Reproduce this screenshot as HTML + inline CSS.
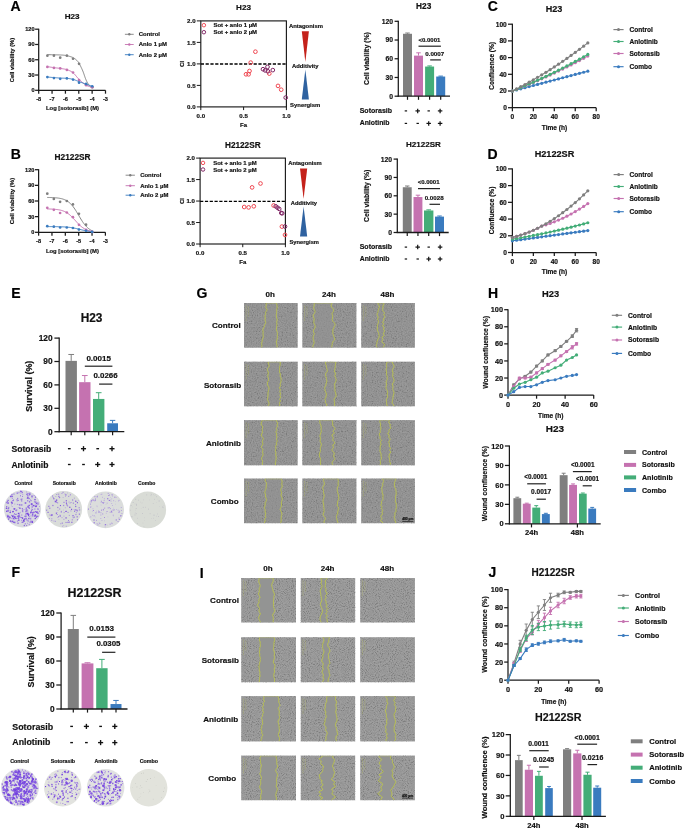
<!DOCTYPE html>
<html><head><meta charset="utf-8"><style>
html,body{margin:0;padding:0;background:#fff;}
svg{display:block;font-family:"Liberation Sans",sans-serif;filter:blur(0.35px);}
</style></head><body>
<svg width="685" height="829" viewBox="0 0 685 829">
<defs>
<filter id="nzG" x="0" y="0" width="100%" height="100%" filterUnits="objectBoundingBox">
 <feTurbulence type="fractalNoise" baseFrequency="0.8" numOctaves="2" seed="3" result="t"/>
 <feColorMatrix in="t" type="matrix" values="2 0 0 0 -0.5  2 0 0 0 -0.5  2 0 0 0 -0.5  0 0 0 0 1"/>
</filter>
<filter id="nzI" x="0" y="0" width="100%" height="100%" filterUnits="objectBoundingBox">
 <feTurbulence type="fractalNoise" baseFrequency="0.93" numOctaves="2" seed="9" result="t"/>
 <feColorMatrix in="t" type="matrix" values="2.4 0 0 0 -0.7  2.4 0 0 0 -0.7  2.4 0 0 0 -0.7  0 0 0 0 1"/>
</filter>
</defs>
<text x="10.60" y="11.40" font-size="14.00" font-weight="bold" text-anchor="start" fill="#000" stroke="#000" stroke-width="0.18">A</text>
<text x="10.80" y="159.00" font-size="14.00" font-weight="bold" text-anchor="start" fill="#000" stroke="#000" stroke-width="0.18">B</text>
<text x="487.80" y="11.40" font-size="14.00" font-weight="bold" text-anchor="start" fill="#000" stroke="#000" stroke-width="0.18">C</text>
<text x="487.60" y="158.90" font-size="14.00" font-weight="bold" text-anchor="start" fill="#000" stroke="#000" stroke-width="0.18">D</text>
<text x="11.20" y="297.90" font-size="14.00" font-weight="bold" text-anchor="start" fill="#000" stroke="#000" stroke-width="0.18">E</text>
<text x="11.60" y="577.00" font-size="14.00" font-weight="bold" text-anchor="start" fill="#000" stroke="#000" stroke-width="0.18">F</text>
<text x="196.60" y="297.60" font-size="14.00" font-weight="bold" text-anchor="start" fill="#000" stroke="#000" stroke-width="0.18">G</text>
<text x="488.00" y="298.30" font-size="14.00" font-weight="bold" text-anchor="start" fill="#000" stroke="#000" stroke-width="0.18">H</text>
<text x="199.80" y="577.50" font-size="14.00" font-weight="bold" text-anchor="start" fill="#000" stroke="#000" stroke-width="0.18">I</text>
<text x="488.60" y="577.30" font-size="14.00" font-weight="bold" text-anchor="start" fill="#000" stroke="#000" stroke-width="0.18">J</text>
<text x="72.10" y="19.00" font-size="8.12" font-weight="bold" text-anchor="middle" fill="#111" stroke="#111" stroke-width="0.18">H23</text>
<line x1="38.70" y1="28.70" x2="38.70" y2="90.80" stroke="#1a1a1a" stroke-width="1.25" stroke-linecap="butt"/>
<line x1="35.10" y1="90.30" x2="38.70" y2="90.30" stroke="#1a1a1a" stroke-width="1.25" stroke-linecap="butt"/>
<text x="34.50" y="92.32" font-size="5.60" font-weight="bold" text-anchor="end" fill="#111" stroke="#111" stroke-width="0.18">0</text>
<line x1="35.10" y1="75.02" x2="38.70" y2="75.02" stroke="#1a1a1a" stroke-width="1.25" stroke-linecap="butt"/>
<text x="34.50" y="77.04" font-size="5.60" font-weight="bold" text-anchor="end" fill="#111" stroke="#111" stroke-width="0.18">30</text>
<line x1="35.10" y1="59.75" x2="38.70" y2="59.75" stroke="#1a1a1a" stroke-width="1.25" stroke-linecap="butt"/>
<text x="34.50" y="61.77" font-size="5.60" font-weight="bold" text-anchor="end" fill="#111" stroke="#111" stroke-width="0.18">60</text>
<line x1="35.10" y1="44.48" x2="38.70" y2="44.48" stroke="#1a1a1a" stroke-width="1.25" stroke-linecap="butt"/>
<text x="34.50" y="46.49" font-size="5.60" font-weight="bold" text-anchor="end" fill="#111" stroke="#111" stroke-width="0.18">90</text>
<line x1="35.10" y1="29.20" x2="38.70" y2="29.20" stroke="#1a1a1a" stroke-width="1.25" stroke-linecap="butt"/>
<text x="34.50" y="31.22" font-size="5.60" font-weight="bold" text-anchor="end" fill="#111" stroke="#111" stroke-width="0.18">120</text>
<line x1="38.20" y1="90.30" x2="105.50" y2="90.30" stroke="#1a1a1a" stroke-width="1.25" stroke-linecap="butt"/>
<line x1="38.70" y1="90.30" x2="38.70" y2="93.70" stroke="#1a1a1a" stroke-width="1.25" stroke-linecap="butt"/>
<text x="38.70" y="100.90" font-size="5.60" font-weight="bold" text-anchor="middle" fill="#111" stroke="#111" stroke-width="0.18">-8</text>
<line x1="52.06" y1="90.30" x2="52.06" y2="93.70" stroke="#1a1a1a" stroke-width="1.25" stroke-linecap="butt"/>
<text x="52.06" y="100.90" font-size="5.60" font-weight="bold" text-anchor="middle" fill="#111" stroke="#111" stroke-width="0.18">-7</text>
<line x1="65.42" y1="90.30" x2="65.42" y2="93.70" stroke="#1a1a1a" stroke-width="1.25" stroke-linecap="butt"/>
<text x="65.42" y="100.90" font-size="5.60" font-weight="bold" text-anchor="middle" fill="#111" stroke="#111" stroke-width="0.18">-6</text>
<line x1="78.78" y1="90.30" x2="78.78" y2="93.70" stroke="#1a1a1a" stroke-width="1.25" stroke-linecap="butt"/>
<text x="78.78" y="100.90" font-size="5.60" font-weight="bold" text-anchor="middle" fill="#111" stroke="#111" stroke-width="0.18">-5</text>
<line x1="92.14" y1="90.30" x2="92.14" y2="93.70" stroke="#1a1a1a" stroke-width="1.25" stroke-linecap="butt"/>
<text x="92.14" y="100.90" font-size="5.60" font-weight="bold" text-anchor="middle" fill="#111" stroke="#111" stroke-width="0.18">-4</text>
<line x1="105.50" y1="90.30" x2="105.50" y2="93.70" stroke="#1a1a1a" stroke-width="1.25" stroke-linecap="butt"/>
<text x="105.50" y="100.90" font-size="5.60" font-weight="bold" text-anchor="middle" fill="#111" stroke="#111" stroke-width="0.18">-3</text>
<text x="72.50" y="110.20" font-size="5.85" font-weight="bold" text-anchor="middle" fill="#111" stroke="#111" stroke-width="0.18">Log [sotorasib] (M)</text>
<text x="14.30" y="60.00" font-size="5.90" font-weight="bold" text-anchor="middle" fill="#111" stroke="#111" stroke-width="0.18" transform="rotate(-90 14.30 60.00)" textLength="44.40" lengthAdjust="spacingAndGlyphs">Cell viability (%)</text>
<path d="M47.38,54.66 L48.08,54.67 L49.00,54.69 L50.10,54.71 L51.33,54.73 L52.64,54.75 L53.99,54.78 L55.32,54.81 L56.59,54.84 L57.74,54.88 L58.74,54.91 L59.60,54.95 L60.38,54.98 L61.09,55.01 L61.75,55.04 L62.37,55.07 L62.97,55.11 L63.56,55.17 L64.16,55.23 L64.77,55.32 L65.42,55.42 L66.10,55.55 L66.80,55.68 L67.51,55.84 L68.22,56.01 L68.93,56.19 L69.62,56.38 L70.29,56.57 L70.94,56.78 L71.54,56.99 L72.10,57.20 L72.61,57.42 L73.09,57.65 L73.53,57.88 L73.95,58.12 L74.34,58.37 L74.71,58.62 L75.07,58.89 L75.42,59.16 L75.76,59.45 L76.11,59.75 L76.44,60.05 L76.75,60.33 L77.04,60.62 L77.32,60.91 L77.59,61.21 L77.87,61.55 L78.14,61.91 L78.43,62.32 L78.73,62.79 L79.05,63.31 L79.39,63.91 L79.75,64.56 L80.12,65.26 L80.51,66.00 L80.89,66.78 L81.28,67.59 L81.67,68.42 L82.05,69.26 L82.43,70.11 L82.79,70.95 L83.14,71.82 L83.48,72.74 L83.82,73.70 L84.15,74.68 L84.48,75.66 L84.81,76.63 L85.14,77.58 L85.47,78.49 L85.80,79.34 L86.13,80.12 L86.47,80.84 L86.81,81.52 L87.15,82.17 L87.50,82.78 L87.84,83.36 L88.18,83.90 L88.52,84.41 L88.84,84.88 L89.16,85.32 L89.47,85.72 L89.77,86.07 L90.09,86.39 L90.40,86.65 L90.71,86.89 L91.01,87.09 L91.30,87.26 L91.56,87.41 L91.79,87.53 L91.98,87.65 L92.14,87.75" stroke="#7f7f7f" stroke-width="0.95" fill="none"/>
<circle cx="47.38" cy="55.68" r="1.35" fill="#7f7f7f"/>
<circle cx="53.93" cy="55.68" r="1.35" fill="#7f7f7f"/>
<circle cx="60.21" cy="57.71" r="1.35" fill="#7f7f7f"/>
<circle cx="66.89" cy="55.68" r="1.35" fill="#7f7f7f"/>
<circle cx="73.04" cy="58.73" r="1.35" fill="#7f7f7f"/>
<circle cx="79.05" cy="63.82" r="1.35" fill="#7f7f7f"/>
<circle cx="86.13" cy="84.70" r="1.35" fill="#7f7f7f"/>
<circle cx="92.27" cy="87.25" r="1.35" fill="#7f7f7f"/>
<path d="M47.38,66.62 L47.77,66.69 L48.28,66.77 L48.88,66.86 L49.54,66.97 L50.26,67.09 L51.02,67.20 L51.78,67.32 L52.53,67.44 L53.26,67.55 L53.93,67.64 L54.57,67.73 L55.20,67.80 L55.82,67.87 L56.44,67.94 L57.06,68.01 L57.68,68.08 L58.30,68.15 L58.93,68.22 L59.57,68.31 L60.21,68.41 L60.86,68.50 L61.53,68.60 L62.20,68.69 L62.88,68.79 L63.56,68.90 L64.24,69.02 L64.91,69.15 L65.58,69.30 L66.24,69.48 L66.89,69.68 L67.53,69.90 L68.16,70.12 L68.78,70.35 L69.39,70.60 L70.00,70.87 L70.61,71.17 L71.22,71.50 L71.82,71.87 L72.43,72.28 L73.04,72.73 L73.64,73.25 L74.23,73.84 L74.81,74.48 L75.40,75.16 L75.98,75.87 L76.57,76.59 L77.17,77.31 L77.78,78.02 L78.40,78.71 L79.05,79.35 L79.72,79.99 L80.41,80.63 L81.13,81.29 L81.85,81.93 L82.59,82.57 L83.32,83.18 L84.05,83.76 L84.76,84.29 L85.46,84.78 L86.13,85.21 L86.80,85.58 L87.49,85.89 L88.20,86.16 L88.90,86.40 L89.58,86.59 L90.22,86.76 L90.81,86.90 L91.34,87.03 L91.79,87.14 L92.14,87.25" stroke="#c572b0" stroke-width="0.95" fill="none"/>
<circle cx="47.38" cy="66.88" r="1.35" fill="#c572b0"/>
<circle cx="53.93" cy="67.90" r="1.35" fill="#c572b0"/>
<circle cx="60.21" cy="68.41" r="1.35" fill="#c572b0"/>
<circle cx="66.89" cy="69.93" r="1.35" fill="#c572b0"/>
<circle cx="73.04" cy="72.48" r="1.35" fill="#c572b0"/>
<circle cx="79.05" cy="80.12" r="1.35" fill="#c572b0"/>
<circle cx="86.13" cy="85.21" r="1.35" fill="#c572b0"/>
<circle cx="92.27" cy="87.25" r="1.35" fill="#c572b0"/>
<path d="M47.38,77.06 L47.77,77.09 L48.28,77.13 L48.88,77.18 L49.54,77.23 L50.26,77.28 L51.02,77.34 L51.78,77.40 L52.53,77.46 L53.26,77.52 L53.93,77.57 L54.57,77.62 L55.20,77.68 L55.82,77.73 L56.44,77.79 L57.06,77.84 L57.68,77.89 L58.30,77.95 L58.93,77.99 L59.57,78.04 L60.21,78.08 L60.86,78.11 L61.53,78.13 L62.20,78.15 L62.88,78.16 L63.56,78.18 L64.24,78.19 L64.91,78.21 L65.58,78.24 L66.24,78.28 L66.89,78.33 L67.53,78.40 L68.16,78.47 L68.78,78.54 L69.39,78.63 L70.00,78.72 L70.61,78.82 L71.22,78.93 L71.82,79.06 L72.43,79.20 L73.04,79.35 L73.64,79.53 L74.23,79.73 L74.81,79.94 L75.40,80.17 L75.98,80.40 L76.57,80.65 L77.17,80.90 L77.78,81.15 L78.40,81.40 L79.05,81.64 L79.72,81.89 L80.41,82.15 L81.13,82.41 L81.85,82.67 L82.59,82.93 L83.32,83.20 L84.05,83.46 L84.76,83.71 L85.46,83.95 L86.13,84.19 L86.80,84.42 L87.49,84.66 L88.20,84.90 L88.90,85.14 L89.58,85.37 L90.22,85.58 L90.81,85.78 L91.34,85.96 L91.79,86.11 L92.14,86.23" stroke="#3a7bbf" stroke-width="0.95" fill="none"/>
<circle cx="47.38" cy="77.06" r="1.35" fill="#3a7bbf"/>
<circle cx="53.93" cy="78.08" r="1.35" fill="#3a7bbf"/>
<circle cx="60.21" cy="78.79" r="1.35" fill="#3a7bbf"/>
<circle cx="66.89" cy="78.39" r="1.35" fill="#3a7bbf"/>
<circle cx="73.04" cy="79.61" r="1.35" fill="#3a7bbf"/>
<circle cx="79.05" cy="82.66" r="1.35" fill="#3a7bbf"/>
<circle cx="86.13" cy="83.94" r="1.35" fill="#3a7bbf"/>
<circle cx="92.27" cy="86.23" r="1.35" fill="#3a7bbf"/>
<line x1="124.90" y1="34.30" x2="133.70" y2="34.30" stroke="#7f7f7f" stroke-width="0.9" stroke-linecap="butt"/>
<circle cx="129.30" cy="34.30" r="1.20" fill="#7f7f7f"/>
<text x="138.80" y="36.20" font-size="5.95" font-weight="bold" text-anchor="start" fill="#111" stroke="#111" stroke-width="0.18">Control</text>
<line x1="124.90" y1="44.50" x2="133.70" y2="44.50" stroke="#c572b0" stroke-width="0.9" stroke-linecap="butt"/>
<circle cx="129.30" cy="44.50" r="1.20" fill="#c572b0"/>
<text x="138.80" y="46.40" font-size="5.95" font-weight="bold" text-anchor="start" fill="#111" stroke="#111" stroke-width="0.18">Anlo 1 µM</text>
<line x1="124.90" y1="54.70" x2="133.70" y2="54.70" stroke="#3a7bbf" stroke-width="0.9" stroke-linecap="butt"/>
<circle cx="129.30" cy="54.70" r="1.20" fill="#3a7bbf"/>
<text x="138.80" y="56.60" font-size="5.95" font-weight="bold" text-anchor="start" fill="#111" stroke="#111" stroke-width="0.18">Anlo 2 µM</text>
<text x="72.60" y="159.60" font-size="8.30" font-weight="bold" text-anchor="middle" fill="#111" stroke="#111" stroke-width="0.18">H2122SR</text>
<line x1="38.60" y1="169.20" x2="38.60" y2="232.80" stroke="#1a1a1a" stroke-width="1.25" stroke-linecap="butt"/>
<line x1="35.00" y1="232.30" x2="38.60" y2="232.30" stroke="#1a1a1a" stroke-width="1.25" stroke-linecap="butt"/>
<text x="34.40" y="234.32" font-size="5.60" font-weight="bold" text-anchor="end" fill="#111" stroke="#111" stroke-width="0.18">0</text>
<line x1="35.00" y1="216.65" x2="38.60" y2="216.65" stroke="#1a1a1a" stroke-width="1.25" stroke-linecap="butt"/>
<text x="34.40" y="218.67" font-size="5.60" font-weight="bold" text-anchor="end" fill="#111" stroke="#111" stroke-width="0.18">30</text>
<line x1="35.00" y1="201.00" x2="38.60" y2="201.00" stroke="#1a1a1a" stroke-width="1.25" stroke-linecap="butt"/>
<text x="34.40" y="203.02" font-size="5.60" font-weight="bold" text-anchor="end" fill="#111" stroke="#111" stroke-width="0.18">60</text>
<line x1="35.00" y1="185.35" x2="38.60" y2="185.35" stroke="#1a1a1a" stroke-width="1.25" stroke-linecap="butt"/>
<text x="34.40" y="187.37" font-size="5.60" font-weight="bold" text-anchor="end" fill="#111" stroke="#111" stroke-width="0.18">90</text>
<line x1="35.00" y1="169.70" x2="38.60" y2="169.70" stroke="#1a1a1a" stroke-width="1.25" stroke-linecap="butt"/>
<text x="34.40" y="171.72" font-size="5.60" font-weight="bold" text-anchor="end" fill="#111" stroke="#111" stroke-width="0.18">120</text>
<line x1="38.10" y1="232.30" x2="105.40" y2="232.30" stroke="#1a1a1a" stroke-width="1.25" stroke-linecap="butt"/>
<line x1="38.60" y1="232.30" x2="38.60" y2="235.70" stroke="#1a1a1a" stroke-width="1.25" stroke-linecap="butt"/>
<text x="38.60" y="242.90" font-size="5.60" font-weight="bold" text-anchor="middle" fill="#111" stroke="#111" stroke-width="0.18">-8</text>
<line x1="51.96" y1="232.30" x2="51.96" y2="235.70" stroke="#1a1a1a" stroke-width="1.25" stroke-linecap="butt"/>
<text x="51.96" y="242.90" font-size="5.60" font-weight="bold" text-anchor="middle" fill="#111" stroke="#111" stroke-width="0.18">-7</text>
<line x1="65.32" y1="232.30" x2="65.32" y2="235.70" stroke="#1a1a1a" stroke-width="1.25" stroke-linecap="butt"/>
<text x="65.32" y="242.90" font-size="5.60" font-weight="bold" text-anchor="middle" fill="#111" stroke="#111" stroke-width="0.18">-6</text>
<line x1="78.68" y1="232.30" x2="78.68" y2="235.70" stroke="#1a1a1a" stroke-width="1.25" stroke-linecap="butt"/>
<text x="78.68" y="242.90" font-size="5.60" font-weight="bold" text-anchor="middle" fill="#111" stroke="#111" stroke-width="0.18">-5</text>
<line x1="92.04" y1="232.30" x2="92.04" y2="235.70" stroke="#1a1a1a" stroke-width="1.25" stroke-linecap="butt"/>
<text x="92.04" y="242.90" font-size="5.60" font-weight="bold" text-anchor="middle" fill="#111" stroke="#111" stroke-width="0.18">-4</text>
<line x1="105.40" y1="232.30" x2="105.40" y2="235.70" stroke="#1a1a1a" stroke-width="1.25" stroke-linecap="butt"/>
<text x="105.40" y="242.90" font-size="5.60" font-weight="bold" text-anchor="middle" fill="#111" stroke="#111" stroke-width="0.18">-3</text>
<text x="72.40" y="252.60" font-size="5.85" font-weight="bold" text-anchor="middle" fill="#111" stroke="#111" stroke-width="0.18">Log [sotorasib] (M)</text>
<text x="13.80" y="201.00" font-size="6.10" font-weight="bold" text-anchor="middle" fill="#111" stroke="#111" stroke-width="0.18" transform="rotate(-90 13.80 201.00)" textLength="46.30" lengthAdjust="spacingAndGlyphs">Cell viability (%)</text>
<path d="M47.28,197.44 L48.03,197.46 L48.78,197.47 L49.52,197.49 L50.27,197.51 L51.01,197.54 L51.76,197.57 L52.51,197.60 L53.25,197.64 L54.00,197.68 L54.74,197.73 L55.49,197.79 L56.24,197.85 L56.98,197.93 L57.73,198.01 L58.47,198.11 L59.22,198.23 L59.96,198.36 L60.71,198.50 L61.46,198.67 L62.20,198.86 L62.95,199.08 L63.69,199.33 L64.44,199.62 L65.19,199.94 L65.93,200.30 L66.68,200.70 L67.42,201.16 L68.17,201.67 L68.92,202.23 L69.66,202.86 L70.41,203.56 L71.15,204.32 L71.90,205.15 L72.65,206.04 L73.39,207.01 L74.14,208.04 L74.88,209.13 L75.63,210.28 L76.38,211.48 L77.12,212.71 L77.87,213.96 L78.61,215.23 L79.36,216.50 L80.11,217.76 L80.85,219.00 L81.60,220.20 L82.34,221.36 L83.09,222.46 L83.83,223.50 L84.58,224.48 L85.33,225.39 L86.07,226.23 L86.82,227.00 L87.56,227.71 L88.31,228.35 L89.06,228.93 L89.80,229.45 L90.55,229.91 L91.29,230.33 L92.04,230.69" stroke="#7f7f7f" stroke-width="0.95" fill="none"/>
<circle cx="47.28" cy="193.70" r="1.35" fill="#7f7f7f"/>
<circle cx="53.83" cy="198.91" r="1.35" fill="#7f7f7f"/>
<circle cx="60.11" cy="201.78" r="1.35" fill="#7f7f7f"/>
<circle cx="66.79" cy="201.00" r="1.35" fill="#7f7f7f"/>
<circle cx="72.94" cy="204.39" r="1.35" fill="#7f7f7f"/>
<circle cx="78.95" cy="213.78" r="1.35" fill="#7f7f7f"/>
<circle cx="86.03" cy="224.68" r="1.35" fill="#7f7f7f"/>
<circle cx="92.17" cy="231.88" r="1.35" fill="#7f7f7f"/>
<path d="M47.28,208.94 L48.03,208.96 L48.78,208.98 L49.52,209.00 L50.27,209.03 L51.01,209.06 L51.76,209.09 L52.51,209.13 L53.25,209.18 L54.00,209.23 L54.74,209.29 L55.49,209.36 L56.24,209.44 L56.98,209.53 L57.73,209.63 L58.47,209.75 L59.22,209.88 L59.96,210.03 L60.71,210.20 L61.46,210.40 L62.20,210.62 L62.95,210.87 L63.69,211.15 L64.44,211.46 L65.19,211.81 L65.93,212.20 L66.68,212.63 L67.42,213.10 L68.17,213.62 L68.92,214.18 L69.66,214.79 L70.41,215.44 L71.15,216.13 L71.90,216.87 L72.65,217.63 L73.39,218.42 L74.14,219.23 L74.88,220.05 L75.63,220.88 L76.38,221.71 L77.12,222.53 L77.87,223.32 L78.61,224.09 L79.36,224.83 L80.11,225.53 L80.85,226.19 L81.60,226.81 L82.34,227.38 L83.09,227.91 L83.83,228.39 L84.58,228.83 L85.33,229.23 L86.07,229.59 L86.82,229.91 L87.56,230.19 L88.31,230.45 L89.06,230.68 L89.80,230.88 L90.55,231.06 L91.29,231.21 L92.04,231.35" stroke="#c572b0" stroke-width="0.95" fill="none"/>
<circle cx="47.28" cy="207.78" r="1.35" fill="#c572b0"/>
<circle cx="53.83" cy="209.87" r="1.35" fill="#c572b0"/>
<circle cx="60.11" cy="213.00" r="1.35" fill="#c572b0"/>
<circle cx="66.79" cy="212.48" r="1.35" fill="#c572b0"/>
<circle cx="72.94" cy="217.17" r="1.35" fill="#c572b0"/>
<circle cx="78.95" cy="224.79" r="1.35" fill="#c572b0"/>
<circle cx="86.03" cy="229.90" r="1.35" fill="#c572b0"/>
<circle cx="92.17" cy="231.88" r="1.35" fill="#c572b0"/>
<path d="M47.28,226.58 L48.03,226.58 L48.78,226.59 L49.52,226.59 L50.27,226.60 L51.01,226.60 L51.76,226.61 L52.51,226.61 L53.25,226.62 L54.00,226.63 L54.74,226.63 L55.49,226.64 L56.24,226.66 L56.98,226.67 L57.73,226.68 L58.47,226.70 L59.22,226.72 L59.96,226.74 L60.71,226.76 L61.46,226.79 L62.20,226.82 L62.95,226.85 L63.69,226.89 L64.44,226.93 L65.19,226.98 L65.93,227.03 L66.68,227.09 L67.42,227.15 L68.17,227.22 L68.92,227.30 L69.66,227.39 L70.41,227.48 L71.15,227.59 L71.90,227.70 L72.65,227.82 L73.39,227.95 L74.14,228.09 L74.88,228.24 L75.63,228.40 L76.38,228.56 L77.12,228.73 L77.87,228.91 L78.61,229.09 L79.36,229.27 L80.11,229.45 L80.85,229.64 L81.60,229.82 L82.34,230.00 L83.09,230.17 L83.83,230.34 L84.58,230.50 L85.33,230.66 L86.07,230.81 L86.82,230.94 L87.56,231.07 L88.31,231.19 L89.06,231.30 L89.80,231.40 L90.55,231.50 L91.29,231.58 L92.04,231.66" stroke="#3a7bbf" stroke-width="0.95" fill="none"/>
<circle cx="47.28" cy="226.20" r="1.35" fill="#3a7bbf"/>
<circle cx="53.83" cy="226.72" r="1.35" fill="#3a7bbf"/>
<circle cx="60.11" cy="227.50" r="1.35" fill="#3a7bbf"/>
<circle cx="66.79" cy="227.50" r="1.35" fill="#3a7bbf"/>
<circle cx="72.94" cy="228.02" r="1.35" fill="#3a7bbf"/>
<circle cx="78.95" cy="229.59" r="1.35" fill="#3a7bbf"/>
<circle cx="86.03" cy="230.74" r="1.35" fill="#3a7bbf"/>
<circle cx="92.17" cy="231.88" r="1.35" fill="#3a7bbf"/>
<line x1="125.60" y1="175.20" x2="134.90" y2="175.20" stroke="#7f7f7f" stroke-width="0.9" stroke-linecap="butt"/>
<circle cx="130.25" cy="175.20" r="1.20" fill="#7f7f7f"/>
<text x="140.20" y="177.10" font-size="5.95" font-weight="bold" text-anchor="start" fill="#111" stroke="#111" stroke-width="0.18">Control</text>
<line x1="125.60" y1="185.70" x2="134.90" y2="185.70" stroke="#c572b0" stroke-width="0.9" stroke-linecap="butt"/>
<circle cx="130.25" cy="185.70" r="1.20" fill="#c572b0"/>
<text x="140.20" y="187.60" font-size="5.95" font-weight="bold" text-anchor="start" fill="#111" stroke="#111" stroke-width="0.18">Anlo 1 µM</text>
<line x1="125.60" y1="195.20" x2="134.90" y2="195.20" stroke="#3a7bbf" stroke-width="0.9" stroke-linecap="butt"/>
<circle cx="130.25" cy="195.20" r="1.20" fill="#3a7bbf"/>
<text x="140.20" y="197.10" font-size="5.95" font-weight="bold" text-anchor="start" fill="#111" stroke="#111" stroke-width="0.18">Anlo 2 µM</text>
<text x="243.50" y="9.90" font-size="8.12" font-weight="bold" text-anchor="middle" fill="#111" stroke="#111" stroke-width="0.18">H23</text>
<rect x="200.80" y="20.90" width="85.60" height="86.00" fill="none" stroke="#1a1a1a" stroke-width="1.15"/>
<line x1="196.80" y1="106.90" x2="200.80" y2="106.90" stroke="#1a1a1a" stroke-width="1.0" stroke-linecap="butt"/>
<text x="195.60" y="109.10" font-size="6.10" font-weight="bold" text-anchor="end" fill="#111" stroke="#111" stroke-width="0.18">0.0</text>
<line x1="196.80" y1="85.40" x2="200.80" y2="85.40" stroke="#1a1a1a" stroke-width="1.0" stroke-linecap="butt"/>
<text x="195.60" y="87.60" font-size="6.10" font-weight="bold" text-anchor="end" fill="#111" stroke="#111" stroke-width="0.18">0.5</text>
<line x1="196.80" y1="63.90" x2="200.80" y2="63.90" stroke="#1a1a1a" stroke-width="1.0" stroke-linecap="butt"/>
<text x="195.60" y="66.10" font-size="6.10" font-weight="bold" text-anchor="end" fill="#111" stroke="#111" stroke-width="0.18">1.0</text>
<line x1="196.80" y1="42.40" x2="200.80" y2="42.40" stroke="#1a1a1a" stroke-width="1.0" stroke-linecap="butt"/>
<text x="195.60" y="44.60" font-size="6.10" font-weight="bold" text-anchor="end" fill="#111" stroke="#111" stroke-width="0.18">1.5</text>
<line x1="196.80" y1="20.90" x2="200.80" y2="20.90" stroke="#1a1a1a" stroke-width="1.0" stroke-linecap="butt"/>
<text x="195.60" y="23.10" font-size="6.10" font-weight="bold" text-anchor="end" fill="#111" stroke="#111" stroke-width="0.18">2.0</text>
<line x1="200.80" y1="106.90" x2="200.80" y2="110.10" stroke="#1a1a1a" stroke-width="1.0" stroke-linecap="butt"/>
<text x="200.80" y="117.70" font-size="6.10" font-weight="bold" text-anchor="middle" fill="#111" stroke="#111" stroke-width="0.18">0.0</text>
<line x1="243.60" y1="106.90" x2="243.60" y2="110.10" stroke="#1a1a1a" stroke-width="1.0" stroke-linecap="butt"/>
<text x="243.60" y="117.70" font-size="6.10" font-weight="bold" text-anchor="middle" fill="#111" stroke="#111" stroke-width="0.18">0.5</text>
<line x1="286.40" y1="106.90" x2="286.40" y2="110.10" stroke="#1a1a1a" stroke-width="1.0" stroke-linecap="butt"/>
<text x="286.40" y="117.70" font-size="6.10" font-weight="bold" text-anchor="middle" fill="#111" stroke="#111" stroke-width="0.18">1.0</text>
<text x="184.30" y="63.90" font-size="6.00" font-weight="bold" text-anchor="middle" fill="#111" stroke="#111" stroke-width="0.18" transform="rotate(-90 184.30 63.90)">CI</text>
<text x="243.60" y="127.30" font-size="6.00" font-weight="bold" text-anchor="middle" fill="#111" stroke="#111" stroke-width="0.18">Fa</text>
<line x1="200.80" y1="64.00" x2="286.40" y2="64.00" stroke="#000" stroke-width="1.4" stroke-linecap="butt" stroke-dasharray="3.2,1.6"/>
<circle cx="246.00" cy="74.30" r="1.85" fill="none" stroke="#ee4650" stroke-width="1.0"/>
<circle cx="248.60" cy="74.30" r="1.85" fill="none" stroke="#ee4650" stroke-width="1.0"/>
<circle cx="249.50" cy="71.00" r="1.85" fill="none" stroke="#ee4650" stroke-width="1.0"/>
<circle cx="250.70" cy="62.60" r="1.85" fill="none" stroke="#ee4650" stroke-width="1.0"/>
<circle cx="255.40" cy="51.70" r="1.85" fill="none" stroke="#ee4650" stroke-width="1.0"/>
<circle cx="269.30" cy="73.60" r="1.85" fill="none" stroke="#ee4650" stroke-width="1.0"/>
<circle cx="278.00" cy="85.90" r="1.85" fill="none" stroke="#ee4650" stroke-width="1.0"/>
<circle cx="281.20" cy="89.70" r="1.85" fill="none" stroke="#ee4650" stroke-width="1.0"/>
<circle cx="263.00" cy="69.20" r="1.85" fill="none" stroke="#7e2262" stroke-width="1.0"/>
<circle cx="265.20" cy="70.40" r="1.85" fill="none" stroke="#7e2262" stroke-width="1.0"/>
<circle cx="267.50" cy="66.90" r="1.85" fill="none" stroke="#7e2262" stroke-width="1.0"/>
<circle cx="267.90" cy="71.30" r="1.85" fill="none" stroke="#7e2262" stroke-width="1.0"/>
<circle cx="272.80" cy="70.10" r="1.85" fill="none" stroke="#7e2262" stroke-width="1.0"/>
<circle cx="285.70" cy="97.60" r="1.85" fill="none" stroke="#7e2262" stroke-width="1.0"/>
<circle cx="203.90" cy="25.20" r="1.75" fill="none" stroke="#ee4650" stroke-width="0.95"/>
<circle cx="203.90" cy="32.20" r="1.75" fill="none" stroke="#7e2262" stroke-width="0.95"/>
<text x="213.50" y="27.30" font-size="5.94" font-weight="bold" text-anchor="start" fill="#111" stroke="#111" stroke-width="0.18">Sot + anlo 1 µM</text>
<text x="213.50" y="34.30" font-size="5.94" font-weight="bold" text-anchor="start" fill="#111" stroke="#111" stroke-width="0.18">Sot + anlo 2 µM</text>
<text x="288.90" y="28.00" font-size="5.90" font-weight="bold" text-anchor="start" fill="#111" stroke="#111" stroke-width="0.18">Antagonism</text>
<path d="M301.8,31.3 L308.9,31.3 L305.35,61.9 Z" stroke="none" stroke-width="1.0" fill="#c4221b"/>
<text x="292.00" y="67.60" font-size="5.84" font-weight="bold" text-anchor="start" fill="#111" stroke="#111" stroke-width="0.18">Additivity</text>
<path d="M305.35,69.5 L308.9,99.6 L301.8,99.6 Z" stroke="none" stroke-width="1.0" fill="#2f62a0"/>
<text x="290.10" y="106.80" font-size="5.91" font-weight="bold" text-anchor="start" fill="#111" stroke="#111" stroke-width="0.18">Synergism</text>
<text x="242.80" y="147.50" font-size="8.23" font-weight="bold" text-anchor="middle" fill="#111" stroke="#111" stroke-width="0.18">H2122SR</text>
<rect x="200.10" y="158.10" width="85.30" height="85.90" fill="none" stroke="#1a1a1a" stroke-width="1.15"/>
<line x1="196.10" y1="244.00" x2="200.10" y2="244.00" stroke="#1a1a1a" stroke-width="1.0" stroke-linecap="butt"/>
<text x="194.90" y="246.20" font-size="6.10" font-weight="bold" text-anchor="end" fill="#111" stroke="#111" stroke-width="0.18">0.0</text>
<line x1="196.10" y1="222.53" x2="200.10" y2="222.53" stroke="#1a1a1a" stroke-width="1.0" stroke-linecap="butt"/>
<text x="194.90" y="224.72" font-size="6.10" font-weight="bold" text-anchor="end" fill="#111" stroke="#111" stroke-width="0.18">0.5</text>
<line x1="196.10" y1="201.05" x2="200.10" y2="201.05" stroke="#1a1a1a" stroke-width="1.0" stroke-linecap="butt"/>
<text x="194.90" y="203.25" font-size="6.10" font-weight="bold" text-anchor="end" fill="#111" stroke="#111" stroke-width="0.18">1.0</text>
<line x1="196.10" y1="179.57" x2="200.10" y2="179.57" stroke="#1a1a1a" stroke-width="1.0" stroke-linecap="butt"/>
<text x="194.90" y="181.77" font-size="6.10" font-weight="bold" text-anchor="end" fill="#111" stroke="#111" stroke-width="0.18">1.5</text>
<line x1="196.10" y1="158.10" x2="200.10" y2="158.10" stroke="#1a1a1a" stroke-width="1.0" stroke-linecap="butt"/>
<text x="194.90" y="160.30" font-size="6.10" font-weight="bold" text-anchor="end" fill="#111" stroke="#111" stroke-width="0.18">2.0</text>
<line x1="200.10" y1="244.00" x2="200.10" y2="247.20" stroke="#1a1a1a" stroke-width="1.0" stroke-linecap="butt"/>
<text x="200.10" y="254.80" font-size="6.10" font-weight="bold" text-anchor="middle" fill="#111" stroke="#111" stroke-width="0.18">0.0</text>
<line x1="242.75" y1="244.00" x2="242.75" y2="247.20" stroke="#1a1a1a" stroke-width="1.0" stroke-linecap="butt"/>
<text x="242.75" y="254.80" font-size="6.10" font-weight="bold" text-anchor="middle" fill="#111" stroke="#111" stroke-width="0.18">0.5</text>
<line x1="285.40" y1="244.00" x2="285.40" y2="247.20" stroke="#1a1a1a" stroke-width="1.0" stroke-linecap="butt"/>
<text x="285.40" y="254.80" font-size="6.10" font-weight="bold" text-anchor="middle" fill="#111" stroke="#111" stroke-width="0.18">1.0</text>
<text x="184.00" y="201.05" font-size="6.00" font-weight="bold" text-anchor="middle" fill="#111" stroke="#111" stroke-width="0.18" transform="rotate(-90 184.00 201.05)">CI</text>
<text x="242.75" y="263.60" font-size="6.00" font-weight="bold" text-anchor="middle" fill="#111" stroke="#111" stroke-width="0.18">Fa</text>
<line x1="200.10" y1="201.40" x2="285.40" y2="201.40" stroke="#000" stroke-width="1.4" stroke-linecap="butt" stroke-dasharray="3.2,1.6"/>
<circle cx="244.20" cy="207.00" r="1.85" fill="none" stroke="#ee4650" stroke-width="1.0"/>
<circle cx="248.60" cy="207.40" r="1.85" fill="none" stroke="#ee4650" stroke-width="1.0"/>
<circle cx="253.80" cy="206.30" r="1.85" fill="none" stroke="#ee4650" stroke-width="1.0"/>
<circle cx="252.10" cy="187.40" r="1.85" fill="none" stroke="#ee4650" stroke-width="1.0"/>
<circle cx="260.50" cy="183.50" r="1.85" fill="none" stroke="#ee4650" stroke-width="1.0"/>
<circle cx="273.60" cy="205.50" r="1.85" fill="none" stroke="#ee4650" stroke-width="1.0"/>
<circle cx="281.90" cy="226.60" r="1.85" fill="none" stroke="#ee4650" stroke-width="1.0"/>
<circle cx="285.00" cy="234.90" r="1.85" fill="none" stroke="#ee4650" stroke-width="1.0"/>
<circle cx="275.70" cy="206.30" r="1.85" fill="none" stroke="#7e2262" stroke-width="1.0"/>
<circle cx="277.50" cy="207.70" r="1.85" fill="none" stroke="#7e2262" stroke-width="1.0"/>
<circle cx="279.20" cy="208.90" r="1.85" fill="none" stroke="#7e2262" stroke-width="1.0"/>
<circle cx="281.30" cy="213.00" r="1.85" fill="none" stroke="#7e2262" stroke-width="1.0"/>
<circle cx="282.20" cy="213.30" r="1.85" fill="none" stroke="#7e2262" stroke-width="1.0"/>
<circle cx="285.00" cy="226.50" r="1.85" fill="none" stroke="#7e2262" stroke-width="1.0"/>
<circle cx="203.00" cy="162.90" r="1.75" fill="none" stroke="#ee4650" stroke-width="0.95"/>
<circle cx="203.00" cy="169.50" r="1.75" fill="none" stroke="#7e2262" stroke-width="0.95"/>
<text x="213.20" y="165.00" font-size="5.94" font-weight="bold" text-anchor="start" fill="#111" stroke="#111" stroke-width="0.18">Sot + anlo 1 µM</text>
<text x="213.20" y="171.60" font-size="5.94" font-weight="bold" text-anchor="start" fill="#111" stroke="#111" stroke-width="0.18">Sot + anlo 2 µM</text>
<text x="288.20" y="165.30" font-size="5.82" font-weight="bold" text-anchor="start" fill="#111" stroke="#111" stroke-width="0.18">Antagonism</text>
<path d="M300.0,168.4 L307.2,168.4 L303.6,198.8 Z" stroke="none" stroke-width="1.0" fill="#c4221b"/>
<text x="290.80" y="204.70" font-size="5.75" font-weight="bold" text-anchor="start" fill="#111" stroke="#111" stroke-width="0.18">Additivity</text>
<path d="M303.6,206.4 L307.2,236.4 L300.0,236.4 Z" stroke="none" stroke-width="1.0" fill="#2f62a0"/>
<text x="289.50" y="243.50" font-size="5.77" font-weight="bold" text-anchor="start" fill="#111" stroke="#111" stroke-width="0.18">Synergism</text>
<text x="423.70" y="8.90" font-size="8.29" font-weight="bold" text-anchor="middle" fill="#111" stroke="#111" stroke-width="0.18">H23</text>
<line x1="407.50" y1="33.78" x2="407.50" y2="33.03" stroke="#7f7f7f" stroke-width="1.0" stroke-linecap="butt"/>
<line x1="405.25" y1="33.03" x2="409.75" y2="33.03" stroke="#7f7f7f" stroke-width="1.0" stroke-linecap="butt"/>
<rect x="403.00" y="33.78" width="9.00" height="62.42" fill="#7f7f7f"/>
<line x1="418.50" y1="55.63" x2="418.50" y2="52.82" stroke="#c572b0" stroke-width="1.0" stroke-linecap="butt"/>
<line x1="416.25" y1="52.82" x2="420.75" y2="52.82" stroke="#c572b0" stroke-width="1.0" stroke-linecap="butt"/>
<rect x="414.00" y="55.63" width="9.00" height="40.57" fill="#c572b0"/>
<line x1="429.60" y1="66.55" x2="429.60" y2="65.93" stroke="#44ad78" stroke-width="1.0" stroke-linecap="butt"/>
<line x1="427.35" y1="65.93" x2="431.85" y2="65.93" stroke="#44ad78" stroke-width="1.0" stroke-linecap="butt"/>
<rect x="425.10" y="66.55" width="9.00" height="29.65" fill="#44ad78"/>
<line x1="440.70" y1="76.54" x2="440.70" y2="76.10" stroke="#3a7bbf" stroke-width="1.0" stroke-linecap="butt"/>
<line x1="438.45" y1="76.10" x2="442.95" y2="76.10" stroke="#3a7bbf" stroke-width="1.0" stroke-linecap="butt"/>
<rect x="436.20" y="76.54" width="9.00" height="19.66" fill="#3a7bbf"/>
<line x1="398.30" y1="20.80" x2="398.30" y2="96.70" stroke="#1a1a1a" stroke-width="1.25" stroke-linecap="butt"/>
<line x1="394.60" y1="96.20" x2="398.30" y2="96.20" stroke="#1a1a1a" stroke-width="1.25" stroke-linecap="butt"/>
<text x="393.10" y="98.65" font-size="6.80" font-weight="bold" text-anchor="end" fill="#111" stroke="#111" stroke-width="0.18">0</text>
<line x1="394.60" y1="77.47" x2="398.30" y2="77.47" stroke="#1a1a1a" stroke-width="1.25" stroke-linecap="butt"/>
<text x="393.10" y="79.92" font-size="6.80" font-weight="bold" text-anchor="end" fill="#111" stroke="#111" stroke-width="0.18">30</text>
<line x1="394.60" y1="58.75" x2="398.30" y2="58.75" stroke="#1a1a1a" stroke-width="1.25" stroke-linecap="butt"/>
<text x="393.10" y="61.20" font-size="6.80" font-weight="bold" text-anchor="end" fill="#111" stroke="#111" stroke-width="0.18">60</text>
<line x1="394.60" y1="40.02" x2="398.30" y2="40.02" stroke="#1a1a1a" stroke-width="1.25" stroke-linecap="butt"/>
<text x="393.10" y="42.47" font-size="6.80" font-weight="bold" text-anchor="end" fill="#111" stroke="#111" stroke-width="0.18">90</text>
<line x1="394.60" y1="21.30" x2="398.30" y2="21.30" stroke="#1a1a1a" stroke-width="1.25" stroke-linecap="butt"/>
<text x="393.10" y="23.75" font-size="6.80" font-weight="bold" text-anchor="end" fill="#111" stroke="#111" stroke-width="0.18">120</text>
<line x1="397.70" y1="96.20" x2="450.00" y2="96.20" stroke="#1a1a1a" stroke-width="1.3" stroke-linecap="butt"/>
<line x1="407.50" y1="96.20" x2="407.50" y2="99.80" stroke="#1a1a1a" stroke-width="1.2" stroke-linecap="butt"/>
<line x1="418.50" y1="96.20" x2="418.50" y2="99.80" stroke="#1a1a1a" stroke-width="1.2" stroke-linecap="butt"/>
<line x1="429.60" y1="96.20" x2="429.60" y2="99.80" stroke="#1a1a1a" stroke-width="1.2" stroke-linecap="butt"/>
<line x1="440.70" y1="96.20" x2="440.70" y2="99.80" stroke="#1a1a1a" stroke-width="1.2" stroke-linecap="butt"/>
<text x="369.30" y="58.60" font-size="7.00" font-weight="bold" text-anchor="middle" fill="#111" stroke="#111" stroke-width="0.18" transform="rotate(-90 369.30 58.60)" textLength="53.00" lengthAdjust="spacingAndGlyphs">Cell viability (%)</text>
<text x="418.50" y="41.50" font-size="6.01" font-weight="bold" text-anchor="start" fill="#111" stroke="#111" stroke-width="0.18">&lt;0.0001</text>
<line x1="418.50" y1="46.20" x2="440.90" y2="46.20" stroke="#222" stroke-width="1.2" stroke-linecap="butt"/>
<text x="425.20" y="55.60" font-size="6.24" font-weight="bold" text-anchor="start" fill="#111" stroke="#111" stroke-width="0.18">0.0007</text>
<line x1="430.20" y1="59.90" x2="440.90" y2="59.90" stroke="#222" stroke-width="1.2" stroke-linecap="butt"/>
<text x="359.70" y="112.90" font-size="7.03" font-weight="bold" text-anchor="start" fill="#111" stroke="#111" stroke-width="0.18">Sotorasib</text>
<text x="359.70" y="125.00" font-size="6.88" font-weight="bold" text-anchor="start" fill="#111" stroke="#111" stroke-width="0.18">Anlotinib</text>
<line x1="404.70" y1="110.90" x2="407.10" y2="110.90" stroke="#111" stroke-width="1.2" stroke-linecap="butt"/>
<line x1="404.70" y1="123.40" x2="407.10" y2="123.40" stroke="#111" stroke-width="1.2" stroke-linecap="butt"/>
<line x1="415.45" y1="110.90" x2="419.95" y2="110.90" stroke="#111" stroke-width="1.2" stroke-linecap="butt"/>
<line x1="417.70" y1="108.65" x2="417.70" y2="113.15" stroke="#111" stroke-width="1.2" stroke-linecap="butt"/>
<line x1="416.50" y1="123.40" x2="418.90" y2="123.40" stroke="#111" stroke-width="1.2" stroke-linecap="butt"/>
<line x1="427.50" y1="110.90" x2="429.90" y2="110.90" stroke="#111" stroke-width="1.2" stroke-linecap="butt"/>
<line x1="426.45" y1="123.40" x2="430.95" y2="123.40" stroke="#111" stroke-width="1.2" stroke-linecap="butt"/>
<line x1="428.70" y1="121.15" x2="428.70" y2="125.65" stroke="#111" stroke-width="1.2" stroke-linecap="butt"/>
<line x1="437.85" y1="110.90" x2="442.35" y2="110.90" stroke="#111" stroke-width="1.2" stroke-linecap="butt"/>
<line x1="440.10" y1="108.65" x2="440.10" y2="113.15" stroke="#111" stroke-width="1.2" stroke-linecap="butt"/>
<line x1="437.85" y1="123.40" x2="442.35" y2="123.40" stroke="#111" stroke-width="1.2" stroke-linecap="butt"/>
<line x1="440.10" y1="121.15" x2="440.10" y2="125.65" stroke="#111" stroke-width="1.2" stroke-linecap="butt"/>
<text x="423.40" y="147.10" font-size="8.07" font-weight="bold" text-anchor="middle" fill="#111" stroke="#111" stroke-width="0.18">H2122SR</text>
<line x1="407.25" y1="187.24" x2="407.25" y2="186.01" stroke="#7f7f7f" stroke-width="1.0" stroke-linecap="butt"/>
<line x1="405.02" y1="186.01" x2="409.48" y2="186.01" stroke="#7f7f7f" stroke-width="1.0" stroke-linecap="butt"/>
<rect x="402.80" y="187.24" width="8.90" height="45.26" fill="#7f7f7f"/>
<line x1="417.95" y1="197.02" x2="417.95" y2="195.19" stroke="#c572b0" stroke-width="1.0" stroke-linecap="butt"/>
<line x1="415.73" y1="195.19" x2="420.17" y2="195.19" stroke="#c572b0" stroke-width="1.0" stroke-linecap="butt"/>
<rect x="413.50" y="197.02" width="8.90" height="35.48" fill="#c572b0"/>
<line x1="428.70" y1="210.48" x2="428.70" y2="209.87" stroke="#44ad78" stroke-width="1.0" stroke-linecap="butt"/>
<line x1="426.35" y1="209.87" x2="431.05" y2="209.87" stroke="#44ad78" stroke-width="1.0" stroke-linecap="butt"/>
<rect x="424.00" y="210.48" width="9.40" height="22.02" fill="#44ad78"/>
<line x1="439.50" y1="216.60" x2="439.50" y2="215.99" stroke="#3a7bbf" stroke-width="1.0" stroke-linecap="butt"/>
<line x1="437.25" y1="215.99" x2="441.75" y2="215.99" stroke="#3a7bbf" stroke-width="1.0" stroke-linecap="butt"/>
<rect x="435.00" y="216.60" width="9.00" height="15.90" fill="#3a7bbf"/>
<line x1="397.30" y1="158.60" x2="397.30" y2="233.00" stroke="#1a1a1a" stroke-width="1.25" stroke-linecap="butt"/>
<line x1="393.60" y1="232.50" x2="397.30" y2="232.50" stroke="#1a1a1a" stroke-width="1.25" stroke-linecap="butt"/>
<text x="392.10" y="234.95" font-size="6.80" font-weight="bold" text-anchor="end" fill="#111" stroke="#111" stroke-width="0.18">0</text>
<line x1="393.60" y1="214.15" x2="397.30" y2="214.15" stroke="#1a1a1a" stroke-width="1.25" stroke-linecap="butt"/>
<text x="392.10" y="216.60" font-size="6.80" font-weight="bold" text-anchor="end" fill="#111" stroke="#111" stroke-width="0.18">30</text>
<line x1="393.60" y1="195.80" x2="397.30" y2="195.80" stroke="#1a1a1a" stroke-width="1.25" stroke-linecap="butt"/>
<text x="392.10" y="198.25" font-size="6.80" font-weight="bold" text-anchor="end" fill="#111" stroke="#111" stroke-width="0.18">60</text>
<line x1="393.60" y1="177.45" x2="397.30" y2="177.45" stroke="#1a1a1a" stroke-width="1.25" stroke-linecap="butt"/>
<text x="392.10" y="179.90" font-size="6.80" font-weight="bold" text-anchor="end" fill="#111" stroke="#111" stroke-width="0.18">90</text>
<line x1="393.60" y1="159.10" x2="397.30" y2="159.10" stroke="#1a1a1a" stroke-width="1.25" stroke-linecap="butt"/>
<text x="392.10" y="161.55" font-size="6.80" font-weight="bold" text-anchor="end" fill="#111" stroke="#111" stroke-width="0.18">120</text>
<line x1="396.70" y1="232.50" x2="448.70" y2="232.50" stroke="#1a1a1a" stroke-width="1.3" stroke-linecap="butt"/>
<line x1="407.25" y1="232.50" x2="407.25" y2="236.10" stroke="#1a1a1a" stroke-width="1.2" stroke-linecap="butt"/>
<line x1="417.95" y1="232.50" x2="417.95" y2="236.10" stroke="#1a1a1a" stroke-width="1.2" stroke-linecap="butt"/>
<line x1="428.70" y1="232.50" x2="428.70" y2="236.10" stroke="#1a1a1a" stroke-width="1.2" stroke-linecap="butt"/>
<line x1="439.50" y1="232.50" x2="439.50" y2="236.10" stroke="#1a1a1a" stroke-width="1.2" stroke-linecap="butt"/>
<text x="369.50" y="195.80" font-size="7.00" font-weight="bold" text-anchor="middle" fill="#111" stroke="#111" stroke-width="0.18" transform="rotate(-90 369.50 195.80)" textLength="52.20" lengthAdjust="spacingAndGlyphs">Cell viability (%)</text>
<text x="417.70" y="183.60" font-size="6.01" font-weight="bold" text-anchor="start" fill="#111" stroke="#111" stroke-width="0.18">&lt;0.0001</text>
<line x1="418.00" y1="188.60" x2="440.00" y2="188.60" stroke="#222" stroke-width="1.2" stroke-linecap="butt"/>
<text x="424.70" y="199.90" font-size="6.18" font-weight="bold" text-anchor="start" fill="#111" stroke="#111" stroke-width="0.18">0.0028</text>
<line x1="429.50" y1="204.30" x2="440.00" y2="204.30" stroke="#222" stroke-width="1.2" stroke-linecap="butt"/>
<text x="359.70" y="249.10" font-size="7.03" font-weight="bold" text-anchor="start" fill="#111" stroke="#111" stroke-width="0.18">Sotorasib</text>
<text x="359.70" y="260.90" font-size="6.88" font-weight="bold" text-anchor="start" fill="#111" stroke="#111" stroke-width="0.18">Anlotinib</text>
<line x1="404.70" y1="247.10" x2="407.10" y2="247.10" stroke="#111" stroke-width="1.2" stroke-linecap="butt"/>
<line x1="404.70" y1="259.00" x2="407.10" y2="259.00" stroke="#111" stroke-width="1.2" stroke-linecap="butt"/>
<line x1="415.45" y1="247.10" x2="419.95" y2="247.10" stroke="#111" stroke-width="1.2" stroke-linecap="butt"/>
<line x1="417.70" y1="244.85" x2="417.70" y2="249.35" stroke="#111" stroke-width="1.2" stroke-linecap="butt"/>
<line x1="416.50" y1="259.00" x2="418.90" y2="259.00" stroke="#111" stroke-width="1.2" stroke-linecap="butt"/>
<line x1="427.50" y1="247.10" x2="429.90" y2="247.10" stroke="#111" stroke-width="1.2" stroke-linecap="butt"/>
<line x1="426.45" y1="259.00" x2="430.95" y2="259.00" stroke="#111" stroke-width="1.2" stroke-linecap="butt"/>
<line x1="428.70" y1="256.75" x2="428.70" y2="261.25" stroke="#111" stroke-width="1.2" stroke-linecap="butt"/>
<line x1="437.85" y1="247.10" x2="442.35" y2="247.10" stroke="#111" stroke-width="1.2" stroke-linecap="butt"/>
<line x1="440.10" y1="244.85" x2="440.10" y2="249.35" stroke="#111" stroke-width="1.2" stroke-linecap="butt"/>
<line x1="437.85" y1="259.00" x2="442.35" y2="259.00" stroke="#111" stroke-width="1.2" stroke-linecap="butt"/>
<line x1="440.10" y1="256.75" x2="440.10" y2="261.25" stroke="#111" stroke-width="1.2" stroke-linecap="butt"/>
<text x="91.60" y="322.00" font-size="11.88" font-weight="bold" text-anchor="middle" fill="#111" stroke="#111" stroke-width="0.18">H23</text>
<line x1="71.20" y1="360.88" x2="71.20" y2="354.48" stroke="#7f7f7f" stroke-width="1.0" stroke-linecap="butt"/>
<line x1="68.35" y1="354.48" x2="74.05" y2="354.48" stroke="#7f7f7f" stroke-width="1.0" stroke-linecap="butt"/>
<rect x="65.50" y="360.88" width="11.40" height="70.82" fill="#7f7f7f"/>
<line x1="84.80" y1="382.17" x2="84.80" y2="375.54" stroke="#c572b0" stroke-width="1.0" stroke-linecap="butt"/>
<line x1="81.95" y1="375.54" x2="87.65" y2="375.54" stroke="#c572b0" stroke-width="1.0" stroke-linecap="butt"/>
<rect x="79.10" y="382.17" width="11.40" height="49.53" fill="#c572b0"/>
<line x1="98.70" y1="398.94" x2="98.70" y2="392.70" stroke="#44ad78" stroke-width="1.0" stroke-linecap="butt"/>
<line x1="95.85" y1="392.70" x2="101.55" y2="392.70" stroke="#44ad78" stroke-width="1.0" stroke-linecap="butt"/>
<rect x="93.00" y="398.94" width="11.40" height="32.76" fill="#44ad78"/>
<line x1="112.60" y1="423.28" x2="112.60" y2="420.39" stroke="#3a7bbf" stroke-width="1.0" stroke-linecap="butt"/>
<line x1="109.90" y1="420.39" x2="115.30" y2="420.39" stroke="#3a7bbf" stroke-width="1.0" stroke-linecap="butt"/>
<rect x="107.20" y="423.28" width="10.80" height="8.42" fill="#3a7bbf"/>
<line x1="59.20" y1="337.60" x2="59.20" y2="432.20" stroke="#1a1a1a" stroke-width="1.25" stroke-linecap="butt"/>
<line x1="54.40" y1="431.70" x2="59.20" y2="431.70" stroke="#1a1a1a" stroke-width="1.25" stroke-linecap="butt"/>
<text x="52.60" y="434.69" font-size="8.30" font-weight="bold" text-anchor="end" fill="#111" stroke="#111" stroke-width="0.18">0</text>
<line x1="54.40" y1="408.30" x2="59.20" y2="408.30" stroke="#1a1a1a" stroke-width="1.25" stroke-linecap="butt"/>
<text x="52.60" y="411.29" font-size="8.30" font-weight="bold" text-anchor="end" fill="#111" stroke="#111" stroke-width="0.18">30</text>
<line x1="54.40" y1="384.90" x2="59.20" y2="384.90" stroke="#1a1a1a" stroke-width="1.25" stroke-linecap="butt"/>
<text x="52.60" y="387.89" font-size="8.30" font-weight="bold" text-anchor="end" fill="#111" stroke="#111" stroke-width="0.18">60</text>
<line x1="54.40" y1="361.50" x2="59.20" y2="361.50" stroke="#1a1a1a" stroke-width="1.25" stroke-linecap="butt"/>
<text x="52.60" y="364.49" font-size="8.30" font-weight="bold" text-anchor="end" fill="#111" stroke="#111" stroke-width="0.18">90</text>
<line x1="54.40" y1="338.10" x2="59.20" y2="338.10" stroke="#1a1a1a" stroke-width="1.25" stroke-linecap="butt"/>
<text x="52.60" y="341.09" font-size="8.30" font-weight="bold" text-anchor="end" fill="#111" stroke="#111" stroke-width="0.18">120</text>
<line x1="58.60" y1="431.70" x2="124.30" y2="431.70" stroke="#1a1a1a" stroke-width="1.3" stroke-linecap="butt"/>
<line x1="71.20" y1="431.70" x2="71.20" y2="435.30" stroke="#1a1a1a" stroke-width="1.2" stroke-linecap="butt"/>
<line x1="84.80" y1="431.70" x2="84.80" y2="435.30" stroke="#1a1a1a" stroke-width="1.2" stroke-linecap="butt"/>
<line x1="98.70" y1="431.70" x2="98.70" y2="435.30" stroke="#1a1a1a" stroke-width="1.2" stroke-linecap="butt"/>
<line x1="112.60" y1="431.70" x2="112.60" y2="435.30" stroke="#1a1a1a" stroke-width="1.2" stroke-linecap="butt"/>
<text x="32.30" y="386.20" font-size="8.30" font-weight="bold" text-anchor="middle" fill="#111" stroke="#111" stroke-width="0.18" transform="rotate(-90 32.30 386.20)" textLength="51.00" lengthAdjust="spacingAndGlyphs">Survival (%)</text>
<text x="86.40" y="360.50" font-size="8.04" font-weight="bold" text-anchor="start" fill="#111" stroke="#111" stroke-width="0.18">0.0015</text>
<line x1="84.80" y1="366.20" x2="112.40" y2="366.20" stroke="#222" stroke-width="1.2" stroke-linecap="butt"/>
<text x="93.40" y="378.40" font-size="7.94" font-weight="bold" text-anchor="start" fill="#111" stroke="#111" stroke-width="0.18">0.0266</text>
<line x1="99.10" y1="384.10" x2="112.40" y2="384.10" stroke="#222" stroke-width="1.2" stroke-linecap="butt"/>
<text x="11.40" y="452.10" font-size="8.63" font-weight="bold" text-anchor="start" fill="#111" stroke="#111" stroke-width="0.18">Sotorasib</text>
<text x="11.40" y="467.70" font-size="8.54" font-weight="bold" text-anchor="start" fill="#111" stroke="#111" stroke-width="0.18">Anlotinib</text>
<line x1="67.94" y1="448.70" x2="70.66" y2="448.70" stroke="#111" stroke-width="1.36" stroke-linecap="butt"/>
<line x1="67.94" y1="464.50" x2="70.66" y2="464.50" stroke="#111" stroke-width="1.36" stroke-linecap="butt"/>
<line x1="80.95" y1="448.70" x2="86.05" y2="448.70" stroke="#111" stroke-width="1.36" stroke-linecap="butt"/>
<line x1="83.50" y1="446.15" x2="83.50" y2="451.25" stroke="#111" stroke-width="1.36" stroke-linecap="butt"/>
<line x1="82.14" y1="464.50" x2="84.86" y2="464.50" stroke="#111" stroke-width="1.36" stroke-linecap="butt"/>
<line x1="96.34" y1="448.70" x2="99.06" y2="448.70" stroke="#111" stroke-width="1.36" stroke-linecap="butt"/>
<line x1="95.15" y1="464.50" x2="100.25" y2="464.50" stroke="#111" stroke-width="1.36" stroke-linecap="butt"/>
<line x1="97.70" y1="461.95" x2="97.70" y2="467.05" stroke="#111" stroke-width="1.36" stroke-linecap="butt"/>
<line x1="109.45" y1="448.70" x2="114.55" y2="448.70" stroke="#111" stroke-width="1.36" stroke-linecap="butt"/>
<line x1="112.00" y1="446.15" x2="112.00" y2="451.25" stroke="#111" stroke-width="1.36" stroke-linecap="butt"/>
<line x1="109.45" y1="464.50" x2="114.55" y2="464.50" stroke="#111" stroke-width="1.36" stroke-linecap="butt"/>
<line x1="112.00" y1="461.95" x2="112.00" y2="467.05" stroke="#111" stroke-width="1.36" stroke-linecap="butt"/>
<text x="94.50" y="597.10" font-size="12.45" font-weight="bold" text-anchor="middle" fill="#111" stroke="#111" stroke-width="0.18">H2122SR</text>
<line x1="73.30" y1="629.00" x2="73.30" y2="615.40" stroke="#7f7f7f" stroke-width="1.0" stroke-linecap="butt"/>
<line x1="70.55" y1="615.40" x2="76.05" y2="615.40" stroke="#7f7f7f" stroke-width="1.0" stroke-linecap="butt"/>
<rect x="67.80" y="629.00" width="11.00" height="80.00" fill="#7f7f7f"/>
<line x1="87.50" y1="663.40" x2="87.50" y2="662.76" stroke="#c572b0" stroke-width="1.0" stroke-linecap="butt"/>
<line x1="84.55" y1="662.76" x2="90.45" y2="662.76" stroke="#c572b0" stroke-width="1.0" stroke-linecap="butt"/>
<rect x="81.60" y="663.40" width="11.80" height="45.60" fill="#c572b0"/>
<line x1="101.90" y1="668.20" x2="101.90" y2="659.40" stroke="#44ad78" stroke-width="1.0" stroke-linecap="butt"/>
<line x1="99.05" y1="659.40" x2="104.75" y2="659.40" stroke="#44ad78" stroke-width="1.0" stroke-linecap="butt"/>
<rect x="96.20" y="668.20" width="11.40" height="40.80" fill="#44ad78"/>
<line x1="116.00" y1="704.04" x2="116.00" y2="700.44" stroke="#3a7bbf" stroke-width="1.0" stroke-linecap="butt"/>
<line x1="113.25" y1="700.44" x2="118.75" y2="700.44" stroke="#3a7bbf" stroke-width="1.0" stroke-linecap="butt"/>
<rect x="110.50" y="704.04" width="11.00" height="4.96" fill="#3a7bbf"/>
<line x1="61.10" y1="612.50" x2="61.10" y2="709.50" stroke="#1a1a1a" stroke-width="1.25" stroke-linecap="butt"/>
<line x1="56.30" y1="709.00" x2="61.10" y2="709.00" stroke="#1a1a1a" stroke-width="1.25" stroke-linecap="butt"/>
<text x="54.50" y="711.99" font-size="8.30" font-weight="bold" text-anchor="end" fill="#111" stroke="#111" stroke-width="0.18">0</text>
<line x1="56.30" y1="685.00" x2="61.10" y2="685.00" stroke="#1a1a1a" stroke-width="1.25" stroke-linecap="butt"/>
<text x="54.50" y="687.99" font-size="8.30" font-weight="bold" text-anchor="end" fill="#111" stroke="#111" stroke-width="0.18">30</text>
<line x1="56.30" y1="661.00" x2="61.10" y2="661.00" stroke="#1a1a1a" stroke-width="1.25" stroke-linecap="butt"/>
<text x="54.50" y="663.99" font-size="8.30" font-weight="bold" text-anchor="end" fill="#111" stroke="#111" stroke-width="0.18">60</text>
<line x1="56.30" y1="637.00" x2="61.10" y2="637.00" stroke="#1a1a1a" stroke-width="1.25" stroke-linecap="butt"/>
<text x="54.50" y="639.99" font-size="8.30" font-weight="bold" text-anchor="end" fill="#111" stroke="#111" stroke-width="0.18">90</text>
<line x1="56.30" y1="613.00" x2="61.10" y2="613.00" stroke="#1a1a1a" stroke-width="1.25" stroke-linecap="butt"/>
<text x="54.50" y="615.99" font-size="8.30" font-weight="bold" text-anchor="end" fill="#111" stroke="#111" stroke-width="0.18">120</text>
<line x1="60.50" y1="709.00" x2="127.50" y2="709.00" stroke="#1a1a1a" stroke-width="1.3" stroke-linecap="butt"/>
<line x1="73.30" y1="709.00" x2="73.30" y2="712.60" stroke="#1a1a1a" stroke-width="1.2" stroke-linecap="butt"/>
<line x1="87.50" y1="709.00" x2="87.50" y2="712.60" stroke="#1a1a1a" stroke-width="1.2" stroke-linecap="butt"/>
<line x1="101.90" y1="709.00" x2="101.90" y2="712.60" stroke="#1a1a1a" stroke-width="1.2" stroke-linecap="butt"/>
<line x1="116.00" y1="709.00" x2="116.00" y2="712.60" stroke="#1a1a1a" stroke-width="1.2" stroke-linecap="butt"/>
<text x="34.30" y="661.80" font-size="8.30" font-weight="bold" text-anchor="middle" fill="#111" stroke="#111" stroke-width="0.18" transform="rotate(-90 34.30 661.80)" textLength="51.30" lengthAdjust="spacingAndGlyphs">Survival (%)</text>
<text x="89.20" y="631.00" font-size="8.08" font-weight="bold" text-anchor="start" fill="#111" stroke="#111" stroke-width="0.18">0.0153</text>
<line x1="87.30" y1="637.10" x2="115.40" y2="637.10" stroke="#222" stroke-width="1.2" stroke-linecap="butt"/>
<text x="96.40" y="646.20" font-size="7.88" font-weight="bold" text-anchor="start" fill="#111" stroke="#111" stroke-width="0.18">0.0305</text>
<line x1="102.10" y1="652.30" x2="115.40" y2="652.30" stroke="#222" stroke-width="1.2" stroke-linecap="butt"/>
<text x="12.30" y="729.80" font-size="8.85" font-weight="bold" text-anchor="start" fill="#111" stroke="#111" stroke-width="0.18">Sotorasib</text>
<text x="12.30" y="745.00" font-size="8.77" font-weight="bold" text-anchor="start" fill="#111" stroke="#111" stroke-width="0.18">Anlotinib</text>
<line x1="70.24" y1="726.40" x2="72.96" y2="726.40" stroke="#111" stroke-width="1.36" stroke-linecap="butt"/>
<line x1="70.24" y1="742.60" x2="72.96" y2="742.60" stroke="#111" stroke-width="1.36" stroke-linecap="butt"/>
<line x1="83.85" y1="726.40" x2="88.95" y2="726.40" stroke="#111" stroke-width="1.36" stroke-linecap="butt"/>
<line x1="86.40" y1="723.85" x2="86.40" y2="728.95" stroke="#111" stroke-width="1.36" stroke-linecap="butt"/>
<line x1="85.04" y1="742.60" x2="87.76" y2="742.60" stroke="#111" stroke-width="1.36" stroke-linecap="butt"/>
<line x1="99.24" y1="726.40" x2="101.96" y2="726.40" stroke="#111" stroke-width="1.36" stroke-linecap="butt"/>
<line x1="98.05" y1="742.60" x2="103.15" y2="742.60" stroke="#111" stroke-width="1.36" stroke-linecap="butt"/>
<line x1="100.60" y1="740.05" x2="100.60" y2="745.15" stroke="#111" stroke-width="1.36" stroke-linecap="butt"/>
<line x1="112.25" y1="726.40" x2="117.35" y2="726.40" stroke="#111" stroke-width="1.36" stroke-linecap="butt"/>
<line x1="114.80" y1="723.85" x2="114.80" y2="728.95" stroke="#111" stroke-width="1.36" stroke-linecap="butt"/>
<line x1="112.25" y1="742.60" x2="117.35" y2="742.60" stroke="#111" stroke-width="1.36" stroke-linecap="butt"/>
<line x1="114.80" y1="740.05" x2="114.80" y2="745.15" stroke="#111" stroke-width="1.36" stroke-linecap="butt"/>
<text x="555.00" y="432.20" font-size="9.98" font-weight="bold" text-anchor="middle" fill="#111" stroke="#111" stroke-width="0.18">H23</text>
<line x1="517.30" y1="498.19" x2="517.30" y2="497.22" stroke="#7f7f7f" stroke-width="1.0" stroke-linecap="butt"/>
<line x1="515.35" y1="497.22" x2="519.25" y2="497.22" stroke="#7f7f7f" stroke-width="1.0" stroke-linecap="butt"/>
<rect x="513.40" y="498.19" width="7.80" height="25.61" fill="#7f7f7f"/>
<line x1="526.75" y1="503.70" x2="526.75" y2="503.18" stroke="#c572b0" stroke-width="1.0" stroke-linecap="butt"/>
<line x1="524.77" y1="503.18" x2="528.73" y2="503.18" stroke="#c572b0" stroke-width="1.0" stroke-linecap="butt"/>
<rect x="522.80" y="503.70" width="7.90" height="20.10" fill="#c572b0"/>
<line x1="536.25" y1="507.59" x2="536.25" y2="505.65" stroke="#44ad78" stroke-width="1.0" stroke-linecap="butt"/>
<line x1="534.27" y1="505.65" x2="538.23" y2="505.65" stroke="#44ad78" stroke-width="1.0" stroke-linecap="butt"/>
<rect x="532.30" y="507.59" width="7.90" height="16.21" fill="#44ad78"/>
<line x1="545.85" y1="514.07" x2="545.85" y2="513.30" stroke="#3a7bbf" stroke-width="1.0" stroke-linecap="butt"/>
<line x1="543.87" y1="513.30" x2="547.82" y2="513.30" stroke="#3a7bbf" stroke-width="1.0" stroke-linecap="butt"/>
<rect x="541.90" y="514.07" width="7.90" height="9.72" fill="#3a7bbf"/>
<line x1="563.65" y1="475.17" x2="563.65" y2="473.23" stroke="#7f7f7f" stroke-width="1.0" stroke-linecap="butt"/>
<line x1="561.68" y1="473.23" x2="565.63" y2="473.23" stroke="#7f7f7f" stroke-width="1.0" stroke-linecap="butt"/>
<rect x="559.70" y="475.17" width="7.90" height="48.62" fill="#7f7f7f"/>
<line x1="573.05" y1="484.90" x2="573.05" y2="483.93" stroke="#c572b0" stroke-width="1.0" stroke-linecap="butt"/>
<line x1="571.07" y1="483.93" x2="575.02" y2="483.93" stroke="#c572b0" stroke-width="1.0" stroke-linecap="butt"/>
<rect x="569.10" y="484.90" width="7.90" height="38.90" fill="#c572b0"/>
<line x1="582.85" y1="493.65" x2="582.85" y2="493.00" stroke="#44ad78" stroke-width="1.0" stroke-linecap="butt"/>
<line x1="580.92" y1="493.00" x2="584.78" y2="493.00" stroke="#44ad78" stroke-width="1.0" stroke-linecap="butt"/>
<rect x="579.00" y="493.65" width="7.70" height="30.15" fill="#44ad78"/>
<line x1="592.20" y1="508.56" x2="592.20" y2="507.40" stroke="#3a7bbf" stroke-width="1.0" stroke-linecap="butt"/>
<line x1="590.25" y1="507.40" x2="594.15" y2="507.40" stroke="#3a7bbf" stroke-width="1.0" stroke-linecap="butt"/>
<rect x="588.30" y="508.56" width="7.80" height="15.24" fill="#3a7bbf"/>
<line x1="509.40" y1="445.50" x2="509.40" y2="524.30" stroke="#1a1a1a" stroke-width="1.25" stroke-linecap="butt"/>
<line x1="504.90" y1="523.80" x2="509.40" y2="523.80" stroke="#1a1a1a" stroke-width="1.25" stroke-linecap="butt"/>
<text x="503.60" y="526.46" font-size="7.40" font-weight="bold" text-anchor="end" fill="#111" stroke="#111" stroke-width="0.18">0</text>
<line x1="504.90" y1="504.35" x2="509.40" y2="504.35" stroke="#1a1a1a" stroke-width="1.25" stroke-linecap="butt"/>
<text x="503.60" y="507.01" font-size="7.40" font-weight="bold" text-anchor="end" fill="#111" stroke="#111" stroke-width="0.18">30</text>
<line x1="504.90" y1="484.90" x2="509.40" y2="484.90" stroke="#1a1a1a" stroke-width="1.25" stroke-linecap="butt"/>
<text x="503.60" y="487.56" font-size="7.40" font-weight="bold" text-anchor="end" fill="#111" stroke="#111" stroke-width="0.18">60</text>
<line x1="504.90" y1="465.45" x2="509.40" y2="465.45" stroke="#1a1a1a" stroke-width="1.25" stroke-linecap="butt"/>
<text x="503.60" y="468.11" font-size="7.40" font-weight="bold" text-anchor="end" fill="#111" stroke="#111" stroke-width="0.18">90</text>
<line x1="504.90" y1="446.00" x2="509.40" y2="446.00" stroke="#1a1a1a" stroke-width="1.25" stroke-linecap="butt"/>
<text x="503.60" y="448.66" font-size="7.40" font-weight="bold" text-anchor="end" fill="#111" stroke="#111" stroke-width="0.18">120</text>
<line x1="508.80" y1="523.80" x2="600.70" y2="523.80" stroke="#1a1a1a" stroke-width="1.3" stroke-linecap="butt"/>
<line x1="531.50" y1="523.80" x2="531.50" y2="527.40" stroke="#1a1a1a" stroke-width="1.2" stroke-linecap="butt"/>
<text x="531.50" y="535.00" font-size="7.60" font-weight="bold" text-anchor="middle" fill="#111" stroke="#111" stroke-width="0.18">24h</text>
<line x1="577.40" y1="523.80" x2="577.40" y2="527.40" stroke="#1a1a1a" stroke-width="1.2" stroke-linecap="butt"/>
<text x="577.40" y="535.00" font-size="7.60" font-weight="bold" text-anchor="middle" fill="#111" stroke="#111" stroke-width="0.18">48h</text>
<text x="486.60" y="483.60" font-size="6.80" font-weight="bold" text-anchor="middle" fill="#111" stroke="#111" stroke-width="0.18" transform="rotate(-90 486.60 483.60)" textLength="75.40" lengthAdjust="spacingAndGlyphs">Wound confluence (%)</text>
<text x="524.20" y="478.90" font-size="6.34" font-weight="bold" text-anchor="start" fill="#111" stroke="#111" stroke-width="0.18">&lt;0.0001</text>
<line x1="527.20" y1="483.80" x2="545.90" y2="483.80" stroke="#222" stroke-width="1.2" stroke-linecap="butt"/>
<text x="531.10" y="493.70" font-size="6.57" font-weight="bold" text-anchor="start" fill="#111" stroke="#111" stroke-width="0.18">0.0017</text>
<line x1="536.60" y1="499.20" x2="545.90" y2="499.20" stroke="#222" stroke-width="1.2" stroke-linecap="butt"/>
<text x="570.90" y="466.50" font-size="6.51" font-weight="bold" text-anchor="start" fill="#111" stroke="#111" stroke-width="0.18">&lt;0.0001</text>
<line x1="572.90" y1="471.60" x2="591.80" y2="471.60" stroke="#222" stroke-width="1.2" stroke-linecap="butt"/>
<text x="576.00" y="480.90" font-size="6.34" font-weight="bold" text-anchor="start" fill="#111" stroke="#111" stroke-width="0.18">&lt;0.0001</text>
<line x1="582.70" y1="485.80" x2="591.80" y2="485.80" stroke="#222" stroke-width="1.2" stroke-linecap="butt"/>
<text x="558.20" y="720.70" font-size="10.70" font-weight="bold" text-anchor="middle" fill="#111" stroke="#111" stroke-width="0.18">H2122SR</text>
<line x1="518.85" y1="760.13" x2="518.85" y2="755.37" stroke="#7f7f7f" stroke-width="1.0" stroke-linecap="butt"/>
<line x1="516.92" y1="755.37" x2="520.78" y2="755.37" stroke="#7f7f7f" stroke-width="1.0" stroke-linecap="butt"/>
<rect x="515.00" y="760.13" width="7.70" height="56.17" fill="#7f7f7f"/>
<line x1="528.90" y1="769.73" x2="528.90" y2="765.24" stroke="#c572b0" stroke-width="1.0" stroke-linecap="butt"/>
<line x1="526.85" y1="765.24" x2="530.95" y2="765.24" stroke="#c572b0" stroke-width="1.0" stroke-linecap="butt"/>
<rect x="524.80" y="769.73" width="8.20" height="46.57" fill="#c572b0"/>
<line x1="538.90" y1="775.79" x2="538.90" y2="771.37" stroke="#44ad78" stroke-width="1.0" stroke-linecap="butt"/>
<line x1="536.95" y1="771.37" x2="540.85" y2="771.37" stroke="#44ad78" stroke-width="1.0" stroke-linecap="butt"/>
<rect x="535.00" y="775.79" width="7.80" height="40.51" fill="#44ad78"/>
<line x1="549.00" y1="788.11" x2="549.00" y2="786.48" stroke="#3a7bbf" stroke-width="1.0" stroke-linecap="butt"/>
<line x1="547.10" y1="786.48" x2="550.90" y2="786.48" stroke="#3a7bbf" stroke-width="1.0" stroke-linecap="butt"/>
<rect x="545.20" y="788.11" width="7.60" height="28.19" fill="#3a7bbf"/>
<line x1="567.10" y1="749.31" x2="567.10" y2="748.63" stroke="#7f7f7f" stroke-width="1.0" stroke-linecap="butt"/>
<line x1="565.05" y1="748.63" x2="569.15" y2="748.63" stroke="#7f7f7f" stroke-width="1.0" stroke-linecap="butt"/>
<rect x="563.00" y="749.31" width="8.20" height="66.99" fill="#7f7f7f"/>
<line x1="577.30" y1="753.39" x2="577.30" y2="750.26" stroke="#c572b0" stroke-width="1.0" stroke-linecap="butt"/>
<line x1="575.25" y1="750.26" x2="579.35" y2="750.26" stroke="#c572b0" stroke-width="1.0" stroke-linecap="butt"/>
<rect x="573.20" y="753.39" width="8.20" height="62.91" fill="#c572b0"/>
<line x1="587.50" y1="774.77" x2="587.50" y2="772.18" stroke="#44ad78" stroke-width="1.0" stroke-linecap="butt"/>
<line x1="585.45" y1="772.18" x2="589.55" y2="772.18" stroke="#44ad78" stroke-width="1.0" stroke-linecap="butt"/>
<rect x="583.40" y="774.77" width="8.20" height="41.53" fill="#44ad78"/>
<line x1="597.20" y1="787.70" x2="597.20" y2="786.00" stroke="#3a7bbf" stroke-width="1.0" stroke-linecap="butt"/>
<line x1="595.20" y1="786.00" x2="599.20" y2="786.00" stroke="#3a7bbf" stroke-width="1.0" stroke-linecap="butt"/>
<rect x="593.20" y="787.70" width="8.00" height="28.59" fill="#3a7bbf"/>
<line x1="510.30" y1="734.10" x2="510.30" y2="816.80" stroke="#1a1a1a" stroke-width="1.25" stroke-linecap="butt"/>
<line x1="505.70" y1="816.30" x2="510.30" y2="816.30" stroke="#1a1a1a" stroke-width="1.25" stroke-linecap="butt"/>
<text x="504.40" y="819.04" font-size="7.60" font-weight="bold" text-anchor="end" fill="#111" stroke="#111" stroke-width="0.18">0</text>
<line x1="505.70" y1="795.88" x2="510.30" y2="795.88" stroke="#1a1a1a" stroke-width="1.25" stroke-linecap="butt"/>
<text x="504.40" y="798.61" font-size="7.60" font-weight="bold" text-anchor="end" fill="#111" stroke="#111" stroke-width="0.18">30</text>
<line x1="505.70" y1="775.45" x2="510.30" y2="775.45" stroke="#1a1a1a" stroke-width="1.25" stroke-linecap="butt"/>
<text x="504.40" y="778.19" font-size="7.60" font-weight="bold" text-anchor="end" fill="#111" stroke="#111" stroke-width="0.18">60</text>
<line x1="505.70" y1="755.02" x2="510.30" y2="755.02" stroke="#1a1a1a" stroke-width="1.25" stroke-linecap="butt"/>
<text x="504.40" y="757.76" font-size="7.60" font-weight="bold" text-anchor="end" fill="#111" stroke="#111" stroke-width="0.18">90</text>
<line x1="505.70" y1="734.60" x2="510.30" y2="734.60" stroke="#1a1a1a" stroke-width="1.25" stroke-linecap="butt"/>
<text x="504.40" y="737.34" font-size="7.60" font-weight="bold" text-anchor="end" fill="#111" stroke="#111" stroke-width="0.18">120</text>
<line x1="509.70" y1="816.30" x2="605.90" y2="816.30" stroke="#1a1a1a" stroke-width="1.3" stroke-linecap="butt"/>
<line x1="533.80" y1="816.30" x2="533.80" y2="819.90" stroke="#1a1a1a" stroke-width="1.2" stroke-linecap="butt"/>
<text x="533.80" y="827.50" font-size="7.60" font-weight="bold" text-anchor="middle" fill="#111" stroke="#111" stroke-width="0.18">24h</text>
<line x1="582.00" y1="816.30" x2="582.00" y2="819.90" stroke="#1a1a1a" stroke-width="1.2" stroke-linecap="butt"/>
<text x="582.00" y="827.50" font-size="7.60" font-weight="bold" text-anchor="middle" fill="#111" stroke="#111" stroke-width="0.18">48h</text>
<text x="487.40" y="777.40" font-size="7.00" font-weight="bold" text-anchor="middle" fill="#111" stroke="#111" stroke-width="0.18" transform="rotate(-90 487.40 777.40)" textLength="82.00" lengthAdjust="spacingAndGlyphs">Wound confluence (%)</text>
<text x="528.20" y="746.20" font-size="6.83" font-weight="bold" text-anchor="start" fill="#111" stroke="#111" stroke-width="0.18">0.0011</text>
<line x1="529.30" y1="750.70" x2="548.70" y2="750.70" stroke="#222" stroke-width="1.2" stroke-linecap="butt"/>
<text x="533.00" y="761.90" font-size="6.93" font-weight="bold" text-anchor="start" fill="#111" stroke="#111" stroke-width="0.18">0.0245</text>
<line x1="539.10" y1="767.00" x2="548.70" y2="767.00" stroke="#222" stroke-width="1.2" stroke-linecap="butt"/>
<text x="574.60" y="739.50" font-size="6.92" font-weight="bold" text-anchor="start" fill="#111" stroke="#111" stroke-width="0.18">&lt;0.0001</text>
<line x1="577.30" y1="744.20" x2="597.10" y2="744.20" stroke="#222" stroke-width="1.2" stroke-linecap="butt"/>
<text x="582.00" y="759.50" font-size="6.96" font-weight="bold" text-anchor="start" fill="#111" stroke="#111" stroke-width="0.18">0.0216</text>
<line x1="587.50" y1="764.60" x2="597.10" y2="764.60" stroke="#222" stroke-width="1.2" stroke-linecap="butt"/>
<rect x="624.00" y="450.00" width="12.10" height="4.00" fill="#7f7f7f"/>
<text x="642.00" y="454.56" font-size="7.10" font-weight="bold" text-anchor="start" fill="#111" stroke="#111" stroke-width="0.18">Control</text>
<rect x="624.00" y="462.90" width="12.10" height="4.00" fill="#c572b0"/>
<text x="642.00" y="467.46" font-size="7.10" font-weight="bold" text-anchor="start" fill="#111" stroke="#111" stroke-width="0.18">Sotorasib</text>
<rect x="624.00" y="475.40" width="12.10" height="4.00" fill="#44ad78"/>
<text x="642.00" y="479.96" font-size="7.10" font-weight="bold" text-anchor="start" fill="#111" stroke="#111" stroke-width="0.18">Anlotinib</text>
<rect x="624.00" y="488.00" width="12.10" height="4.00" fill="#3a7bbf"/>
<text x="642.00" y="492.56" font-size="7.10" font-weight="bold" text-anchor="start" fill="#111" stroke="#111" stroke-width="0.18">Combo</text>
<rect x="630.80" y="739.30" width="11.80" height="4.00" fill="#7f7f7f"/>
<text x="649.20" y="744.04" font-size="7.60" font-weight="bold" text-anchor="start" fill="#111" stroke="#111" stroke-width="0.18">Control</text>
<rect x="630.80" y="752.60" width="11.80" height="4.00" fill="#c572b0"/>
<text x="649.20" y="757.34" font-size="7.60" font-weight="bold" text-anchor="start" fill="#111" stroke="#111" stroke-width="0.18">Sotorasib</text>
<rect x="630.80" y="765.70" width="11.80" height="4.00" fill="#44ad78"/>
<text x="649.20" y="770.44" font-size="7.60" font-weight="bold" text-anchor="start" fill="#111" stroke="#111" stroke-width="0.18">Anlotinib</text>
<rect x="630.80" y="779.00" width="11.80" height="4.00" fill="#3a7bbf"/>
<text x="649.20" y="783.74" font-size="7.60" font-weight="bold" text-anchor="start" fill="#111" stroke="#111" stroke-width="0.18">Combo</text>
<text x="554.00" y="11.90" font-size="9.05" font-weight="bold" text-anchor="middle" fill="#111" stroke="#111" stroke-width="0.18">H23</text>
<line x1="512.40" y1="23.70" x2="512.40" y2="108.20" stroke="#1a1a1a" stroke-width="1.25" stroke-linecap="butt"/>
<line x1="508.00" y1="107.70" x2="512.40" y2="107.70" stroke="#1a1a1a" stroke-width="1.25" stroke-linecap="butt"/>
<text x="506.80" y="110.08" font-size="6.60" font-weight="bold" text-anchor="end" fill="#111" stroke="#111" stroke-width="0.18">0</text>
<line x1="508.00" y1="91.00" x2="512.40" y2="91.00" stroke="#1a1a1a" stroke-width="1.25" stroke-linecap="butt"/>
<text x="506.80" y="93.38" font-size="6.60" font-weight="bold" text-anchor="end" fill="#111" stroke="#111" stroke-width="0.18">20</text>
<line x1="508.00" y1="74.30" x2="512.40" y2="74.30" stroke="#1a1a1a" stroke-width="1.25" stroke-linecap="butt"/>
<text x="506.80" y="76.68" font-size="6.60" font-weight="bold" text-anchor="end" fill="#111" stroke="#111" stroke-width="0.18">40</text>
<line x1="508.00" y1="57.60" x2="512.40" y2="57.60" stroke="#1a1a1a" stroke-width="1.25" stroke-linecap="butt"/>
<text x="506.80" y="59.98" font-size="6.60" font-weight="bold" text-anchor="end" fill="#111" stroke="#111" stroke-width="0.18">60</text>
<line x1="508.00" y1="40.90" x2="512.40" y2="40.90" stroke="#1a1a1a" stroke-width="1.25" stroke-linecap="butt"/>
<text x="506.80" y="43.28" font-size="6.60" font-weight="bold" text-anchor="end" fill="#111" stroke="#111" stroke-width="0.18">80</text>
<line x1="508.00" y1="24.20" x2="512.40" y2="24.20" stroke="#1a1a1a" stroke-width="1.25" stroke-linecap="butt"/>
<text x="506.80" y="26.58" font-size="6.60" font-weight="bold" text-anchor="end" fill="#111" stroke="#111" stroke-width="0.18">100</text>
<line x1="511.90" y1="107.70" x2="596.20" y2="107.70" stroke="#1a1a1a" stroke-width="1.25" stroke-linecap="butt"/>
<line x1="512.40" y1="107.70" x2="512.40" y2="111.30" stroke="#1a1a1a" stroke-width="1.25" stroke-linecap="butt"/>
<text x="512.40" y="119.10" font-size="6.60" font-weight="bold" text-anchor="middle" fill="#111" stroke="#111" stroke-width="0.18">0</text>
<line x1="533.35" y1="107.70" x2="533.35" y2="111.30" stroke="#1a1a1a" stroke-width="1.25" stroke-linecap="butt"/>
<text x="533.35" y="119.10" font-size="6.60" font-weight="bold" text-anchor="middle" fill="#111" stroke="#111" stroke-width="0.18">20</text>
<line x1="554.30" y1="107.70" x2="554.30" y2="111.30" stroke="#1a1a1a" stroke-width="1.25" stroke-linecap="butt"/>
<text x="554.30" y="119.10" font-size="6.60" font-weight="bold" text-anchor="middle" fill="#111" stroke="#111" stroke-width="0.18">40</text>
<line x1="575.25" y1="107.70" x2="575.25" y2="111.30" stroke="#1a1a1a" stroke-width="1.25" stroke-linecap="butt"/>
<text x="575.25" y="119.10" font-size="6.60" font-weight="bold" text-anchor="middle" fill="#111" stroke="#111" stroke-width="0.18">60</text>
<line x1="596.20" y1="107.70" x2="596.20" y2="111.30" stroke="#1a1a1a" stroke-width="1.25" stroke-linecap="butt"/>
<text x="596.20" y="119.10" font-size="6.60" font-weight="bold" text-anchor="middle" fill="#111" stroke="#111" stroke-width="0.18">80</text>
<text x="494.30" y="65.80" font-size="6.80" font-weight="bold" text-anchor="middle" fill="#111" stroke="#111" stroke-width="0.18" transform="rotate(-90 494.30 65.80)" textLength="47.70" lengthAdjust="spacingAndGlyphs">Confluence (%)</text>
<text x="554.50" y="129.90" font-size="6.56" font-weight="bold" text-anchor="middle" fill="#111" stroke="#111" stroke-width="0.18">Time (h)</text>
<path d="M512.40,91.00 L516.59,89.90 L520.78,88.80 L524.97,87.69 L529.16,86.59 L533.35,85.49 L537.54,84.39 L541.73,83.28 L545.92,82.18 L550.11,81.08 L554.30,79.98 L558.49,78.88 L562.68,77.77 L566.87,76.67 L571.06,75.57 L575.25,74.47 L579.44,73.36 L583.63,72.26 L587.82,71.16" stroke="#3a7bbf" stroke-width="1.1" fill="none"/>
<circle cx="512.40" cy="91.00" r="1.60" fill="#3a7bbf"/>
<circle cx="516.59" cy="89.90" r="1.60" fill="#3a7bbf"/>
<circle cx="520.78" cy="88.80" r="1.60" fill="#3a7bbf"/>
<circle cx="524.97" cy="87.69" r="1.60" fill="#3a7bbf"/>
<circle cx="529.16" cy="86.59" r="1.60" fill="#3a7bbf"/>
<circle cx="533.35" cy="85.49" r="1.60" fill="#3a7bbf"/>
<circle cx="537.54" cy="84.39" r="1.60" fill="#3a7bbf"/>
<circle cx="541.73" cy="83.28" r="1.60" fill="#3a7bbf"/>
<circle cx="545.92" cy="82.18" r="1.60" fill="#3a7bbf"/>
<circle cx="550.11" cy="81.08" r="1.60" fill="#3a7bbf"/>
<circle cx="554.30" cy="79.98" r="1.60" fill="#3a7bbf"/>
<circle cx="558.49" cy="78.88" r="1.60" fill="#3a7bbf"/>
<circle cx="562.68" cy="77.77" r="1.60" fill="#3a7bbf"/>
<circle cx="566.87" cy="76.67" r="1.60" fill="#3a7bbf"/>
<circle cx="571.06" cy="75.57" r="1.60" fill="#3a7bbf"/>
<circle cx="575.25" cy="74.47" r="1.60" fill="#3a7bbf"/>
<circle cx="579.44" cy="73.36" r="1.60" fill="#3a7bbf"/>
<circle cx="583.63" cy="72.26" r="1.60" fill="#3a7bbf"/>
<circle cx="587.82" cy="71.16" r="1.60" fill="#3a7bbf"/>
<path d="M512.40,91.00 L516.59,89.38 L520.78,87.72 L524.97,86.02 L529.16,84.29 L533.35,82.52 L537.54,80.71 L541.73,78.86 L545.92,76.98 L550.11,75.06 L554.30,73.10 L558.49,71.10 L562.68,69.07 L566.87,67.00 L571.06,64.89 L575.25,62.74 L579.44,60.56 L583.63,58.34 L587.82,56.08" stroke="#c572b0" stroke-width="1.1" fill="none"/>
<circle cx="512.40" cy="91.00" r="1.60" fill="#c572b0"/>
<circle cx="516.59" cy="89.38" r="1.60" fill="#c572b0"/>
<circle cx="520.78" cy="87.72" r="1.60" fill="#c572b0"/>
<circle cx="524.97" cy="86.02" r="1.60" fill="#c572b0"/>
<circle cx="529.16" cy="84.29" r="1.60" fill="#c572b0"/>
<circle cx="533.35" cy="82.52" r="1.60" fill="#c572b0"/>
<circle cx="537.54" cy="80.71" r="1.60" fill="#c572b0"/>
<circle cx="541.73" cy="78.86" r="1.60" fill="#c572b0"/>
<circle cx="545.92" cy="76.98" r="1.60" fill="#c572b0"/>
<circle cx="550.11" cy="75.06" r="1.60" fill="#c572b0"/>
<circle cx="554.30" cy="73.10" r="1.60" fill="#c572b0"/>
<circle cx="558.49" cy="71.10" r="1.60" fill="#c572b0"/>
<circle cx="562.68" cy="69.07" r="1.60" fill="#c572b0"/>
<circle cx="566.87" cy="67.00" r="1.60" fill="#c572b0"/>
<circle cx="571.06" cy="64.89" r="1.60" fill="#c572b0"/>
<circle cx="575.25" cy="62.74" r="1.60" fill="#c572b0"/>
<circle cx="579.44" cy="60.56" r="1.60" fill="#c572b0"/>
<circle cx="583.63" cy="58.34" r="1.60" fill="#c572b0"/>
<circle cx="587.82" cy="56.08" r="1.60" fill="#c572b0"/>
<path d="M512.40,91.00 L516.59,89.31 L520.78,87.58 L524.97,85.81 L529.16,84.00 L533.35,82.15 L537.54,80.26 L541.73,78.33 L545.92,76.36 L550.11,74.35 L554.30,72.30 L558.49,70.21 L562.68,68.07 L566.87,65.90 L571.06,63.69 L575.25,61.44 L579.44,59.15 L583.63,56.82 L587.82,54.45" stroke="#44ad78" stroke-width="1.1" fill="none"/>
<circle cx="512.40" cy="91.00" r="1.60" fill="#44ad78"/>
<circle cx="516.59" cy="89.31" r="1.60" fill="#44ad78"/>
<circle cx="520.78" cy="87.58" r="1.60" fill="#44ad78"/>
<circle cx="524.97" cy="85.81" r="1.60" fill="#44ad78"/>
<circle cx="529.16" cy="84.00" r="1.60" fill="#44ad78"/>
<circle cx="533.35" cy="82.15" r="1.60" fill="#44ad78"/>
<circle cx="537.54" cy="80.26" r="1.60" fill="#44ad78"/>
<circle cx="541.73" cy="78.33" r="1.60" fill="#44ad78"/>
<circle cx="545.92" cy="76.36" r="1.60" fill="#44ad78"/>
<circle cx="550.11" cy="74.35" r="1.60" fill="#44ad78"/>
<circle cx="554.30" cy="72.30" r="1.60" fill="#44ad78"/>
<circle cx="558.49" cy="70.21" r="1.60" fill="#44ad78"/>
<circle cx="562.68" cy="68.07" r="1.60" fill="#44ad78"/>
<circle cx="566.87" cy="65.90" r="1.60" fill="#44ad78"/>
<circle cx="571.06" cy="63.69" r="1.60" fill="#44ad78"/>
<circle cx="575.25" cy="61.44" r="1.60" fill="#44ad78"/>
<circle cx="579.44" cy="59.15" r="1.60" fill="#44ad78"/>
<circle cx="583.63" cy="56.82" r="1.60" fill="#44ad78"/>
<circle cx="587.82" cy="54.45" r="1.60" fill="#44ad78"/>
<path d="M512.40,91.00 L516.59,88.90 L520.78,86.72 L524.97,84.49 L529.16,82.18 L533.35,79.81 L537.54,77.37 L541.73,74.87 L545.92,72.30 L550.11,69.66 L554.30,66.95 L558.49,64.18 L562.68,61.34 L566.87,58.44 L571.06,55.46 L575.25,52.42 L579.44,49.32 L583.63,46.14 L587.82,42.90" stroke="#7f7f7f" stroke-width="1.1" fill="none"/>
<circle cx="512.40" cy="91.00" r="1.60" fill="#7f7f7f"/>
<circle cx="516.59" cy="88.90" r="1.60" fill="#7f7f7f"/>
<circle cx="520.78" cy="86.72" r="1.60" fill="#7f7f7f"/>
<circle cx="524.97" cy="84.49" r="1.60" fill="#7f7f7f"/>
<circle cx="529.16" cy="82.18" r="1.60" fill="#7f7f7f"/>
<circle cx="533.35" cy="79.81" r="1.60" fill="#7f7f7f"/>
<circle cx="537.54" cy="77.37" r="1.60" fill="#7f7f7f"/>
<circle cx="541.73" cy="74.87" r="1.60" fill="#7f7f7f"/>
<circle cx="545.92" cy="72.30" r="1.60" fill="#7f7f7f"/>
<circle cx="550.11" cy="69.66" r="1.60" fill="#7f7f7f"/>
<circle cx="554.30" cy="66.95" r="1.60" fill="#7f7f7f"/>
<circle cx="558.49" cy="64.18" r="1.60" fill="#7f7f7f"/>
<circle cx="562.68" cy="61.34" r="1.60" fill="#7f7f7f"/>
<circle cx="566.87" cy="58.44" r="1.60" fill="#7f7f7f"/>
<circle cx="571.06" cy="55.46" r="1.60" fill="#7f7f7f"/>
<circle cx="575.25" cy="52.42" r="1.60" fill="#7f7f7f"/>
<circle cx="579.44" cy="49.32" r="1.60" fill="#7f7f7f"/>
<circle cx="583.63" cy="46.14" r="1.60" fill="#7f7f7f"/>
<circle cx="587.82" cy="42.90" r="1.60" fill="#7f7f7f"/>
<line x1="613.40" y1="29.60" x2="623.60" y2="29.60" stroke="#7f7f7f" stroke-width="1.15" stroke-linecap="butt"/>
<circle cx="618.50" cy="29.60" r="1.50" fill="#7f7f7f"/>
<text x="629.50" y="31.96" font-size="6.55" font-weight="bold" text-anchor="start" fill="#111" stroke="#111" stroke-width="0.18">Control</text>
<line x1="613.40" y1="41.50" x2="623.60" y2="41.50" stroke="#44ad78" stroke-width="1.15" stroke-linecap="butt"/>
<circle cx="618.50" cy="41.50" r="1.50" fill="#44ad78"/>
<text x="629.50" y="43.86" font-size="6.55" font-weight="bold" text-anchor="start" fill="#111" stroke="#111" stroke-width="0.18">Anlotinib</text>
<line x1="613.40" y1="53.50" x2="623.60" y2="53.50" stroke="#c572b0" stroke-width="1.15" stroke-linecap="butt"/>
<circle cx="618.50" cy="53.50" r="1.50" fill="#c572b0"/>
<text x="629.50" y="55.86" font-size="6.55" font-weight="bold" text-anchor="start" fill="#111" stroke="#111" stroke-width="0.18">Sotorasib</text>
<line x1="613.40" y1="66.70" x2="623.60" y2="66.70" stroke="#3a7bbf" stroke-width="1.15" stroke-linecap="butt"/>
<circle cx="618.50" cy="66.70" r="1.50" fill="#3a7bbf"/>
<text x="629.50" y="69.06" font-size="6.55" font-weight="bold" text-anchor="start" fill="#111" stroke="#111" stroke-width="0.18">Combo</text>
<text x="554.50" y="157.20" font-size="9.13" font-weight="bold" text-anchor="middle" fill="#111" stroke="#111" stroke-width="0.18">H2122SR</text>
<line x1="512.40" y1="168.40" x2="512.40" y2="253.00" stroke="#1a1a1a" stroke-width="1.25" stroke-linecap="butt"/>
<line x1="508.00" y1="252.50" x2="512.40" y2="252.50" stroke="#1a1a1a" stroke-width="1.25" stroke-linecap="butt"/>
<text x="506.80" y="254.88" font-size="6.60" font-weight="bold" text-anchor="end" fill="#111" stroke="#111" stroke-width="0.18">0</text>
<line x1="508.00" y1="235.78" x2="512.40" y2="235.78" stroke="#1a1a1a" stroke-width="1.25" stroke-linecap="butt"/>
<text x="506.80" y="238.16" font-size="6.60" font-weight="bold" text-anchor="end" fill="#111" stroke="#111" stroke-width="0.18">20</text>
<line x1="508.00" y1="219.06" x2="512.40" y2="219.06" stroke="#1a1a1a" stroke-width="1.25" stroke-linecap="butt"/>
<text x="506.80" y="221.44" font-size="6.60" font-weight="bold" text-anchor="end" fill="#111" stroke="#111" stroke-width="0.18">40</text>
<line x1="508.00" y1="202.34" x2="512.40" y2="202.34" stroke="#1a1a1a" stroke-width="1.25" stroke-linecap="butt"/>
<text x="506.80" y="204.72" font-size="6.60" font-weight="bold" text-anchor="end" fill="#111" stroke="#111" stroke-width="0.18">60</text>
<line x1="508.00" y1="185.62" x2="512.40" y2="185.62" stroke="#1a1a1a" stroke-width="1.25" stroke-linecap="butt"/>
<text x="506.80" y="188.00" font-size="6.60" font-weight="bold" text-anchor="end" fill="#111" stroke="#111" stroke-width="0.18">80</text>
<line x1="508.00" y1="168.90" x2="512.40" y2="168.90" stroke="#1a1a1a" stroke-width="1.25" stroke-linecap="butt"/>
<text x="506.80" y="171.28" font-size="6.60" font-weight="bold" text-anchor="end" fill="#111" stroke="#111" stroke-width="0.18">100</text>
<line x1="511.90" y1="252.50" x2="596.20" y2="252.50" stroke="#1a1a1a" stroke-width="1.25" stroke-linecap="butt"/>
<line x1="512.40" y1="252.50" x2="512.40" y2="256.10" stroke="#1a1a1a" stroke-width="1.25" stroke-linecap="butt"/>
<text x="512.40" y="263.90" font-size="6.60" font-weight="bold" text-anchor="middle" fill="#111" stroke="#111" stroke-width="0.18">0</text>
<line x1="533.35" y1="252.50" x2="533.35" y2="256.10" stroke="#1a1a1a" stroke-width="1.25" stroke-linecap="butt"/>
<text x="533.35" y="263.90" font-size="6.60" font-weight="bold" text-anchor="middle" fill="#111" stroke="#111" stroke-width="0.18">20</text>
<line x1="554.30" y1="252.50" x2="554.30" y2="256.10" stroke="#1a1a1a" stroke-width="1.25" stroke-linecap="butt"/>
<text x="554.30" y="263.90" font-size="6.60" font-weight="bold" text-anchor="middle" fill="#111" stroke="#111" stroke-width="0.18">40</text>
<line x1="575.25" y1="252.50" x2="575.25" y2="256.10" stroke="#1a1a1a" stroke-width="1.25" stroke-linecap="butt"/>
<text x="575.25" y="263.90" font-size="6.60" font-weight="bold" text-anchor="middle" fill="#111" stroke="#111" stroke-width="0.18">60</text>
<line x1="596.20" y1="252.50" x2="596.20" y2="256.10" stroke="#1a1a1a" stroke-width="1.25" stroke-linecap="butt"/>
<text x="596.20" y="263.90" font-size="6.60" font-weight="bold" text-anchor="middle" fill="#111" stroke="#111" stroke-width="0.18">80</text>
<text x="494.30" y="210.50" font-size="6.80" font-weight="bold" text-anchor="middle" fill="#111" stroke="#111" stroke-width="0.18" transform="rotate(-90 494.30 210.50)" textLength="47.70" lengthAdjust="spacingAndGlyphs">Confluence (%)</text>
<text x="554.50" y="273.80" font-size="6.56" font-weight="bold" text-anchor="middle" fill="#111" stroke="#111" stroke-width="0.18">Time (h)</text>
<path d="M512.40,240.80 L516.59,240.23 L520.78,239.66 L524.97,239.09 L529.16,238.52 L533.35,237.95 L537.54,237.39 L541.73,236.82 L545.92,236.25 L550.11,235.68 L554.30,235.11 L558.49,234.54 L562.68,233.97 L566.87,233.41 L571.06,232.84 L575.25,232.27 L579.44,231.70 L583.63,231.13 L587.82,230.56" stroke="#3a7bbf" stroke-width="1.1" fill="none"/>
<circle cx="512.40" cy="240.80" r="1.60" fill="#3a7bbf"/>
<circle cx="516.59" cy="240.23" r="1.60" fill="#3a7bbf"/>
<circle cx="520.78" cy="239.66" r="1.60" fill="#3a7bbf"/>
<circle cx="524.97" cy="239.09" r="1.60" fill="#3a7bbf"/>
<circle cx="529.16" cy="238.52" r="1.60" fill="#3a7bbf"/>
<circle cx="533.35" cy="237.95" r="1.60" fill="#3a7bbf"/>
<circle cx="537.54" cy="237.39" r="1.60" fill="#3a7bbf"/>
<circle cx="541.73" cy="236.82" r="1.60" fill="#3a7bbf"/>
<circle cx="545.92" cy="236.25" r="1.60" fill="#3a7bbf"/>
<circle cx="550.11" cy="235.68" r="1.60" fill="#3a7bbf"/>
<circle cx="554.30" cy="235.11" r="1.60" fill="#3a7bbf"/>
<circle cx="558.49" cy="234.54" r="1.60" fill="#3a7bbf"/>
<circle cx="562.68" cy="233.97" r="1.60" fill="#3a7bbf"/>
<circle cx="566.87" cy="233.41" r="1.60" fill="#3a7bbf"/>
<circle cx="571.06" cy="232.84" r="1.60" fill="#3a7bbf"/>
<circle cx="575.25" cy="232.27" r="1.60" fill="#3a7bbf"/>
<circle cx="579.44" cy="231.70" r="1.60" fill="#3a7bbf"/>
<circle cx="583.63" cy="231.13" r="1.60" fill="#3a7bbf"/>
<circle cx="587.82" cy="230.56" r="1.60" fill="#3a7bbf"/>
<path d="M512.40,239.12 L516.59,238.44 L520.78,237.73 L524.97,237.00 L529.16,236.23 L533.35,235.45 L537.54,234.63 L541.73,233.79 L545.92,232.92 L550.11,232.02 L554.30,231.10 L558.49,230.15 L562.68,229.17 L566.87,228.17 L571.06,227.14 L575.25,226.08 L579.44,225.00 L583.63,223.89 L587.82,222.75" stroke="#44ad78" stroke-width="1.1" fill="none"/>
<circle cx="512.40" cy="239.12" r="1.60" fill="#44ad78"/>
<circle cx="516.59" cy="238.44" r="1.60" fill="#44ad78"/>
<circle cx="520.78" cy="237.73" r="1.60" fill="#44ad78"/>
<circle cx="524.97" cy="237.00" r="1.60" fill="#44ad78"/>
<circle cx="529.16" cy="236.23" r="1.60" fill="#44ad78"/>
<circle cx="533.35" cy="235.45" r="1.60" fill="#44ad78"/>
<circle cx="537.54" cy="234.63" r="1.60" fill="#44ad78"/>
<circle cx="541.73" cy="233.79" r="1.60" fill="#44ad78"/>
<circle cx="545.92" cy="232.92" r="1.60" fill="#44ad78"/>
<circle cx="550.11" cy="232.02" r="1.60" fill="#44ad78"/>
<circle cx="554.30" cy="231.10" r="1.60" fill="#44ad78"/>
<circle cx="558.49" cy="230.15" r="1.60" fill="#44ad78"/>
<circle cx="562.68" cy="229.17" r="1.60" fill="#44ad78"/>
<circle cx="566.87" cy="228.17" r="1.60" fill="#44ad78"/>
<circle cx="571.06" cy="227.14" r="1.60" fill="#44ad78"/>
<circle cx="575.25" cy="226.08" r="1.60" fill="#44ad78"/>
<circle cx="579.44" cy="225.00" r="1.60" fill="#44ad78"/>
<circle cx="583.63" cy="223.89" r="1.60" fill="#44ad78"/>
<circle cx="587.82" cy="222.75" r="1.60" fill="#44ad78"/>
<path d="M512.40,237.45 L516.59,236.36 L520.78,235.09 L524.97,233.65 L529.16,232.03 L533.35,230.23 L537.54,228.25 L541.73,226.10 L545.92,224.83 L550.11,223.41 L554.30,221.84 L558.49,220.11 L562.68,218.23 L566.87,216.18 L571.06,213.98 L575.25,211.62 L579.44,209.11 L583.63,206.43 L587.82,203.60" stroke="#c572b0" stroke-width="1.1" fill="none"/>
<circle cx="512.40" cy="237.45" r="1.60" fill="#c572b0"/>
<circle cx="516.59" cy="236.36" r="1.60" fill="#c572b0"/>
<circle cx="520.78" cy="235.09" r="1.60" fill="#c572b0"/>
<circle cx="524.97" cy="233.65" r="1.60" fill="#c572b0"/>
<circle cx="529.16" cy="232.03" r="1.60" fill="#c572b0"/>
<circle cx="533.35" cy="230.23" r="1.60" fill="#c572b0"/>
<circle cx="537.54" cy="228.25" r="1.60" fill="#c572b0"/>
<circle cx="541.73" cy="226.10" r="1.60" fill="#c572b0"/>
<circle cx="545.92" cy="224.83" r="1.60" fill="#c572b0"/>
<circle cx="550.11" cy="223.41" r="1.60" fill="#c572b0"/>
<circle cx="554.30" cy="221.84" r="1.60" fill="#c572b0"/>
<circle cx="558.49" cy="220.11" r="1.60" fill="#c572b0"/>
<circle cx="562.68" cy="218.23" r="1.60" fill="#c572b0"/>
<circle cx="566.87" cy="216.18" r="1.60" fill="#c572b0"/>
<circle cx="571.06" cy="213.98" r="1.60" fill="#c572b0"/>
<circle cx="575.25" cy="211.62" r="1.60" fill="#c572b0"/>
<circle cx="579.44" cy="209.11" r="1.60" fill="#c572b0"/>
<circle cx="583.63" cy="206.43" r="1.60" fill="#c572b0"/>
<circle cx="587.82" cy="203.60" r="1.60" fill="#c572b0"/>
<path d="M512.40,237.45 L516.59,236.36 L520.78,235.09 L524.97,233.65 L529.16,232.03 L533.35,230.23 L537.54,228.25 L541.73,226.10 L545.92,223.78 L550.11,221.27 L554.30,218.59 L558.49,215.73 L562.68,212.70 L566.87,209.49 L571.06,206.10 L575.25,202.54 L579.44,198.80 L583.63,194.88 L587.82,190.79" stroke="#7f7f7f" stroke-width="1.1" fill="none"/>
<circle cx="512.40" cy="237.45" r="1.60" fill="#7f7f7f"/>
<circle cx="516.59" cy="236.36" r="1.60" fill="#7f7f7f"/>
<circle cx="520.78" cy="235.09" r="1.60" fill="#7f7f7f"/>
<circle cx="524.97" cy="233.65" r="1.60" fill="#7f7f7f"/>
<circle cx="529.16" cy="232.03" r="1.60" fill="#7f7f7f"/>
<circle cx="533.35" cy="230.23" r="1.60" fill="#7f7f7f"/>
<circle cx="537.54" cy="228.25" r="1.60" fill="#7f7f7f"/>
<circle cx="541.73" cy="226.10" r="1.60" fill="#7f7f7f"/>
<circle cx="545.92" cy="223.78" r="1.60" fill="#7f7f7f"/>
<circle cx="550.11" cy="221.27" r="1.60" fill="#7f7f7f"/>
<circle cx="554.30" cy="218.59" r="1.60" fill="#7f7f7f"/>
<circle cx="558.49" cy="215.73" r="1.60" fill="#7f7f7f"/>
<circle cx="562.68" cy="212.70" r="1.60" fill="#7f7f7f"/>
<circle cx="566.87" cy="209.49" r="1.60" fill="#7f7f7f"/>
<circle cx="571.06" cy="206.10" r="1.60" fill="#7f7f7f"/>
<circle cx="575.25" cy="202.54" r="1.60" fill="#7f7f7f"/>
<circle cx="579.44" cy="198.80" r="1.60" fill="#7f7f7f"/>
<circle cx="583.63" cy="194.88" r="1.60" fill="#7f7f7f"/>
<circle cx="587.82" cy="190.79" r="1.60" fill="#7f7f7f"/>
<line x1="613.60" y1="174.60" x2="623.80" y2="174.60" stroke="#7f7f7f" stroke-width="1.15" stroke-linecap="butt"/>
<circle cx="618.70" cy="174.60" r="1.50" fill="#7f7f7f"/>
<text x="629.50" y="176.96" font-size="6.55" font-weight="bold" text-anchor="start" fill="#111" stroke="#111" stroke-width="0.18">Control</text>
<line x1="613.60" y1="186.50" x2="623.80" y2="186.50" stroke="#44ad78" stroke-width="1.15" stroke-linecap="butt"/>
<circle cx="618.70" cy="186.50" r="1.50" fill="#44ad78"/>
<text x="629.50" y="188.86" font-size="6.55" font-weight="bold" text-anchor="start" fill="#111" stroke="#111" stroke-width="0.18">Anlotinib</text>
<line x1="613.60" y1="198.50" x2="623.80" y2="198.50" stroke="#c572b0" stroke-width="1.15" stroke-linecap="butt"/>
<circle cx="618.70" cy="198.50" r="1.50" fill="#c572b0"/>
<text x="629.50" y="200.86" font-size="6.55" font-weight="bold" text-anchor="start" fill="#111" stroke="#111" stroke-width="0.18">Sotorasib</text>
<line x1="613.60" y1="211.70" x2="623.80" y2="211.70" stroke="#3a7bbf" stroke-width="1.15" stroke-linecap="butt"/>
<circle cx="618.70" cy="211.70" r="1.50" fill="#3a7bbf"/>
<text x="629.50" y="214.06" font-size="6.55" font-weight="bold" text-anchor="start" fill="#111" stroke="#111" stroke-width="0.18">Combo</text>
<text x="550.60" y="297.00" font-size="9.32" font-weight="bold" text-anchor="middle" fill="#111" stroke="#111" stroke-width="0.18">H23</text>
<line x1="508.00" y1="309.20" x2="508.00" y2="395.60" stroke="#1a1a1a" stroke-width="1.25" stroke-linecap="butt"/>
<line x1="504.20" y1="395.10" x2="508.00" y2="395.10" stroke="#1a1a1a" stroke-width="1.25" stroke-linecap="butt"/>
<text x="503.00" y="397.73" font-size="7.30" font-weight="bold" text-anchor="end" fill="#111" stroke="#111" stroke-width="0.18">0</text>
<line x1="504.20" y1="378.02" x2="508.00" y2="378.02" stroke="#1a1a1a" stroke-width="1.25" stroke-linecap="butt"/>
<text x="503.00" y="380.65" font-size="7.30" font-weight="bold" text-anchor="end" fill="#111" stroke="#111" stroke-width="0.18">20</text>
<line x1="504.20" y1="360.94" x2="508.00" y2="360.94" stroke="#1a1a1a" stroke-width="1.25" stroke-linecap="butt"/>
<text x="503.00" y="363.57" font-size="7.30" font-weight="bold" text-anchor="end" fill="#111" stroke="#111" stroke-width="0.18">40</text>
<line x1="504.20" y1="343.86" x2="508.00" y2="343.86" stroke="#1a1a1a" stroke-width="1.25" stroke-linecap="butt"/>
<text x="503.00" y="346.49" font-size="7.30" font-weight="bold" text-anchor="end" fill="#111" stroke="#111" stroke-width="0.18">60</text>
<line x1="504.20" y1="326.78" x2="508.00" y2="326.78" stroke="#1a1a1a" stroke-width="1.25" stroke-linecap="butt"/>
<text x="503.00" y="329.41" font-size="7.30" font-weight="bold" text-anchor="end" fill="#111" stroke="#111" stroke-width="0.18">80</text>
<line x1="504.20" y1="309.70" x2="508.00" y2="309.70" stroke="#1a1a1a" stroke-width="1.25" stroke-linecap="butt"/>
<text x="503.00" y="312.33" font-size="7.30" font-weight="bold" text-anchor="end" fill="#111" stroke="#111" stroke-width="0.18">100</text>
<line x1="507.50" y1="395.10" x2="593.70" y2="395.10" stroke="#1a1a1a" stroke-width="1.25" stroke-linecap="butt"/>
<line x1="508.00" y1="395.10" x2="508.00" y2="398.70" stroke="#1a1a1a" stroke-width="1.25" stroke-linecap="butt"/>
<text x="508.00" y="406.50" font-size="7.30" font-weight="bold" text-anchor="middle" fill="#111" stroke="#111" stroke-width="0.18">0</text>
<line x1="536.57" y1="395.10" x2="536.57" y2="398.70" stroke="#1a1a1a" stroke-width="1.25" stroke-linecap="butt"/>
<text x="536.57" y="406.50" font-size="7.30" font-weight="bold" text-anchor="middle" fill="#111" stroke="#111" stroke-width="0.18">20</text>
<line x1="565.13" y1="395.10" x2="565.13" y2="398.70" stroke="#1a1a1a" stroke-width="1.25" stroke-linecap="butt"/>
<text x="565.13" y="406.50" font-size="7.30" font-weight="bold" text-anchor="middle" fill="#111" stroke="#111" stroke-width="0.18">40</text>
<line x1="593.70" y1="395.10" x2="593.70" y2="398.70" stroke="#1a1a1a" stroke-width="1.25" stroke-linecap="butt"/>
<text x="593.70" y="406.50" font-size="7.30" font-weight="bold" text-anchor="middle" fill="#111" stroke="#111" stroke-width="0.18">60</text>
<text x="488.30" y="352.30" font-size="6.60" font-weight="bold" text-anchor="middle" fill="#111" stroke="#111" stroke-width="0.18" transform="rotate(-90 488.30 352.30)" textLength="72.90" lengthAdjust="spacingAndGlyphs">Wound confluence (%)</text>
<text x="550.70" y="418.00" font-size="6.56" font-weight="bold" text-anchor="middle" fill="#111" stroke="#111" stroke-width="0.18">Time (h)</text>
<line x1="513.71" y1="385.71" x2="513.71" y2="384.00" stroke="#7f7f7f" stroke-width="0.9" stroke-linecap="butt"/>
<line x1="512.11" y1="384.00" x2="515.31" y2="384.00" stroke="#7f7f7f" stroke-width="0.9" stroke-linecap="butt"/>
<line x1="512.11" y1="385.71" x2="515.31" y2="385.71" stroke="#7f7f7f" stroke-width="0.9" stroke-linecap="butt"/>
<line x1="519.43" y1="379.73" x2="519.43" y2="378.02" stroke="#7f7f7f" stroke-width="0.9" stroke-linecap="butt"/>
<line x1="517.83" y1="378.02" x2="521.03" y2="378.02" stroke="#7f7f7f" stroke-width="0.9" stroke-linecap="butt"/>
<line x1="517.83" y1="379.73" x2="521.03" y2="379.73" stroke="#7f7f7f" stroke-width="0.9" stroke-linecap="butt"/>
<line x1="525.14" y1="377.17" x2="525.14" y2="375.46" stroke="#7f7f7f" stroke-width="0.9" stroke-linecap="butt"/>
<line x1="523.54" y1="375.46" x2="526.74" y2="375.46" stroke="#7f7f7f" stroke-width="0.9" stroke-linecap="butt"/>
<line x1="523.54" y1="377.17" x2="526.74" y2="377.17" stroke="#7f7f7f" stroke-width="0.9" stroke-linecap="butt"/>
<line x1="530.85" y1="372.90" x2="530.85" y2="371.19" stroke="#7f7f7f" stroke-width="0.9" stroke-linecap="butt"/>
<line x1="529.25" y1="371.19" x2="532.45" y2="371.19" stroke="#7f7f7f" stroke-width="0.9" stroke-linecap="butt"/>
<line x1="529.25" y1="372.90" x2="532.45" y2="372.90" stroke="#7f7f7f" stroke-width="0.9" stroke-linecap="butt"/>
<line x1="536.57" y1="366.92" x2="536.57" y2="365.21" stroke="#7f7f7f" stroke-width="0.9" stroke-linecap="butt"/>
<line x1="534.97" y1="365.21" x2="538.17" y2="365.21" stroke="#7f7f7f" stroke-width="0.9" stroke-linecap="butt"/>
<line x1="534.97" y1="366.92" x2="538.17" y2="366.92" stroke="#7f7f7f" stroke-width="0.9" stroke-linecap="butt"/>
<line x1="542.28" y1="361.79" x2="542.28" y2="360.09" stroke="#7f7f7f" stroke-width="0.9" stroke-linecap="butt"/>
<line x1="540.68" y1="360.09" x2="543.88" y2="360.09" stroke="#7f7f7f" stroke-width="0.9" stroke-linecap="butt"/>
<line x1="540.68" y1="361.79" x2="543.88" y2="361.79" stroke="#7f7f7f" stroke-width="0.9" stroke-linecap="butt"/>
<line x1="547.99" y1="355.82" x2="547.99" y2="354.11" stroke="#7f7f7f" stroke-width="0.9" stroke-linecap="butt"/>
<line x1="546.39" y1="354.11" x2="549.59" y2="354.11" stroke="#7f7f7f" stroke-width="0.9" stroke-linecap="butt"/>
<line x1="546.39" y1="355.82" x2="549.59" y2="355.82" stroke="#7f7f7f" stroke-width="0.9" stroke-linecap="butt"/>
<line x1="555.13" y1="351.55" x2="555.13" y2="349.84" stroke="#7f7f7f" stroke-width="0.9" stroke-linecap="butt"/>
<line x1="553.53" y1="349.84" x2="556.74" y2="349.84" stroke="#7f7f7f" stroke-width="0.9" stroke-linecap="butt"/>
<line x1="553.53" y1="351.55" x2="556.74" y2="351.55" stroke="#7f7f7f" stroke-width="0.9" stroke-linecap="butt"/>
<line x1="560.85" y1="347.28" x2="560.85" y2="345.57" stroke="#7f7f7f" stroke-width="0.9" stroke-linecap="butt"/>
<line x1="559.25" y1="345.57" x2="562.45" y2="345.57" stroke="#7f7f7f" stroke-width="0.9" stroke-linecap="butt"/>
<line x1="559.25" y1="347.28" x2="562.45" y2="347.28" stroke="#7f7f7f" stroke-width="0.9" stroke-linecap="butt"/>
<line x1="566.56" y1="342.15" x2="566.56" y2="340.44" stroke="#7f7f7f" stroke-width="0.9" stroke-linecap="butt"/>
<line x1="564.96" y1="340.44" x2="568.16" y2="340.44" stroke="#7f7f7f" stroke-width="0.9" stroke-linecap="butt"/>
<line x1="564.96" y1="342.15" x2="568.16" y2="342.15" stroke="#7f7f7f" stroke-width="0.9" stroke-linecap="butt"/>
<line x1="572.28" y1="337.45" x2="572.28" y2="334.89" stroke="#7f7f7f" stroke-width="0.9" stroke-linecap="butt"/>
<line x1="570.68" y1="334.89" x2="573.88" y2="334.89" stroke="#7f7f7f" stroke-width="0.9" stroke-linecap="butt"/>
<line x1="570.68" y1="337.45" x2="573.88" y2="337.45" stroke="#7f7f7f" stroke-width="0.9" stroke-linecap="butt"/>
<line x1="576.56" y1="331.90" x2="576.56" y2="328.49" stroke="#7f7f7f" stroke-width="0.9" stroke-linecap="butt"/>
<line x1="574.96" y1="328.49" x2="578.16" y2="328.49" stroke="#7f7f7f" stroke-width="0.9" stroke-linecap="butt"/>
<line x1="574.96" y1="331.90" x2="578.16" y2="331.90" stroke="#7f7f7f" stroke-width="0.9" stroke-linecap="butt"/>
<path d="M508.00,395.10 L513.71,384.85 L519.43,378.87 L525.14,376.31 L530.85,372.04 L536.57,366.06 L542.28,360.94 L547.99,354.96 L555.13,350.69 L560.85,346.42 L566.56,341.30 L572.28,336.17 L576.56,330.20" stroke="#7f7f7f" stroke-width="1.1" fill="none"/>
<circle cx="508.00" cy="395.10" r="1.60" fill="#7f7f7f"/>
<circle cx="513.71" cy="384.85" r="1.60" fill="#7f7f7f"/>
<circle cx="519.43" cy="378.87" r="1.60" fill="#7f7f7f"/>
<circle cx="525.14" cy="376.31" r="1.60" fill="#7f7f7f"/>
<circle cx="530.85" cy="372.04" r="1.60" fill="#7f7f7f"/>
<circle cx="536.57" cy="366.06" r="1.60" fill="#7f7f7f"/>
<circle cx="542.28" cy="360.94" r="1.60" fill="#7f7f7f"/>
<circle cx="547.99" cy="354.96" r="1.60" fill="#7f7f7f"/>
<circle cx="555.13" cy="350.69" r="1.60" fill="#7f7f7f"/>
<circle cx="560.85" cy="346.42" r="1.60" fill="#7f7f7f"/>
<circle cx="566.56" cy="341.30" r="1.60" fill="#7f7f7f"/>
<circle cx="572.28" cy="336.17" r="1.60" fill="#7f7f7f"/>
<circle cx="576.56" cy="330.20" r="1.60" fill="#7f7f7f"/>
<line x1="513.71" y1="387.41" x2="513.71" y2="385.71" stroke="#c572b0" stroke-width="0.9" stroke-linecap="butt"/>
<line x1="512.11" y1="385.71" x2="515.31" y2="385.71" stroke="#c572b0" stroke-width="0.9" stroke-linecap="butt"/>
<line x1="512.11" y1="387.41" x2="515.31" y2="387.41" stroke="#c572b0" stroke-width="0.9" stroke-linecap="butt"/>
<line x1="519.43" y1="378.87" x2="519.43" y2="377.17" stroke="#c572b0" stroke-width="0.9" stroke-linecap="butt"/>
<line x1="517.83" y1="377.17" x2="521.03" y2="377.17" stroke="#c572b0" stroke-width="0.9" stroke-linecap="butt"/>
<line x1="517.83" y1="378.87" x2="521.03" y2="378.87" stroke="#c572b0" stroke-width="0.9" stroke-linecap="butt"/>
<line x1="525.14" y1="378.87" x2="525.14" y2="377.17" stroke="#c572b0" stroke-width="0.9" stroke-linecap="butt"/>
<line x1="523.54" y1="377.17" x2="526.74" y2="377.17" stroke="#c572b0" stroke-width="0.9" stroke-linecap="butt"/>
<line x1="523.54" y1="378.87" x2="526.74" y2="378.87" stroke="#c572b0" stroke-width="0.9" stroke-linecap="butt"/>
<line x1="530.85" y1="378.02" x2="530.85" y2="376.31" stroke="#c572b0" stroke-width="0.9" stroke-linecap="butt"/>
<line x1="529.25" y1="376.31" x2="532.45" y2="376.31" stroke="#c572b0" stroke-width="0.9" stroke-linecap="butt"/>
<line x1="529.25" y1="378.02" x2="532.45" y2="378.02" stroke="#c572b0" stroke-width="0.9" stroke-linecap="butt"/>
<line x1="536.57" y1="373.75" x2="536.57" y2="372.04" stroke="#c572b0" stroke-width="0.9" stroke-linecap="butt"/>
<line x1="534.97" y1="372.04" x2="538.17" y2="372.04" stroke="#c572b0" stroke-width="0.9" stroke-linecap="butt"/>
<line x1="534.97" y1="373.75" x2="538.17" y2="373.75" stroke="#c572b0" stroke-width="0.9" stroke-linecap="butt"/>
<line x1="542.28" y1="369.48" x2="542.28" y2="367.77" stroke="#c572b0" stroke-width="0.9" stroke-linecap="butt"/>
<line x1="540.68" y1="367.77" x2="543.88" y2="367.77" stroke="#c572b0" stroke-width="0.9" stroke-linecap="butt"/>
<line x1="540.68" y1="369.48" x2="543.88" y2="369.48" stroke="#c572b0" stroke-width="0.9" stroke-linecap="butt"/>
<line x1="547.99" y1="365.21" x2="547.99" y2="363.50" stroke="#c572b0" stroke-width="0.9" stroke-linecap="butt"/>
<line x1="546.39" y1="363.50" x2="549.59" y2="363.50" stroke="#c572b0" stroke-width="0.9" stroke-linecap="butt"/>
<line x1="546.39" y1="365.21" x2="549.59" y2="365.21" stroke="#c572b0" stroke-width="0.9" stroke-linecap="butt"/>
<line x1="555.13" y1="360.94" x2="555.13" y2="359.23" stroke="#c572b0" stroke-width="0.9" stroke-linecap="butt"/>
<line x1="553.53" y1="359.23" x2="556.74" y2="359.23" stroke="#c572b0" stroke-width="0.9" stroke-linecap="butt"/>
<line x1="553.53" y1="360.94" x2="556.74" y2="360.94" stroke="#c572b0" stroke-width="0.9" stroke-linecap="butt"/>
<line x1="560.85" y1="356.67" x2="560.85" y2="354.96" stroke="#c572b0" stroke-width="0.9" stroke-linecap="butt"/>
<line x1="559.25" y1="354.96" x2="562.45" y2="354.96" stroke="#c572b0" stroke-width="0.9" stroke-linecap="butt"/>
<line x1="559.25" y1="356.67" x2="562.45" y2="356.67" stroke="#c572b0" stroke-width="0.9" stroke-linecap="butt"/>
<line x1="566.56" y1="352.40" x2="566.56" y2="350.69" stroke="#c572b0" stroke-width="0.9" stroke-linecap="butt"/>
<line x1="564.96" y1="350.69" x2="568.16" y2="350.69" stroke="#c572b0" stroke-width="0.9" stroke-linecap="butt"/>
<line x1="564.96" y1="352.40" x2="568.16" y2="352.40" stroke="#c572b0" stroke-width="0.9" stroke-linecap="butt"/>
<line x1="572.28" y1="348.98" x2="572.28" y2="345.57" stroke="#c572b0" stroke-width="0.9" stroke-linecap="butt"/>
<line x1="570.68" y1="345.57" x2="573.88" y2="345.57" stroke="#c572b0" stroke-width="0.9" stroke-linecap="butt"/>
<line x1="570.68" y1="348.98" x2="573.88" y2="348.98" stroke="#c572b0" stroke-width="0.9" stroke-linecap="butt"/>
<line x1="576.56" y1="345.14" x2="576.56" y2="342.58" stroke="#c572b0" stroke-width="0.9" stroke-linecap="butt"/>
<line x1="574.96" y1="342.58" x2="578.16" y2="342.58" stroke="#c572b0" stroke-width="0.9" stroke-linecap="butt"/>
<line x1="574.96" y1="345.14" x2="578.16" y2="345.14" stroke="#c572b0" stroke-width="0.9" stroke-linecap="butt"/>
<path d="M508.00,395.10 L513.71,386.56 L519.43,378.02 L525.14,378.02 L530.85,377.17 L536.57,372.90 L542.28,368.63 L547.99,364.36 L555.13,360.09 L560.85,355.82 L566.56,351.55 L572.28,347.28 L576.56,343.86" stroke="#c572b0" stroke-width="1.1" fill="none"/>
<circle cx="508.00" cy="395.10" r="1.60" fill="#c572b0"/>
<circle cx="513.71" cy="386.56" r="1.60" fill="#c572b0"/>
<circle cx="519.43" cy="378.02" r="1.60" fill="#c572b0"/>
<circle cx="525.14" cy="378.02" r="1.60" fill="#c572b0"/>
<circle cx="530.85" cy="377.17" r="1.60" fill="#c572b0"/>
<circle cx="536.57" cy="372.90" r="1.60" fill="#c572b0"/>
<circle cx="542.28" cy="368.63" r="1.60" fill="#c572b0"/>
<circle cx="547.99" cy="364.36" r="1.60" fill="#c572b0"/>
<circle cx="555.13" cy="360.09" r="1.60" fill="#c572b0"/>
<circle cx="560.85" cy="355.82" r="1.60" fill="#c572b0"/>
<circle cx="566.56" cy="351.55" r="1.60" fill="#c572b0"/>
<circle cx="572.28" cy="347.28" r="1.60" fill="#c572b0"/>
<circle cx="576.56" cy="343.86" r="1.60" fill="#c572b0"/>
<path d="M508.00,395.10 L513.71,388.27 L519.43,384.00 L525.14,382.29 L530.85,379.73 L536.57,377.17 L542.28,372.90 L547.99,371.19 L555.13,367.77 L560.85,365.21 L566.56,360.09 L572.28,357.52 L576.56,354.96" stroke="#44ad78" stroke-width="1.1" fill="none"/>
<circle cx="508.00" cy="395.10" r="1.60" fill="#44ad78"/>
<circle cx="513.71" cy="388.27" r="1.60" fill="#44ad78"/>
<circle cx="519.43" cy="384.00" r="1.60" fill="#44ad78"/>
<circle cx="525.14" cy="382.29" r="1.60" fill="#44ad78"/>
<circle cx="530.85" cy="379.73" r="1.60" fill="#44ad78"/>
<circle cx="536.57" cy="377.17" r="1.60" fill="#44ad78"/>
<circle cx="542.28" cy="372.90" r="1.60" fill="#44ad78"/>
<circle cx="547.99" cy="371.19" r="1.60" fill="#44ad78"/>
<circle cx="555.13" cy="367.77" r="1.60" fill="#44ad78"/>
<circle cx="560.85" cy="365.21" r="1.60" fill="#44ad78"/>
<circle cx="566.56" cy="360.09" r="1.60" fill="#44ad78"/>
<circle cx="572.28" cy="357.52" r="1.60" fill="#44ad78"/>
<circle cx="576.56" cy="354.96" r="1.60" fill="#44ad78"/>
<path d="M508.00,395.10 L513.71,391.68 L519.43,387.41 L525.14,386.56 L530.85,386.56 L536.57,384.85 L542.28,382.29 L547.99,380.58 L555.13,379.73 L560.85,378.02 L566.56,376.31 L572.28,375.46 L576.56,374.60" stroke="#3a7bbf" stroke-width="1.1" fill="none"/>
<circle cx="508.00" cy="395.10" r="1.60" fill="#3a7bbf"/>
<circle cx="513.71" cy="391.68" r="1.60" fill="#3a7bbf"/>
<circle cx="519.43" cy="387.41" r="1.60" fill="#3a7bbf"/>
<circle cx="525.14" cy="386.56" r="1.60" fill="#3a7bbf"/>
<circle cx="530.85" cy="386.56" r="1.60" fill="#3a7bbf"/>
<circle cx="536.57" cy="384.85" r="1.60" fill="#3a7bbf"/>
<circle cx="542.28" cy="382.29" r="1.60" fill="#3a7bbf"/>
<circle cx="547.99" cy="380.58" r="1.60" fill="#3a7bbf"/>
<circle cx="555.13" cy="379.73" r="1.60" fill="#3a7bbf"/>
<circle cx="560.85" cy="378.02" r="1.60" fill="#3a7bbf"/>
<circle cx="566.56" cy="376.31" r="1.60" fill="#3a7bbf"/>
<circle cx="572.28" cy="375.46" r="1.60" fill="#3a7bbf"/>
<circle cx="576.56" cy="374.60" r="1.60" fill="#3a7bbf"/>
<line x1="611.80" y1="315.30" x2="622.10" y2="315.30" stroke="#7f7f7f" stroke-width="1.15" stroke-linecap="butt"/>
<circle cx="616.95" cy="315.30" r="1.50" fill="#7f7f7f"/>
<text x="627.90" y="317.73" font-size="6.75" font-weight="bold" text-anchor="start" fill="#111" stroke="#111" stroke-width="0.18">Control</text>
<line x1="611.80" y1="327.10" x2="622.10" y2="327.10" stroke="#44ad78" stroke-width="1.15" stroke-linecap="butt"/>
<circle cx="616.95" cy="327.10" r="1.50" fill="#44ad78"/>
<text x="627.90" y="329.53" font-size="6.75" font-weight="bold" text-anchor="start" fill="#111" stroke="#111" stroke-width="0.18">Anlotinib</text>
<line x1="611.80" y1="340.00" x2="622.10" y2="340.00" stroke="#c572b0" stroke-width="1.15" stroke-linecap="butt"/>
<circle cx="616.95" cy="340.00" r="1.50" fill="#c572b0"/>
<text x="627.90" y="342.43" font-size="6.75" font-weight="bold" text-anchor="start" fill="#111" stroke="#111" stroke-width="0.18">Sotorasib</text>
<line x1="611.80" y1="353.40" x2="622.10" y2="353.40" stroke="#3a7bbf" stroke-width="1.15" stroke-linecap="butt"/>
<circle cx="616.95" cy="353.40" r="1.50" fill="#3a7bbf"/>
<text x="627.90" y="355.83" font-size="6.75" font-weight="bold" text-anchor="start" fill="#111" stroke="#111" stroke-width="0.18">Combo</text>
<text x="553.10" y="576.20" font-size="9.99" font-weight="bold" text-anchor="middle" fill="#111" stroke="#111" stroke-width="0.18">H2122SR</text>
<line x1="508.00" y1="589.10" x2="508.00" y2="680.70" stroke="#1a1a1a" stroke-width="1.25" stroke-linecap="butt"/>
<line x1="504.20" y1="680.20" x2="508.00" y2="680.20" stroke="#1a1a1a" stroke-width="1.25" stroke-linecap="butt"/>
<text x="503.00" y="682.83" font-size="7.30" font-weight="bold" text-anchor="end" fill="#111" stroke="#111" stroke-width="0.18">0</text>
<line x1="504.20" y1="662.08" x2="508.00" y2="662.08" stroke="#1a1a1a" stroke-width="1.25" stroke-linecap="butt"/>
<text x="503.00" y="664.71" font-size="7.30" font-weight="bold" text-anchor="end" fill="#111" stroke="#111" stroke-width="0.18">20</text>
<line x1="504.20" y1="643.96" x2="508.00" y2="643.96" stroke="#1a1a1a" stroke-width="1.25" stroke-linecap="butt"/>
<text x="503.00" y="646.59" font-size="7.30" font-weight="bold" text-anchor="end" fill="#111" stroke="#111" stroke-width="0.18">40</text>
<line x1="504.20" y1="625.84" x2="508.00" y2="625.84" stroke="#1a1a1a" stroke-width="1.25" stroke-linecap="butt"/>
<text x="503.00" y="628.47" font-size="7.30" font-weight="bold" text-anchor="end" fill="#111" stroke="#111" stroke-width="0.18">60</text>
<line x1="504.20" y1="607.72" x2="508.00" y2="607.72" stroke="#1a1a1a" stroke-width="1.25" stroke-linecap="butt"/>
<text x="503.00" y="610.35" font-size="7.30" font-weight="bold" text-anchor="end" fill="#111" stroke="#111" stroke-width="0.18">80</text>
<line x1="504.20" y1="589.60" x2="508.00" y2="589.60" stroke="#1a1a1a" stroke-width="1.25" stroke-linecap="butt"/>
<text x="503.00" y="592.23" font-size="7.30" font-weight="bold" text-anchor="end" fill="#111" stroke="#111" stroke-width="0.18">100</text>
<line x1="507.50" y1="680.20" x2="599.10" y2="680.20" stroke="#1a1a1a" stroke-width="1.25" stroke-linecap="butt"/>
<line x1="508.00" y1="680.20" x2="508.00" y2="683.80" stroke="#1a1a1a" stroke-width="1.25" stroke-linecap="butt"/>
<text x="508.00" y="691.60" font-size="7.30" font-weight="bold" text-anchor="middle" fill="#111" stroke="#111" stroke-width="0.18">0</text>
<line x1="538.37" y1="680.20" x2="538.37" y2="683.80" stroke="#1a1a1a" stroke-width="1.25" stroke-linecap="butt"/>
<text x="538.37" y="691.60" font-size="7.30" font-weight="bold" text-anchor="middle" fill="#111" stroke="#111" stroke-width="0.18">20</text>
<line x1="568.73" y1="680.20" x2="568.73" y2="683.80" stroke="#1a1a1a" stroke-width="1.25" stroke-linecap="butt"/>
<text x="568.73" y="691.60" font-size="7.30" font-weight="bold" text-anchor="middle" fill="#111" stroke="#111" stroke-width="0.18">40</text>
<line x1="599.10" y1="680.20" x2="599.10" y2="683.80" stroke="#1a1a1a" stroke-width="1.25" stroke-linecap="butt"/>
<text x="599.10" y="691.60" font-size="7.30" font-weight="bold" text-anchor="middle" fill="#111" stroke="#111" stroke-width="0.18">60</text>
<text x="486.50" y="634.50" font-size="6.80" font-weight="bold" text-anchor="middle" fill="#111" stroke="#111" stroke-width="0.18" transform="rotate(-90 486.50 634.50)" textLength="76.60" lengthAdjust="spacingAndGlyphs">Wound confluence (%)</text>
<text x="553.80" y="703.60" font-size="6.56" font-weight="bold" text-anchor="middle" fill="#111" stroke="#111" stroke-width="0.18">Time (h)</text>
<line x1="514.07" y1="664.80" x2="514.07" y2="661.17" stroke="#7f7f7f" stroke-width="0.9" stroke-linecap="butt"/>
<line x1="512.47" y1="661.17" x2="515.67" y2="661.17" stroke="#7f7f7f" stroke-width="0.9" stroke-linecap="butt"/>
<line x1="512.47" y1="664.80" x2="515.67" y2="664.80" stroke="#7f7f7f" stroke-width="0.9" stroke-linecap="butt"/>
<line x1="520.15" y1="647.58" x2="520.15" y2="640.34" stroke="#7f7f7f" stroke-width="0.9" stroke-linecap="butt"/>
<line x1="518.55" y1="640.34" x2="521.75" y2="640.34" stroke="#7f7f7f" stroke-width="0.9" stroke-linecap="butt"/>
<line x1="518.55" y1="647.58" x2="521.75" y2="647.58" stroke="#7f7f7f" stroke-width="0.9" stroke-linecap="butt"/>
<line x1="526.22" y1="636.71" x2="526.22" y2="624.03" stroke="#7f7f7f" stroke-width="0.9" stroke-linecap="butt"/>
<line x1="524.62" y1="624.03" x2="527.82" y2="624.03" stroke="#7f7f7f" stroke-width="0.9" stroke-linecap="butt"/>
<line x1="524.62" y1="636.71" x2="527.82" y2="636.71" stroke="#7f7f7f" stroke-width="0.9" stroke-linecap="butt"/>
<line x1="532.29" y1="626.75" x2="532.29" y2="612.25" stroke="#7f7f7f" stroke-width="0.9" stroke-linecap="butt"/>
<line x1="530.69" y1="612.25" x2="533.89" y2="612.25" stroke="#7f7f7f" stroke-width="0.9" stroke-linecap="butt"/>
<line x1="530.69" y1="626.75" x2="533.89" y2="626.75" stroke="#7f7f7f" stroke-width="0.9" stroke-linecap="butt"/>
<line x1="538.37" y1="618.59" x2="538.37" y2="605.91" stroke="#7f7f7f" stroke-width="0.9" stroke-linecap="butt"/>
<line x1="536.77" y1="605.91" x2="539.97" y2="605.91" stroke="#7f7f7f" stroke-width="0.9" stroke-linecap="butt"/>
<line x1="536.77" y1="618.59" x2="539.97" y2="618.59" stroke="#7f7f7f" stroke-width="0.9" stroke-linecap="butt"/>
<line x1="544.44" y1="610.44" x2="544.44" y2="599.57" stroke="#7f7f7f" stroke-width="0.9" stroke-linecap="butt"/>
<line x1="542.84" y1="599.57" x2="546.04" y2="599.57" stroke="#7f7f7f" stroke-width="0.9" stroke-linecap="butt"/>
<line x1="542.84" y1="610.44" x2="546.04" y2="610.44" stroke="#7f7f7f" stroke-width="0.9" stroke-linecap="butt"/>
<line x1="550.51" y1="602.28" x2="550.51" y2="593.22" stroke="#7f7f7f" stroke-width="0.9" stroke-linecap="butt"/>
<line x1="548.91" y1="593.22" x2="552.11" y2="593.22" stroke="#7f7f7f" stroke-width="0.9" stroke-linecap="butt"/>
<line x1="548.91" y1="602.28" x2="552.11" y2="602.28" stroke="#7f7f7f" stroke-width="0.9" stroke-linecap="butt"/>
<line x1="558.11" y1="596.85" x2="558.11" y2="593.22" stroke="#7f7f7f" stroke-width="0.9" stroke-linecap="butt"/>
<line x1="556.50" y1="593.22" x2="559.71" y2="593.22" stroke="#7f7f7f" stroke-width="0.9" stroke-linecap="butt"/>
<line x1="556.50" y1="596.85" x2="559.71" y2="596.85" stroke="#7f7f7f" stroke-width="0.9" stroke-linecap="butt"/>
<line x1="564.18" y1="593.68" x2="564.18" y2="590.96" stroke="#7f7f7f" stroke-width="0.9" stroke-linecap="butt"/>
<line x1="562.58" y1="590.96" x2="565.78" y2="590.96" stroke="#7f7f7f" stroke-width="0.9" stroke-linecap="butt"/>
<line x1="562.58" y1="593.68" x2="565.78" y2="593.68" stroke="#7f7f7f" stroke-width="0.9" stroke-linecap="butt"/>
<line x1="570.25" y1="593.22" x2="570.25" y2="591.41" stroke="#7f7f7f" stroke-width="0.9" stroke-linecap="butt"/>
<line x1="568.65" y1="591.41" x2="571.85" y2="591.41" stroke="#7f7f7f" stroke-width="0.9" stroke-linecap="butt"/>
<line x1="568.65" y1="593.22" x2="571.85" y2="593.22" stroke="#7f7f7f" stroke-width="0.9" stroke-linecap="butt"/>
<line x1="576.33" y1="592.32" x2="576.33" y2="590.51" stroke="#7f7f7f" stroke-width="0.9" stroke-linecap="butt"/>
<line x1="574.73" y1="590.51" x2="577.93" y2="590.51" stroke="#7f7f7f" stroke-width="0.9" stroke-linecap="butt"/>
<line x1="574.73" y1="592.32" x2="577.93" y2="592.32" stroke="#7f7f7f" stroke-width="0.9" stroke-linecap="butt"/>
<line x1="580.88" y1="592.32" x2="580.88" y2="590.51" stroke="#7f7f7f" stroke-width="0.9" stroke-linecap="butt"/>
<line x1="579.28" y1="590.51" x2="582.48" y2="590.51" stroke="#7f7f7f" stroke-width="0.9" stroke-linecap="butt"/>
<line x1="579.28" y1="592.32" x2="582.48" y2="592.32" stroke="#7f7f7f" stroke-width="0.9" stroke-linecap="butt"/>
<path d="M508.00,680.20 L514.07,662.99 L520.15,643.96 L526.22,630.37 L532.29,619.50 L538.37,612.25 L544.44,605.00 L550.51,597.75 L558.11,595.04 L564.18,592.32 L570.25,592.32 L576.33,591.41 L580.88,591.41" stroke="#7f7f7f" stroke-width="1.1" fill="none"/>
<circle cx="508.00" cy="680.20" r="1.60" fill="#7f7f7f"/>
<circle cx="514.07" cy="662.99" r="1.60" fill="#7f7f7f"/>
<circle cx="520.15" cy="643.96" r="1.60" fill="#7f7f7f"/>
<circle cx="526.22" cy="630.37" r="1.60" fill="#7f7f7f"/>
<circle cx="532.29" cy="619.50" r="1.60" fill="#7f7f7f"/>
<circle cx="538.37" cy="612.25" r="1.60" fill="#7f7f7f"/>
<circle cx="544.44" cy="605.00" r="1.60" fill="#7f7f7f"/>
<circle cx="550.51" cy="597.75" r="1.60" fill="#7f7f7f"/>
<circle cx="558.11" cy="595.04" r="1.60" fill="#7f7f7f"/>
<circle cx="564.18" cy="592.32" r="1.60" fill="#7f7f7f"/>
<circle cx="570.25" cy="592.32" r="1.60" fill="#7f7f7f"/>
<circle cx="576.33" cy="591.41" r="1.60" fill="#7f7f7f"/>
<circle cx="580.88" cy="591.41" r="1.60" fill="#7f7f7f"/>
<line x1="514.07" y1="664.35" x2="514.07" y2="662.53" stroke="#c572b0" stroke-width="0.9" stroke-linecap="butt"/>
<line x1="512.47" y1="662.53" x2="515.67" y2="662.53" stroke="#c572b0" stroke-width="0.9" stroke-linecap="butt"/>
<line x1="512.47" y1="664.35" x2="515.67" y2="664.35" stroke="#c572b0" stroke-width="0.9" stroke-linecap="butt"/>
<line x1="520.15" y1="652.48" x2="520.15" y2="648.85" stroke="#c572b0" stroke-width="0.9" stroke-linecap="butt"/>
<line x1="518.55" y1="648.85" x2="521.75" y2="648.85" stroke="#c572b0" stroke-width="0.9" stroke-linecap="butt"/>
<line x1="518.55" y1="652.48" x2="521.75" y2="652.48" stroke="#c572b0" stroke-width="0.9" stroke-linecap="butt"/>
<line x1="526.22" y1="641.51" x2="526.22" y2="636.08" stroke="#c572b0" stroke-width="0.9" stroke-linecap="butt"/>
<line x1="524.62" y1="636.08" x2="527.82" y2="636.08" stroke="#c572b0" stroke-width="0.9" stroke-linecap="butt"/>
<line x1="524.62" y1="641.51" x2="527.82" y2="641.51" stroke="#c572b0" stroke-width="0.9" stroke-linecap="butt"/>
<line x1="532.29" y1="634.90" x2="532.29" y2="629.46" stroke="#c572b0" stroke-width="0.9" stroke-linecap="butt"/>
<line x1="530.69" y1="629.46" x2="533.89" y2="629.46" stroke="#c572b0" stroke-width="0.9" stroke-linecap="butt"/>
<line x1="530.69" y1="634.90" x2="533.89" y2="634.90" stroke="#c572b0" stroke-width="0.9" stroke-linecap="butt"/>
<line x1="538.37" y1="627.65" x2="538.37" y2="620.40" stroke="#c572b0" stroke-width="0.9" stroke-linecap="butt"/>
<line x1="536.77" y1="620.40" x2="539.97" y2="620.40" stroke="#c572b0" stroke-width="0.9" stroke-linecap="butt"/>
<line x1="536.77" y1="627.65" x2="539.97" y2="627.65" stroke="#c572b0" stroke-width="0.9" stroke-linecap="butt"/>
<line x1="544.44" y1="622.22" x2="544.44" y2="613.16" stroke="#c572b0" stroke-width="0.9" stroke-linecap="butt"/>
<line x1="542.84" y1="613.16" x2="546.04" y2="613.16" stroke="#c572b0" stroke-width="0.9" stroke-linecap="butt"/>
<line x1="542.84" y1="622.22" x2="546.04" y2="622.22" stroke="#c572b0" stroke-width="0.9" stroke-linecap="butt"/>
<line x1="550.51" y1="614.51" x2="550.51" y2="607.27" stroke="#c572b0" stroke-width="0.9" stroke-linecap="butt"/>
<line x1="548.91" y1="607.27" x2="552.11" y2="607.27" stroke="#c572b0" stroke-width="0.9" stroke-linecap="butt"/>
<line x1="548.91" y1="614.51" x2="552.11" y2="614.51" stroke="#c572b0" stroke-width="0.9" stroke-linecap="butt"/>
<line x1="558.11" y1="607.72" x2="558.11" y2="602.28" stroke="#c572b0" stroke-width="0.9" stroke-linecap="butt"/>
<line x1="556.50" y1="602.28" x2="559.71" y2="602.28" stroke="#c572b0" stroke-width="0.9" stroke-linecap="butt"/>
<line x1="556.50" y1="607.72" x2="559.71" y2="607.72" stroke="#c572b0" stroke-width="0.9" stroke-linecap="butt"/>
<line x1="564.18" y1="603.73" x2="564.18" y2="598.30" stroke="#c572b0" stroke-width="0.9" stroke-linecap="butt"/>
<line x1="562.58" y1="598.30" x2="565.78" y2="598.30" stroke="#c572b0" stroke-width="0.9" stroke-linecap="butt"/>
<line x1="562.58" y1="603.73" x2="565.78" y2="603.73" stroke="#c572b0" stroke-width="0.9" stroke-linecap="butt"/>
<line x1="570.25" y1="599.29" x2="570.25" y2="595.67" stroke="#c572b0" stroke-width="0.9" stroke-linecap="butt"/>
<line x1="568.65" y1="595.67" x2="571.85" y2="595.67" stroke="#c572b0" stroke-width="0.9" stroke-linecap="butt"/>
<line x1="568.65" y1="599.29" x2="571.85" y2="599.29" stroke="#c572b0" stroke-width="0.9" stroke-linecap="butt"/>
<line x1="576.33" y1="597.94" x2="576.33" y2="594.31" stroke="#c572b0" stroke-width="0.9" stroke-linecap="butt"/>
<line x1="574.73" y1="594.31" x2="577.93" y2="594.31" stroke="#c572b0" stroke-width="0.9" stroke-linecap="butt"/>
<line x1="574.73" y1="597.94" x2="577.93" y2="597.94" stroke="#c572b0" stroke-width="0.9" stroke-linecap="butt"/>
<line x1="580.88" y1="597.94" x2="580.88" y2="594.31" stroke="#c572b0" stroke-width="0.9" stroke-linecap="butt"/>
<line x1="579.28" y1="594.31" x2="582.48" y2="594.31" stroke="#c572b0" stroke-width="0.9" stroke-linecap="butt"/>
<line x1="579.28" y1="597.94" x2="582.48" y2="597.94" stroke="#c572b0" stroke-width="0.9" stroke-linecap="butt"/>
<path d="M508.00,680.20 L514.07,663.44 L520.15,650.66 L526.22,638.80 L532.29,632.18 L538.37,624.03 L544.44,617.69 L550.51,610.89 L558.11,605.00 L564.18,601.02 L570.25,597.48 L576.33,596.12 L580.88,596.12" stroke="#c572b0" stroke-width="1.1" fill="none"/>
<circle cx="508.00" cy="680.20" r="1.60" fill="#c572b0"/>
<circle cx="514.07" cy="663.44" r="1.60" fill="#c572b0"/>
<circle cx="520.15" cy="650.66" r="1.60" fill="#c572b0"/>
<circle cx="526.22" cy="638.80" r="1.60" fill="#c572b0"/>
<circle cx="532.29" cy="632.18" r="1.60" fill="#c572b0"/>
<circle cx="538.37" cy="624.03" r="1.60" fill="#c572b0"/>
<circle cx="544.44" cy="617.69" r="1.60" fill="#c572b0"/>
<circle cx="550.51" cy="610.89" r="1.60" fill="#c572b0"/>
<circle cx="558.11" cy="605.00" r="1.60" fill="#c572b0"/>
<circle cx="564.18" cy="601.02" r="1.60" fill="#c572b0"/>
<circle cx="570.25" cy="597.48" r="1.60" fill="#c572b0"/>
<circle cx="576.33" cy="596.12" r="1.60" fill="#c572b0"/>
<circle cx="580.88" cy="596.12" r="1.60" fill="#c572b0"/>
<line x1="514.07" y1="666.34" x2="514.07" y2="664.53" stroke="#44ad78" stroke-width="0.9" stroke-linecap="butt"/>
<line x1="512.47" y1="664.53" x2="515.67" y2="664.53" stroke="#44ad78" stroke-width="0.9" stroke-linecap="butt"/>
<line x1="512.47" y1="666.34" x2="515.67" y2="666.34" stroke="#44ad78" stroke-width="0.9" stroke-linecap="butt"/>
<line x1="520.15" y1="651.48" x2="520.15" y2="647.86" stroke="#44ad78" stroke-width="0.9" stroke-linecap="butt"/>
<line x1="518.55" y1="647.86" x2="521.75" y2="647.86" stroke="#44ad78" stroke-width="0.9" stroke-linecap="butt"/>
<line x1="518.55" y1="651.48" x2="521.75" y2="651.48" stroke="#44ad78" stroke-width="0.9" stroke-linecap="butt"/>
<line x1="526.22" y1="640.61" x2="526.22" y2="635.17" stroke="#44ad78" stroke-width="0.9" stroke-linecap="butt"/>
<line x1="524.62" y1="635.17" x2="527.82" y2="635.17" stroke="#44ad78" stroke-width="0.9" stroke-linecap="butt"/>
<line x1="524.62" y1="640.61" x2="527.82" y2="640.61" stroke="#44ad78" stroke-width="0.9" stroke-linecap="butt"/>
<line x1="532.29" y1="634.54" x2="532.29" y2="625.48" stroke="#44ad78" stroke-width="0.9" stroke-linecap="butt"/>
<line x1="530.69" y1="625.48" x2="533.89" y2="625.48" stroke="#44ad78" stroke-width="0.9" stroke-linecap="butt"/>
<line x1="530.69" y1="634.54" x2="533.89" y2="634.54" stroke="#44ad78" stroke-width="0.9" stroke-linecap="butt"/>
<line x1="538.37" y1="630.64" x2="538.37" y2="623.39" stroke="#44ad78" stroke-width="0.9" stroke-linecap="butt"/>
<line x1="536.77" y1="623.39" x2="539.97" y2="623.39" stroke="#44ad78" stroke-width="0.9" stroke-linecap="butt"/>
<line x1="536.77" y1="630.64" x2="539.97" y2="630.64" stroke="#44ad78" stroke-width="0.9" stroke-linecap="butt"/>
<line x1="544.44" y1="630.55" x2="544.44" y2="621.49" stroke="#44ad78" stroke-width="0.9" stroke-linecap="butt"/>
<line x1="542.84" y1="621.49" x2="546.04" y2="621.49" stroke="#44ad78" stroke-width="0.9" stroke-linecap="butt"/>
<line x1="542.84" y1="630.55" x2="546.04" y2="630.55" stroke="#44ad78" stroke-width="0.9" stroke-linecap="butt"/>
<line x1="550.51" y1="629.10" x2="550.51" y2="620.95" stroke="#44ad78" stroke-width="0.9" stroke-linecap="butt"/>
<line x1="548.91" y1="620.95" x2="552.11" y2="620.95" stroke="#44ad78" stroke-width="0.9" stroke-linecap="butt"/>
<line x1="548.91" y1="629.10" x2="552.11" y2="629.10" stroke="#44ad78" stroke-width="0.9" stroke-linecap="butt"/>
<line x1="558.11" y1="628.29" x2="558.11" y2="621.04" stroke="#44ad78" stroke-width="0.9" stroke-linecap="butt"/>
<line x1="556.50" y1="621.04" x2="559.71" y2="621.04" stroke="#44ad78" stroke-width="0.9" stroke-linecap="butt"/>
<line x1="556.50" y1="628.29" x2="559.71" y2="628.29" stroke="#44ad78" stroke-width="0.9" stroke-linecap="butt"/>
<line x1="564.18" y1="626.75" x2="564.18" y2="621.31" stroke="#44ad78" stroke-width="0.9" stroke-linecap="butt"/>
<line x1="562.58" y1="621.31" x2="565.78" y2="621.31" stroke="#44ad78" stroke-width="0.9" stroke-linecap="butt"/>
<line x1="562.58" y1="626.75" x2="565.78" y2="626.75" stroke="#44ad78" stroke-width="0.9" stroke-linecap="butt"/>
<line x1="570.25" y1="627.38" x2="570.25" y2="621.94" stroke="#44ad78" stroke-width="0.9" stroke-linecap="butt"/>
<line x1="568.65" y1="621.94" x2="571.85" y2="621.94" stroke="#44ad78" stroke-width="0.9" stroke-linecap="butt"/>
<line x1="568.65" y1="627.38" x2="571.85" y2="627.38" stroke="#44ad78" stroke-width="0.9" stroke-linecap="butt"/>
<line x1="576.33" y1="627.74" x2="576.33" y2="622.31" stroke="#44ad78" stroke-width="0.9" stroke-linecap="butt"/>
<line x1="574.73" y1="622.31" x2="577.93" y2="622.31" stroke="#44ad78" stroke-width="0.9" stroke-linecap="butt"/>
<line x1="574.73" y1="627.74" x2="577.93" y2="627.74" stroke="#44ad78" stroke-width="0.9" stroke-linecap="butt"/>
<line x1="580.88" y1="627.38" x2="580.88" y2="621.94" stroke="#44ad78" stroke-width="0.9" stroke-linecap="butt"/>
<line x1="579.28" y1="621.94" x2="582.48" y2="621.94" stroke="#44ad78" stroke-width="0.9" stroke-linecap="butt"/>
<line x1="579.28" y1="627.38" x2="582.48" y2="627.38" stroke="#44ad78" stroke-width="0.9" stroke-linecap="butt"/>
<path d="M508.00,680.20 L514.07,665.43 L520.15,649.67 L526.22,637.89 L532.29,630.01 L538.37,627.02 L544.44,626.02 L550.51,625.02 L558.11,624.66 L564.18,624.03 L570.25,624.66 L576.33,625.02 L580.88,624.66" stroke="#44ad78" stroke-width="1.1" fill="none"/>
<circle cx="508.00" cy="680.20" r="1.60" fill="#44ad78"/>
<circle cx="514.07" cy="665.43" r="1.60" fill="#44ad78"/>
<circle cx="520.15" cy="649.67" r="1.60" fill="#44ad78"/>
<circle cx="526.22" cy="637.89" r="1.60" fill="#44ad78"/>
<circle cx="532.29" cy="630.01" r="1.60" fill="#44ad78"/>
<circle cx="538.37" cy="627.02" r="1.60" fill="#44ad78"/>
<circle cx="544.44" cy="626.02" r="1.60" fill="#44ad78"/>
<circle cx="550.51" cy="625.02" r="1.60" fill="#44ad78"/>
<circle cx="558.11" cy="624.66" r="1.60" fill="#44ad78"/>
<circle cx="564.18" cy="624.03" r="1.60" fill="#44ad78"/>
<circle cx="570.25" cy="624.66" r="1.60" fill="#44ad78"/>
<circle cx="576.33" cy="625.02" r="1.60" fill="#44ad78"/>
<circle cx="580.88" cy="624.66" r="1.60" fill="#44ad78"/>
<line x1="514.07" y1="666.34" x2="514.07" y2="664.53" stroke="#3a7bbf" stroke-width="0.9" stroke-linecap="butt"/>
<line x1="512.47" y1="664.53" x2="515.67" y2="664.53" stroke="#3a7bbf" stroke-width="0.9" stroke-linecap="butt"/>
<line x1="512.47" y1="666.34" x2="515.67" y2="666.34" stroke="#3a7bbf" stroke-width="0.9" stroke-linecap="butt"/>
<line x1="520.15" y1="659.45" x2="520.15" y2="657.64" stroke="#3a7bbf" stroke-width="0.9" stroke-linecap="butt"/>
<line x1="518.55" y1="657.64" x2="521.75" y2="657.64" stroke="#3a7bbf" stroke-width="0.9" stroke-linecap="butt"/>
<line x1="518.55" y1="659.45" x2="521.75" y2="659.45" stroke="#3a7bbf" stroke-width="0.9" stroke-linecap="butt"/>
<line x1="526.22" y1="651.48" x2="526.22" y2="647.86" stroke="#3a7bbf" stroke-width="0.9" stroke-linecap="butt"/>
<line x1="524.62" y1="647.86" x2="527.82" y2="647.86" stroke="#3a7bbf" stroke-width="0.9" stroke-linecap="butt"/>
<line x1="524.62" y1="651.48" x2="527.82" y2="651.48" stroke="#3a7bbf" stroke-width="0.9" stroke-linecap="butt"/>
<line x1="532.29" y1="646.50" x2="532.29" y2="643.78" stroke="#3a7bbf" stroke-width="0.9" stroke-linecap="butt"/>
<line x1="530.69" y1="643.78" x2="533.89" y2="643.78" stroke="#3a7bbf" stroke-width="0.9" stroke-linecap="butt"/>
<line x1="530.69" y1="646.50" x2="533.89" y2="646.50" stroke="#3a7bbf" stroke-width="0.9" stroke-linecap="butt"/>
<line x1="538.37" y1="645.14" x2="538.37" y2="642.42" stroke="#3a7bbf" stroke-width="0.9" stroke-linecap="butt"/>
<line x1="536.77" y1="642.42" x2="539.97" y2="642.42" stroke="#3a7bbf" stroke-width="0.9" stroke-linecap="butt"/>
<line x1="536.77" y1="645.14" x2="539.97" y2="645.14" stroke="#3a7bbf" stroke-width="0.9" stroke-linecap="butt"/>
<line x1="544.44" y1="643.78" x2="544.44" y2="641.06" stroke="#3a7bbf" stroke-width="0.9" stroke-linecap="butt"/>
<line x1="542.84" y1="641.06" x2="546.04" y2="641.06" stroke="#3a7bbf" stroke-width="0.9" stroke-linecap="butt"/>
<line x1="542.84" y1="643.78" x2="546.04" y2="643.78" stroke="#3a7bbf" stroke-width="0.9" stroke-linecap="butt"/>
<line x1="550.51" y1="642.60" x2="550.51" y2="639.88" stroke="#3a7bbf" stroke-width="0.9" stroke-linecap="butt"/>
<line x1="548.91" y1="639.88" x2="552.11" y2="639.88" stroke="#3a7bbf" stroke-width="0.9" stroke-linecap="butt"/>
<line x1="548.91" y1="642.60" x2="552.11" y2="642.60" stroke="#3a7bbf" stroke-width="0.9" stroke-linecap="butt"/>
<line x1="558.11" y1="641.70" x2="558.11" y2="639.88" stroke="#3a7bbf" stroke-width="0.9" stroke-linecap="butt"/>
<line x1="556.50" y1="639.88" x2="559.71" y2="639.88" stroke="#3a7bbf" stroke-width="0.9" stroke-linecap="butt"/>
<line x1="556.50" y1="641.70" x2="559.71" y2="641.70" stroke="#3a7bbf" stroke-width="0.9" stroke-linecap="butt"/>
<line x1="564.18" y1="641.15" x2="564.18" y2="638.43" stroke="#3a7bbf" stroke-width="0.9" stroke-linecap="butt"/>
<line x1="562.58" y1="638.43" x2="565.78" y2="638.43" stroke="#3a7bbf" stroke-width="0.9" stroke-linecap="butt"/>
<line x1="562.58" y1="641.15" x2="565.78" y2="641.15" stroke="#3a7bbf" stroke-width="0.9" stroke-linecap="butt"/>
<line x1="570.25" y1="642.15" x2="570.25" y2="640.34" stroke="#3a7bbf" stroke-width="0.9" stroke-linecap="butt"/>
<line x1="568.65" y1="640.34" x2="571.85" y2="640.34" stroke="#3a7bbf" stroke-width="0.9" stroke-linecap="butt"/>
<line x1="568.65" y1="642.15" x2="571.85" y2="642.15" stroke="#3a7bbf" stroke-width="0.9" stroke-linecap="butt"/>
<line x1="576.33" y1="641.70" x2="576.33" y2="639.88" stroke="#3a7bbf" stroke-width="0.9" stroke-linecap="butt"/>
<line x1="574.73" y1="639.88" x2="577.93" y2="639.88" stroke="#3a7bbf" stroke-width="0.9" stroke-linecap="butt"/>
<line x1="574.73" y1="641.70" x2="577.93" y2="641.70" stroke="#3a7bbf" stroke-width="0.9" stroke-linecap="butt"/>
<line x1="580.88" y1="642.15" x2="580.88" y2="640.34" stroke="#3a7bbf" stroke-width="0.9" stroke-linecap="butt"/>
<line x1="579.28" y1="640.34" x2="582.48" y2="640.34" stroke="#3a7bbf" stroke-width="0.9" stroke-linecap="butt"/>
<line x1="579.28" y1="642.15" x2="582.48" y2="642.15" stroke="#3a7bbf" stroke-width="0.9" stroke-linecap="butt"/>
<path d="M508.00,680.20 L514.07,665.43 L520.15,658.55 L526.22,649.67 L532.29,645.14 L538.37,643.78 L544.44,642.42 L550.51,641.24 L558.11,640.79 L564.18,639.79 L570.25,641.24 L576.33,640.79 L580.88,641.24" stroke="#3a7bbf" stroke-width="1.1" fill="none"/>
<circle cx="508.00" cy="680.20" r="1.60" fill="#3a7bbf"/>
<circle cx="514.07" cy="665.43" r="1.60" fill="#3a7bbf"/>
<circle cx="520.15" cy="658.55" r="1.60" fill="#3a7bbf"/>
<circle cx="526.22" cy="649.67" r="1.60" fill="#3a7bbf"/>
<circle cx="532.29" cy="645.14" r="1.60" fill="#3a7bbf"/>
<circle cx="538.37" cy="643.78" r="1.60" fill="#3a7bbf"/>
<circle cx="544.44" cy="642.42" r="1.60" fill="#3a7bbf"/>
<circle cx="550.51" cy="641.24" r="1.60" fill="#3a7bbf"/>
<circle cx="558.11" cy="640.79" r="1.60" fill="#3a7bbf"/>
<circle cx="564.18" cy="639.79" r="1.60" fill="#3a7bbf"/>
<circle cx="570.25" cy="641.24" r="1.60" fill="#3a7bbf"/>
<circle cx="576.33" cy="640.79" r="1.60" fill="#3a7bbf"/>
<circle cx="580.88" cy="641.24" r="1.60" fill="#3a7bbf"/>
<line x1="617.80" y1="595.40" x2="628.90" y2="595.40" stroke="#7f7f7f" stroke-width="1.15" stroke-linecap="butt"/>
<circle cx="623.35" cy="595.40" r="1.50" fill="#7f7f7f"/>
<text x="635.10" y="597.92" font-size="7.00" font-weight="bold" text-anchor="start" fill="#111" stroke="#111" stroke-width="0.18">Control</text>
<line x1="617.80" y1="608.00" x2="628.90" y2="608.00" stroke="#44ad78" stroke-width="1.15" stroke-linecap="butt"/>
<circle cx="623.35" cy="608.00" r="1.50" fill="#44ad78"/>
<text x="635.10" y="610.52" font-size="7.00" font-weight="bold" text-anchor="start" fill="#111" stroke="#111" stroke-width="0.18">Anlotinib</text>
<line x1="617.80" y1="621.50" x2="628.90" y2="621.50" stroke="#c572b0" stroke-width="1.15" stroke-linecap="butt"/>
<circle cx="623.35" cy="621.50" r="1.50" fill="#c572b0"/>
<text x="635.10" y="624.02" font-size="7.00" font-weight="bold" text-anchor="start" fill="#111" stroke="#111" stroke-width="0.18">Sotorasib</text>
<line x1="617.80" y1="635.50" x2="628.90" y2="635.50" stroke="#3a7bbf" stroke-width="1.15" stroke-linecap="butt"/>
<circle cx="623.35" cy="635.50" r="1.50" fill="#3a7bbf"/>
<text x="635.10" y="638.02" font-size="7.00" font-weight="bold" text-anchor="start" fill="#111" stroke="#111" stroke-width="0.18">Combo</text>
<text x="23.40" y="484.50" font-size="5.00" font-weight="bold" text-anchor="middle" fill="#111" stroke="#111" stroke-width="0.18">Control</text>
<text x="64.20" y="484.50" font-size="5.00" font-weight="bold" text-anchor="middle" fill="#111" stroke="#111" stroke-width="0.18">Sotorasib</text>
<text x="105.90" y="484.50" font-size="5.00" font-weight="bold" text-anchor="middle" fill="#111" stroke="#111" stroke-width="0.18">Anlotinib</text>
<text x="146.70" y="484.50" font-size="5.00" font-weight="bold" text-anchor="middle" fill="#111" stroke="#111" stroke-width="0.18">Combo</text>
<circle cx="22.50" cy="508.80" r="18.60" fill="#d9dadf"/>
<rect x="18.8" y="514.3" width="1.2" height="1.2" fill="#7340e0" opacity="0.49"/>
<rect x="11.8" y="506.0" width="0.7" height="0.7" fill="#7340e0" opacity="0.73"/>
<rect x="33.4" y="511.1" width="0.8" height="0.8" fill="#7340e0" opacity="0.50"/>
<rect x="7.9" y="515.7" width="0.8" height="0.8" fill="#7340e0" opacity="0.57"/>
<rect x="10.0" y="495.9" width="1.2" height="1.2" fill="#7340e0" opacity="0.67"/>
<rect x="25.6" y="507.5" width="1.4" height="1.4" fill="#7340e0" opacity="0.61"/>
<rect x="25.8" y="513.1" width="0.9" height="0.9" fill="#7340e0" opacity="0.90"/>
<rect x="27.6" y="520.4" width="1.2" height="1.2" fill="#7340e0" opacity="0.65"/>
<rect x="17.9" y="507.1" width="0.7" height="0.7" fill="#7340e0" opacity="0.56"/>
<rect x="17.2" y="497.9" width="1.0" height="1.0" fill="#7340e0" opacity="0.77"/>
<rect x="12.6" y="510.9" width="1.3" height="1.3" fill="#7340e0" opacity="0.83"/>
<rect x="22.4" y="521.6" width="1.1" height="1.1" fill="#7340e0" opacity="0.93"/>
<rect x="20.5" y="498.7" width="1.5" height="1.5" fill="#7340e0" opacity="0.51"/>
<rect x="8.8" y="515.9" width="0.8" height="0.8" fill="#7340e0" opacity="0.72"/>
<rect x="35.8" y="511.7" width="1.3" height="1.3" fill="#7340e0" opacity="0.77"/>
<rect x="28.9" y="501.2" width="1.3" height="1.3" fill="#7340e0" opacity="0.78"/>
<rect x="11.4" y="502.4" width="1.4" height="1.4" fill="#7340e0" opacity="0.97"/>
<rect x="8.0" y="510.7" width="0.7" height="0.7" fill="#7340e0" opacity="0.84"/>
<rect x="11.3" y="494.1" width="1.4" height="1.4" fill="#7340e0" opacity="0.61"/>
<rect x="11.3" y="517.9" width="0.7" height="0.7" fill="#7340e0" opacity="0.70"/>
<rect x="25.1" y="513.7" width="0.7" height="0.7" fill="#7340e0" opacity="0.87"/>
<rect x="28.0" y="514.7" width="1.0" height="1.0" fill="#7340e0" opacity="0.93"/>
<rect x="32.2" y="514.0" width="1.1" height="1.1" fill="#7340e0" opacity="0.94"/>
<rect x="28.9" y="493.5" width="0.9" height="0.9" fill="#7340e0" opacity="0.68"/>
<rect x="11.3" y="520.9" width="1.5" height="1.5" fill="#7340e0" opacity="0.53"/>
<rect x="25.8" y="515.9" width="0.9" height="0.9" fill="#7340e0" opacity="0.72"/>
<rect x="14.5" y="503.7" width="0.7" height="0.7" fill="#7340e0" opacity="0.68"/>
<rect x="12.7" y="517.8" width="1.5" height="1.5" fill="#7340e0" opacity="0.83"/>
<rect x="8.1" y="506.8" width="1.2" height="1.2" fill="#7340e0" opacity="0.48"/>
<rect x="34.3" y="498.9" width="1.4" height="1.4" fill="#7340e0" opacity="0.89"/>
<rect x="13.4" y="515.4" width="0.8" height="0.8" fill="#7340e0" opacity="0.80"/>
<rect x="26.3" y="510.1" width="0.9" height="0.9" fill="#7340e0" opacity="0.54"/>
<rect x="20.0" y="511.9" width="0.7" height="0.7" fill="#7340e0" opacity="0.53"/>
<rect x="30.7" y="514.8" width="0.7" height="0.7" fill="#7340e0" opacity="0.93"/>
<rect x="16.9" y="503.9" width="0.9" height="0.9" fill="#7340e0" opacity="0.64"/>
<rect x="17.8" y="512.8" width="1.4" height="1.4" fill="#7340e0" opacity="1.00"/>
<rect x="10.2" y="511.0" width="0.8" height="0.8" fill="#7340e0" opacity="0.51"/>
<rect x="16.8" y="515.7" width="1.4" height="1.4" fill="#7340e0" opacity="0.54"/>
<rect x="38.9" y="510.7" width="1.1" height="1.1" fill="#7340e0" opacity="0.53"/>
<rect x="19.2" y="507.5" width="1.1" height="1.1" fill="#7340e0" opacity="0.99"/>
<rect x="31.6" y="497.2" width="0.9" height="0.9" fill="#7340e0" opacity="0.65"/>
<rect x="29.6" y="521.6" width="1.1" height="1.1" fill="#7340e0" opacity="0.88"/>
<rect x="17.8" y="515.4" width="1.3" height="1.3" fill="#7340e0" opacity="0.99"/>
<rect x="31.3" y="495.5" width="1.4" height="1.4" fill="#7340e0" opacity="0.86"/>
<rect x="23.9" y="520.8" width="1.0" height="1.0" fill="#7340e0" opacity="0.47"/>
<rect x="31.2" y="510.0" width="0.9" height="0.9" fill="#7340e0" opacity="0.83"/>
<rect x="33.1" y="504.9" width="1.4" height="1.4" fill="#7340e0" opacity="0.99"/>
<rect x="32.3" y="505.4" width="0.9" height="0.9" fill="#7340e0" opacity="0.57"/>
<rect x="24.5" y="515.7" width="1.2" height="1.2" fill="#7340e0" opacity="0.95"/>
<rect x="28.4" y="497.9" width="1.2" height="1.2" fill="#7340e0" opacity="0.89"/>
<rect x="34.1" y="515.4" width="1.4" height="1.4" fill="#7340e0" opacity="0.88"/>
<rect x="22.1" y="496.2" width="0.8" height="0.8" fill="#7340e0" opacity="0.88"/>
<rect x="14.0" y="521.7" width="1.5" height="1.5" fill="#7340e0" opacity="0.67"/>
<rect x="7.9" y="518.1" width="1.3" height="1.3" fill="#7340e0" opacity="0.54"/>
<rect x="26.6" y="513.0" width="1.4" height="1.4" fill="#7340e0" opacity="0.89"/>
<rect x="31.5" y="520.8" width="1.5" height="1.5" fill="#7340e0" opacity="0.81"/>
<rect x="14.4" y="518.9" width="0.8" height="0.8" fill="#7340e0" opacity="0.46"/>
<rect x="35.9" y="505.7" width="1.1" height="1.1" fill="#7340e0" opacity="0.96"/>
<rect x="6.8" y="514.8" width="1.4" height="1.4" fill="#7340e0" opacity="0.57"/>
<rect x="21.9" y="517.9" width="0.9" height="0.9" fill="#7340e0" opacity="0.77"/>
<rect x="21.4" y="519.8" width="0.8" height="0.8" fill="#7340e0" opacity="0.95"/>
<rect x="14.7" y="517.7" width="1.2" height="1.2" fill="#7340e0" opacity="0.95"/>
<rect x="7.1" y="516.3" width="1.1" height="1.1" fill="#7340e0" opacity="0.74"/>
<rect x="19.6" y="507.9" width="1.1" height="1.1" fill="#7340e0" opacity="0.55"/>
<rect x="37.8" y="508.8" width="0.8" height="0.8" fill="#7340e0" opacity="0.71"/>
<rect x="20.0" y="495.3" width="1.0" height="1.0" fill="#7340e0" opacity="0.74"/>
<rect x="7.5" y="503.1" width="0.8" height="0.8" fill="#7340e0" opacity="0.76"/>
<rect x="21.9" y="517.4" width="1.3" height="1.3" fill="#7340e0" opacity="0.73"/>
<rect x="7.6" y="502.3" width="1.4" height="1.4" fill="#7340e0" opacity="0.69"/>
<rect x="12.4" y="500.1" width="1.1" height="1.1" fill="#7340e0" opacity="0.83"/>
<rect x="9.7" y="512.0" width="1.1" height="1.1" fill="#7340e0" opacity="0.97"/>
<rect x="16.6" y="492.4" width="1.5" height="1.5" fill="#7340e0" opacity="0.59"/>
<rect x="5.9" y="501.9" width="1.4" height="1.4" fill="#7340e0" opacity="0.53"/>
<rect x="30.6" y="516.5" width="0.8" height="0.8" fill="#7340e0" opacity="0.58"/>
<rect x="34.7" y="514.5" width="1.3" height="1.3" fill="#7340e0" opacity="0.94"/>
<rect x="30.3" y="520.5" width="1.2" height="1.2" fill="#7340e0" opacity="0.53"/>
<rect x="34.9" y="496.7" width="0.9" height="0.9" fill="#7340e0" opacity="0.97"/>
<rect x="11.9" y="515.4" width="1.5" height="1.5" fill="#7340e0" opacity="0.91"/>
<rect x="28.0" y="518.1" width="1.1" height="1.1" fill="#7340e0" opacity="0.64"/>
<rect x="25.2" y="517.5" width="1.3" height="1.3" fill="#7340e0" opacity="0.46"/>
<rect x="11.1" y="504.6" width="0.7" height="0.7" fill="#7340e0" opacity="0.63"/>
<rect x="13.2" y="499.6" width="0.8" height="0.8" fill="#7340e0" opacity="0.99"/>
<rect x="26.2" y="491.6" width="0.8" height="0.8" fill="#7340e0" opacity="0.60"/>
<rect x="37.1" y="512.2" width="0.9" height="0.9" fill="#7340e0" opacity="0.52"/>
<rect x="7.0" y="516.0" width="1.4" height="1.4" fill="#7340e0" opacity="0.59"/>
<rect x="31.9" y="521.8" width="1.2" height="1.2" fill="#7340e0" opacity="0.84"/>
<rect x="25.4" y="510.4" width="1.3" height="1.3" fill="#7340e0" opacity="0.68"/>
<rect x="37.2" y="515.7" width="1.2" height="1.2" fill="#7340e0" opacity="0.89"/>
<rect x="36.2" y="516.6" width="0.8" height="0.8" fill="#7340e0" opacity="0.92"/>
<rect x="12.1" y="511.2" width="1.1" height="1.1" fill="#7340e0" opacity="0.96"/>
<rect x="21.2" y="514.5" width="1.1" height="1.1" fill="#7340e0" opacity="0.58"/>
<rect x="27.6" y="512.9" width="0.7" height="0.7" fill="#7340e0" opacity="0.56"/>
<rect x="18.2" y="517.1" width="1.3" height="1.3" fill="#7340e0" opacity="0.61"/>
<rect x="14.6" y="508.3" width="1.0" height="1.0" fill="#7340e0" opacity="0.46"/>
<rect x="21.9" y="510.3" width="1.3" height="1.3" fill="#7340e0" opacity="0.75"/>
<rect x="26.3" y="519.3" width="1.4" height="1.4" fill="#7340e0" opacity="0.51"/>
<rect x="26.8" y="497.7" width="1.1" height="1.1" fill="#7340e0" opacity="0.91"/>
<rect x="12.1" y="516.0" width="1.3" height="1.3" fill="#7340e0" opacity="0.99"/>
<rect x="13.0" y="521.6" width="1.3" height="1.3" fill="#7340e0" opacity="0.80"/>
<rect x="13.6" y="514.3" width="0.7" height="0.7" fill="#7340e0" opacity="0.52"/>
<rect x="35.7" y="514.9" width="0.9" height="0.9" fill="#7340e0" opacity="0.54"/>
<rect x="35.7" y="516.3" width="1.4" height="1.4" fill="#7340e0" opacity="0.82"/>
<rect x="20.3" y="516.8" width="0.9" height="0.9" fill="#7340e0" opacity="0.70"/>
<rect x="28.5" y="518.2" width="0.9" height="0.9" fill="#7340e0" opacity="0.98"/>
<rect x="34.9" y="506.1" width="0.9" height="0.9" fill="#7340e0" opacity="0.98"/>
<rect x="18.3" y="518.2" width="0.7" height="0.7" fill="#7340e0" opacity="0.66"/>
<rect x="9.7" y="510.3" width="0.9" height="0.9" fill="#7340e0" opacity="0.73"/>
<rect x="31.2" y="508.7" width="0.8" height="0.8" fill="#7340e0" opacity="0.67"/>
<rect x="24.6" y="509.0" width="0.9" height="0.9" fill="#7340e0" opacity="0.58"/>
<rect x="10.9" y="501.6" width="1.3" height="1.3" fill="#7340e0" opacity="0.81"/>
<rect x="18.5" y="492.2" width="1.0" height="1.0" fill="#7340e0" opacity="0.63"/>
<rect x="28.6" y="507.5" width="1.3" height="1.3" fill="#7340e0" opacity="0.80"/>
<rect x="37.3" y="512.5" width="1.4" height="1.4" fill="#7340e0" opacity="0.80"/>
<rect x="20.5" y="492.6" width="0.8" height="0.8" fill="#7340e0" opacity="0.74"/>
<rect x="5.8" y="507.7" width="1.3" height="1.3" fill="#7340e0" opacity="0.90"/>
<rect x="7.5" y="499.8" width="1.2" height="1.2" fill="#7340e0" opacity="0.83"/>
<rect x="22.5" y="511.5" width="0.8" height="0.8" fill="#7340e0" opacity="0.65"/>
<rect x="34.6" y="518.1" width="1.1" height="1.1" fill="#7340e0" opacity="0.80"/>
<rect x="11.8" y="497.9" width="1.1" height="1.1" fill="#7340e0" opacity="0.45"/>
<rect x="26.4" y="493.7" width="1.1" height="1.1" fill="#7340e0" opacity="0.74"/>
<rect x="19.4" y="504.3" width="1.3" height="1.3" fill="#7340e0" opacity="0.59"/>
<rect x="30.0" y="512.2" width="1.3" height="1.3" fill="#7340e0" opacity="0.56"/>
<rect x="20.8" y="490.9" width="1.1" height="1.1" fill="#7340e0" opacity="0.66"/>
<rect x="7.4" y="510.1" width="1.3" height="1.3" fill="#7340e0" opacity="0.79"/>
<rect x="19.0" y="504.6" width="0.8" height="0.8" fill="#7340e0" opacity="0.59"/>
<rect x="21.5" y="498.5" width="1.2" height="1.2" fill="#7340e0" opacity="0.46"/>
<rect x="30.4" y="511.6" width="1.2" height="1.2" fill="#7340e0" opacity="0.83"/>
<rect x="17.7" y="499.8" width="1.1" height="1.1" fill="#7340e0" opacity="0.71"/>
<rect x="15.9" y="509.4" width="1.4" height="1.4" fill="#7340e0" opacity="0.56"/>
<rect x="39.0" y="506.1" width="0.7" height="0.7" fill="#7340e0" opacity="0.70"/>
<rect x="29.3" y="492.6" width="1.1" height="1.1" fill="#7340e0" opacity="0.60"/>
<rect x="26.3" y="524.9" width="0.9" height="0.9" fill="#7340e0" opacity="0.77"/>
<rect x="29.8" y="518.0" width="1.5" height="1.5" fill="#7340e0" opacity="0.52"/>
<rect x="27.2" y="496.7" width="1.4" height="1.4" fill="#7340e0" opacity="0.84"/>
<rect x="23.9" y="524.8" width="1.1" height="1.1" fill="#7340e0" opacity="0.46"/>
<rect x="34.3" y="508.5" width="1.1" height="1.1" fill="#7340e0" opacity="0.62"/>
<rect x="28.6" y="516.3" width="1.0" height="1.0" fill="#7340e0" opacity="0.91"/>
<rect x="37.1" y="508.3" width="1.4" height="1.4" fill="#7340e0" opacity="0.52"/>
<rect x="35.1" y="501.5" width="1.4" height="1.4" fill="#7340e0" opacity="0.61"/>
<rect x="14.1" y="516.0" width="1.5" height="1.5" fill="#7340e0" opacity="0.77"/>
<rect x="14.7" y="517.2" width="0.9" height="0.9" fill="#7340e0" opacity="0.48"/>
<rect x="34.9" y="517.9" width="0.9" height="0.9" fill="#7340e0" opacity="0.96"/>
<rect x="22.0" y="517.3" width="1.1" height="1.1" fill="#7340e0" opacity="0.55"/>
<rect x="9.8" y="520.4" width="1.4" height="1.4" fill="#7340e0" opacity="0.90"/>
<rect x="10.3" y="495.7" width="1.5" height="1.5" fill="#7340e0" opacity="0.75"/>
<rect x="21.1" y="504.3" width="1.3" height="1.3" fill="#7340e0" opacity="0.70"/>
<rect x="22.3" y="494.2" width="0.9" height="0.9" fill="#7340e0" opacity="0.48"/>
<rect x="27.6" y="505.5" width="1.1" height="1.1" fill="#7340e0" opacity="0.64"/>
<rect x="17.3" y="522.5" width="1.5" height="1.5" fill="#7340e0" opacity="0.59"/>
<rect x="16.6" y="500.2" width="1.1" height="1.1" fill="#7340e0" opacity="0.67"/>
<rect x="25.6" y="514.5" width="0.9" height="0.9" fill="#7340e0" opacity="0.95"/>
<rect x="13.5" y="508.2" width="1.4" height="1.4" fill="#7340e0" opacity="1.00"/>
<rect x="15.8" y="510.4" width="0.9" height="0.9" fill="#7340e0" opacity="0.50"/>
<rect x="19.2" y="512.8" width="0.9" height="0.9" fill="#7340e0" opacity="0.59"/>
<rect x="6.8" y="501.1" width="1.3" height="1.3" fill="#7340e0" opacity="0.68"/>
<rect x="11.1" y="514.9" width="1.0" height="1.0" fill="#7340e0" opacity="0.64"/>
<rect x="30.3" y="511.6" width="1.5" height="1.5" fill="#7340e0" opacity="0.52"/>
<rect x="7.8" y="507.8" width="1.4" height="1.4" fill="#7340e0" opacity="0.57"/>
<rect x="20.8" y="517.0" width="1.0" height="1.0" fill="#7340e0" opacity="0.70"/>
<rect x="37.3" y="503.5" width="1.4" height="1.4" fill="#7340e0" opacity="0.46"/>
<rect x="36.3" y="511.1" width="1.4" height="1.4" fill="#7340e0" opacity="0.71"/>
<rect x="21.8" y="508.2" width="1.0" height="1.0" fill="#7340e0" opacity="0.96"/>
<rect x="29.2" y="493.6" width="1.5" height="1.5" fill="#7340e0" opacity="0.59"/>
<rect x="27.3" y="512.6" width="1.1" height="1.1" fill="#7340e0" opacity="0.83"/>
<rect x="35.8" y="502.8" width="1.2" height="1.2" fill="#7340e0" opacity="0.87"/>
<rect x="9.5" y="511.9" width="0.7" height="0.7" fill="#7340e0" opacity="0.88"/>
<rect x="23.7" y="525.0" width="1.2" height="1.2" fill="#7340e0" opacity="0.62"/>
<rect x="28.0" y="514.6" width="1.2" height="1.2" fill="#7340e0" opacity="0.83"/>
<rect x="25.5" y="511.3" width="1.1" height="1.1" fill="#7340e0" opacity="0.77"/>
<rect x="15.6" y="513.6" width="1.2" height="1.2" fill="#7340e0" opacity="0.46"/>
<rect x="18.0" y="519.4" width="1.5" height="1.5" fill="#7340e0" opacity="0.80"/>
<rect x="31.1" y="500.3" width="0.9" height="0.9" fill="#7340e0" opacity="0.59"/>
<rect x="36.4" y="504.7" width="0.9" height="0.9" fill="#7340e0" opacity="0.46"/>
<rect x="7.5" y="508.4" width="1.0" height="1.0" fill="#7340e0" opacity="0.59"/>
<rect x="13.7" y="493.7" width="0.9" height="0.9" fill="#7340e0" opacity="0.47"/>
<rect x="15.9" y="517.9" width="1.2" height="1.2" fill="#7340e0" opacity="0.56"/>
<rect x="26.4" y="493.8" width="1.1" height="1.1" fill="#7340e0" opacity="0.56"/>
<rect x="31.5" y="506.3" width="1.4" height="1.4" fill="#7340e0" opacity="0.58"/>
<rect x="24.8" y="523.4" width="0.9" height="0.9" fill="#7340e0" opacity="0.97"/>
<rect x="14.4" y="508.6" width="0.9" height="0.9" fill="#7340e0" opacity="0.68"/>
<rect x="13.4" y="493.6" width="0.8" height="0.8" fill="#7340e0" opacity="0.67"/>
<rect x="26.1" y="525.3" width="0.8" height="0.8" fill="#7340e0" opacity="0.48"/>
<rect x="32.1" y="512.2" width="1.4" height="1.4" fill="#7340e0" opacity="0.94"/>
<rect x="19.9" y="490.6" width="1.4" height="1.4" fill="#7340e0" opacity="0.63"/>
<rect x="28.6" y="523.8" width="1.3" height="1.3" fill="#7340e0" opacity="0.47"/>
<rect x="16.5" y="499.0" width="1.0" height="1.0" fill="#7340e0" opacity="0.63"/>
<rect x="22.5" y="509.2" width="0.9" height="0.9" fill="#7340e0" opacity="0.64"/>
<rect x="27.7" y="506.4" width="1.5" height="1.5" fill="#7340e0" opacity="0.56"/>
<rect x="11.9" y="520.6" width="1.4" height="1.4" fill="#7340e0" opacity="0.69"/>
<rect x="33.5" y="512.0" width="1.0" height="1.0" fill="#7340e0" opacity="0.96"/>
<rect x="25.5" y="518.0" width="1.4" height="1.4" fill="#7340e0" opacity="0.47"/>
<rect x="8.4" y="516.6" width="1.3" height="1.3" fill="#7340e0" opacity="0.47"/>
<rect x="26.1" y="509.0" width="1.4" height="1.4" fill="#7340e0" opacity="0.59"/>
<rect x="21.7" y="491.6" width="1.0" height="1.0" fill="#7340e0" opacity="0.60"/>
<rect x="35.4" y="504.7" width="0.9" height="0.9" fill="#7340e0" opacity="0.84"/>
<rect x="18.4" y="516.9" width="0.7" height="0.7" fill="#7340e0" opacity="0.87"/>
<rect x="33.9" y="501.1" width="1.5" height="1.5" fill="#7340e0" opacity="0.46"/>
<rect x="23.0" y="520.1" width="1.5" height="1.5" fill="#7340e0" opacity="0.97"/>
<rect x="15.3" y="514.0" width="1.0" height="1.0" fill="#7340e0" opacity="0.72"/>
<rect x="28.6" y="504.8" width="1.3" height="1.3" fill="#7340e0" opacity="0.86"/>
<rect x="28.7" y="494.3" width="1.2" height="1.2" fill="#7340e0" opacity="0.63"/>
<rect x="17.4" y="517.7" width="1.3" height="1.3" fill="#7340e0" opacity="0.49"/>
<rect x="27.0" y="522.8" width="0.9" height="0.9" fill="#7340e0" opacity="0.49"/>
<rect x="34.8" y="511.1" width="1.0" height="1.0" fill="#7340e0" opacity="0.99"/>
<rect x="35.1" y="496.7" width="0.9" height="0.9" fill="#7340e0" opacity="0.50"/>
<rect x="32.1" y="515.2" width="1.3" height="1.3" fill="#7340e0" opacity="0.70"/>
<rect x="23.0" y="519.5" width="1.2" height="1.2" fill="#7340e0" opacity="0.82"/>
<rect x="21.7" y="492.0" width="1.2" height="1.2" fill="#7340e0" opacity="0.52"/>
<rect x="27.1" y="500.2" width="1.2" height="1.2" fill="#7340e0" opacity="0.66"/>
<rect x="21.5" y="500.5" width="0.9" height="0.9" fill="#7340e0" opacity="0.58"/>
<rect x="31.4" y="521.8" width="1.2" height="1.2" fill="#7340e0" opacity="0.63"/>
<rect x="8.0" y="518.9" width="1.1" height="1.1" fill="#7340e0" opacity="0.58"/>
<rect x="26.9" y="494.8" width="1.5" height="1.5" fill="#7340e0" opacity="0.51"/>
<rect x="6.1" y="510.6" width="1.4" height="1.4" fill="#7340e0" opacity="0.95"/>
<rect x="31.3" y="510.8" width="0.8" height="0.8" fill="#7340e0" opacity="0.55"/>
<rect x="35.0" y="505.8" width="1.4" height="1.4" fill="#7340e0" opacity="0.65"/>
<rect x="29.9" y="499.6" width="0.9" height="0.9" fill="#7340e0" opacity="0.88"/>
<rect x="27.3" y="506.3" width="1.2" height="1.2" fill="#7340e0" opacity="0.79"/>
<rect x="24.3" y="518.9" width="0.8" height="0.8" fill="#7340e0" opacity="0.56"/>
<rect x="21.5" y="521.8" width="1.2" height="1.2" fill="#7340e0" opacity="0.56"/>
<rect x="31.9" y="508.9" width="1.2" height="1.2" fill="#7340e0" opacity="0.55"/>
<rect x="18.8" y="515.5" width="1.3" height="1.3" fill="#7340e0" opacity="0.75"/>
<rect x="27.2" y="510.5" width="1.0" height="1.0" fill="#7340e0" opacity="0.75"/>
<rect x="18.7" y="504.3" width="0.8" height="0.8" fill="#7340e0" opacity="0.83"/>
<rect x="14.1" y="513.4" width="0.9" height="0.9" fill="#7340e0" opacity="0.97"/>
<rect x="16.9" y="520.6" width="1.0" height="1.0" fill="#7340e0" opacity="0.68"/>
<rect x="33.6" y="495.1" width="1.0" height="1.0" fill="#7340e0" opacity="0.56"/>
<rect x="21.1" y="500.6" width="0.7" height="0.7" fill="#7340e0" opacity="0.95"/>
<rect x="7.8" y="515.6" width="1.0" height="1.0" fill="#7340e0" opacity="0.94"/>
<rect x="15.3" y="510.2" width="0.7" height="0.7" fill="#7340e0" opacity="0.75"/>
<circle cx="12.5" cy="496.6" r="0.6" fill="#7340e0" opacity="0.82"/>
<circle cx="14.4" cy="517.4" r="0.7" fill="#7340e0" opacity="0.70"/>
<circle cx="6.7" cy="506.7" r="0.7" fill="#7340e0" opacity="0.77"/>
<circle cx="28.0" cy="493.4" r="0.7" fill="#7340e0" opacity="0.64"/>
<circle cx="37.9" cy="503.1" r="0.8" fill="#7340e0" opacity="0.62"/>
<circle cx="31.7" cy="504.2" r="1.1" fill="#7340e0" opacity="0.82"/>
<circle cx="25.5" cy="502.9" r="1.0" fill="#7340e0" opacity="0.68"/>
<circle cx="9.9" cy="517.4" r="1.0" fill="#7340e0" opacity="0.66"/>
<circle cx="24.6" cy="519.1" r="0.9" fill="#7340e0" opacity="0.73"/>
<circle cx="28.4" cy="514.6" r="1.0" fill="#7340e0" opacity="0.91"/>
<circle cx="63.70" cy="509.30" r="18.40" fill="#d9dcd9"/>
<rect x="75.8" y="512.1" width="1.1" height="1.1" fill="#7340e0" opacity="0.37"/>
<rect x="66.3" y="503.7" width="1.0" height="1.0" fill="#7340e0" opacity="0.68"/>
<rect x="56.5" y="502.0" width="0.9" height="0.9" fill="#7340e0" opacity="0.70"/>
<rect x="50.6" y="515.2" width="0.9" height="0.9" fill="#7340e0" opacity="0.61"/>
<rect x="76.8" y="510.8" width="0.9" height="0.9" fill="#7340e0" opacity="0.49"/>
<rect x="64.5" y="493.5" width="0.9" height="0.9" fill="#7340e0" opacity="0.46"/>
<rect x="57.7" y="509.9" width="0.7" height="0.7" fill="#7340e0" opacity="0.61"/>
<rect x="72.9" y="515.1" width="1.0" height="1.0" fill="#7340e0" opacity="0.37"/>
<rect x="59.9" y="505.0" width="1.1" height="1.1" fill="#7340e0" opacity="0.82"/>
<rect x="59.2" y="508.5" width="1.0" height="1.0" fill="#7340e0" opacity="0.58"/>
<rect x="69.2" y="506.7" width="1.2" height="1.2" fill="#7340e0" opacity="0.95"/>
<rect x="61.6" y="493.3" width="0.7" height="0.7" fill="#7340e0" opacity="0.94"/>
<rect x="46.1" y="509.5" width="1.2" height="1.2" fill="#7340e0" opacity="0.45"/>
<rect x="67.4" y="492.7" width="0.6" height="0.6" fill="#7340e0" opacity="0.56"/>
<rect x="63.4" y="501.8" width="1.2" height="1.2" fill="#7340e0" opacity="0.51"/>
<rect x="65.9" y="502.8" width="1.0" height="1.0" fill="#7340e0" opacity="0.90"/>
<rect x="65.5" y="517.4" width="1.0" height="1.0" fill="#7340e0" opacity="0.54"/>
<rect x="70.6" y="510.6" width="0.7" height="0.7" fill="#7340e0" opacity="0.91"/>
<rect x="56.3" y="494.1" width="0.7" height="0.7" fill="#7340e0" opacity="0.82"/>
<rect x="72.7" y="517.2" width="1.0" height="1.0" fill="#7340e0" opacity="0.57"/>
<rect x="72.2" y="499.5" width="1.0" height="1.0" fill="#7340e0" opacity="0.88"/>
<rect x="76.9" y="519.4" width="1.0" height="1.0" fill="#7340e0" opacity="0.59"/>
<rect x="65.7" y="500.1" width="1.3" height="1.3" fill="#7340e0" opacity="0.70"/>
<rect x="53.5" y="520.6" width="0.9" height="0.9" fill="#7340e0" opacity="0.46"/>
<rect x="63.0" y="504.9" width="1.2" height="1.2" fill="#7340e0" opacity="0.50"/>
<rect x="52.1" y="495.5" width="1.0" height="1.0" fill="#7340e0" opacity="0.75"/>
<rect x="63.1" y="509.7" width="0.6" height="0.6" fill="#7340e0" opacity="0.44"/>
<rect x="54.7" y="501.2" width="1.0" height="1.0" fill="#7340e0" opacity="0.89"/>
<rect x="68.8" y="514.9" width="1.1" height="1.1" fill="#7340e0" opacity="0.36"/>
<rect x="73.7" y="509.1" width="0.7" height="0.7" fill="#7340e0" opacity="0.56"/>
<rect x="65.3" y="521.9" width="1.0" height="1.0" fill="#7340e0" opacity="0.47"/>
<rect x="54.8" y="500.5" width="0.7" height="0.7" fill="#7340e0" opacity="0.91"/>
<rect x="63.6" y="515.7" width="0.7" height="0.7" fill="#7340e0" opacity="0.73"/>
<rect x="73.9" y="497.7" width="0.9" height="0.9" fill="#7340e0" opacity="0.51"/>
<rect x="77.1" y="509.8" width="1.0" height="1.0" fill="#7340e0" opacity="0.56"/>
<rect x="56.0" y="499.5" width="1.3" height="1.3" fill="#7340e0" opacity="0.79"/>
<rect x="63.5" y="525.5" width="0.6" height="0.6" fill="#7340e0" opacity="0.67"/>
<rect x="56.3" y="513.7" width="0.6" height="0.6" fill="#7340e0" opacity="0.82"/>
<rect x="75.9" y="509.7" width="1.3" height="1.3" fill="#7340e0" opacity="0.44"/>
<rect x="67.5" y="521.7" width="1.0" height="1.0" fill="#7340e0" opacity="0.73"/>
<rect x="66.1" y="502.2" width="0.8" height="0.8" fill="#7340e0" opacity="0.53"/>
<rect x="78.8" y="513.6" width="1.1" height="1.1" fill="#7340e0" opacity="0.78"/>
<rect x="79.1" y="509.4" width="1.1" height="1.1" fill="#7340e0" opacity="0.63"/>
<rect x="62.7" y="497.2" width="0.8" height="0.8" fill="#7340e0" opacity="0.41"/>
<rect x="63.7" y="512.3" width="0.8" height="0.8" fill="#7340e0" opacity="0.80"/>
<rect x="57.7" y="493.7" width="1.1" height="1.1" fill="#7340e0" opacity="0.51"/>
<rect x="52.3" y="504.9" width="1.2" height="1.2" fill="#7340e0" opacity="0.66"/>
<rect x="61.7" y="522.5" width="1.3" height="1.3" fill="#7340e0" opacity="0.48"/>
<rect x="64.9" y="507.4" width="0.8" height="0.8" fill="#7340e0" opacity="0.49"/>
<rect x="62.5" y="491.8" width="1.1" height="1.1" fill="#7340e0" opacity="0.55"/>
<rect x="70.6" y="502.1" width="0.8" height="0.8" fill="#7340e0" opacity="0.89"/>
<rect x="53.3" y="498.2" width="1.1" height="1.1" fill="#7340e0" opacity="0.94"/>
<rect x="47.5" y="511.8" width="1.1" height="1.1" fill="#7340e0" opacity="0.86"/>
<rect x="49.5" y="514.5" width="1.0" height="1.0" fill="#7340e0" opacity="0.53"/>
<rect x="66.6" y="522.3" width="0.7" height="0.7" fill="#7340e0" opacity="0.90"/>
<rect x="65.1" y="511.2" width="0.7" height="0.7" fill="#7340e0" opacity="0.91"/>
<rect x="59.7" y="514.4" width="0.6" height="0.6" fill="#7340e0" opacity="0.37"/>
<rect x="58.3" y="495.8" width="1.1" height="1.1" fill="#7340e0" opacity="0.79"/>
<rect x="75.5" y="514.2" width="0.9" height="0.9" fill="#7340e0" opacity="0.84"/>
<rect x="70.3" y="494.1" width="0.6" height="0.6" fill="#7340e0" opacity="0.87"/>
<rect x="77.9" y="500.3" width="0.7" height="0.7" fill="#7340e0" opacity="0.47"/>
<rect x="65.6" y="510.8" width="1.2" height="1.2" fill="#7340e0" opacity="0.84"/>
<rect x="52.7" y="497.0" width="1.0" height="1.0" fill="#7340e0" opacity="0.52"/>
<rect x="67.5" y="511.9" width="1.1" height="1.1" fill="#7340e0" opacity="0.47"/>
<rect x="58.6" y="519.3" width="0.6" height="0.6" fill="#7340e0" opacity="0.50"/>
<rect x="60.3" y="523.3" width="0.9" height="0.9" fill="#7340e0" opacity="0.54"/>
<rect x="75.1" y="505.9" width="1.2" height="1.2" fill="#7340e0" opacity="0.72"/>
<rect x="74.2" y="511.0" width="0.9" height="0.9" fill="#7340e0" opacity="0.81"/>
<rect x="54.9" y="520.8" width="1.0" height="1.0" fill="#7340e0" opacity="0.48"/>
<rect x="66.5" y="504.7" width="1.2" height="1.2" fill="#7340e0" opacity="0.45"/>
<rect x="71.0" y="508.8" width="1.1" height="1.1" fill="#7340e0" opacity="0.94"/>
<rect x="75.4" y="509.2" width="0.9" height="0.9" fill="#7340e0" opacity="0.83"/>
<rect x="68.2" y="520.1" width="0.8" height="0.8" fill="#7340e0" opacity="0.85"/>
<rect x="62.2" y="525.8" width="0.8" height="0.8" fill="#7340e0" opacity="0.48"/>
<rect x="59.5" y="497.3" width="0.7" height="0.7" fill="#7340e0" opacity="0.73"/>
<rect x="76.6" y="516.3" width="1.1" height="1.1" fill="#7340e0" opacity="0.82"/>
<rect x="56.1" y="501.4" width="0.9" height="0.9" fill="#7340e0" opacity="0.59"/>
<rect x="67.0" y="505.4" width="1.2" height="1.2" fill="#7340e0" opacity="0.37"/>
<rect x="65.5" y="517.3" width="1.2" height="1.2" fill="#7340e0" opacity="0.65"/>
<rect x="51.4" y="520.2" width="0.8" height="0.8" fill="#7340e0" opacity="0.63"/>
<rect x="48.3" y="505.8" width="1.1" height="1.1" fill="#7340e0" opacity="0.74"/>
<rect x="57.6" y="517.0" width="0.7" height="0.7" fill="#7340e0" opacity="0.86"/>
<rect x="55.5" y="496.2" width="0.7" height="0.7" fill="#7340e0" opacity="0.61"/>
<rect x="65.3" y="495.9" width="0.7" height="0.7" fill="#7340e0" opacity="0.63"/>
<rect x="69.7" y="503.3" width="0.7" height="0.7" fill="#7340e0" opacity="0.53"/>
<rect x="58.7" y="493.7" width="0.7" height="0.7" fill="#7340e0" opacity="0.44"/>
<rect x="63.4" y="518.8" width="1.0" height="1.0" fill="#7340e0" opacity="0.45"/>
<rect x="59.5" y="515.3" width="1.3" height="1.3" fill="#7340e0" opacity="0.79"/>
<rect x="77.1" y="519.2" width="0.7" height="0.7" fill="#7340e0" opacity="0.58"/>
<rect x="78.6" y="507.2" width="1.1" height="1.1" fill="#7340e0" opacity="0.61"/>
<rect x="68.0" y="522.1" width="0.7" height="0.7" fill="#7340e0" opacity="0.47"/>
<rect x="60.8" y="510.9" width="0.9" height="0.9" fill="#7340e0" opacity="0.82"/>
<rect x="58.9" y="497.2" width="1.0" height="1.0" fill="#7340e0" opacity="0.63"/>
<rect x="71.8" y="519.4" width="0.9" height="0.9" fill="#7340e0" opacity="0.79"/>
<rect x="72.8" y="502.6" width="1.0" height="1.0" fill="#7340e0" opacity="0.80"/>
<rect x="55.8" y="512.7" width="1.1" height="1.1" fill="#7340e0" opacity="0.88"/>
<rect x="65.3" y="494.3" width="1.2" height="1.2" fill="#7340e0" opacity="0.76"/>
<rect x="55.9" y="499.8" width="0.8" height="0.8" fill="#7340e0" opacity="0.73"/>
<rect x="72.3" y="515.2" width="1.1" height="1.1" fill="#7340e0" opacity="0.78"/>
<rect x="57.3" y="502.5" width="0.9" height="0.9" fill="#7340e0" opacity="0.62"/>
<rect x="55.1" y="501.1" width="1.1" height="1.1" fill="#7340e0" opacity="0.91"/>
<rect x="68.9" y="521.6" width="1.1" height="1.1" fill="#7340e0" opacity="0.58"/>
<rect x="46.2" y="510.1" width="0.6" height="0.6" fill="#7340e0" opacity="0.68"/>
<rect x="71.2" y="521.7" width="1.3" height="1.3" fill="#7340e0" opacity="0.66"/>
<rect x="73.8" y="516.6" width="1.0" height="1.0" fill="#7340e0" opacity="0.78"/>
<rect x="49.2" y="507.6" width="1.2" height="1.2" fill="#7340e0" opacity="0.66"/>
<rect x="49.0" y="518.0" width="0.7" height="0.7" fill="#7340e0" opacity="0.76"/>
<rect x="51.5" y="518.5" width="0.7" height="0.7" fill="#7340e0" opacity="0.94"/>
<rect x="60.8" y="512.2" width="0.8" height="0.8" fill="#7340e0" opacity="0.59"/>
<rect x="74.5" y="509.8" width="0.9" height="0.9" fill="#7340e0" opacity="0.77"/>
<rect x="58.0" y="516.1" width="0.8" height="0.8" fill="#7340e0" opacity="0.79"/>
<rect x="75.1" y="504.3" width="0.8" height="0.8" fill="#7340e0" opacity="0.83"/>
<rect x="57.1" y="514.0" width="0.7" height="0.7" fill="#7340e0" opacity="0.82"/>
<rect x="68.3" y="495.9" width="0.9" height="0.9" fill="#7340e0" opacity="0.69"/>
<rect x="65.8" y="525.8" width="0.8" height="0.8" fill="#7340e0" opacity="0.73"/>
<rect x="69.8" y="494.6" width="0.9" height="0.9" fill="#7340e0" opacity="0.53"/>
<rect x="57.2" y="506.9" width="1.2" height="1.2" fill="#7340e0" opacity="0.56"/>
<rect x="68.6" y="501.6" width="0.9" height="0.9" fill="#7340e0" opacity="0.50"/>
<rect x="56.7" y="512.4" width="0.6" height="0.6" fill="#7340e0" opacity="0.78"/>
<rect x="61.6" y="517.3" width="0.8" height="0.8" fill="#7340e0" opacity="0.64"/>
<circle cx="51.9" cy="515.0" r="0.9" fill="#7340e0" opacity="0.73"/>
<circle cx="77.4" cy="502.7" r="0.6" fill="#7340e0" opacity="0.89"/>
<circle cx="75.8" cy="501.2" r="0.7" fill="#7340e0" opacity="0.89"/>
<circle cx="105.60" cy="509.80" r="18.40" fill="#dbdddc"/>
<rect x="103.9" y="508.0" width="0.5" height="0.5" fill="#7340e0" opacity="0.73"/>
<rect x="100.5" y="502.3" width="0.6" height="0.6" fill="#7340e0" opacity="0.32"/>
<rect x="106.8" y="524.7" width="0.7" height="0.7" fill="#7340e0" opacity="0.33"/>
<rect x="118.0" y="500.7" width="0.6" height="0.6" fill="#7340e0" opacity="0.70"/>
<rect x="93.2" y="499.6" width="1.0" height="1.0" fill="#7340e0" opacity="0.70"/>
<rect x="109.1" y="494.0" width="0.6" height="0.6" fill="#7340e0" opacity="0.60"/>
<rect x="90.5" y="506.5" width="0.8" height="0.8" fill="#7340e0" opacity="0.69"/>
<rect x="96.8" y="506.4" width="0.7" height="0.7" fill="#7340e0" opacity="0.32"/>
<rect x="101.0" y="509.6" width="0.8" height="0.8" fill="#7340e0" opacity="0.32"/>
<rect x="92.9" y="510.0" width="0.9" height="0.9" fill="#7340e0" opacity="0.68"/>
<rect x="121.1" y="510.0" width="0.8" height="0.8" fill="#7340e0" opacity="0.53"/>
<rect x="97.1" y="495.7" width="0.8" height="0.8" fill="#7340e0" opacity="0.46"/>
<rect x="109.8" y="508.2" width="0.9" height="0.9" fill="#7340e0" opacity="0.57"/>
<rect x="118.5" y="511.7" width="1.0" height="1.0" fill="#7340e0" opacity="0.72"/>
<rect x="96.8" y="524.5" width="0.9" height="0.9" fill="#7340e0" opacity="0.49"/>
<rect x="107.7" y="507.4" width="1.0" height="1.0" fill="#7340e0" opacity="0.56"/>
<rect x="96.7" y="523.1" width="0.8" height="0.8" fill="#7340e0" opacity="0.49"/>
<rect x="90.2" y="507.0" width="0.6" height="0.6" fill="#7340e0" opacity="0.47"/>
<rect x="93.6" y="515.3" width="1.1" height="1.1" fill="#7340e0" opacity="0.40"/>
<rect x="110.4" y="499.6" width="0.9" height="0.9" fill="#7340e0" opacity="0.39"/>
<rect x="88.0" y="508.6" width="1.0" height="1.0" fill="#7340e0" opacity="0.65"/>
<rect x="100.5" y="518.0" width="0.7" height="0.7" fill="#7340e0" opacity="0.54"/>
<rect x="95.1" y="498.0" width="0.5" height="0.5" fill="#7340e0" opacity="0.61"/>
<rect x="115.0" y="501.1" width="0.5" height="0.5" fill="#7340e0" opacity="0.40"/>
<rect x="112.6" y="509.5" width="1.1" height="1.1" fill="#7340e0" opacity="0.55"/>
<rect x="96.6" y="496.3" width="1.1" height="1.1" fill="#7340e0" opacity="0.56"/>
<rect x="94.9" y="500.1" width="1.0" height="1.0" fill="#7340e0" opacity="0.55"/>
<rect x="101.7" y="502.0" width="1.0" height="1.0" fill="#7340e0" opacity="0.48"/>
<rect x="105.7" y="504.0" width="0.6" height="0.6" fill="#7340e0" opacity="0.27"/>
<rect x="107.7" y="492.9" width="1.0" height="1.0" fill="#7340e0" opacity="0.43"/>
<rect x="112.0" y="495.5" width="0.9" height="0.9" fill="#7340e0" opacity="0.38"/>
<rect x="101.6" y="520.1" width="0.7" height="0.7" fill="#7340e0" opacity="0.47"/>
<rect x="94.8" y="496.5" width="0.5" height="0.5" fill="#7340e0" opacity="0.53"/>
<rect x="110.9" y="510.7" width="1.1" height="1.1" fill="#7340e0" opacity="0.54"/>
<rect x="115.5" y="503.9" width="0.5" height="0.5" fill="#7340e0" opacity="0.44"/>
<rect x="90.9" y="500.0" width="1.2" height="1.2" fill="#7340e0" opacity="0.49"/>
<rect x="100.4" y="512.2" width="1.0" height="1.0" fill="#7340e0" opacity="0.36"/>
<rect x="106.6" y="511.3" width="0.5" height="0.5" fill="#7340e0" opacity="0.59"/>
<rect x="117.7" y="521.4" width="0.6" height="0.6" fill="#7340e0" opacity="0.68"/>
<rect x="106.7" y="511.0" width="1.0" height="1.0" fill="#7340e0" opacity="0.37"/>
<rect x="104.6" y="502.0" width="0.5" height="0.5" fill="#7340e0" opacity="0.64"/>
<rect x="101.4" y="493.6" width="1.0" height="1.0" fill="#7340e0" opacity="0.29"/>
<rect x="95.1" y="498.8" width="0.8" height="0.8" fill="#7340e0" opacity="0.72"/>
<rect x="104.7" y="526.4" width="1.0" height="1.0" fill="#7340e0" opacity="0.26"/>
<rect x="119.0" y="510.6" width="1.1" height="1.1" fill="#7340e0" opacity="0.29"/>
<rect x="99.7" y="523.3" width="0.6" height="0.6" fill="#7340e0" opacity="0.68"/>
<rect x="101.0" y="509.8" width="0.8" height="0.8" fill="#7340e0" opacity="0.54"/>
<rect x="92.0" y="514.9" width="0.6" height="0.6" fill="#7340e0" opacity="0.65"/>
<rect x="96.0" y="519.9" width="0.9" height="0.9" fill="#7340e0" opacity="0.46"/>
<rect x="93.4" y="519.4" width="1.2" height="1.2" fill="#7340e0" opacity="0.64"/>
<rect x="96.7" y="505.7" width="0.5" height="0.5" fill="#7340e0" opacity="0.74"/>
<rect x="100.7" y="494.3" width="0.7" height="0.7" fill="#7340e0" opacity="0.55"/>
<rect x="120.8" y="507.1" width="0.9" height="0.9" fill="#7340e0" opacity="0.40"/>
<rect x="90.4" y="516.5" width="0.8" height="0.8" fill="#7340e0" opacity="0.59"/>
<rect x="91.9" y="499.4" width="1.1" height="1.1" fill="#7340e0" opacity="0.39"/>
<rect x="114.1" y="509.5" width="0.8" height="0.8" fill="#7340e0" opacity="0.54"/>
<rect x="111.9" y="494.5" width="0.5" height="0.5" fill="#7340e0" opacity="0.67"/>
<rect x="111.3" y="494.4" width="0.9" height="0.9" fill="#7340e0" opacity="0.39"/>
<rect x="114.4" y="496.7" width="1.0" height="1.0" fill="#7340e0" opacity="0.71"/>
<rect x="102.3" y="513.5" width="0.9" height="0.9" fill="#7340e0" opacity="0.65"/>
<rect x="109.6" y="523.6" width="1.2" height="1.2" fill="#7340e0" opacity="0.37"/>
<rect x="94.0" y="500.5" width="0.8" height="0.8" fill="#7340e0" opacity="0.35"/>
<rect x="104.6" y="524.3" width="1.1" height="1.1" fill="#7340e0" opacity="0.48"/>
<rect x="118.4" y="517.5" width="1.0" height="1.0" fill="#7340e0" opacity="0.37"/>
<rect x="90.6" y="501.3" width="1.1" height="1.1" fill="#7340e0" opacity="0.51"/>
<rect x="92.1" y="511.4" width="0.6" height="0.6" fill="#7340e0" opacity="0.35"/>
<rect x="111.4" y="522.6" width="0.8" height="0.8" fill="#7340e0" opacity="0.53"/>
<rect x="95.1" y="516.7" width="0.6" height="0.6" fill="#7340e0" opacity="0.27"/>
<rect x="116.0" y="509.3" width="0.6" height="0.6" fill="#7340e0" opacity="0.57"/>
<rect x="106.7" y="502.7" width="0.9" height="0.9" fill="#7340e0" opacity="0.42"/>
<rect x="102.9" y="509.2" width="0.5" height="0.5" fill="#7340e0" opacity="0.75"/>
<rect x="113.2" y="500.3" width="0.9" height="0.9" fill="#7340e0" opacity="0.38"/>
<rect x="107.1" y="498.1" width="1.2" height="1.2" fill="#7340e0" opacity="0.63"/>
<rect x="112.4" y="494.0" width="0.7" height="0.7" fill="#7340e0" opacity="0.27"/>
<rect x="107.6" y="516.6" width="0.6" height="0.6" fill="#7340e0" opacity="0.28"/>
<rect x="90.0" y="503.7" width="0.8" height="0.8" fill="#7340e0" opacity="0.72"/>
<rect x="108.9" y="507.0" width="0.9" height="0.9" fill="#7340e0" opacity="0.45"/>
<rect x="117.7" y="521.1" width="0.7" height="0.7" fill="#7340e0" opacity="0.53"/>
<rect x="94.3" y="496.2" width="1.0" height="1.0" fill="#7340e0" opacity="0.45"/>
<rect x="98.4" y="511.4" width="1.2" height="1.2" fill="#7340e0" opacity="0.75"/>
<rect x="105.9" y="512.8" width="0.7" height="0.7" fill="#7340e0" opacity="0.43"/>
<rect x="118.6" y="499.8" width="1.1" height="1.1" fill="#7340e0" opacity="0.27"/>
<rect x="108.4" y="495.0" width="1.0" height="1.0" fill="#7340e0" opacity="0.74"/>
<rect x="111.3" y="511.6" width="1.0" height="1.0" fill="#7340e0" opacity="0.72"/>
<rect x="100.9" y="500.8" width="0.9" height="0.9" fill="#7340e0" opacity="0.63"/>
<rect x="113.1" y="515.6" width="0.7" height="0.7" fill="#7340e0" opacity="0.31"/>
<rect x="98.2" y="510.3" width="0.7" height="0.7" fill="#7340e0" opacity="0.32"/>
<rect x="104.2" y="507.5" width="1.0" height="1.0" fill="#7340e0" opacity="0.35"/>
<rect x="121.6" y="513.2" width="0.7" height="0.7" fill="#7340e0" opacity="0.72"/>
<rect x="116.3" y="497.3" width="0.6" height="0.6" fill="#7340e0" opacity="0.47"/>
<rect x="118.8" y="518.9" width="1.1" height="1.1" fill="#7340e0" opacity="0.56"/>
<rect x="95.4" y="512.3" width="1.1" height="1.1" fill="#7340e0" opacity="0.49"/>
<rect x="100.7" y="504.7" width="0.7" height="0.7" fill="#7340e0" opacity="0.28"/>
<rect x="102.4" y="496.9" width="0.6" height="0.6" fill="#7340e0" opacity="0.69"/>
<rect x="104.1" y="520.6" width="0.6" height="0.6" fill="#7340e0" opacity="0.39"/>
<rect x="110.7" y="501.0" width="0.6" height="0.6" fill="#7340e0" opacity="0.50"/>
<rect x="98.5" y="524.6" width="0.6" height="0.6" fill="#7340e0" opacity="0.74"/>
<rect x="120.5" y="515.1" width="1.0" height="1.0" fill="#7340e0" opacity="0.36"/>
<rect x="96.0" y="510.8" width="0.7" height="0.7" fill="#7340e0" opacity="0.35"/>
<rect x="93.6" y="522.2" width="1.2" height="1.2" fill="#7340e0" opacity="0.71"/>
<rect x="112.7" y="514.6" width="1.1" height="1.1" fill="#7340e0" opacity="0.28"/>
<rect x="103.6" y="499.9" width="1.2" height="1.2" fill="#7340e0" opacity="0.26"/>
<rect x="108.9" y="500.0" width="0.6" height="0.6" fill="#7340e0" opacity="0.25"/>
<rect x="111.5" y="498.5" width="0.6" height="0.6" fill="#7340e0" opacity="0.47"/>
<rect x="112.1" y="505.1" width="0.9" height="0.9" fill="#7340e0" opacity="0.32"/>
<rect x="111.6" y="523.1" width="1.0" height="1.0" fill="#7340e0" opacity="0.35"/>
<rect x="109.7" y="511.8" width="0.9" height="0.9" fill="#7340e0" opacity="0.50"/>
<rect x="104.0" y="517.1" width="0.9" height="0.9" fill="#7340e0" opacity="0.60"/>
<rect x="110.3" y="497.2" width="0.6" height="0.6" fill="#7340e0" opacity="0.28"/>
<rect x="103.9" y="498.2" width="1.0" height="1.0" fill="#7340e0" opacity="0.28"/>
<rect x="108.8" y="499.9" width="1.1" height="1.1" fill="#7340e0" opacity="0.68"/>
<rect x="102.9" y="509.3" width="1.1" height="1.1" fill="#7340e0" opacity="0.49"/>
<rect x="111.5" y="503.0" width="0.6" height="0.6" fill="#7340e0" opacity="0.67"/>
<rect x="100.5" y="514.6" width="0.8" height="0.8" fill="#7340e0" opacity="0.55"/>
<rect x="117.7" y="509.8" width="0.8" height="0.8" fill="#7340e0" opacity="0.51"/>
<rect x="115.7" y="519.4" width="1.1" height="1.1" fill="#7340e0" opacity="0.68"/>
<rect x="98.9" y="522.7" width="0.8" height="0.8" fill="#7340e0" opacity="0.63"/>
<rect x="120.1" y="515.3" width="1.2" height="1.2" fill="#7340e0" opacity="0.50"/>
<rect x="92.5" y="508.3" width="0.9" height="0.9" fill="#7340e0" opacity="0.26"/>
<rect x="113.3" y="507.8" width="0.6" height="0.6" fill="#7340e0" opacity="0.30"/>
<circle cx="105.6" cy="524.6" r="0.6" fill="#7340e0" opacity="0.63"/>
<circle cx="103.3" cy="502.9" r="0.6" fill="#7340e0" opacity="0.81"/>
<circle cx="147.70" cy="509.90" r="18.40" fill="#d9dcd6"/>
<rect x="136.2" y="503.7" width="0.8" height="0.8" fill="#8a80a8" opacity="0.19"/>
<rect x="157.5" y="498.9" width="0.4" height="0.4" fill="#8a80a8" opacity="0.19"/>
<rect x="135.1" y="510.1" width="0.5" height="0.5" fill="#8a80a8" opacity="0.19"/>
<rect x="142.0" y="513.1" width="0.7" height="0.7" fill="#8a80a8" opacity="0.45"/>
<rect x="155.2" y="520.0" width="0.8" height="0.8" fill="#8a80a8" opacity="0.21"/>
<rect x="155.1" y="494.6" width="0.6" height="0.6" fill="#8a80a8" opacity="0.30"/>
<rect x="154.1" y="498.9" width="0.6" height="0.6" fill="#8a80a8" opacity="0.48"/>
<rect x="149.1" y="499.7" width="0.5" height="0.5" fill="#8a80a8" opacity="0.27"/>
<rect x="131.5" y="516.3" width="0.8" height="0.8" fill="#8a80a8" opacity="0.47"/>
<rect x="153.9" y="495.0" width="0.4" height="0.4" fill="#8a80a8" opacity="0.33"/>
<rect x="163.7" y="505.2" width="0.5" height="0.5" fill="#8a80a8" opacity="0.30"/>
<rect x="140.3" y="501.8" width="0.7" height="0.7" fill="#8a80a8" opacity="0.17"/>
<rect x="136.2" y="514.7" width="0.4" height="0.4" fill="#8a80a8" opacity="0.20"/>
<rect x="162.3" y="506.6" width="0.9" height="0.9" fill="#8a80a8" opacity="0.37"/>
<rect x="153.2" y="494.2" width="0.8" height="0.8" fill="#8a80a8" opacity="0.16"/>
<rect x="141.7" y="502.6" width="0.7" height="0.7" fill="#8a80a8" opacity="0.25"/>
<rect x="131.2" y="505.2" width="0.7" height="0.7" fill="#8a80a8" opacity="0.24"/>
<rect x="135.9" y="508.0" width="0.9" height="0.9" fill="#8a80a8" opacity="0.25"/>
<rect x="142.7" y="522.8" width="0.5" height="0.5" fill="#8a80a8" opacity="0.36"/>
<rect x="159.4" y="506.2" width="0.5" height="0.5" fill="#8a80a8" opacity="0.31"/>
<rect x="140.9" y="508.3" width="0.5" height="0.5" fill="#8a80a8" opacity="0.20"/>
<rect x="144.4" y="520.3" width="0.5" height="0.5" fill="#8a80a8" opacity="0.24"/>
<rect x="158.2" y="516.2" width="0.8" height="0.8" fill="#8a80a8" opacity="0.36"/>
<rect x="134.8" y="503.7" width="0.5" height="0.5" fill="#8a80a8" opacity="0.40"/>
<rect x="134.9" y="512.7" width="0.7" height="0.7" fill="#8a80a8" opacity="0.31"/>
<rect x="144.3" y="517.6" width="0.5" height="0.5" fill="#8a80a8" opacity="0.33"/>
<rect x="137.6" y="518.6" width="0.4" height="0.4" fill="#8a80a8" opacity="0.27"/>
<rect x="152.9" y="503.1" width="0.7" height="0.7" fill="#8a80a8" opacity="0.32"/>
<rect x="143.7" y="526.5" width="0.5" height="0.5" fill="#8a80a8" opacity="0.42"/>
<rect x="149.7" y="513.3" width="0.8" height="0.8" fill="#8a80a8" opacity="0.30"/>
<rect x="157.4" y="513.7" width="0.6" height="0.6" fill="#8a80a8" opacity="0.41"/>
<rect x="153.6" y="514.7" width="0.9" height="0.9" fill="#8a80a8" opacity="0.41"/>
<rect x="153.1" y="517.9" width="0.6" height="0.6" fill="#8a80a8" opacity="0.39"/>
<rect x="135.3" y="498.8" width="0.8" height="0.8" fill="#8a80a8" opacity="0.33"/>
<rect x="146.3" y="494.5" width="0.8" height="0.8" fill="#8a80a8" opacity="0.32"/>
<rect x="150.5" y="495.2" width="0.9" height="0.9" fill="#8a80a8" opacity="0.19"/>
<rect x="148.1" y="508.7" width="0.8" height="0.8" fill="#8a80a8" opacity="0.36"/>
<rect x="130.3" y="509.8" width="0.7" height="0.7" fill="#8a80a8" opacity="0.30"/>
<rect x="150.8" y="493.7" width="0.7" height="0.7" fill="#8a80a8" opacity="0.28"/>
<rect x="136.1" y="513.0" width="0.8" height="0.8" fill="#8a80a8" opacity="0.25"/>
<rect x="137.4" y="517.8" width="0.6" height="0.6" fill="#8a80a8" opacity="0.26"/>
<rect x="151.1" y="494.0" width="0.6" height="0.6" fill="#8a80a8" opacity="0.31"/>
<rect x="151.3" y="518.4" width="0.5" height="0.5" fill="#8a80a8" opacity="0.35"/>
<rect x="142.8" y="506.9" width="0.9" height="0.9" fill="#8a80a8" opacity="0.26"/>
<rect x="156.1" y="496.2" width="0.9" height="0.9" fill="#8a80a8" opacity="0.22"/>
<rect x="132.6" y="517.1" width="0.4" height="0.4" fill="#8a80a8" opacity="0.17"/>
<rect x="136.0" y="504.6" width="0.9" height="0.9" fill="#8a80a8" opacity="0.42"/>
<rect x="130.5" y="505.4" width="0.7" height="0.7" fill="#8a80a8" opacity="0.33"/>
<rect x="143.1" y="499.6" width="0.6" height="0.6" fill="#8a80a8" opacity="0.36"/>
<rect x="137.3" y="523.2" width="0.7" height="0.7" fill="#8a80a8" opacity="0.33"/>
<rect x="156.1" y="515.8" width="0.6" height="0.6" fill="#8a80a8" opacity="0.35"/>
<rect x="132.7" y="502.1" width="0.9" height="0.9" fill="#8a80a8" opacity="0.32"/>
<rect x="134.5" y="514.5" width="0.9" height="0.9" fill="#8a80a8" opacity="0.27"/>
<rect x="132.0" y="506.7" width="0.5" height="0.5" fill="#8a80a8" opacity="0.26"/>
<rect x="163.0" y="507.4" width="0.7" height="0.7" fill="#8a80a8" opacity="0.19"/>
<rect x="158.7" y="500.6" width="0.8" height="0.8" fill="#8a80a8" opacity="0.50"/>
<rect x="156.1" y="502.4" width="0.5" height="0.5" fill="#8a80a8" opacity="0.25"/>
<rect x="135.1" y="508.8" width="0.5" height="0.5" fill="#8a80a8" opacity="0.21"/>
<rect x="138.2" y="499.8" width="0.6" height="0.6" fill="#8a80a8" opacity="0.50"/>
<rect x="145.1" y="506.9" width="0.6" height="0.6" fill="#8a80a8" opacity="0.43"/>
<text x="19.60" y="762.90" font-size="5.30" font-weight="bold" text-anchor="middle" fill="#111" stroke="#111" stroke-width="0.18">Control</text>
<text x="62.90" y="762.90" font-size="5.30" font-weight="bold" text-anchor="middle" fill="#111" stroke="#111" stroke-width="0.18">Sotorasib</text>
<text x="106.00" y="762.90" font-size="5.30" font-weight="bold" text-anchor="middle" fill="#111" stroke="#111" stroke-width="0.18">Anlotinib</text>
<text x="148.80" y="762.90" font-size="5.30" font-weight="bold" text-anchor="middle" fill="#111" stroke="#111" stroke-width="0.18">Combo</text>
<circle cx="19.90" cy="787.60" r="19.00" fill="#e0e0e3"/>
<rect x="14.3" y="801.3" width="0.7" height="0.7" fill="#7340e0" opacity="0.65"/>
<rect x="26.7" y="775.3" width="1.4" height="1.4" fill="#7340e0" opacity="0.60"/>
<rect x="6.0" y="787.3" width="1.0" height="1.0" fill="#7340e0" opacity="0.82"/>
<rect x="1.6" y="783.4" width="1.3" height="1.3" fill="#7340e0" opacity="0.71"/>
<rect x="24.3" y="791.8" width="1.5" height="1.5" fill="#7340e0" opacity="0.55"/>
<rect x="25.3" y="791.3" width="1.3" height="1.3" fill="#7340e0" opacity="0.91"/>
<rect x="7.3" y="776.7" width="0.8" height="0.8" fill="#7340e0" opacity="0.51"/>
<rect x="20.5" y="776.7" width="1.5" height="1.5" fill="#7340e0" opacity="0.68"/>
<rect x="24.0" y="795.3" width="0.8" height="0.8" fill="#7340e0" opacity="0.95"/>
<rect x="10.1" y="781.7" width="1.2" height="1.2" fill="#7340e0" opacity="0.69"/>
<rect x="35.2" y="792.7" width="1.3" height="1.3" fill="#7340e0" opacity="0.98"/>
<rect x="6.2" y="792.4" width="1.0" height="1.0" fill="#7340e0" opacity="0.52"/>
<rect x="34.5" y="780.1" width="1.0" height="1.0" fill="#7340e0" opacity="0.95"/>
<rect x="23.2" y="777.8" width="1.4" height="1.4" fill="#7340e0" opacity="0.98"/>
<rect x="1.9" y="787.6" width="1.0" height="1.0" fill="#7340e0" opacity="0.69"/>
<rect x="17.7" y="778.8" width="1.0" height="1.0" fill="#7340e0" opacity="0.94"/>
<rect x="3.5" y="788.7" width="1.0" height="1.0" fill="#7340e0" opacity="0.59"/>
<rect x="14.1" y="792.8" width="1.8" height="1.8" fill="#7340e0" opacity="0.65"/>
<rect x="13.6" y="784.7" width="1.3" height="1.3" fill="#7340e0" opacity="0.69"/>
<rect x="15.7" y="789.8" width="0.8" height="0.8" fill="#7340e0" opacity="0.91"/>
<rect x="14.2" y="794.3" width="0.9" height="0.9" fill="#7340e0" opacity="0.64"/>
<rect x="19.5" y="790.2" width="1.4" height="1.4" fill="#7340e0" opacity="0.67"/>
<rect x="27.9" y="799.8" width="0.8" height="0.8" fill="#7340e0" opacity="0.63"/>
<rect x="22.6" y="781.5" width="1.2" height="1.2" fill="#7340e0" opacity="0.92"/>
<rect x="21.8" y="780.3" width="1.1" height="1.1" fill="#7340e0" opacity="0.86"/>
<rect x="6.8" y="799.4" width="0.9" height="0.9" fill="#7340e0" opacity="0.98"/>
<rect x="10.7" y="786.7" width="1.2" height="1.2" fill="#7340e0" opacity="0.57"/>
<rect x="16.6" y="777.9" width="1.7" height="1.7" fill="#7340e0" opacity="0.79"/>
<rect x="13.2" y="793.5" width="1.4" height="1.4" fill="#7340e0" opacity="0.61"/>
<rect x="23.7" y="782.4" width="1.3" height="1.3" fill="#7340e0" opacity="0.77"/>
<rect x="17.3" y="802.7" width="1.1" height="1.1" fill="#7340e0" opacity="0.83"/>
<rect x="10.2" y="782.9" width="1.1" height="1.1" fill="#7340e0" opacity="0.54"/>
<rect x="26.7" y="802.0" width="1.1" height="1.1" fill="#7340e0" opacity="0.83"/>
<rect x="29.8" y="795.6" width="1.1" height="1.1" fill="#7340e0" opacity="0.75"/>
<rect x="18.0" y="791.5" width="1.0" height="1.0" fill="#7340e0" opacity="0.61"/>
<rect x="30.1" y="797.9" width="1.0" height="1.0" fill="#7340e0" opacity="0.70"/>
<rect x="32.4" y="778.2" width="1.7" height="1.7" fill="#7340e0" opacity="0.93"/>
<rect x="25.9" y="794.2" width="0.7" height="0.7" fill="#7340e0" opacity="0.84"/>
<rect x="13.8" y="777.9" width="1.2" height="1.2" fill="#7340e0" opacity="0.83"/>
<rect x="16.3" y="778.3" width="1.6" height="1.6" fill="#7340e0" opacity="0.68"/>
<rect x="14.2" y="781.6" width="0.8" height="0.8" fill="#7340e0" opacity="0.96"/>
<rect x="18.0" y="772.1" width="0.7" height="0.7" fill="#7340e0" opacity="0.52"/>
<rect x="23.6" y="793.9" width="1.0" height="1.0" fill="#7340e0" opacity="0.69"/>
<rect x="28.9" y="789.3" width="1.4" height="1.4" fill="#7340e0" opacity="0.59"/>
<rect x="26.4" y="775.4" width="1.5" height="1.5" fill="#7340e0" opacity="0.63"/>
<rect x="5.7" y="793.0" width="1.1" height="1.1" fill="#7340e0" opacity="0.50"/>
<rect x="27.4" y="773.4" width="1.0" height="1.0" fill="#7340e0" opacity="0.52"/>
<rect x="28.1" y="776.1" width="0.8" height="0.8" fill="#7340e0" opacity="0.62"/>
<rect x="31.7" y="797.4" width="0.9" height="0.9" fill="#7340e0" opacity="0.96"/>
<rect x="19.2" y="781.6" width="1.5" height="1.5" fill="#7340e0" opacity="0.70"/>
<rect x="19.1" y="770.7" width="1.0" height="1.0" fill="#7340e0" opacity="0.54"/>
<rect x="30.1" y="782.9" width="1.7" height="1.7" fill="#7340e0" opacity="0.85"/>
<rect x="18.0" y="770.5" width="1.4" height="1.4" fill="#7340e0" opacity="0.73"/>
<rect x="33.5" y="792.0" width="1.2" height="1.2" fill="#7340e0" opacity="0.76"/>
<rect x="24.9" y="784.0" width="1.5" height="1.5" fill="#7340e0" opacity="0.52"/>
<rect x="14.7" y="771.7" width="1.0" height="1.0" fill="#7340e0" opacity="0.77"/>
<rect x="33.4" y="784.2" width="1.3" height="1.3" fill="#7340e0" opacity="0.62"/>
<rect x="29.4" y="790.9" width="1.2" height="1.2" fill="#7340e0" opacity="0.60"/>
<rect x="16.7" y="793.0" width="1.5" height="1.5" fill="#7340e0" opacity="0.84"/>
<rect x="19.9" y="795.8" width="1.3" height="1.3" fill="#7340e0" opacity="0.72"/>
<rect x="29.2" y="782.9" width="1.0" height="1.0" fill="#7340e0" opacity="0.94"/>
<rect x="27.9" y="797.6" width="1.1" height="1.1" fill="#7340e0" opacity="0.91"/>
<rect x="4.5" y="782.5" width="0.9" height="0.9" fill="#7340e0" opacity="0.83"/>
<rect x="9.2" y="779.7" width="1.5" height="1.5" fill="#7340e0" opacity="0.92"/>
<rect x="26.6" y="793.4" width="1.1" height="1.1" fill="#7340e0" opacity="0.60"/>
<rect x="28.3" y="790.7" width="0.9" height="0.9" fill="#7340e0" opacity="0.85"/>
<rect x="13.6" y="789.0" width="1.1" height="1.1" fill="#7340e0" opacity="0.73"/>
<rect x="14.7" y="792.8" width="0.8" height="0.8" fill="#7340e0" opacity="0.51"/>
<rect x="35.1" y="786.4" width="0.8" height="0.8" fill="#7340e0" opacity="0.86"/>
<rect x="32.9" y="785.5" width="0.8" height="0.8" fill="#7340e0" opacity="0.74"/>
<rect x="12.1" y="790.1" width="1.3" height="1.3" fill="#7340e0" opacity="0.50"/>
<rect x="31.8" y="779.9" width="1.4" height="1.4" fill="#7340e0" opacity="0.97"/>
<rect x="14.2" y="779.7" width="1.0" height="1.0" fill="#7340e0" opacity="0.57"/>
<rect x="34.7" y="789.5" width="1.6" height="1.6" fill="#7340e0" opacity="0.65"/>
<rect x="24.7" y="800.0" width="1.6" height="1.6" fill="#7340e0" opacity="0.96"/>
<rect x="26.9" y="800.7" width="1.6" height="1.6" fill="#7340e0" opacity="0.87"/>
<rect x="15.5" y="793.6" width="1.6" height="1.6" fill="#7340e0" opacity="0.66"/>
<rect x="10.3" y="796.9" width="1.1" height="1.1" fill="#7340e0" opacity="0.92"/>
<rect x="19.5" y="790.6" width="1.3" height="1.3" fill="#7340e0" opacity="0.81"/>
<rect x="25.5" y="773.1" width="1.7" height="1.7" fill="#7340e0" opacity="0.97"/>
<rect x="6.7" y="787.6" width="0.9" height="0.9" fill="#7340e0" opacity="0.65"/>
<rect x="14.7" y="784.4" width="1.5" height="1.5" fill="#7340e0" opacity="0.58"/>
<rect x="2.9" y="793.4" width="0.8" height="0.8" fill="#7340e0" opacity="0.52"/>
<rect x="11.9" y="789.8" width="1.5" height="1.5" fill="#7340e0" opacity="0.50"/>
<rect x="28.1" y="772.8" width="1.6" height="1.6" fill="#7340e0" opacity="0.71"/>
<rect x="16.2" y="801.3" width="1.3" height="1.3" fill="#7340e0" opacity="0.71"/>
<rect x="12.9" y="797.0" width="1.4" height="1.4" fill="#7340e0" opacity="0.91"/>
<rect x="25.4" y="782.9" width="1.0" height="1.0" fill="#7340e0" opacity="0.72"/>
<rect x="9.7" y="783.0" width="0.9" height="0.9" fill="#7340e0" opacity="0.54"/>
<rect x="13.6" y="797.6" width="1.8" height="1.8" fill="#7340e0" opacity="0.95"/>
<rect x="30.8" y="773.4" width="1.8" height="1.8" fill="#7340e0" opacity="0.81"/>
<rect x="20.8" y="782.8" width="1.4" height="1.4" fill="#7340e0" opacity="0.80"/>
<rect x="15.1" y="799.7" width="1.7" height="1.7" fill="#7340e0" opacity="0.74"/>
<rect x="13.4" y="779.2" width="1.1" height="1.1" fill="#7340e0" opacity="0.94"/>
<rect x="26.9" y="788.2" width="1.4" height="1.4" fill="#7340e0" opacity="0.72"/>
<rect x="31.9" y="794.5" width="1.1" height="1.1" fill="#7340e0" opacity="0.79"/>
<rect x="7.9" y="793.5" width="1.3" height="1.3" fill="#7340e0" opacity="0.70"/>
<rect x="24.8" y="791.8" width="1.7" height="1.7" fill="#7340e0" opacity="0.77"/>
<rect x="32.1" y="797.9" width="1.0" height="1.0" fill="#7340e0" opacity="0.55"/>
<rect x="10.4" y="785.2" width="1.2" height="1.2" fill="#7340e0" opacity="0.78"/>
<rect x="21.5" y="800.7" width="0.8" height="0.8" fill="#7340e0" opacity="0.76"/>
<rect x="15.0" y="784.3" width="1.1" height="1.1" fill="#7340e0" opacity="0.54"/>
<rect x="3.7" y="793.2" width="1.3" height="1.3" fill="#7340e0" opacity="0.86"/>
<rect x="19.3" y="780.6" width="1.8" height="1.8" fill="#7340e0" opacity="0.86"/>
<rect x="32.5" y="796.8" width="1.1" height="1.1" fill="#7340e0" opacity="0.59"/>
<rect x="32.2" y="783.5" width="1.6" height="1.6" fill="#7340e0" opacity="0.57"/>
<rect x="20.1" y="782.9" width="1.0" height="1.0" fill="#7340e0" opacity="0.69"/>
<rect x="33.2" y="788.5" width="0.9" height="0.9" fill="#7340e0" opacity="0.65"/>
<rect x="16.0" y="775.4" width="1.7" height="1.7" fill="#7340e0" opacity="0.81"/>
<rect x="28.4" y="777.0" width="1.7" height="1.7" fill="#7340e0" opacity="0.94"/>
<rect x="27.0" y="800.6" width="1.1" height="1.1" fill="#7340e0" opacity="0.88"/>
<rect x="12.6" y="772.4" width="0.8" height="0.8" fill="#7340e0" opacity="0.69"/>
<rect x="17.8" y="769.4" width="1.5" height="1.5" fill="#7340e0" opacity="0.52"/>
<rect x="14.7" y="783.5" width="1.3" height="1.3" fill="#7340e0" opacity="0.90"/>
<rect x="32.3" y="798.2" width="1.4" height="1.4" fill="#7340e0" opacity="0.63"/>
<rect x="23.3" y="798.1" width="1.6" height="1.6" fill="#7340e0" opacity="0.79"/>
<rect x="21.5" y="788.9" width="0.8" height="0.8" fill="#7340e0" opacity="0.90"/>
<rect x="24.7" y="799.4" width="1.0" height="1.0" fill="#7340e0" opacity="0.84"/>
<rect x="14.1" y="791.4" width="1.7" height="1.7" fill="#7340e0" opacity="0.77"/>
<rect x="13.0" y="771.7" width="1.7" height="1.7" fill="#7340e0" opacity="0.51"/>
<rect x="15.4" y="792.8" width="1.3" height="1.3" fill="#7340e0" opacity="0.94"/>
<rect x="20.5" y="783.9" width="0.9" height="0.9" fill="#7340e0" opacity="0.91"/>
<rect x="14.5" y="776.8" width="1.2" height="1.2" fill="#7340e0" opacity="0.58"/>
<rect x="25.4" y="777.4" width="1.7" height="1.7" fill="#7340e0" opacity="0.81"/>
<rect x="28.6" y="791.9" width="0.9" height="0.9" fill="#7340e0" opacity="0.95"/>
<rect x="16.3" y="785.2" width="0.9" height="0.9" fill="#7340e0" opacity="0.68"/>
<rect x="5.9" y="789.8" width="1.1" height="1.1" fill="#7340e0" opacity="0.68"/>
<rect x="33.1" y="787.6" width="1.1" height="1.1" fill="#7340e0" opacity="0.51"/>
<rect x="2.2" y="791.7" width="0.7" height="0.7" fill="#7340e0" opacity="0.57"/>
<rect x="14.9" y="778.8" width="1.0" height="1.0" fill="#7340e0" opacity="0.75"/>
<rect x="18.2" y="800.5" width="1.3" height="1.3" fill="#7340e0" opacity="0.98"/>
<rect x="22.6" y="786.8" width="1.3" height="1.3" fill="#7340e0" opacity="0.89"/>
<rect x="30.2" y="775.5" width="1.4" height="1.4" fill="#7340e0" opacity="0.82"/>
<rect x="12.9" y="794.1" width="1.6" height="1.6" fill="#7340e0" opacity="0.94"/>
<rect x="33.2" y="781.5" width="1.0" height="1.0" fill="#7340e0" opacity="0.88"/>
<rect x="18.4" y="774.1" width="1.4" height="1.4" fill="#7340e0" opacity="0.68"/>
<rect x="8.6" y="783.6" width="0.8" height="0.8" fill="#7340e0" opacity="0.67"/>
<rect x="11.3" y="803.0" width="1.2" height="1.2" fill="#7340e0" opacity="0.68"/>
<rect x="19.7" y="795.8" width="1.1" height="1.1" fill="#7340e0" opacity="0.57"/>
<rect x="36.1" y="787.8" width="1.2" height="1.2" fill="#7340e0" opacity="0.72"/>
<rect x="10.5" y="783.0" width="0.9" height="0.9" fill="#7340e0" opacity="0.53"/>
<rect x="16.0" y="796.3" width="1.5" height="1.5" fill="#7340e0" opacity="0.78"/>
<rect x="28.7" y="782.7" width="1.7" height="1.7" fill="#7340e0" opacity="0.79"/>
<rect x="25.9" y="790.6" width="1.3" height="1.3" fill="#7340e0" opacity="0.99"/>
<rect x="9.5" y="799.4" width="1.2" height="1.2" fill="#7340e0" opacity="0.93"/>
<rect x="30.5" y="791.9" width="1.7" height="1.7" fill="#7340e0" opacity="0.64"/>
<rect x="19.3" y="789.9" width="0.9" height="0.9" fill="#7340e0" opacity="0.63"/>
<rect x="17.0" y="779.0" width="1.1" height="1.1" fill="#7340e0" opacity="0.60"/>
<rect x="5.8" y="776.8" width="1.4" height="1.4" fill="#7340e0" opacity="0.60"/>
<rect x="17.4" y="769.3" width="1.4" height="1.4" fill="#7340e0" opacity="0.54"/>
<rect x="25.5" y="771.4" width="1.1" height="1.1" fill="#7340e0" opacity="0.57"/>
<rect x="24.1" y="799.0" width="1.7" height="1.7" fill="#7340e0" opacity="0.82"/>
<rect x="26.7" y="783.2" width="1.1" height="1.1" fill="#7340e0" opacity="0.87"/>
<rect x="12.4" y="777.7" width="1.4" height="1.4" fill="#7340e0" opacity="0.67"/>
<rect x="30.4" y="791.3" width="0.8" height="0.8" fill="#7340e0" opacity="0.81"/>
<rect x="12.8" y="797.8" width="1.4" height="1.4" fill="#7340e0" opacity="0.63"/>
<rect x="17.0" y="787.2" width="1.7" height="1.7" fill="#7340e0" opacity="0.78"/>
<rect x="23.5" y="786.6" width="1.4" height="1.4" fill="#7340e0" opacity="0.86"/>
<rect x="16.8" y="792.0" width="0.9" height="0.9" fill="#7340e0" opacity="0.57"/>
<rect x="19.7" y="781.4" width="1.6" height="1.6" fill="#7340e0" opacity="0.71"/>
<rect x="5.8" y="783.6" width="1.3" height="1.3" fill="#7340e0" opacity="0.83"/>
<rect x="10.8" y="780.7" width="1.5" height="1.5" fill="#7340e0" opacity="0.63"/>
<rect x="15.3" y="771.6" width="1.6" height="1.6" fill="#7340e0" opacity="0.65"/>
<rect x="21.8" y="769.4" width="1.2" height="1.2" fill="#7340e0" opacity="0.64"/>
<rect x="2.2" y="784.6" width="0.8" height="0.8" fill="#7340e0" opacity="0.50"/>
<rect x="4.7" y="789.0" width="1.6" height="1.6" fill="#7340e0" opacity="0.68"/>
<rect x="27.7" y="786.3" width="1.5" height="1.5" fill="#7340e0" opacity="0.54"/>
<rect x="26.0" y="788.4" width="0.8" height="0.8" fill="#7340e0" opacity="0.75"/>
<rect x="11.8" y="784.1" width="1.7" height="1.7" fill="#7340e0" opacity="0.68"/>
<rect x="23.6" y="793.0" width="1.5" height="1.5" fill="#7340e0" opacity="0.96"/>
<rect x="20.7" y="789.4" width="1.6" height="1.6" fill="#7340e0" opacity="0.62"/>
<rect x="31.8" y="785.5" width="1.4" height="1.4" fill="#7340e0" opacity="0.67"/>
<rect x="23.2" y="775.5" width="1.1" height="1.1" fill="#7340e0" opacity="0.95"/>
<rect x="31.5" y="796.9" width="0.8" height="0.8" fill="#7340e0" opacity="0.82"/>
<rect x="5.9" y="796.9" width="0.8" height="0.8" fill="#7340e0" opacity="0.78"/>
<rect x="4.5" y="796.0" width="1.7" height="1.7" fill="#7340e0" opacity="0.81"/>
<rect x="20.9" y="796.0" width="1.0" height="1.0" fill="#7340e0" opacity="0.72"/>
<rect x="20.1" y="794.9" width="1.5" height="1.5" fill="#7340e0" opacity="0.82"/>
<rect x="14.0" y="804.3" width="0.9" height="0.9" fill="#7340e0" opacity="0.78"/>
<rect x="28.3" y="800.7" width="1.7" height="1.7" fill="#7340e0" opacity="0.63"/>
<rect x="19.6" y="770.8" width="1.0" height="1.0" fill="#7340e0" opacity="0.67"/>
<rect x="2.5" y="788.7" width="0.9" height="0.9" fill="#7340e0" opacity="0.84"/>
<rect x="9.3" y="780.0" width="1.3" height="1.3" fill="#7340e0" opacity="0.94"/>
<rect x="23.6" y="803.4" width="1.1" height="1.1" fill="#7340e0" opacity="0.89"/>
<rect x="24.1" y="781.0" width="1.7" height="1.7" fill="#7340e0" opacity="1.00"/>
<rect x="18.7" y="789.9" width="0.8" height="0.8" fill="#7340e0" opacity="0.99"/>
<rect x="36.6" y="788.2" width="0.9" height="0.9" fill="#7340e0" opacity="0.87"/>
<rect x="25.2" y="791.1" width="1.5" height="1.5" fill="#7340e0" opacity="0.55"/>
<rect x="10.0" y="801.4" width="1.5" height="1.5" fill="#7340e0" opacity="0.94"/>
<rect x="22.7" y="786.7" width="1.0" height="1.0" fill="#7340e0" opacity="0.90"/>
<rect x="18.0" y="783.7" width="1.3" height="1.3" fill="#7340e0" opacity="0.62"/>
<rect x="14.3" y="789.7" width="0.7" height="0.7" fill="#7340e0" opacity="1.00"/>
<rect x="12.6" y="802.6" width="0.8" height="0.8" fill="#7340e0" opacity="0.74"/>
<rect x="27.2" y="796.0" width="0.9" height="0.9" fill="#7340e0" opacity="0.84"/>
<rect x="28.5" y="799.4" width="1.3" height="1.3" fill="#7340e0" opacity="0.56"/>
<rect x="11.4" y="796.8" width="1.7" height="1.7" fill="#7340e0" opacity="0.67"/>
<rect x="22.9" y="804.0" width="1.7" height="1.7" fill="#7340e0" opacity="0.87"/>
<rect x="18.3" y="794.6" width="1.0" height="1.0" fill="#7340e0" opacity="0.53"/>
<rect x="31.7" y="790.5" width="1.1" height="1.1" fill="#7340e0" opacity="0.78"/>
<rect x="18.0" y="788.3" width="1.5" height="1.5" fill="#7340e0" opacity="0.83"/>
<rect x="6.3" y="783.2" width="1.5" height="1.5" fill="#7340e0" opacity="0.99"/>
<rect x="30.1" y="776.2" width="1.1" height="1.1" fill="#7340e0" opacity="0.66"/>
<rect x="3.8" y="795.7" width="1.1" height="1.1" fill="#7340e0" opacity="0.69"/>
<rect x="13.3" y="790.3" width="1.8" height="1.8" fill="#7340e0" opacity="0.50"/>
<rect x="5.9" y="776.3" width="1.0" height="1.0" fill="#7340e0" opacity="0.81"/>
<rect x="13.1" y="793.3" width="0.9" height="0.9" fill="#7340e0" opacity="0.56"/>
<rect x="27.8" y="773.5" width="1.7" height="1.7" fill="#7340e0" opacity="0.52"/>
<rect x="15.7" y="777.3" width="1.4" height="1.4" fill="#7340e0" opacity="0.77"/>
<rect x="12.4" y="803.5" width="0.7" height="0.7" fill="#7340e0" opacity="0.87"/>
<rect x="27.0" y="776.7" width="1.4" height="1.4" fill="#7340e0" opacity="1.00"/>
<rect x="20.5" y="801.1" width="1.5" height="1.5" fill="#7340e0" opacity="0.69"/>
<rect x="16.6" y="776.0" width="1.3" height="1.3" fill="#7340e0" opacity="0.81"/>
<rect x="14.7" y="777.7" width="1.4" height="1.4" fill="#7340e0" opacity="0.77"/>
<rect x="21.8" y="801.0" width="1.0" height="1.0" fill="#7340e0" opacity="0.95"/>
<rect x="4.2" y="789.5" width="1.3" height="1.3" fill="#7340e0" opacity="0.74"/>
<rect x="20.3" y="793.4" width="1.7" height="1.7" fill="#7340e0" opacity="0.76"/>
<rect x="6.2" y="784.8" width="1.6" height="1.6" fill="#7340e0" opacity="0.62"/>
<rect x="26.9" y="801.4" width="1.2" height="1.2" fill="#7340e0" opacity="0.82"/>
<rect x="27.0" y="771.7" width="1.7" height="1.7" fill="#7340e0" opacity="0.52"/>
<rect x="7.0" y="797.9" width="1.6" height="1.6" fill="#7340e0" opacity="0.56"/>
<rect x="24.6" y="794.6" width="0.8" height="0.8" fill="#7340e0" opacity="0.68"/>
<rect x="23.6" y="774.7" width="1.2" height="1.2" fill="#7340e0" opacity="0.54"/>
<rect x="4.9" y="797.8" width="1.5" height="1.5" fill="#7340e0" opacity="0.72"/>
<rect x="3.2" y="789.0" width="1.5" height="1.5" fill="#7340e0" opacity="0.57"/>
<rect x="14.6" y="777.1" width="1.3" height="1.3" fill="#7340e0" opacity="0.62"/>
<rect x="12.1" y="794.7" width="1.1" height="1.1" fill="#7340e0" opacity="0.51"/>
<rect x="23.7" y="800.2" width="0.8" height="0.8" fill="#7340e0" opacity="0.59"/>
<rect x="17.5" y="777.8" width="1.1" height="1.1" fill="#7340e0" opacity="0.62"/>
<rect x="21.9" y="782.2" width="1.4" height="1.4" fill="#7340e0" opacity="0.93"/>
<rect x="22.6" y="798.0" width="1.6" height="1.6" fill="#7340e0" opacity="0.81"/>
<rect x="16.7" y="789.7" width="1.2" height="1.2" fill="#7340e0" opacity="0.68"/>
<rect x="17.0" y="777.5" width="1.1" height="1.1" fill="#7340e0" opacity="0.82"/>
<rect x="23.3" y="777.1" width="1.1" height="1.1" fill="#7340e0" opacity="0.79"/>
<rect x="26.0" y="783.1" width="1.8" height="1.8" fill="#7340e0" opacity="0.86"/>
<rect x="9.2" y="797.6" width="1.1" height="1.1" fill="#7340e0" opacity="0.54"/>
<rect x="19.7" y="775.9" width="1.3" height="1.3" fill="#7340e0" opacity="0.75"/>
<rect x="32.3" y="778.1" width="0.7" height="0.7" fill="#7340e0" opacity="0.80"/>
<rect x="7.2" y="789.6" width="1.6" height="1.6" fill="#7340e0" opacity="0.71"/>
<rect x="2.6" y="789.8" width="1.2" height="1.2" fill="#7340e0" opacity="0.75"/>
<rect x="2.9" y="785.7" width="1.4" height="1.4" fill="#7340e0" opacity="0.87"/>
<rect x="16.2" y="789.0" width="1.4" height="1.4" fill="#7340e0" opacity="0.78"/>
<rect x="21.4" y="771.5" width="0.8" height="0.8" fill="#7340e0" opacity="0.61"/>
<rect x="33.9" y="794.8" width="0.8" height="0.8" fill="#7340e0" opacity="0.54"/>
<rect x="19.8" y="773.7" width="0.8" height="0.8" fill="#7340e0" opacity="0.84"/>
<rect x="16.5" y="775.1" width="0.8" height="0.8" fill="#7340e0" opacity="0.85"/>
<rect x="7.0" y="793.5" width="1.8" height="1.8" fill="#7340e0" opacity="0.91"/>
<rect x="24.1" y="782.1" width="1.1" height="1.1" fill="#7340e0" opacity="0.76"/>
<rect x="37.3" y="787.8" width="1.0" height="1.0" fill="#7340e0" opacity="0.63"/>
<rect x="15.6" y="795.2" width="1.6" height="1.6" fill="#7340e0" opacity="0.78"/>
<rect x="7.9" y="786.4" width="0.8" height="0.8" fill="#7340e0" opacity="0.65"/>
<rect x="29.9" y="774.8" width="1.6" height="1.6" fill="#7340e0" opacity="0.63"/>
<rect x="20.5" y="790.9" width="1.3" height="1.3" fill="#7340e0" opacity="0.69"/>
<rect x="7.0" y="789.7" width="1.3" height="1.3" fill="#7340e0" opacity="0.68"/>
<rect x="21.6" y="779.1" width="1.7" height="1.7" fill="#7340e0" opacity="0.78"/>
<rect x="28.8" y="790.1" width="1.3" height="1.3" fill="#7340e0" opacity="0.70"/>
<rect x="10.0" y="783.0" width="1.0" height="1.0" fill="#7340e0" opacity="0.90"/>
<rect x="15.2" y="801.5" width="1.6" height="1.6" fill="#7340e0" opacity="0.80"/>
<rect x="2.6" y="791.9" width="1.2" height="1.2" fill="#7340e0" opacity="0.94"/>
<rect x="30.3" y="791.1" width="1.4" height="1.4" fill="#7340e0" opacity="0.52"/>
<rect x="22.4" y="783.3" width="1.4" height="1.4" fill="#7340e0" opacity="0.59"/>
<rect x="31.0" y="780.5" width="1.6" height="1.6" fill="#7340e0" opacity="0.75"/>
<rect x="12.6" y="774.0" width="1.0" height="1.0" fill="#7340e0" opacity="0.61"/>
<rect x="22.7" y="780.9" width="1.7" height="1.7" fill="#7340e0" opacity="0.60"/>
<rect x="23.6" y="790.1" width="1.6" height="1.6" fill="#7340e0" opacity="0.98"/>
<rect x="6.8" y="794.6" width="1.0" height="1.0" fill="#7340e0" opacity="0.95"/>
<rect x="16.7" y="780.7" width="0.8" height="0.8" fill="#7340e0" opacity="0.85"/>
<rect x="35.3" y="791.4" width="1.0" height="1.0" fill="#7340e0" opacity="0.62"/>
<rect x="10.4" y="781.9" width="1.3" height="1.3" fill="#7340e0" opacity="0.58"/>
<rect x="27.8" y="781.4" width="1.6" height="1.6" fill="#7340e0" opacity="0.58"/>
<rect x="24.8" y="770.1" width="1.1" height="1.1" fill="#7340e0" opacity="0.52"/>
<rect x="8.9" y="797.0" width="0.9" height="0.9" fill="#7340e0" opacity="0.77"/>
<rect x="29.4" y="793.7" width="1.5" height="1.5" fill="#7340e0" opacity="0.71"/>
<rect x="16.5" y="781.3" width="1.6" height="1.6" fill="#7340e0" opacity="0.56"/>
<rect x="35.0" y="778.4" width="1.7" height="1.7" fill="#7340e0" opacity="0.76"/>
<rect x="16.4" y="797.1" width="1.5" height="1.5" fill="#7340e0" opacity="0.75"/>
<rect x="24.2" y="784.6" width="1.2" height="1.2" fill="#7340e0" opacity="0.93"/>
<rect x="8.7" y="779.6" width="0.8" height="0.8" fill="#7340e0" opacity="0.57"/>
<rect x="16.8" y="803.6" width="1.6" height="1.6" fill="#7340e0" opacity="0.61"/>
<rect x="22.1" y="785.4" width="1.4" height="1.4" fill="#7340e0" opacity="0.98"/>
<rect x="9.4" y="801.4" width="1.4" height="1.4" fill="#7340e0" opacity="0.53"/>
<rect x="13.4" y="797.6" width="1.0" height="1.0" fill="#7340e0" opacity="0.87"/>
<rect x="26.3" y="801.5" width="1.0" height="1.0" fill="#7340e0" opacity="0.53"/>
<rect x="14.1" y="784.9" width="1.3" height="1.3" fill="#7340e0" opacity="0.89"/>
<rect x="9.4" y="780.3" width="0.7" height="0.7" fill="#7340e0" opacity="0.76"/>
<rect x="31.3" y="795.5" width="0.8" height="0.8" fill="#7340e0" opacity="0.79"/>
<rect x="12.5" y="795.7" width="1.4" height="1.4" fill="#7340e0" opacity="0.58"/>
<rect x="27.8" y="802.4" width="1.1" height="1.1" fill="#7340e0" opacity="0.92"/>
<rect x="28.2" y="778.3" width="0.9" height="0.9" fill="#7340e0" opacity="0.55"/>
<rect x="23.7" y="782.7" width="1.2" height="1.2" fill="#7340e0" opacity="0.77"/>
<rect x="28.6" y="795.5" width="0.9" height="0.9" fill="#7340e0" opacity="0.77"/>
<rect x="8.5" y="786.7" width="0.9" height="0.9" fill="#7340e0" opacity="0.70"/>
<rect x="21.3" y="793.3" width="1.0" height="1.0" fill="#7340e0" opacity="0.94"/>
<rect x="2.6" y="787.0" width="0.7" height="0.7" fill="#7340e0" opacity="0.97"/>
<rect x="3.3" y="788.1" width="1.3" height="1.3" fill="#7340e0" opacity="0.84"/>
<rect x="21.5" y="802.6" width="0.9" height="0.9" fill="#7340e0" opacity="0.63"/>
<rect x="30.3" y="789.1" width="1.3" height="1.3" fill="#7340e0" opacity="0.65"/>
<rect x="23.3" y="783.6" width="1.3" height="1.3" fill="#7340e0" opacity="0.62"/>
<rect x="6.0" y="777.9" width="1.5" height="1.5" fill="#7340e0" opacity="0.53"/>
<rect x="19.4" y="800.6" width="1.8" height="1.8" fill="#7340e0" opacity="0.52"/>
<rect x="8.1" y="776.7" width="1.6" height="1.6" fill="#7340e0" opacity="0.67"/>
<rect x="23.6" y="775.4" width="1.7" height="1.7" fill="#7340e0" opacity="0.51"/>
<rect x="30.1" y="782.8" width="1.1" height="1.1" fill="#7340e0" opacity="0.54"/>
<rect x="19.7" y="802.3" width="1.4" height="1.4" fill="#7340e0" opacity="0.58"/>
<rect x="15.7" y="792.7" width="0.9" height="0.9" fill="#7340e0" opacity="0.61"/>
<rect x="10.3" y="802.2" width="1.8" height="1.8" fill="#7340e0" opacity="0.90"/>
<rect x="6.5" y="788.4" width="1.6" height="1.6" fill="#7340e0" opacity="0.95"/>
<rect x="19.6" y="772.8" width="0.9" height="0.9" fill="#7340e0" opacity="0.81"/>
<rect x="28.5" y="774.0" width="0.8" height="0.8" fill="#7340e0" opacity="0.86"/>
<rect x="14.8" y="792.6" width="1.8" height="1.8" fill="#7340e0" opacity="0.84"/>
<rect x="18.9" y="780.2" width="1.6" height="1.6" fill="#7340e0" opacity="0.97"/>
<rect x="31.9" y="778.0" width="1.6" height="1.6" fill="#7340e0" opacity="0.90"/>
<rect x="9.1" y="780.4" width="1.6" height="1.6" fill="#7340e0" opacity="0.89"/>
<rect x="25.8" y="779.6" width="1.8" height="1.8" fill="#7340e0" opacity="0.77"/>
<rect x="24.8" y="784.7" width="1.8" height="1.8" fill="#7340e0" opacity="0.89"/>
<rect x="19.2" y="803.6" width="1.0" height="1.0" fill="#7340e0" opacity="0.60"/>
<rect x="10.8" y="789.3" width="1.2" height="1.2" fill="#7340e0" opacity="0.95"/>
<rect x="13.3" y="773.1" width="1.1" height="1.1" fill="#7340e0" opacity="0.89"/>
<rect x="23.1" y="772.4" width="1.7" height="1.7" fill="#7340e0" opacity="0.91"/>
<rect x="14.8" y="789.8" width="1.4" height="1.4" fill="#7340e0" opacity="0.92"/>
<rect x="11.7" y="798.5" width="1.6" height="1.6" fill="#7340e0" opacity="0.90"/>
<rect x="32.1" y="787.6" width="0.7" height="0.7" fill="#7340e0" opacity="0.56"/>
<rect x="23.7" y="776.2" width="1.4" height="1.4" fill="#7340e0" opacity="0.73"/>
<rect x="15.1" y="794.2" width="1.1" height="1.1" fill="#7340e0" opacity="0.92"/>
<rect x="12.4" y="780.6" width="0.8" height="0.8" fill="#7340e0" opacity="0.64"/>
<rect x="15.6" y="775.5" width="1.4" height="1.4" fill="#7340e0" opacity="0.90"/>
<rect x="30.3" y="797.5" width="0.7" height="0.7" fill="#7340e0" opacity="0.91"/>
<rect x="22.8" y="795.3" width="1.8" height="1.8" fill="#7340e0" opacity="0.68"/>
<rect x="22.0" y="803.7" width="1.4" height="1.4" fill="#7340e0" opacity="0.95"/>
<rect x="9.0" y="794.6" width="1.8" height="1.8" fill="#7340e0" opacity="0.75"/>
<rect x="26.9" y="786.2" width="1.6" height="1.6" fill="#7340e0" opacity="0.58"/>
<rect x="19.1" y="787.1" width="0.9" height="0.9" fill="#7340e0" opacity="0.97"/>
<rect x="3.9" y="791.7" width="1.0" height="1.0" fill="#7340e0" opacity="0.68"/>
<rect x="29.9" y="794.7" width="1.6" height="1.6" fill="#7340e0" opacity="0.76"/>
<rect x="6.7" y="798.9" width="1.7" height="1.7" fill="#7340e0" opacity="0.83"/>
<rect x="31.9" y="793.5" width="1.2" height="1.2" fill="#7340e0" opacity="0.98"/>
<rect x="9.7" y="798.1" width="1.4" height="1.4" fill="#7340e0" opacity="0.69"/>
<rect x="4.4" y="784.7" width="1.7" height="1.7" fill="#7340e0" opacity="0.75"/>
<rect x="7.9" y="800.7" width="0.8" height="0.8" fill="#7340e0" opacity="0.92"/>
<rect x="13.9" y="774.7" width="1.2" height="1.2" fill="#7340e0" opacity="0.88"/>
<rect x="31.0" y="777.1" width="1.5" height="1.5" fill="#7340e0" opacity="0.52"/>
<rect x="16.0" y="792.7" width="1.7" height="1.7" fill="#7340e0" opacity="0.95"/>
<rect x="27.7" y="797.8" width="1.3" height="1.3" fill="#7340e0" opacity="0.52"/>
<rect x="7.1" y="796.6" width="1.4" height="1.4" fill="#7340e0" opacity="0.64"/>
<rect x="20.0" y="777.3" width="1.3" height="1.3" fill="#7340e0" opacity="0.71"/>
<rect x="33.5" y="784.8" width="1.6" height="1.6" fill="#7340e0" opacity="0.84"/>
<rect x="6.2" y="798.9" width="1.5" height="1.5" fill="#7340e0" opacity="0.85"/>
<rect x="18.0" y="794.1" width="1.3" height="1.3" fill="#7340e0" opacity="0.91"/>
<rect x="22.3" y="777.0" width="0.9" height="0.9" fill="#7340e0" opacity="0.76"/>
<rect x="24.3" y="781.8" width="1.5" height="1.5" fill="#7340e0" opacity="0.59"/>
<rect x="17.8" y="790.9" width="1.0" height="1.0" fill="#7340e0" opacity="0.69"/>
<rect x="36.7" y="783.5" width="0.9" height="0.9" fill="#7340e0" opacity="0.65"/>
<rect x="26.9" y="784.3" width="1.1" height="1.1" fill="#7340e0" opacity="0.72"/>
<rect x="26.5" y="792.8" width="1.1" height="1.1" fill="#7340e0" opacity="0.69"/>
<rect x="28.5" y="785.0" width="0.9" height="0.9" fill="#7340e0" opacity="0.95"/>
<rect x="3.5" y="792.0" width="1.4" height="1.4" fill="#7340e0" opacity="0.89"/>
<rect x="16.4" y="793.3" width="1.5" height="1.5" fill="#7340e0" opacity="0.74"/>
<rect x="5.4" y="781.5" width="1.5" height="1.5" fill="#7340e0" opacity="0.64"/>
<rect x="8.0" y="800.1" width="1.3" height="1.3" fill="#7340e0" opacity="0.64"/>
<rect x="12.9" y="780.1" width="1.5" height="1.5" fill="#7340e0" opacity="0.52"/>
<rect x="25.6" y="775.0" width="1.1" height="1.1" fill="#7340e0" opacity="0.97"/>
<rect x="18.6" y="796.0" width="0.8" height="0.8" fill="#7340e0" opacity="0.77"/>
<rect x="19.7" y="772.2" width="1.2" height="1.2" fill="#7340e0" opacity="0.90"/>
<rect x="26.8" y="793.3" width="1.4" height="1.4" fill="#7340e0" opacity="0.98"/>
<rect x="9.1" y="775.7" width="1.6" height="1.6" fill="#7340e0" opacity="0.70"/>
<rect x="33.8" y="781.4" width="1.1" height="1.1" fill="#7340e0" opacity="0.70"/>
<rect x="23.1" y="777.1" width="0.9" height="0.9" fill="#7340e0" opacity="0.94"/>
<rect x="6.4" y="784.3" width="1.4" height="1.4" fill="#7340e0" opacity="0.95"/>
<rect x="26.5" y="795.0" width="0.8" height="0.8" fill="#7340e0" opacity="0.71"/>
<rect x="2.6" y="786.7" width="1.4" height="1.4" fill="#7340e0" opacity="0.79"/>
<rect x="8.2" y="794.9" width="1.0" height="1.0" fill="#7340e0" opacity="0.92"/>
<rect x="23.4" y="771.2" width="0.9" height="0.9" fill="#7340e0" opacity="0.84"/>
<rect x="19.4" y="774.0" width="1.7" height="1.7" fill="#7340e0" opacity="0.95"/>
<rect x="18.5" y="770.6" width="1.4" height="1.4" fill="#7340e0" opacity="0.94"/>
<rect x="29.4" y="798.0" width="1.5" height="1.5" fill="#7340e0" opacity="0.81"/>
<rect x="18.5" y="791.5" width="1.4" height="1.4" fill="#7340e0" opacity="0.91"/>
<rect x="18.2" y="795.3" width="0.9" height="0.9" fill="#7340e0" opacity="0.55"/>
<rect x="11.1" y="770.9" width="1.6" height="1.6" fill="#7340e0" opacity="0.68"/>
<rect x="17.6" y="782.2" width="1.6" height="1.6" fill="#7340e0" opacity="0.66"/>
<rect x="33.7" y="787.5" width="0.9" height="0.9" fill="#7340e0" opacity="0.64"/>
<rect x="30.4" y="791.3" width="1.3" height="1.3" fill="#7340e0" opacity="0.90"/>
<circle cx="34.9" cy="791.4" r="0.7" fill="#7340e0" opacity="0.68"/>
<circle cx="13.1" cy="780.4" r="0.9" fill="#7340e0" opacity="0.80"/>
<circle cx="22.9" cy="802.4" r="0.8" fill="#7340e0" opacity="0.89"/>
<circle cx="24.4" cy="776.0" r="0.6" fill="#7340e0" opacity="0.87"/>
<circle cx="31.8" cy="789.7" r="1.0" fill="#7340e0" opacity="0.62"/>
<circle cx="10.0" cy="777.1" r="1.2" fill="#7340e0" opacity="0.74"/>
<circle cx="6.9" cy="786.6" r="0.8" fill="#7340e0" opacity="0.90"/>
<circle cx="35.1" cy="787.2" r="1.6" fill="#7340e0" opacity="0.72"/>
<circle cx="24.4" cy="787.2" r="1.1" fill="#7340e0" opacity="0.65"/>
<circle cx="6.4" cy="791.6" r="1.3" fill="#7340e0" opacity="0.76"/>
<circle cx="15.9" cy="793.8" r="1.0" fill="#7340e0" opacity="0.70"/>
<circle cx="24.9" cy="801.3" r="1.1" fill="#7340e0" opacity="0.75"/>
<circle cx="24.5" cy="801.1" r="0.8" fill="#7340e0" opacity="0.69"/>
<circle cx="6.7" cy="782.3" r="1.6" fill="#7340e0" opacity="0.86"/>
<circle cx="35.4" cy="782.4" r="1.3" fill="#7340e0" opacity="0.85"/>
<circle cx="27.0" cy="790.6" r="0.6" fill="#7340e0" opacity="0.90"/>
<circle cx="17.5" cy="774.3" r="0.9" fill="#7340e0" opacity="0.72"/>
<circle cx="26.9" cy="799.2" r="1.6" fill="#7340e0" opacity="0.71"/>
<circle cx="26.7" cy="789.6" r="1.0" fill="#7340e0" opacity="0.91"/>
<circle cx="23.7" cy="776.8" r="0.7" fill="#7340e0" opacity="0.64"/>
<circle cx="28.4" cy="799.9" r="1.1" fill="#7340e0" opacity="0.95"/>
<circle cx="32.8" cy="779.6" r="1.1" fill="#7340e0" opacity="0.89"/>
<circle cx="23.8" cy="791.6" r="1.2" fill="#7340e0" opacity="0.78"/>
<circle cx="22.1" cy="795.9" r="0.6" fill="#7340e0" opacity="0.92"/>
<circle cx="15.8" cy="771.6" r="1.6" fill="#7340e0" opacity="0.75"/>
<circle cx="18.7" cy="777.1" r="1.4" fill="#7340e0" opacity="0.89"/>
<circle cx="21.2" cy="789.0" r="0.8" fill="#7340e0" opacity="0.80"/>
<circle cx="18.7" cy="788.7" r="1.4" fill="#7340e0" opacity="0.88"/>
<circle cx="16.5" cy="788.4" r="1.5" fill="#7340e0" opacity="0.79"/>
<circle cx="28.6" cy="791.8" r="1.2" fill="#7340e0" opacity="0.91"/>
<circle cx="6.4" cy="788.9" r="0.8" fill="#7340e0" opacity="0.69"/>
<circle cx="28.6" cy="781.7" r="0.7" fill="#7340e0" opacity="0.81"/>
<circle cx="25.2" cy="793.0" r="1.1" fill="#7340e0" opacity="0.80"/>
<circle cx="10.5" cy="776.8" r="1.0" fill="#7340e0" opacity="0.62"/>
<circle cx="19.3" cy="783.7" r="1.1" fill="#7340e0" opacity="0.74"/>
<circle cx="13.2" cy="774.9" r="0.8" fill="#7340e0" opacity="0.83"/>
<circle cx="15.7" cy="776.7" r="0.7" fill="#7340e0" opacity="0.92"/>
<circle cx="16.4" cy="785.1" r="0.8" fill="#7340e0" opacity="0.95"/>
<circle cx="21.3" cy="798.2" r="1.4" fill="#7340e0" opacity="0.89"/>
<circle cx="10.1" cy="776.7" r="0.6" fill="#7340e0" opacity="0.63"/>
<circle cx="35.0" cy="785.3" r="0.6" fill="#7340e0" opacity="0.62"/>
<circle cx="20.9" cy="804.0" r="0.8" fill="#7340e0" opacity="0.84"/>
<circle cx="32.2" cy="781.8" r="1.5" fill="#7340e0" opacity="0.69"/>
<circle cx="21.2" cy="789.5" r="1.4" fill="#7340e0" opacity="0.64"/>
<circle cx="34.0" cy="785.2" r="0.8" fill="#7340e0" opacity="0.88"/>
<circle cx="26.2" cy="798.0" r="0.7" fill="#7340e0" opacity="0.88"/>
<circle cx="32.4" cy="777.2" r="0.6" fill="#7340e0" opacity="0.90"/>
<circle cx="5.4" cy="782.3" r="1.1" fill="#7340e0" opacity="0.82"/>
<circle cx="7.3" cy="779.1" r="0.7" fill="#7340e0" opacity="0.62"/>
<circle cx="11.1" cy="785.0" r="1.0" fill="#7340e0" opacity="0.60"/>
<circle cx="19.8" cy="785.0" r="1.4" fill="#7340e0" opacity="0.88"/>
<circle cx="14.2" cy="789.2" r="1.3" fill="#7340e0" opacity="0.67"/>
<circle cx="14.8" cy="790.0" r="1.6" fill="#7340e0" opacity="0.79"/>
<circle cx="16.8" cy="791.8" r="1.3" fill="#7340e0" opacity="0.90"/>
<circle cx="23.0" cy="783.2" r="1.0" fill="#7340e0" opacity="0.71"/>
<circle cx="20.4" cy="781.1" r="1.2" fill="#7340e0" opacity="0.94"/>
<circle cx="20.1" cy="786.2" r="0.7" fill="#7340e0" opacity="0.64"/>
<circle cx="15.2" cy="775.3" r="1.1" fill="#7340e0" opacity="0.76"/>
<circle cx="8.8" cy="794.9" r="1.2" fill="#7340e0" opacity="0.92"/>
<circle cx="18.3" cy="772.5" r="1.5" fill="#7340e0" opacity="0.89"/>
<circle cx="62.70" cy="787.80" r="18.70" fill="#e2e3df"/>
<rect x="61.4" y="784.1" width="1.2" height="1.2" fill="#7340e0" opacity="0.92"/>
<rect x="47.2" y="794.4" width="0.8" height="0.8" fill="#7340e0" opacity="0.97"/>
<rect x="48.4" y="792.7" width="0.9" height="0.9" fill="#7340e0" opacity="0.62"/>
<rect x="56.5" y="795.6" width="0.8" height="0.8" fill="#7340e0" opacity="0.69"/>
<rect x="76.2" y="785.4" width="1.4" height="1.4" fill="#7340e0" opacity="0.87"/>
<rect x="71.2" y="772.1" width="1.3" height="1.3" fill="#7340e0" opacity="0.60"/>
<rect x="62.4" y="798.8" width="0.7" height="0.7" fill="#7340e0" opacity="0.58"/>
<rect x="75.0" y="776.2" width="1.0" height="1.0" fill="#7340e0" opacity="0.87"/>
<rect x="64.6" y="770.6" width="1.3" height="1.3" fill="#7340e0" opacity="0.74"/>
<rect x="74.9" y="797.2" width="1.0" height="1.0" fill="#7340e0" opacity="0.79"/>
<rect x="53.3" y="796.7" width="1.5" height="1.5" fill="#7340e0" opacity="0.54"/>
<rect x="48.1" y="784.5" width="1.1" height="1.1" fill="#7340e0" opacity="0.97"/>
<rect x="47.9" y="796.5" width="1.3" height="1.3" fill="#7340e0" opacity="0.98"/>
<rect x="69.1" y="791.7" width="0.9" height="0.9" fill="#7340e0" opacity="0.95"/>
<rect x="71.1" y="787.9" width="1.3" height="1.3" fill="#7340e0" opacity="0.99"/>
<rect x="67.3" y="797.7" width="1.2" height="1.2" fill="#7340e0" opacity="0.83"/>
<rect x="61.9" y="772.0" width="0.9" height="0.9" fill="#7340e0" opacity="0.59"/>
<rect x="76.8" y="789.9" width="0.9" height="0.9" fill="#7340e0" opacity="0.59"/>
<rect x="76.0" y="784.1" width="1.2" height="1.2" fill="#7340e0" opacity="0.81"/>
<rect x="50.2" y="778.8" width="0.9" height="0.9" fill="#7340e0" opacity="0.49"/>
<rect x="64.2" y="788.2" width="1.0" height="1.0" fill="#7340e0" opacity="0.53"/>
<rect x="71.4" y="795.2" width="1.5" height="1.5" fill="#7340e0" opacity="0.83"/>
<rect x="60.0" y="802.7" width="0.8" height="0.8" fill="#7340e0" opacity="0.51"/>
<rect x="58.4" y="797.9" width="1.3" height="1.3" fill="#7340e0" opacity="0.69"/>
<rect x="61.2" y="781.7" width="1.4" height="1.4" fill="#7340e0" opacity="0.64"/>
<rect x="63.6" y="784.4" width="1.4" height="1.4" fill="#7340e0" opacity="0.57"/>
<rect x="71.8" y="774.7" width="1.2" height="1.2" fill="#7340e0" opacity="0.60"/>
<rect x="69.7" y="787.6" width="1.4" height="1.4" fill="#7340e0" opacity="0.54"/>
<rect x="54.8" y="775.8" width="1.2" height="1.2" fill="#7340e0" opacity="0.55"/>
<rect x="65.4" y="791.4" width="1.5" height="1.5" fill="#7340e0" opacity="0.66"/>
<rect x="54.6" y="776.4" width="0.9" height="0.9" fill="#7340e0" opacity="0.49"/>
<rect x="78.6" y="788.9" width="0.8" height="0.8" fill="#7340e0" opacity="0.98"/>
<rect x="52.4" y="798.8" width="0.8" height="0.8" fill="#7340e0" opacity="0.88"/>
<rect x="62.0" y="798.0" width="1.1" height="1.1" fill="#7340e0" opacity="0.51"/>
<rect x="62.4" y="803.1" width="0.9" height="0.9" fill="#7340e0" opacity="0.66"/>
<rect x="63.0" y="779.0" width="0.9" height="0.9" fill="#7340e0" opacity="0.57"/>
<rect x="54.1" y="794.3" width="1.2" height="1.2" fill="#7340e0" opacity="0.71"/>
<rect x="64.8" y="784.3" width="1.2" height="1.2" fill="#7340e0" opacity="0.91"/>
<rect x="62.5" y="790.3" width="1.1" height="1.1" fill="#7340e0" opacity="0.51"/>
<rect x="47.9" y="791.1" width="0.8" height="0.8" fill="#7340e0" opacity="0.51"/>
<rect x="54.9" y="788.3" width="0.9" height="0.9" fill="#7340e0" opacity="0.69"/>
<rect x="65.6" y="790.4" width="1.0" height="1.0" fill="#7340e0" opacity="0.71"/>
<rect x="74.5" y="782.3" width="0.8" height="0.8" fill="#7340e0" opacity="0.57"/>
<rect x="61.5" y="773.8" width="1.4" height="1.4" fill="#7340e0" opacity="0.98"/>
<rect x="65.7" y="782.5" width="1.5" height="1.5" fill="#7340e0" opacity="0.74"/>
<rect x="62.5" y="794.4" width="1.4" height="1.4" fill="#7340e0" opacity="0.57"/>
<rect x="69.9" y="791.6" width="1.4" height="1.4" fill="#7340e0" opacity="0.70"/>
<rect x="61.6" y="782.5" width="1.1" height="1.1" fill="#7340e0" opacity="0.62"/>
<rect x="66.2" y="801.2" width="1.0" height="1.0" fill="#7340e0" opacity="0.52"/>
<rect x="74.5" y="786.2" width="0.8" height="0.8" fill="#7340e0" opacity="0.46"/>
<rect x="55.1" y="777.0" width="0.7" height="0.7" fill="#7340e0" opacity="0.71"/>
<rect x="61.5" y="774.4" width="0.9" height="0.9" fill="#7340e0" opacity="0.72"/>
<rect x="51.0" y="778.6" width="0.8" height="0.8" fill="#7340e0" opacity="0.89"/>
<rect x="76.4" y="782.0" width="1.4" height="1.4" fill="#7340e0" opacity="0.65"/>
<rect x="68.4" y="783.0" width="0.9" height="0.9" fill="#7340e0" opacity="0.78"/>
<rect x="66.4" y="784.4" width="0.9" height="0.9" fill="#7340e0" opacity="0.47"/>
<rect x="56.1" y="789.9" width="0.9" height="0.9" fill="#7340e0" opacity="0.86"/>
<rect x="47.3" y="778.7" width="1.0" height="1.0" fill="#7340e0" opacity="0.82"/>
<rect x="79.4" y="788.7" width="0.9" height="0.9" fill="#7340e0" opacity="0.71"/>
<rect x="45.0" y="786.0" width="1.1" height="1.1" fill="#7340e0" opacity="1.00"/>
<rect x="56.1" y="781.4" width="1.4" height="1.4" fill="#7340e0" opacity="0.56"/>
<rect x="74.2" y="787.3" width="0.9" height="0.9" fill="#7340e0" opacity="0.98"/>
<rect x="57.3" y="797.5" width="1.0" height="1.0" fill="#7340e0" opacity="0.82"/>
<rect x="73.0" y="788.9" width="0.8" height="0.8" fill="#7340e0" opacity="0.91"/>
<rect x="76.0" y="787.4" width="0.9" height="0.9" fill="#7340e0" opacity="0.70"/>
<rect x="48.5" y="781.7" width="0.8" height="0.8" fill="#7340e0" opacity="0.58"/>
<rect x="74.9" y="799.3" width="0.8" height="0.8" fill="#7340e0" opacity="0.53"/>
<rect x="48.6" y="785.2" width="1.4" height="1.4" fill="#7340e0" opacity="0.48"/>
<rect x="62.8" y="794.4" width="1.2" height="1.2" fill="#7340e0" opacity="0.70"/>
<rect x="48.1" y="796.2" width="1.2" height="1.2" fill="#7340e0" opacity="0.92"/>
<rect x="70.8" y="784.6" width="1.5" height="1.5" fill="#7340e0" opacity="0.67"/>
<rect x="78.4" y="792.8" width="0.8" height="0.8" fill="#7340e0" opacity="0.46"/>
<rect x="59.6" y="796.3" width="1.5" height="1.5" fill="#7340e0" opacity="0.93"/>
<rect x="50.7" y="793.3" width="1.4" height="1.4" fill="#7340e0" opacity="0.89"/>
<rect x="55.1" y="777.0" width="0.8" height="0.8" fill="#7340e0" opacity="0.58"/>
<rect x="54.6" y="775.8" width="1.3" height="1.3" fill="#7340e0" opacity="0.94"/>
<rect x="69.9" y="785.6" width="0.8" height="0.8" fill="#7340e0" opacity="0.94"/>
<rect x="55.3" y="783.9" width="1.3" height="1.3" fill="#7340e0" opacity="0.59"/>
<rect x="63.0" y="797.9" width="1.1" height="1.1" fill="#7340e0" opacity="0.82"/>
<rect x="75.7" y="794.0" width="1.2" height="1.2" fill="#7340e0" opacity="0.71"/>
<rect x="54.9" y="773.5" width="0.7" height="0.7" fill="#7340e0" opacity="0.71"/>
<rect x="55.6" y="773.8" width="1.2" height="1.2" fill="#7340e0" opacity="0.55"/>
<rect x="77.4" y="783.3" width="0.9" height="0.9" fill="#7340e0" opacity="0.69"/>
<rect x="70.0" y="785.2" width="1.0" height="1.0" fill="#7340e0" opacity="0.98"/>
<rect x="69.0" y="782.1" width="1.3" height="1.3" fill="#7340e0" opacity="0.65"/>
<rect x="54.3" y="774.1" width="0.8" height="0.8" fill="#7340e0" opacity="0.57"/>
<rect x="64.3" y="796.3" width="0.7" height="0.7" fill="#7340e0" opacity="0.52"/>
<rect x="52.8" y="793.8" width="0.8" height="0.8" fill="#7340e0" opacity="0.77"/>
<rect x="74.8" y="782.5" width="1.0" height="1.0" fill="#7340e0" opacity="0.84"/>
<rect x="55.3" y="790.1" width="1.1" height="1.1" fill="#7340e0" opacity="0.46"/>
<rect x="59.0" y="781.0" width="1.0" height="1.0" fill="#7340e0" opacity="0.98"/>
<rect x="63.8" y="771.1" width="1.2" height="1.2" fill="#7340e0" opacity="0.80"/>
<rect x="57.4" y="770.7" width="0.9" height="0.9" fill="#7340e0" opacity="0.87"/>
<rect x="59.2" y="795.6" width="1.4" height="1.4" fill="#7340e0" opacity="0.78"/>
<rect x="71.8" y="773.8" width="1.2" height="1.2" fill="#7340e0" opacity="0.56"/>
<rect x="74.9" y="788.4" width="1.3" height="1.3" fill="#7340e0" opacity="0.60"/>
<rect x="63.4" y="787.9" width="0.8" height="0.8" fill="#7340e0" opacity="0.83"/>
<rect x="70.7" y="787.6" width="0.9" height="0.9" fill="#7340e0" opacity="0.84"/>
<rect x="64.8" y="787.2" width="0.8" height="0.8" fill="#7340e0" opacity="0.96"/>
<rect x="68.9" y="786.0" width="1.0" height="1.0" fill="#7340e0" opacity="0.74"/>
<rect x="57.3" y="797.6" width="1.1" height="1.1" fill="#7340e0" opacity="0.59"/>
<rect x="67.1" y="789.1" width="0.8" height="0.8" fill="#7340e0" opacity="0.50"/>
<rect x="51.7" y="777.0" width="0.9" height="0.9" fill="#7340e0" opacity="0.89"/>
<rect x="60.8" y="777.0" width="1.1" height="1.1" fill="#7340e0" opacity="0.55"/>
<rect x="74.3" y="781.7" width="0.7" height="0.7" fill="#7340e0" opacity="0.53"/>
<rect x="58.2" y="776.9" width="1.3" height="1.3" fill="#7340e0" opacity="0.58"/>
<rect x="66.9" y="772.3" width="0.8" height="0.8" fill="#7340e0" opacity="0.77"/>
<rect x="67.4" y="801.0" width="1.3" height="1.3" fill="#7340e0" opacity="0.89"/>
<rect x="62.7" y="792.6" width="1.2" height="1.2" fill="#7340e0" opacity="0.76"/>
<rect x="67.1" y="793.1" width="1.2" height="1.2" fill="#7340e0" opacity="0.51"/>
<rect x="56.5" y="780.9" width="0.9" height="0.9" fill="#7340e0" opacity="0.68"/>
<rect x="47.6" y="784.3" width="0.7" height="0.7" fill="#7340e0" opacity="0.85"/>
<rect x="63.8" y="796.6" width="1.2" height="1.2" fill="#7340e0" opacity="0.83"/>
<rect x="49.6" y="776.3" width="0.9" height="0.9" fill="#7340e0" opacity="0.62"/>
<rect x="57.6" y="779.7" width="0.8" height="0.8" fill="#7340e0" opacity="0.57"/>
<rect x="64.2" y="771.2" width="1.3" height="1.3" fill="#7340e0" opacity="0.98"/>
<rect x="64.9" y="777.9" width="1.0" height="1.0" fill="#7340e0" opacity="0.85"/>
<rect x="75.3" y="792.1" width="0.8" height="0.8" fill="#7340e0" opacity="0.48"/>
<rect x="55.1" y="786.5" width="1.4" height="1.4" fill="#7340e0" opacity="0.93"/>
<rect x="54.7" y="789.3" width="0.8" height="0.8" fill="#7340e0" opacity="0.73"/>
<rect x="51.5" y="785.7" width="1.3" height="1.3" fill="#7340e0" opacity="0.74"/>
<rect x="63.2" y="781.7" width="0.8" height="0.8" fill="#7340e0" opacity="0.66"/>
<rect x="53.2" y="788.1" width="1.2" height="1.2" fill="#7340e0" opacity="0.57"/>
<rect x="57.0" y="798.3" width="1.3" height="1.3" fill="#7340e0" opacity="0.87"/>
<rect x="53.8" y="795.6" width="1.4" height="1.4" fill="#7340e0" opacity="0.96"/>
<rect x="58.0" y="783.4" width="1.1" height="1.1" fill="#7340e0" opacity="0.80"/>
<rect x="61.3" y="790.4" width="1.5" height="1.5" fill="#7340e0" opacity="0.95"/>
<rect x="70.4" y="796.0" width="1.2" height="1.2" fill="#7340e0" opacity="0.61"/>
<rect x="76.0" y="793.5" width="1.3" height="1.3" fill="#7340e0" opacity="0.69"/>
<rect x="71.8" y="793.1" width="0.8" height="0.8" fill="#7340e0" opacity="0.98"/>
<rect x="71.1" y="790.1" width="1.3" height="1.3" fill="#7340e0" opacity="0.52"/>
<rect x="66.0" y="790.3" width="0.8" height="0.8" fill="#7340e0" opacity="0.74"/>
<rect x="65.9" y="781.1" width="0.8" height="0.8" fill="#7340e0" opacity="0.87"/>
<rect x="53.1" y="792.0" width="0.8" height="0.8" fill="#7340e0" opacity="0.58"/>
<rect x="68.2" y="786.3" width="0.9" height="0.9" fill="#7340e0" opacity="0.86"/>
<rect x="75.2" y="776.7" width="1.1" height="1.1" fill="#7340e0" opacity="0.98"/>
<rect x="54.6" y="781.5" width="1.1" height="1.1" fill="#7340e0" opacity="0.84"/>
<rect x="61.6" y="781.0" width="0.9" height="0.9" fill="#7340e0" opacity="0.98"/>
<rect x="74.7" y="797.3" width="1.0" height="1.0" fill="#7340e0" opacity="0.59"/>
<rect x="61.6" y="799.2" width="1.5" height="1.5" fill="#7340e0" opacity="0.53"/>
<rect x="68.4" y="779.4" width="0.8" height="0.8" fill="#7340e0" opacity="0.86"/>
<rect x="58.0" y="793.7" width="1.0" height="1.0" fill="#7340e0" opacity="0.90"/>
<rect x="71.1" y="777.3" width="0.7" height="0.7" fill="#7340e0" opacity="0.87"/>
<rect x="48.8" y="776.7" width="1.5" height="1.5" fill="#7340e0" opacity="0.63"/>
<rect x="71.5" y="774.3" width="0.9" height="0.9" fill="#7340e0" opacity="0.65"/>
<rect x="54.8" y="794.7" width="1.0" height="1.0" fill="#7340e0" opacity="0.51"/>
<rect x="64.6" y="804.0" width="1.0" height="1.0" fill="#7340e0" opacity="0.80"/>
<rect x="73.9" y="777.3" width="0.9" height="0.9" fill="#7340e0" opacity="0.96"/>
<rect x="67.9" y="770.6" width="1.3" height="1.3" fill="#7340e0" opacity="0.87"/>
<rect x="65.5" y="779.0" width="1.2" height="1.2" fill="#7340e0" opacity="0.66"/>
<circle cx="66.0" cy="782.6" r="1.0" fill="#7340e0" opacity="0.72"/>
<circle cx="66.9" cy="778.9" r="1.2" fill="#7340e0" opacity="0.90"/>
<circle cx="67.2" cy="783.5" r="1.3" fill="#7340e0" opacity="0.86"/>
<circle cx="56.7" cy="775.7" r="0.6" fill="#7340e0" opacity="0.90"/>
<circle cx="51.9" cy="784.5" r="0.8" fill="#7340e0" opacity="0.87"/>
<circle cx="65.8" cy="772.5" r="0.7" fill="#7340e0" opacity="0.72"/>
<circle cx="62.7" cy="793.1" r="0.8" fill="#7340e0" opacity="0.61"/>
<circle cx="65.0" cy="780.2" r="0.6" fill="#7340e0" opacity="0.62"/>
<circle cx="62.3" cy="780.4" r="0.9" fill="#7340e0" opacity="0.74"/>
<circle cx="68.0" cy="772.4" r="0.8" fill="#7340e0" opacity="0.82"/>
<circle cx="71.7" cy="780.8" r="1.2" fill="#7340e0" opacity="0.86"/>
<circle cx="56.8" cy="802.3" r="1.0" fill="#7340e0" opacity="0.64"/>
<circle cx="105.60" cy="787.80" r="18.80" fill="#e1e2e1"/>
<rect x="91.2" y="778.7" width="1.2" height="1.2" fill="#7340e0" opacity="0.72"/>
<rect x="90.5" y="795.5" width="1.3" height="1.3" fill="#7340e0" opacity="0.56"/>
<rect x="97.9" y="795.2" width="1.6" height="1.6" fill="#7340e0" opacity="0.83"/>
<rect x="117.3" y="799.5" width="0.7" height="0.7" fill="#7340e0" opacity="0.77"/>
<rect x="91.3" y="793.5" width="1.1" height="1.1" fill="#7340e0" opacity="0.50"/>
<rect x="89.0" y="784.7" width="1.4" height="1.4" fill="#7340e0" opacity="0.65"/>
<rect x="107.5" y="802.2" width="1.4" height="1.4" fill="#7340e0" opacity="0.57"/>
<rect x="118.2" y="775.4" width="1.1" height="1.1" fill="#7340e0" opacity="0.66"/>
<rect x="100.9" y="770.7" width="0.9" height="0.9" fill="#7340e0" opacity="0.62"/>
<rect x="97.9" y="800.8" width="0.9" height="0.9" fill="#7340e0" opacity="0.75"/>
<rect x="90.6" y="787.4" width="0.8" height="0.8" fill="#7340e0" opacity="0.98"/>
<rect x="118.2" y="787.1" width="1.4" height="1.4" fill="#7340e0" opacity="0.55"/>
<rect x="116.1" y="780.0" width="1.4" height="1.4" fill="#7340e0" opacity="0.93"/>
<rect x="94.1" y="800.4" width="0.9" height="0.9" fill="#7340e0" opacity="0.46"/>
<rect x="88.0" y="786.8" width="1.5" height="1.5" fill="#7340e0" opacity="0.98"/>
<rect x="87.8" y="786.0" width="1.2" height="1.2" fill="#7340e0" opacity="0.53"/>
<rect x="94.2" y="775.6" width="1.1" height="1.1" fill="#7340e0" opacity="0.78"/>
<rect x="104.5" y="796.6" width="1.1" height="1.1" fill="#7340e0" opacity="0.73"/>
<rect x="99.9" y="788.5" width="0.7" height="0.7" fill="#7340e0" opacity="0.64"/>
<rect x="102.0" y="772.3" width="0.9" height="0.9" fill="#7340e0" opacity="0.59"/>
<rect x="97.6" y="786.4" width="1.2" height="1.2" fill="#7340e0" opacity="0.95"/>
<rect x="109.0" y="800.1" width="1.3" height="1.3" fill="#7340e0" opacity="0.86"/>
<rect x="101.6" y="772.7" width="0.9" height="0.9" fill="#7340e0" opacity="0.91"/>
<rect x="108.5" y="785.2" width="1.5" height="1.5" fill="#7340e0" opacity="0.69"/>
<rect x="108.9" y="789.5" width="1.4" height="1.4" fill="#7340e0" opacity="0.82"/>
<rect x="112.5" y="796.6" width="1.3" height="1.3" fill="#7340e0" opacity="1.00"/>
<rect x="97.1" y="800.7" width="0.9" height="0.9" fill="#7340e0" opacity="0.56"/>
<rect x="111.0" y="796.8" width="1.3" height="1.3" fill="#7340e0" opacity="0.62"/>
<rect x="109.6" y="794.5" width="0.8" height="0.8" fill="#7340e0" opacity="0.56"/>
<rect x="100.1" y="798.9" width="0.9" height="0.9" fill="#7340e0" opacity="0.71"/>
<rect x="88.7" y="793.7" width="1.1" height="1.1" fill="#7340e0" opacity="0.97"/>
<rect x="97.2" y="788.6" width="1.2" height="1.2" fill="#7340e0" opacity="0.53"/>
<rect x="107.3" y="791.3" width="1.3" height="1.3" fill="#7340e0" opacity="0.98"/>
<rect x="96.4" y="793.3" width="1.1" height="1.1" fill="#7340e0" opacity="0.64"/>
<rect x="101.1" y="777.0" width="0.8" height="0.8" fill="#7340e0" opacity="0.93"/>
<rect x="103.6" y="786.4" width="1.5" height="1.5" fill="#7340e0" opacity="0.85"/>
<rect x="96.2" y="798.2" width="1.5" height="1.5" fill="#7340e0" opacity="0.67"/>
<rect x="96.1" y="791.2" width="1.2" height="1.2" fill="#7340e0" opacity="0.81"/>
<rect x="103.6" y="770.1" width="0.8" height="0.8" fill="#7340e0" opacity="0.65"/>
<rect x="114.4" y="774.5" width="1.2" height="1.2" fill="#7340e0" opacity="0.82"/>
<rect x="95.7" y="801.8" width="1.2" height="1.2" fill="#7340e0" opacity="0.67"/>
<rect x="107.3" y="792.6" width="1.5" height="1.5" fill="#7340e0" opacity="0.89"/>
<rect x="115.0" y="788.9" width="1.1" height="1.1" fill="#7340e0" opacity="0.72"/>
<rect x="94.1" y="800.0" width="1.0" height="1.0" fill="#7340e0" opacity="0.74"/>
<rect x="117.9" y="781.1" width="1.1" height="1.1" fill="#7340e0" opacity="0.63"/>
<rect x="94.4" y="796.1" width="1.4" height="1.4" fill="#7340e0" opacity="0.59"/>
<rect x="97.5" y="795.3" width="1.0" height="1.0" fill="#7340e0" opacity="0.95"/>
<rect x="96.0" y="785.0" width="1.0" height="1.0" fill="#7340e0" opacity="0.90"/>
<rect x="113.1" y="799.9" width="0.7" height="0.7" fill="#7340e0" opacity="0.56"/>
<rect x="120.1" y="793.2" width="0.8" height="0.8" fill="#7340e0" opacity="0.58"/>
<rect x="113.5" y="790.4" width="1.4" height="1.4" fill="#7340e0" opacity="0.85"/>
<rect x="119.6" y="778.0" width="1.2" height="1.2" fill="#7340e0" opacity="0.96"/>
<rect x="119.5" y="796.4" width="1.1" height="1.1" fill="#7340e0" opacity="0.56"/>
<rect x="104.9" y="770.8" width="1.0" height="1.0" fill="#7340e0" opacity="0.50"/>
<rect x="115.8" y="776.1" width="1.2" height="1.2" fill="#7340e0" opacity="0.99"/>
<rect x="109.3" y="788.4" width="0.8" height="0.8" fill="#7340e0" opacity="0.46"/>
<rect x="101.5" y="773.8" width="0.8" height="0.8" fill="#7340e0" opacity="0.54"/>
<rect x="110.8" y="799.8" width="1.3" height="1.3" fill="#7340e0" opacity="0.98"/>
<rect x="93.8" y="800.8" width="1.1" height="1.1" fill="#7340e0" opacity="0.66"/>
<rect x="104.6" y="795.6" width="1.6" height="1.6" fill="#7340e0" opacity="1.00"/>
<rect x="103.1" y="780.2" width="0.9" height="0.9" fill="#7340e0" opacity="0.53"/>
<rect x="96.2" y="799.7" width="0.8" height="0.8" fill="#7340e0" opacity="0.74"/>
<rect x="103.7" y="784.3" width="1.1" height="1.1" fill="#7340e0" opacity="0.89"/>
<rect x="94.2" y="781.6" width="1.5" height="1.5" fill="#7340e0" opacity="0.78"/>
<rect x="99.0" y="796.6" width="1.5" height="1.5" fill="#7340e0" opacity="0.92"/>
<rect x="116.7" y="780.6" width="0.8" height="0.8" fill="#7340e0" opacity="0.55"/>
<rect x="94.3" y="797.3" width="0.7" height="0.7" fill="#7340e0" opacity="0.89"/>
<rect x="108.1" y="775.0" width="0.7" height="0.7" fill="#7340e0" opacity="0.89"/>
<rect x="92.5" y="794.7" width="1.2" height="1.2" fill="#7340e0" opacity="0.85"/>
<rect x="90.2" y="796.5" width="1.6" height="1.6" fill="#7340e0" opacity="0.96"/>
<rect x="97.6" y="780.7" width="1.0" height="1.0" fill="#7340e0" opacity="0.60"/>
<rect x="117.9" y="778.1" width="1.4" height="1.4" fill="#7340e0" opacity="0.90"/>
<rect x="119.8" y="786.5" width="1.0" height="1.0" fill="#7340e0" opacity="0.87"/>
<rect x="104.1" y="801.2" width="0.8" height="0.8" fill="#7340e0" opacity="0.92"/>
<rect x="95.5" y="787.7" width="1.5" height="1.5" fill="#7340e0" opacity="0.50"/>
<rect x="119.2" y="780.8" width="0.8" height="0.8" fill="#7340e0" opacity="0.87"/>
<rect x="89.8" y="779.6" width="1.2" height="1.2" fill="#7340e0" opacity="0.69"/>
<rect x="109.7" y="785.0" width="1.4" height="1.4" fill="#7340e0" opacity="0.51"/>
<rect x="103.9" y="793.0" width="1.5" height="1.5" fill="#7340e0" opacity="0.69"/>
<rect x="103.6" y="778.2" width="1.4" height="1.4" fill="#7340e0" opacity="0.81"/>
<rect x="115.2" y="794.3" width="1.3" height="1.3" fill="#7340e0" opacity="0.57"/>
<rect x="99.8" y="779.5" width="1.0" height="1.0" fill="#7340e0" opacity="0.96"/>
<rect x="121.7" y="781.0" width="1.1" height="1.1" fill="#7340e0" opacity="0.76"/>
<rect x="110.6" y="772.8" width="1.1" height="1.1" fill="#7340e0" opacity="0.92"/>
<rect x="90.9" y="797.3" width="1.1" height="1.1" fill="#7340e0" opacity="0.52"/>
<rect x="104.9" y="780.4" width="1.3" height="1.3" fill="#7340e0" opacity="0.48"/>
<rect x="118.0" y="786.2" width="1.4" height="1.4" fill="#7340e0" opacity="0.52"/>
<rect x="98.0" y="779.1" width="0.9" height="0.9" fill="#7340e0" opacity="0.90"/>
<rect x="117.2" y="790.0" width="0.8" height="0.8" fill="#7340e0" opacity="0.92"/>
<rect x="107.6" y="785.2" width="1.1" height="1.1" fill="#7340e0" opacity="0.71"/>
<rect x="102.1" y="772.4" width="1.0" height="1.0" fill="#7340e0" opacity="0.96"/>
<rect x="107.5" y="793.1" width="1.4" height="1.4" fill="#7340e0" opacity="0.52"/>
<rect x="110.0" y="798.9" width="1.0" height="1.0" fill="#7340e0" opacity="0.54"/>
<rect x="116.0" y="781.9" width="1.4" height="1.4" fill="#7340e0" opacity="0.59"/>
<rect x="112.0" y="782.7" width="1.5" height="1.5" fill="#7340e0" opacity="0.79"/>
<rect x="120.3" y="784.3" width="1.3" height="1.3" fill="#7340e0" opacity="0.74"/>
<rect x="112.5" y="778.0" width="0.8" height="0.8" fill="#7340e0" opacity="0.95"/>
<rect x="109.9" y="773.3" width="1.4" height="1.4" fill="#7340e0" opacity="0.58"/>
<rect x="89.1" y="790.7" width="1.6" height="1.6" fill="#7340e0" opacity="0.96"/>
<rect x="112.8" y="799.7" width="1.2" height="1.2" fill="#7340e0" opacity="0.67"/>
<rect x="108.3" y="793.0" width="1.1" height="1.1" fill="#7340e0" opacity="0.72"/>
<rect x="103.8" y="797.9" width="1.2" height="1.2" fill="#7340e0" opacity="0.87"/>
<rect x="98.8" y="783.2" width="1.5" height="1.5" fill="#7340e0" opacity="0.65"/>
<rect x="122.3" y="783.0" width="0.8" height="0.8" fill="#7340e0" opacity="0.77"/>
<rect x="115.8" y="784.9" width="1.2" height="1.2" fill="#7340e0" opacity="0.62"/>
<rect x="113.1" y="788.8" width="0.8" height="0.8" fill="#7340e0" opacity="0.61"/>
<rect x="95.6" y="777.3" width="1.6" height="1.6" fill="#7340e0" opacity="0.83"/>
<rect x="93.7" y="800.4" width="1.3" height="1.3" fill="#7340e0" opacity="0.75"/>
<rect x="114.6" y="776.2" width="1.0" height="1.0" fill="#7340e0" opacity="0.78"/>
<rect x="99.7" y="804.0" width="0.9" height="0.9" fill="#7340e0" opacity="0.99"/>
<rect x="106.6" y="787.9" width="1.2" height="1.2" fill="#7340e0" opacity="0.56"/>
<rect x="98.8" y="786.8" width="1.5" height="1.5" fill="#7340e0" opacity="0.82"/>
<rect x="97.9" y="771.3" width="1.6" height="1.6" fill="#7340e0" opacity="0.82"/>
<rect x="105.1" y="786.7" width="0.7" height="0.7" fill="#7340e0" opacity="0.68"/>
<rect x="114.8" y="785.3" width="1.2" height="1.2" fill="#7340e0" opacity="0.45"/>
<rect x="90.4" y="795.7" width="1.2" height="1.2" fill="#7340e0" opacity="0.90"/>
<rect x="113.2" y="788.0" width="0.9" height="0.9" fill="#7340e0" opacity="0.91"/>
<rect x="118.9" y="797.6" width="0.9" height="0.9" fill="#7340e0" opacity="0.93"/>
<rect x="94.7" y="786.0" width="1.6" height="1.6" fill="#7340e0" opacity="0.67"/>
<rect x="103.4" y="782.7" width="1.4" height="1.4" fill="#7340e0" opacity="0.99"/>
<rect x="116.9" y="797.2" width="0.9" height="0.9" fill="#7340e0" opacity="0.53"/>
<rect x="95.3" y="797.9" width="1.6" height="1.6" fill="#7340e0" opacity="1.00"/>
<rect x="119.0" y="786.6" width="1.3" height="1.3" fill="#7340e0" opacity="0.54"/>
<rect x="103.1" y="774.2" width="1.0" height="1.0" fill="#7340e0" opacity="0.95"/>
<rect x="105.0" y="794.1" width="0.8" height="0.8" fill="#7340e0" opacity="0.53"/>
<rect x="91.7" y="779.0" width="0.8" height="0.8" fill="#7340e0" opacity="0.73"/>
<rect x="93.2" y="781.3" width="1.1" height="1.1" fill="#7340e0" opacity="0.75"/>
<rect x="109.3" y="787.7" width="1.1" height="1.1" fill="#7340e0" opacity="0.58"/>
<rect x="105.3" y="778.3" width="1.4" height="1.4" fill="#7340e0" opacity="0.58"/>
<rect x="115.4" y="794.0" width="1.0" height="1.0" fill="#7340e0" opacity="0.63"/>
<rect x="105.7" y="778.8" width="1.3" height="1.3" fill="#7340e0" opacity="0.91"/>
<rect x="92.8" y="790.7" width="1.5" height="1.5" fill="#7340e0" opacity="0.78"/>
<rect x="107.2" y="791.7" width="0.8" height="0.8" fill="#7340e0" opacity="0.63"/>
<rect x="117.2" y="794.9" width="1.1" height="1.1" fill="#7340e0" opacity="0.62"/>
<rect x="88.0" y="786.0" width="0.9" height="0.9" fill="#7340e0" opacity="0.54"/>
<rect x="101.4" y="796.6" width="1.5" height="1.5" fill="#7340e0" opacity="0.84"/>
<rect x="98.7" y="790.6" width="0.7" height="0.7" fill="#7340e0" opacity="0.52"/>
<rect x="113.4" y="775.7" width="0.8" height="0.8" fill="#7340e0" opacity="0.79"/>
<rect x="116.9" y="791.8" width="1.0" height="1.0" fill="#7340e0" opacity="0.51"/>
<rect x="104.3" y="772.2" width="1.2" height="1.2" fill="#7340e0" opacity="0.54"/>
<rect x="99.3" y="776.9" width="1.3" height="1.3" fill="#7340e0" opacity="0.50"/>
<rect x="106.0" y="786.7" width="0.9" height="0.9" fill="#7340e0" opacity="0.67"/>
<rect x="106.6" y="792.1" width="1.3" height="1.3" fill="#7340e0" opacity="1.00"/>
<rect x="100.3" y="795.1" width="1.3" height="1.3" fill="#7340e0" opacity="0.57"/>
<rect x="93.1" y="795.9" width="1.1" height="1.1" fill="#7340e0" opacity="0.54"/>
<rect x="116.7" y="792.6" width="1.6" height="1.6" fill="#7340e0" opacity="0.96"/>
<rect x="115.2" y="794.6" width="1.1" height="1.1" fill="#7340e0" opacity="0.56"/>
<rect x="98.8" y="776.1" width="1.4" height="1.4" fill="#7340e0" opacity="0.61"/>
<rect x="119.7" y="780.8" width="1.1" height="1.1" fill="#7340e0" opacity="0.53"/>
<rect x="98.6" y="787.8" width="1.3" height="1.3" fill="#7340e0" opacity="0.83"/>
<rect x="89.7" y="779.1" width="0.7" height="0.7" fill="#7340e0" opacity="0.84"/>
<rect x="107.0" y="781.6" width="1.0" height="1.0" fill="#7340e0" opacity="0.48"/>
<rect x="92.0" y="779.8" width="1.0" height="1.0" fill="#7340e0" opacity="0.83"/>
<rect x="95.1" y="798.5" width="0.9" height="0.9" fill="#7340e0" opacity="0.99"/>
<rect x="104.2" y="787.8" width="0.8" height="0.8" fill="#7340e0" opacity="0.85"/>
<rect x="114.6" y="776.7" width="0.8" height="0.8" fill="#7340e0" opacity="0.93"/>
<rect x="103.8" y="781.4" width="1.0" height="1.0" fill="#7340e0" opacity="0.82"/>
<rect x="108.8" y="787.4" width="1.0" height="1.0" fill="#7340e0" opacity="0.93"/>
<rect x="114.9" y="786.8" width="1.5" height="1.5" fill="#7340e0" opacity="0.88"/>
<rect x="113.8" y="776.8" width="1.6" height="1.6" fill="#7340e0" opacity="0.80"/>
<rect x="117.8" y="783.1" width="0.9" height="0.9" fill="#7340e0" opacity="0.74"/>
<rect x="94.8" y="788.4" width="1.0" height="1.0" fill="#7340e0" opacity="0.73"/>
<rect x="98.0" y="782.9" width="0.9" height="0.9" fill="#7340e0" opacity="0.73"/>
<rect x="93.4" y="786.9" width="1.3" height="1.3" fill="#7340e0" opacity="0.55"/>
<rect x="95.7" y="785.2" width="1.4" height="1.4" fill="#7340e0" opacity="0.84"/>
<rect x="107.6" y="774.8" width="0.9" height="0.9" fill="#7340e0" opacity="0.96"/>
<rect x="94.2" y="786.6" width="1.0" height="1.0" fill="#7340e0" opacity="0.67"/>
<rect x="100.9" y="771.7" width="1.1" height="1.1" fill="#7340e0" opacity="0.85"/>
<rect x="107.9" y="798.9" width="1.0" height="1.0" fill="#7340e0" opacity="0.62"/>
<rect x="95.1" y="799.1" width="1.4" height="1.4" fill="#7340e0" opacity="0.56"/>
<rect x="106.6" y="802.8" width="1.3" height="1.3" fill="#7340e0" opacity="0.82"/>
<rect x="95.3" y="776.2" width="0.9" height="0.9" fill="#7340e0" opacity="0.48"/>
<rect x="102.8" y="789.5" width="1.6" height="1.6" fill="#7340e0" opacity="0.74"/>
<rect x="96.5" y="771.7" width="1.4" height="1.4" fill="#7340e0" opacity="0.58"/>
<rect x="101.8" y="792.1" width="1.4" height="1.4" fill="#7340e0" opacity="0.86"/>
<rect x="94.3" y="788.2" width="0.9" height="0.9" fill="#7340e0" opacity="0.72"/>
<rect x="100.9" y="770.7" width="1.5" height="1.5" fill="#7340e0" opacity="0.93"/>
<rect x="94.4" y="791.6" width="1.0" height="1.0" fill="#7340e0" opacity="0.99"/>
<rect x="108.0" y="793.8" width="1.0" height="1.0" fill="#7340e0" opacity="0.96"/>
<rect x="111.0" y="778.9" width="1.5" height="1.5" fill="#7340e0" opacity="0.94"/>
<rect x="97.9" y="790.5" width="1.4" height="1.4" fill="#7340e0" opacity="0.66"/>
<rect x="117.4" y="798.8" width="1.1" height="1.1" fill="#7340e0" opacity="0.67"/>
<rect x="97.8" y="782.4" width="0.7" height="0.7" fill="#7340e0" opacity="0.66"/>
<rect x="103.7" y="788.6" width="1.0" height="1.0" fill="#7340e0" opacity="0.87"/>
<rect x="97.7" y="799.9" width="1.3" height="1.3" fill="#7340e0" opacity="0.55"/>
<rect x="119.5" y="789.0" width="1.2" height="1.2" fill="#7340e0" opacity="0.61"/>
<rect x="109.9" y="802.7" width="1.5" height="1.5" fill="#7340e0" opacity="0.58"/>
<rect x="93.5" y="780.4" width="1.0" height="1.0" fill="#7340e0" opacity="0.47"/>
<rect x="98.5" y="799.9" width="1.2" height="1.2" fill="#7340e0" opacity="0.73"/>
<rect x="111.0" y="793.0" width="1.0" height="1.0" fill="#7340e0" opacity="0.68"/>
<rect x="94.2" y="800.2" width="0.8" height="0.8" fill="#7340e0" opacity="0.99"/>
<rect x="106.1" y="803.8" width="0.9" height="0.9" fill="#7340e0" opacity="0.77"/>
<rect x="102.4" y="789.5" width="1.4" height="1.4" fill="#7340e0" opacity="0.90"/>
<rect x="103.1" y="802.8" width="1.1" height="1.1" fill="#7340e0" opacity="0.99"/>
<rect x="115.5" y="791.0" width="0.9" height="0.9" fill="#7340e0" opacity="0.79"/>
<rect x="107.9" y="771.1" width="1.2" height="1.2" fill="#7340e0" opacity="0.66"/>
<rect x="106.9" y="781.9" width="0.9" height="0.9" fill="#7340e0" opacity="0.86"/>
<rect x="88.7" y="793.9" width="0.8" height="0.8" fill="#7340e0" opacity="0.70"/>
<rect x="105.4" y="788.2" width="0.8" height="0.8" fill="#7340e0" opacity="0.50"/>
<rect x="97.1" y="795.8" width="1.2" height="1.2" fill="#7340e0" opacity="0.61"/>
<rect x="101.0" y="774.8" width="1.6" height="1.6" fill="#7340e0" opacity="0.54"/>
<rect x="92.6" y="786.5" width="1.0" height="1.0" fill="#7340e0" opacity="0.92"/>
<rect x="109.3" y="803.4" width="1.0" height="1.0" fill="#7340e0" opacity="0.63"/>
<rect x="95.1" y="778.5" width="1.0" height="1.0" fill="#7340e0" opacity="0.50"/>
<rect x="115.6" y="784.4" width="0.8" height="0.8" fill="#7340e0" opacity="0.81"/>
<rect x="95.1" y="785.3" width="1.0" height="1.0" fill="#7340e0" opacity="0.91"/>
<rect x="98.7" y="796.8" width="1.6" height="1.6" fill="#7340e0" opacity="0.65"/>
<rect x="99.1" y="791.3" width="1.3" height="1.3" fill="#7340e0" opacity="0.82"/>
<rect x="94.4" y="791.1" width="0.9" height="0.9" fill="#7340e0" opacity="0.88"/>
<rect x="89.4" y="791.6" width="1.0" height="1.0" fill="#7340e0" opacity="0.85"/>
<rect x="113.0" y="788.5" width="1.6" height="1.6" fill="#7340e0" opacity="0.83"/>
<rect x="99.4" y="776.0" width="1.1" height="1.1" fill="#7340e0" opacity="0.56"/>
<rect x="111.6" y="799.8" width="1.3" height="1.3" fill="#7340e0" opacity="0.59"/>
<rect x="100.9" y="782.0" width="1.3" height="1.3" fill="#7340e0" opacity="0.54"/>
<rect x="95.0" y="786.6" width="1.2" height="1.2" fill="#7340e0" opacity="0.52"/>
<rect x="91.3" y="788.8" width="0.8" height="0.8" fill="#7340e0" opacity="0.62"/>
<rect x="99.3" y="775.3" width="1.3" height="1.3" fill="#7340e0" opacity="0.88"/>
<rect x="97.5" y="783.6" width="1.1" height="1.1" fill="#7340e0" opacity="0.91"/>
<rect x="91.0" y="781.0" width="1.0" height="1.0" fill="#7340e0" opacity="0.70"/>
<rect x="120.8" y="784.1" width="1.3" height="1.3" fill="#7340e0" opacity="0.51"/>
<circle cx="103.3" cy="785.8" r="1.3" fill="#7340e0" opacity="0.94"/>
<circle cx="104.4" cy="779.2" r="1.3" fill="#7340e0" opacity="0.66"/>
<circle cx="111.3" cy="777.1" r="0.6" fill="#7340e0" opacity="0.91"/>
<circle cx="91.4" cy="793.4" r="1.2" fill="#7340e0" opacity="0.79"/>
<circle cx="110.5" cy="782.0" r="1.3" fill="#7340e0" opacity="0.72"/>
<circle cx="115.2" cy="789.4" r="0.7" fill="#7340e0" opacity="0.63"/>
<circle cx="101.4" cy="783.7" r="0.7" fill="#7340e0" opacity="0.70"/>
<circle cx="102.7" cy="803.7" r="1.3" fill="#7340e0" opacity="0.90"/>
<circle cx="116.7" cy="787.1" r="1.2" fill="#7340e0" opacity="0.70"/>
<circle cx="119.1" cy="781.1" r="1.2" fill="#7340e0" opacity="0.68"/>
<circle cx="119.2" cy="796.6" r="1.0" fill="#7340e0" opacity="0.81"/>
<circle cx="109.7" cy="782.9" r="1.2" fill="#7340e0" opacity="0.76"/>
<circle cx="108.1" cy="776.7" r="0.8" fill="#7340e0" opacity="0.93"/>
<circle cx="102.8" cy="802.0" r="1.3" fill="#7340e0" opacity="0.69"/>
<circle cx="102.0" cy="777.9" r="0.8" fill="#7340e0" opacity="0.68"/>
<circle cx="115.4" cy="784.9" r="1.0" fill="#7340e0" opacity="0.78"/>
<circle cx="120.0" cy="790.2" r="1.2" fill="#7340e0" opacity="0.91"/>
<circle cx="100.8" cy="793.8" r="0.9" fill="#7340e0" opacity="0.86"/>
<circle cx="99.7" cy="778.8" r="1.0" fill="#7340e0" opacity="0.65"/>
<circle cx="115.7" cy="782.1" r="1.0" fill="#7340e0" opacity="0.88"/>
<circle cx="110.2" cy="801.3" r="0.9" fill="#7340e0" opacity="0.88"/>
<circle cx="112.9" cy="792.7" r="1.1" fill="#7340e0" opacity="0.77"/>
<circle cx="148.70" cy="787.80" r="18.70" fill="#e2e3dc"/>
<rect x="138.9" y="797.0" width="0.4" height="0.4" fill="#555" opacity="0.37"/>
<rect x="164.3" y="787.8" width="0.4" height="0.4" fill="#555" opacity="0.53"/>
<rect x="135.4" y="783.1" width="0.6" height="0.6" fill="#555" opacity="0.25"/>
<rect x="150.0" y="778.1" width="0.6" height="0.6" fill="#555" opacity="0.51"/>
<rect x="141.5" y="773.2" width="0.5" height="0.5" fill="#555" opacity="0.47"/>
<rect x="155.9" y="785.4" width="0.3" height="0.3" fill="#555" opacity="0.36"/>
<rect x="141.7" y="787.2" width="0.4" height="0.4" fill="#555" opacity="0.55"/>
<rect x="143.3" y="792.0" width="0.4" height="0.4" fill="#555" opacity="0.43"/>
<rect x="152.9" y="798.9" width="0.5" height="0.5" fill="#555" opacity="0.38"/>
<rect x="132.4" y="787.3" width="0.3" height="0.3" fill="#555" opacity="0.57"/>
<rect x="149.5" y="790.8" width="0.6" height="0.6" fill="#555" opacity="0.43"/>
<rect x="140.4" y="785.5" width="0.6" height="0.6" fill="#555" opacity="0.32"/>
<rect x="147.2" y="779.2" width="0.5" height="0.5" fill="#555" opacity="0.46"/>
<rect x="140.1" y="796.5" width="0.3" height="0.3" fill="#555" opacity="0.46"/>
<rect x="145.9" y="781.1" width="0.5" height="0.5" fill="#555" opacity="0.49"/>
<rect x="161.4" y="797.1" width="0.6" height="0.6" fill="#555" opacity="0.22"/>
<rect x="148.6" y="792.7" width="0.4" height="0.4" fill="#555" opacity="0.23"/>
<rect x="139.7" y="788.2" width="0.4" height="0.4" fill="#555" opacity="0.38"/>
<rect x="137.5" y="798.9" width="0.6" height="0.6" fill="#555" opacity="0.25"/>
<rect x="148.8" y="789.2" width="0.4" height="0.4" fill="#555" opacity="0.24"/>
<rect x="143.3" y="772.7" width="0.7" height="0.7" fill="#555" opacity="0.28"/>
<rect x="163.5" y="791.1" width="0.5" height="0.5" fill="#555" opacity="0.57"/>
<rect x="140.8" y="793.8" width="0.3" height="0.3" fill="#555" opacity="0.58"/>
<rect x="136.7" y="786.7" width="0.5" height="0.5" fill="#555" opacity="0.51"/>
<rect x="154.5" y="776.9" width="0.4" height="0.4" fill="#555" opacity="0.36"/>
<rect x="244.00" y="303.00" width="53.70" height="44.70" fill="#8d8d8d"/>
<rect x="244.00" y="303.00" width="53.70" height="44.70" fill="#000" filter="url(#nzG)" opacity="0.12"/>
<path d="M266.09,303.30 L266.17,304.22 L266.35,305.14 L266.23,306.06 L265.88,306.98 L265.77,307.89 L266.62,308.81 L267.03,309.73 L266.68,310.65 L265.97,311.57 L265.57,312.49 L265.66,313.41 L265.77,314.32 L265.09,315.24 L264.82,316.16 L265.06,317.08 L265.51,318.00 L265.17,318.92 L264.88,319.84 L265.21,320.76 L265.51,321.68 L265.72,322.59 L265.33,323.51 L264.93,324.43 L264.41,325.35 L264.34,326.27 L264.00,327.19 L263.60,328.11 L262.91,329.02 L262.78,329.94 L263.01,330.86 L263.18,331.78 L263.12,332.70 L263.04,333.62 L263.08,334.54 L263.19,335.46 L263.35,336.38 L263.27,337.29 L262.92,338.21 L262.48,339.13 L262.24,340.05 L262.25,340.97 L261.97,341.89 L261.78,342.81 L261.67,343.72 L261.73,344.64 L262.02,345.56 L261.77,346.48 L261.58,347.40 L277.08,347.40 L277.06,346.48 L277.01,345.56 L276.89,344.64 L276.65,343.72 L276.40,342.81 L276.33,341.89 L276.50,340.97 L276.93,340.05 L276.97,339.13 L277.30,338.21 L277.40,337.29 L277.38,336.38 L277.26,335.46 L277.32,334.54 L277.35,333.62 L277.38,332.70 L277.08,331.78 L276.80,330.86 L276.30,329.94 L276.35,329.02 L276.43,328.11 L276.57,327.19 L276.80,326.27 L276.85,325.35 L276.83,324.43 L276.95,323.51 L276.63,322.59 L276.75,321.68 L277.02,320.76 L277.09,319.84 L277.10,318.92 L276.64,318.00 L276.51,317.08 L276.36,316.16 L276.30,315.24 L276.40,314.32 L276.56,313.41 L276.60,312.49 L276.60,311.57 L276.73,310.65 L276.59,309.73 L276.94,308.81 L277.25,307.89 L277.18,306.98 L276.97,306.06 L276.88,305.14 L276.81,304.22 L276.53,303.30 Z" stroke="none" stroke-width="1.0" fill="#919191" opacity="0.55"/>
<path d="M266.09,303.30 L266.17,304.22 L266.35,305.14 L266.23,306.06 L265.88,306.98 L265.77,307.89 L266.62,308.81 L267.03,309.73 L266.68,310.65 L265.97,311.57 L265.57,312.49 L265.66,313.41 L265.77,314.32 L265.09,315.24 L264.82,316.16 L265.06,317.08 L265.51,318.00 L265.17,318.92 L264.88,319.84 L265.21,320.76 L265.51,321.68 L265.72,322.59 L265.33,323.51 L264.93,324.43 L264.41,325.35 L264.34,326.27 L264.00,327.19 L263.60,328.11 L262.91,329.02 L262.78,329.94 L263.01,330.86 L263.18,331.78 L263.12,332.70 L263.04,333.62 L263.08,334.54 L263.19,335.46 L263.35,336.38 L263.27,337.29 L262.92,338.21 L262.48,339.13 L262.24,340.05 L262.25,340.97 L261.97,341.89 L261.78,342.81 L261.67,343.72 L261.73,344.64 L262.02,345.56 L261.77,346.48 L261.58,347.40" stroke="#c2cc40" stroke-width="0.8" fill="none" stroke-linejoin="round"/>
<path d="M276.53,303.30 L276.81,304.22 L276.88,305.14 L276.97,306.06 L277.18,306.98 L277.25,307.89 L276.94,308.81 L276.59,309.73 L276.73,310.65 L276.60,311.57 L276.60,312.49 L276.56,313.41 L276.40,314.32 L276.30,315.24 L276.36,316.16 L276.51,317.08 L276.64,318.00 L277.10,318.92 L277.09,319.84 L277.02,320.76 L276.75,321.68 L276.63,322.59 L276.95,323.51 L276.83,324.43 L276.85,325.35 L276.80,326.27 L276.57,327.19 L276.43,328.11 L276.35,329.02 L276.30,329.94 L276.80,330.86 L277.08,331.78 L277.38,332.70 L277.35,333.62 L277.32,334.54 L277.26,335.46 L277.38,336.38 L277.40,337.29 L277.30,338.21 L276.97,339.13 L276.93,340.05 L276.50,340.97 L276.33,341.89 L276.40,342.81 L276.65,343.72 L276.89,344.64 L277.01,345.56 L277.06,346.48 L277.08,347.40" stroke="#c2cc40" stroke-width="0.8" fill="none" stroke-linejoin="round"/>
<line x1="266.09" y1="303.50" x2="276.53" y2="303.50" stroke="#c2cc40" stroke-width="0.7" opacity="0.3"/>
<path d="M246.2,305.5 V321.0 M248.6,306.5 V317.0" stroke="#c2cc40" stroke-width="0.6" opacity="0.5" stroke-dasharray="1.2,0.8"/>
<rect x="302.30" y="303.00" width="54.10" height="44.70" fill="#8d8d8d"/>
<rect x="302.30" y="303.00" width="54.10" height="44.70" fill="#000" filter="url(#nzG)" opacity="0.12"/>
<path d="M314.12,303.30 L314.18,304.22 L314.24,305.14 L314.21,306.06 L313.74,306.98 L313.65,307.89 L314.00,308.81 L314.34,309.73 L314.81,310.65 L315.15,311.57 L314.80,312.49 L314.37,313.41 L313.79,314.32 L313.17,315.24 L313.30,316.16 L313.53,317.08 L313.92,318.00 L314.28,318.92 L314.06,319.84 L313.95,320.76 L313.88,321.68 L313.82,322.59 L314.13,323.51 L314.52,324.43 L315.01,325.35 L315.16,326.27 L315.17,327.19 L314.86,328.11 L314.14,329.02 L313.65,329.94 L313.40,330.86 L313.47,331.78 L313.85,332.70 L314.20,333.62 L314.15,334.54 L313.66,335.46 L313.30,336.38 L313.17,337.29 L313.05,338.21 L313.18,339.13 L313.64,340.05 L313.83,340.97 L314.02,341.89 L314.08,342.81 L313.95,343.72 L313.43,344.64 L313.04,345.56 L312.89,346.48 L313.05,347.40 L331.92,347.40 L331.81,346.48 L331.94,345.56 L332.33,344.64 L332.06,343.72 L332.54,342.81 L332.77,341.89 L333.40,340.97 L334.52,340.05 L334.77,339.13 L334.70,338.21 L334.16,337.29 L333.70,336.38 L333.59,335.46 L333.27,334.54 L332.73,333.62 L332.90,332.70 L332.91,331.78 L332.84,330.86 L332.76,329.94 L333.28,329.02 L333.59,328.11 L334.23,327.19 L334.29,326.27 L334.99,325.35 L335.06,324.43 L334.75,323.51 L334.15,322.59 L333.26,321.68 L332.67,320.76 L332.23,319.84 L332.25,318.92 L332.48,318.00 L332.65,317.08 L332.79,316.16 L332.62,315.24 L332.24,314.32 L332.03,313.41 L332.78,312.49 L333.29,311.57 L333.55,310.65 L333.46,309.73 L333.10,308.81 L332.28,307.89 L331.65,306.98 L331.06,306.06 L331.09,305.14 L331.53,304.22 L332.09,303.30 Z" stroke="none" stroke-width="1.0" fill="#919191" opacity="0.55"/>
<path d="M314.12,303.30 L314.18,304.22 L314.24,305.14 L314.21,306.06 L313.74,306.98 L313.65,307.89 L314.00,308.81 L314.34,309.73 L314.81,310.65 L315.15,311.57 L314.80,312.49 L314.37,313.41 L313.79,314.32 L313.17,315.24 L313.30,316.16 L313.53,317.08 L313.92,318.00 L314.28,318.92 L314.06,319.84 L313.95,320.76 L313.88,321.68 L313.82,322.59 L314.13,323.51 L314.52,324.43 L315.01,325.35 L315.16,326.27 L315.17,327.19 L314.86,328.11 L314.14,329.02 L313.65,329.94 L313.40,330.86 L313.47,331.78 L313.85,332.70 L314.20,333.62 L314.15,334.54 L313.66,335.46 L313.30,336.38 L313.17,337.29 L313.05,338.21 L313.18,339.13 L313.64,340.05 L313.83,340.97 L314.02,341.89 L314.08,342.81 L313.95,343.72 L313.43,344.64 L313.04,345.56 L312.89,346.48 L313.05,347.40" stroke="#c2cc40" stroke-width="0.8" fill="none" stroke-linejoin="round"/>
<path d="M332.09,303.30 L331.53,304.22 L331.09,305.14 L331.06,306.06 L331.65,306.98 L332.28,307.89 L333.10,308.81 L333.46,309.73 L333.55,310.65 L333.29,311.57 L332.78,312.49 L332.03,313.41 L332.24,314.32 L332.62,315.24 L332.79,316.16 L332.65,317.08 L332.48,318.00 L332.25,318.92 L332.23,319.84 L332.67,320.76 L333.26,321.68 L334.15,322.59 L334.75,323.51 L335.06,324.43 L334.99,325.35 L334.29,326.27 L334.23,327.19 L333.59,328.11 L333.28,329.02 L332.76,329.94 L332.84,330.86 L332.91,331.78 L332.90,332.70 L332.73,333.62 L333.27,334.54 L333.59,335.46 L333.70,336.38 L334.16,337.29 L334.70,338.21 L334.77,339.13 L334.52,340.05 L333.40,340.97 L332.77,341.89 L332.54,342.81 L332.06,343.72 L332.33,344.64 L331.94,345.56 L331.81,346.48 L331.92,347.40" stroke="#c2cc40" stroke-width="0.8" fill="none" stroke-linejoin="round"/>
<line x1="314.12" y1="303.50" x2="332.09" y2="303.50" stroke="#c2cc40" stroke-width="0.7" opacity="0.3"/>
<path d="M304.5,305.5 V321.0 M306.9,306.5 V317.0" stroke="#c2cc40" stroke-width="0.6" opacity="0.5" stroke-dasharray="1.2,0.8"/>
<rect x="361.20" y="303.00" width="53.70" height="44.70" fill="#8d8d8d"/>
<rect x="361.20" y="303.00" width="53.70" height="44.70" fill="#000" filter="url(#nzG)" opacity="0.12"/>
<path d="M377.80,303.30 L378.21,304.22 L378.85,305.14 L379.09,306.06 L379.51,306.98 L379.00,307.89 L378.61,308.81 L378.58,309.73 L378.18,310.65 L377.96,311.57 L377.94,312.49 L377.33,313.41 L377.15,314.32 L377.27,315.24 L377.80,316.16 L378.19,317.08 L378.04,318.00 L377.57,318.92 L377.77,319.84 L378.27,320.76 L378.53,321.68 L378.32,322.59 L378.09,323.51 L377.70,324.43 L377.25,325.35 L377.30,326.27 L377.52,327.19 L377.58,328.11 L377.11,329.02 L377.03,329.94 L377.76,330.86 L378.00,331.78 L378.60,332.70 L378.77,333.62 L378.90,334.54 L379.03,335.46 L379.13,336.38 L378.98,337.29 L378.44,338.21 L378.01,339.13 L377.68,340.05 L377.24,340.97 L376.86,341.89 L376.97,342.81 L376.87,343.72 L376.44,344.64 L376.14,345.56 L376.69,346.48 L377.03,347.40 L382.83,347.40 L383.69,346.48 L384.14,345.56 L384.66,344.64 L384.14,343.72 L382.66,342.81 L381.85,341.89 L381.90,340.97 L382.73,340.05 L382.98,339.13 L382.27,338.21 L381.88,337.29 L383.03,336.38 L384.32,335.46 L384.04,334.54 L383.08,333.62 L383.76,332.70 L384.19,331.78 L384.64,330.86 L383.89,329.94 L383.34,329.02 L384.07,328.11 L384.15,327.19 L382.76,326.27 L382.58,325.35 L383.59,324.43 L383.87,323.51 L382.52,322.59 L382.76,321.68 L383.82,320.76 L383.85,319.84 L383.22,318.92 L383.99,318.00 L384.88,317.08 L384.76,316.16 L384.03,315.24 L383.56,314.32 L384.57,313.41 L384.35,312.49 L383.35,311.57 L382.74,310.65 L382.75,309.73 L382.60,308.81 L383.22,307.89 L382.89,306.98 L382.95,306.06 L383.28,305.14 L383.92,304.22 L383.97,303.30 Z" stroke="none" stroke-width="1.0" fill="#919191" opacity="0.55"/>
<path d="M377.80,303.30 L378.21,304.22 L378.85,305.14 L379.09,306.06 L379.51,306.98 L379.00,307.89 L378.61,308.81 L378.58,309.73 L378.18,310.65 L377.96,311.57 L377.94,312.49 L377.33,313.41 L377.15,314.32 L377.27,315.24 L377.80,316.16 L378.19,317.08 L378.04,318.00 L377.57,318.92 L377.77,319.84 L378.27,320.76 L378.53,321.68 L378.32,322.59 L378.09,323.51 L377.70,324.43 L377.25,325.35 L377.30,326.27 L377.52,327.19 L377.58,328.11 L377.11,329.02 L377.03,329.94 L377.76,330.86 L378.00,331.78 L378.60,332.70 L378.77,333.62 L378.90,334.54 L379.03,335.46 L379.13,336.38 L378.98,337.29 L378.44,338.21 L378.01,339.13 L377.68,340.05 L377.24,340.97 L376.86,341.89 L376.97,342.81 L376.87,343.72 L376.44,344.64 L376.14,345.56 L376.69,346.48 L377.03,347.40" stroke="#c2cc40" stroke-width="0.8" fill="none" stroke-linejoin="round"/>
<path d="M383.97,303.30 L383.92,304.22 L383.28,305.14 L382.95,306.06 L382.89,306.98 L383.22,307.89 L382.60,308.81 L382.75,309.73 L382.74,310.65 L383.35,311.57 L384.35,312.49 L384.57,313.41 L383.56,314.32 L384.03,315.24 L384.76,316.16 L384.88,317.08 L383.99,318.00 L383.22,318.92 L383.85,319.84 L383.82,320.76 L382.76,321.68 L382.52,322.59 L383.87,323.51 L383.59,324.43 L382.58,325.35 L382.76,326.27 L384.15,327.19 L384.07,328.11 L383.34,329.02 L383.89,329.94 L384.64,330.86 L384.19,331.78 L383.76,332.70 L383.08,333.62 L384.04,334.54 L384.32,335.46 L383.03,336.38 L381.88,337.29 L382.27,338.21 L382.98,339.13 L382.73,340.05 L381.90,340.97 L381.85,341.89 L382.66,342.81 L384.14,343.72 L384.66,344.64 L384.14,345.56 L383.69,346.48 L382.83,347.40" stroke="#c2cc40" stroke-width="0.8" fill="none" stroke-linejoin="round"/>
<line x1="377.80" y1="303.50" x2="383.97" y2="303.50" stroke="#c2cc40" stroke-width="0.7" opacity="0.3"/>
<path d="M363.4,305.5 V321.0 M365.8,306.5 V317.0" stroke="#c2cc40" stroke-width="0.6" opacity="0.5" stroke-dasharray="1.2,0.8"/>
<rect x="244.00" y="361.70" width="53.70" height="44.60" fill="#8d8d8d"/>
<rect x="244.00" y="361.70" width="53.70" height="44.60" fill="#000" filter="url(#nzG)" opacity="0.12"/>
<path d="M268.10,362.00 L268.16,362.92 L268.48,363.83 L268.70,364.75 L269.11,365.67 L269.01,366.58 L268.33,367.50 L267.62,368.42 L267.37,369.33 L267.42,370.25 L267.88,371.17 L268.26,372.08 L268.22,373.00 L268.17,373.92 L268.05,374.83 L267.86,375.75 L267.87,376.67 L268.29,377.58 L268.48,378.50 L268.57,379.42 L268.47,380.33 L267.91,381.25 L267.73,382.17 L267.37,383.08 L267.35,384.00 L267.64,384.92 L267.97,385.83 L268.36,386.75 L268.86,387.67 L269.02,388.58 L268.75,389.50 L268.40,390.42 L268.36,391.33 L268.07,392.25 L267.87,393.17 L268.13,394.08 L268.03,395.00 L267.97,395.92 L267.90,396.83 L267.73,397.75 L267.64,398.67 L267.44,399.58 L267.84,400.50 L268.35,401.42 L268.75,402.33 L269.06,403.25 L269.08,404.17 L268.53,405.08 L267.95,406.00 L279.35,406.00 L279.77,405.08 L279.87,404.17 L279.35,403.25 L279.69,402.33 L280.29,401.42 L280.36,400.50 L279.72,399.58 L279.90,398.67 L280.41,397.75 L280.58,396.83 L280.03,395.92 L279.97,395.00 L280.45,394.08 L280.38,393.17 L280.07,392.25 L279.79,391.33 L280.22,390.42 L280.27,389.50 L279.81,388.58 L279.40,387.67 L280.07,386.75 L280.40,385.83 L280.05,384.92 L280.16,384.00 L280.37,383.08 L280.86,382.17 L281.04,381.25 L281.01,380.33 L281.17,379.42 L281.14,378.50 L280.78,377.58 L280.38,376.67 L280.16,375.75 L280.43,374.83 L280.28,373.92 L279.95,373.00 L279.51,372.08 L279.52,371.17 L279.45,370.25 L279.53,369.33 L279.48,368.42 L279.45,367.50 L279.63,366.58 L280.04,365.67 L280.14,364.75 L280.24,363.83 L280.17,362.92 L280.27,362.00 Z" stroke="none" stroke-width="1.0" fill="#919191" opacity="0.55"/>
<path d="M268.10,362.00 L268.16,362.92 L268.48,363.83 L268.70,364.75 L269.11,365.67 L269.01,366.58 L268.33,367.50 L267.62,368.42 L267.37,369.33 L267.42,370.25 L267.88,371.17 L268.26,372.08 L268.22,373.00 L268.17,373.92 L268.05,374.83 L267.86,375.75 L267.87,376.67 L268.29,377.58 L268.48,378.50 L268.57,379.42 L268.47,380.33 L267.91,381.25 L267.73,382.17 L267.37,383.08 L267.35,384.00 L267.64,384.92 L267.97,385.83 L268.36,386.75 L268.86,387.67 L269.02,388.58 L268.75,389.50 L268.40,390.42 L268.36,391.33 L268.07,392.25 L267.87,393.17 L268.13,394.08 L268.03,395.00 L267.97,395.92 L267.90,396.83 L267.73,397.75 L267.64,398.67 L267.44,399.58 L267.84,400.50 L268.35,401.42 L268.75,402.33 L269.06,403.25 L269.08,404.17 L268.53,405.08 L267.95,406.00" stroke="#c2cc40" stroke-width="0.8" fill="none" stroke-linejoin="round"/>
<path d="M280.27,362.00 L280.17,362.92 L280.24,363.83 L280.14,364.75 L280.04,365.67 L279.63,366.58 L279.45,367.50 L279.48,368.42 L279.53,369.33 L279.45,370.25 L279.52,371.17 L279.51,372.08 L279.95,373.00 L280.28,373.92 L280.43,374.83 L280.16,375.75 L280.38,376.67 L280.78,377.58 L281.14,378.50 L281.17,379.42 L281.01,380.33 L281.04,381.25 L280.86,382.17 L280.37,383.08 L280.16,384.00 L280.05,384.92 L280.40,385.83 L280.07,386.75 L279.40,387.67 L279.81,388.58 L280.27,389.50 L280.22,390.42 L279.79,391.33 L280.07,392.25 L280.38,393.17 L280.45,394.08 L279.97,395.00 L280.03,395.92 L280.58,396.83 L280.41,397.75 L279.90,398.67 L279.72,399.58 L280.36,400.50 L280.29,401.42 L279.69,402.33 L279.35,403.25 L279.87,404.17 L279.77,405.08 L279.35,406.00" stroke="#c2cc40" stroke-width="0.8" fill="none" stroke-linejoin="round"/>
<line x1="268.10" y1="362.20" x2="280.27" y2="362.20" stroke="#c2cc40" stroke-width="0.7" opacity="0.3"/>
<path d="M246.2,364.2 V379.7 M248.6,365.2 V375.7" stroke="#c2cc40" stroke-width="0.6" opacity="0.5" stroke-dasharray="1.2,0.8"/>
<rect x="302.30" y="361.70" width="54.10" height="44.60" fill="#8d8d8d"/>
<rect x="302.30" y="361.70" width="54.10" height="44.60" fill="#000" filter="url(#nzG)" opacity="0.12"/>
<path d="M325.44,362.00 L325.49,362.92 L325.69,363.83 L325.94,364.75 L326.34,365.67 L326.42,366.58 L326.44,367.50 L326.87,368.42 L326.97,369.33 L327.35,370.25 L327.38,371.17 L326.67,372.08 L326.05,373.00 L325.48,373.92 L325.59,374.83 L325.80,375.75 L325.86,376.67 L326.27,377.58 L326.32,378.50 L326.50,379.42 L326.82,380.33 L326.85,381.25 L326.61,382.17 L326.32,383.08 L325.97,384.00 L325.84,384.92 L325.82,385.83 L325.16,386.75 L324.68,387.67 L324.64,388.58 L325.13,389.50 L325.06,390.42 L325.36,391.33 L325.82,392.25 L326.16,393.17 L326.44,394.08 L326.23,395.00 L326.10,395.92 L325.97,396.83 L325.66,397.75 L325.14,398.67 L324.81,399.58 L325.47,400.50 L325.68,401.42 L325.27,402.33 L325.74,403.25 L326.86,404.17 L326.84,405.08 L326.36,406.00 L334.54,406.00 L334.69,405.08 L334.61,404.17 L334.45,403.25 L334.66,402.33 L334.31,401.42 L334.40,400.50 L334.12,399.58 L334.29,398.67 L334.97,397.75 L335.87,396.83 L336.04,395.92 L336.18,395.00 L335.76,394.08 L335.72,393.17 L335.50,392.25 L335.13,391.33 L334.93,390.42 L335.04,389.50 L334.87,388.58 L334.80,387.67 L334.86,386.75 L334.81,385.83 L334.63,384.92 L334.67,384.00 L334.95,383.08 L335.58,382.17 L335.84,381.25 L336.17,380.33 L336.26,379.42 L335.80,378.50 L335.61,377.58 L334.99,376.67 L334.84,375.75 L335.20,374.83 L335.52,373.92 L335.22,373.00 L334.76,372.08 L334.31,371.17 L334.60,370.25 L334.85,369.33 L334.90,368.42 L335.22,367.50 L335.17,366.58 L335.21,365.67 L335.41,364.75 L335.62,363.83 L335.66,362.92 L336.00,362.00 Z" stroke="none" stroke-width="1.0" fill="#919191" opacity="0.55"/>
<path d="M325.44,362.00 L325.49,362.92 L325.69,363.83 L325.94,364.75 L326.34,365.67 L326.42,366.58 L326.44,367.50 L326.87,368.42 L326.97,369.33 L327.35,370.25 L327.38,371.17 L326.67,372.08 L326.05,373.00 L325.48,373.92 L325.59,374.83 L325.80,375.75 L325.86,376.67 L326.27,377.58 L326.32,378.50 L326.50,379.42 L326.82,380.33 L326.85,381.25 L326.61,382.17 L326.32,383.08 L325.97,384.00 L325.84,384.92 L325.82,385.83 L325.16,386.75 L324.68,387.67 L324.64,388.58 L325.13,389.50 L325.06,390.42 L325.36,391.33 L325.82,392.25 L326.16,393.17 L326.44,394.08 L326.23,395.00 L326.10,395.92 L325.97,396.83 L325.66,397.75 L325.14,398.67 L324.81,399.58 L325.47,400.50 L325.68,401.42 L325.27,402.33 L325.74,403.25 L326.86,404.17 L326.84,405.08 L326.36,406.00" stroke="#c2cc40" stroke-width="0.8" fill="none" stroke-linejoin="round"/>
<path d="M336.00,362.00 L335.66,362.92 L335.62,363.83 L335.41,364.75 L335.21,365.67 L335.17,366.58 L335.22,367.50 L334.90,368.42 L334.85,369.33 L334.60,370.25 L334.31,371.17 L334.76,372.08 L335.22,373.00 L335.52,373.92 L335.20,374.83 L334.84,375.75 L334.99,376.67 L335.61,377.58 L335.80,378.50 L336.26,379.42 L336.17,380.33 L335.84,381.25 L335.58,382.17 L334.95,383.08 L334.67,384.00 L334.63,384.92 L334.81,385.83 L334.86,386.75 L334.80,387.67 L334.87,388.58 L335.04,389.50 L334.93,390.42 L335.13,391.33 L335.50,392.25 L335.72,393.17 L335.76,394.08 L336.18,395.00 L336.04,395.92 L335.87,396.83 L334.97,397.75 L334.29,398.67 L334.12,399.58 L334.40,400.50 L334.31,401.42 L334.66,402.33 L334.45,403.25 L334.61,404.17 L334.69,405.08 L334.54,406.00" stroke="#c2cc40" stroke-width="0.8" fill="none" stroke-linejoin="round"/>
<line x1="325.44" y1="362.20" x2="336.00" y2="362.20" stroke="#c2cc40" stroke-width="0.7" opacity="0.3"/>
<path d="M304.5,364.2 V379.7 M306.9,365.2 V375.7" stroke="#c2cc40" stroke-width="0.6" opacity="0.5" stroke-dasharray="1.2,0.8"/>
<rect x="361.20" y="361.70" width="53.70" height="44.60" fill="#8d8d8d"/>
<rect x="361.20" y="361.70" width="53.70" height="44.60" fill="#000" filter="url(#nzG)" opacity="0.12"/>
<path d="M387.17,362.00 L386.72,362.92 L386.65,363.83 L386.34,364.75 L386.35,365.67 L386.66,366.58 L386.66,367.50 L386.27,368.42 L386.10,369.33 L386.28,370.25 L386.41,371.17 L386.65,372.08 L386.60,373.00 L386.52,373.92 L386.70,374.83 L386.83,375.75 L387.05,376.67 L387.32,377.58 L387.16,378.50 L387.20,379.42 L386.73,380.33 L386.26,381.25 L386.21,382.17 L386.26,383.08 L386.42,384.00 L386.57,384.92 L386.17,385.83 L386.13,386.75 L385.97,387.67 L386.10,388.58 L386.63,389.50 L387.22,390.42 L387.41,391.33 L387.58,392.25 L387.57,393.17 L387.13,394.08 L387.11,395.00 L387.40,395.92 L387.76,396.83 L387.38,397.75 L386.71,398.67 L386.49,399.58 L386.43,400.50 L386.47,401.42 L386.66,402.33 L386.61,403.25 L386.73,404.17 L386.83,405.08 L387.46,406.00 L393.73,406.00 L393.73,405.08 L393.02,404.17 L392.21,403.25 L392.13,402.33 L392.31,401.42 L392.54,400.50 L392.51,399.58 L393.01,398.67 L392.99,397.75 L392.97,396.83 L393.18,395.92 L393.57,395.00 L393.68,394.08 L394.00,393.17 L393.98,392.25 L393.57,391.33 L393.23,390.42 L392.85,389.50 L392.70,388.58 L392.90,387.67 L393.10,386.75 L392.84,385.83 L392.64,384.92 L392.51,384.00 L392.74,383.08 L393.72,382.17 L393.84,381.25 L394.17,380.33 L393.82,379.42 L393.48,378.50 L393.13,377.58 L392.87,376.67 L392.67,375.75 L392.70,374.83 L393.14,373.92 L392.78,373.00 L393.00,372.08 L392.34,371.17 L392.44,370.25 L392.63,369.33 L393.14,368.42 L393.72,367.50 L394.08,366.58 L393.95,365.67 L393.47,364.75 L392.90,363.83 L392.64,362.92 L392.42,362.00 Z" stroke="none" stroke-width="1.0" fill="#919191" opacity="0.55"/>
<path d="M387.17,362.00 L386.72,362.92 L386.65,363.83 L386.34,364.75 L386.35,365.67 L386.66,366.58 L386.66,367.50 L386.27,368.42 L386.10,369.33 L386.28,370.25 L386.41,371.17 L386.65,372.08 L386.60,373.00 L386.52,373.92 L386.70,374.83 L386.83,375.75 L387.05,376.67 L387.32,377.58 L387.16,378.50 L387.20,379.42 L386.73,380.33 L386.26,381.25 L386.21,382.17 L386.26,383.08 L386.42,384.00 L386.57,384.92 L386.17,385.83 L386.13,386.75 L385.97,387.67 L386.10,388.58 L386.63,389.50 L387.22,390.42 L387.41,391.33 L387.58,392.25 L387.57,393.17 L387.13,394.08 L387.11,395.00 L387.40,395.92 L387.76,396.83 L387.38,397.75 L386.71,398.67 L386.49,399.58 L386.43,400.50 L386.47,401.42 L386.66,402.33 L386.61,403.25 L386.73,404.17 L386.83,405.08 L387.46,406.00" stroke="#c2cc40" stroke-width="0.8" fill="none" stroke-linejoin="round"/>
<path d="M392.42,362.00 L392.64,362.92 L392.90,363.83 L393.47,364.75 L393.95,365.67 L394.08,366.58 L393.72,367.50 L393.14,368.42 L392.63,369.33 L392.44,370.25 L392.34,371.17 L393.00,372.08 L392.78,373.00 L393.14,373.92 L392.70,374.83 L392.67,375.75 L392.87,376.67 L393.13,377.58 L393.48,378.50 L393.82,379.42 L394.17,380.33 L393.84,381.25 L393.72,382.17 L392.74,383.08 L392.51,384.00 L392.64,384.92 L392.84,385.83 L393.10,386.75 L392.90,387.67 L392.70,388.58 L392.85,389.50 L393.23,390.42 L393.57,391.33 L393.98,392.25 L394.00,393.17 L393.68,394.08 L393.57,395.00 L393.18,395.92 L392.97,396.83 L392.99,397.75 L393.01,398.67 L392.51,399.58 L392.54,400.50 L392.31,401.42 L392.13,402.33 L392.21,403.25 L393.02,404.17 L393.73,405.08 L393.73,406.00" stroke="#c2cc40" stroke-width="0.8" fill="none" stroke-linejoin="round"/>
<line x1="387.17" y1="362.20" x2="392.42" y2="362.20" stroke="#c2cc40" stroke-width="0.7" opacity="0.3"/>
<path d="M363.4,364.2 V379.7 M365.8,365.2 V375.7" stroke="#c2cc40" stroke-width="0.6" opacity="0.5" stroke-dasharray="1.2,0.8"/>
<rect x="244.00" y="420.10" width="53.70" height="45.20" fill="#8d8d8d"/>
<rect x="244.00" y="420.10" width="53.70" height="45.20" fill="#000" filter="url(#nzG)" opacity="0.12"/>
<path d="M262.18,420.40 L261.98,421.31 L261.64,422.22 L261.17,423.13 L261.09,424.04 L261.54,424.95 L262.13,425.86 L262.73,426.77 L262.60,427.68 L262.33,428.59 L262.14,429.50 L262.28,430.41 L262.33,431.32 L262.44,432.23 L262.22,433.14 L261.52,434.05 L261.38,434.96 L261.65,435.87 L262.11,436.78 L262.91,437.69 L263.30,438.60 L263.00,439.51 L262.69,440.42 L262.27,441.33 L262.46,442.24 L262.73,443.16 L263.00,444.07 L262.37,444.98 L261.96,445.89 L261.40,446.80 L261.66,447.71 L262.44,448.62 L262.94,449.53 L262.82,450.44 L262.60,451.35 L262.58,452.26 L262.82,453.17 L262.98,454.08 L263.05,454.99 L262.69,455.90 L262.15,456.81 L261.65,457.72 L261.53,458.63 L261.81,459.54 L262.38,460.45 L262.58,461.36 L262.49,462.27 L262.29,463.18 L262.39,464.09 L262.67,465.00 L275.54,465.00 L275.37,464.09 L275.37,463.18 L275.41,462.27 L275.77,461.36 L275.87,460.45 L275.95,459.54 L276.17,458.63 L276.11,457.72 L276.20,456.81 L276.12,455.90 L275.54,454.99 L275.71,454.08 L276.02,453.17 L275.83,452.26 L275.49,451.35 L275.37,450.44 L275.73,449.53 L276.04,448.62 L275.87,447.71 L275.57,446.80 L275.76,445.89 L276.54,444.98 L276.70,444.07 L276.16,443.16 L276.56,442.24 L277.18,441.33 L277.05,440.42 L276.51,439.51 L276.49,438.60 L276.96,437.69 L276.88,436.78 L276.34,435.87 L276.38,434.96 L276.74,434.05 L276.62,433.14 L275.72,432.23 L276.21,431.32 L276.83,430.41 L276.67,429.50 L276.24,428.59 L276.61,427.68 L277.37,426.77 L277.37,425.86 L276.94,424.95 L277.24,424.04 L277.60,423.13 L277.25,422.22 L276.55,421.31 L276.59,420.40 Z" stroke="none" stroke-width="1.0" fill="#919191" opacity="0.55"/>
<path d="M262.18,420.40 L261.98,421.31 L261.64,422.22 L261.17,423.13 L261.09,424.04 L261.54,424.95 L262.13,425.86 L262.73,426.77 L262.60,427.68 L262.33,428.59 L262.14,429.50 L262.28,430.41 L262.33,431.32 L262.44,432.23 L262.22,433.14 L261.52,434.05 L261.38,434.96 L261.65,435.87 L262.11,436.78 L262.91,437.69 L263.30,438.60 L263.00,439.51 L262.69,440.42 L262.27,441.33 L262.46,442.24 L262.73,443.16 L263.00,444.07 L262.37,444.98 L261.96,445.89 L261.40,446.80 L261.66,447.71 L262.44,448.62 L262.94,449.53 L262.82,450.44 L262.60,451.35 L262.58,452.26 L262.82,453.17 L262.98,454.08 L263.05,454.99 L262.69,455.90 L262.15,456.81 L261.65,457.72 L261.53,458.63 L261.81,459.54 L262.38,460.45 L262.58,461.36 L262.49,462.27 L262.29,463.18 L262.39,464.09 L262.67,465.00" stroke="#c2cc40" stroke-width="0.8" fill="none" stroke-linejoin="round"/>
<path d="M276.59,420.40 L276.55,421.31 L277.25,422.22 L277.60,423.13 L277.24,424.04 L276.94,424.95 L277.37,425.86 L277.37,426.77 L276.61,427.68 L276.24,428.59 L276.67,429.50 L276.83,430.41 L276.21,431.32 L275.72,432.23 L276.62,433.14 L276.74,434.05 L276.38,434.96 L276.34,435.87 L276.88,436.78 L276.96,437.69 L276.49,438.60 L276.51,439.51 L277.05,440.42 L277.18,441.33 L276.56,442.24 L276.16,443.16 L276.70,444.07 L276.54,444.98 L275.76,445.89 L275.57,446.80 L275.87,447.71 L276.04,448.62 L275.73,449.53 L275.37,450.44 L275.49,451.35 L275.83,452.26 L276.02,453.17 L275.71,454.08 L275.54,454.99 L276.12,455.90 L276.20,456.81 L276.11,457.72 L276.17,458.63 L275.95,459.54 L275.87,460.45 L275.77,461.36 L275.41,462.27 L275.37,463.18 L275.37,464.09 L275.54,465.00" stroke="#c2cc40" stroke-width="0.8" fill="none" stroke-linejoin="round"/>
<line x1="262.18" y1="420.60" x2="276.59" y2="420.60" stroke="#c2cc40" stroke-width="0.7" opacity="0.3"/>
<path d="M246.2,422.6 V438.1 M248.6,423.6 V434.1" stroke="#c2cc40" stroke-width="0.6" opacity="0.5" stroke-dasharray="1.2,0.8"/>
<rect x="302.30" y="420.10" width="54.10" height="45.20" fill="#8d8d8d"/>
<rect x="302.30" y="420.10" width="54.10" height="45.20" fill="#000" filter="url(#nzG)" opacity="0.12"/>
<path d="M319.67,420.40 L319.73,421.31 L320.02,422.22 L319.76,423.13 L320.41,424.04 L320.73,424.95 L321.11,425.86 L321.08,426.77 L321.16,427.68 L321.24,428.59 L321.03,429.50 L321.16,430.41 L321.29,431.32 L321.13,432.23 L320.79,433.14 L320.36,434.05 L320.15,434.96 L319.98,435.87 L320.04,436.78 L320.42,437.69 L320.45,438.60 L320.34,439.51 L320.16,440.42 L320.20,441.33 L320.37,442.24 L321.04,443.16 L321.29,444.07 L321.22,444.98 L321.05,445.89 L320.69,446.80 L320.39,447.71 L320.28,448.62 L320.44,449.53 L320.47,450.44 L320.29,451.35 L319.96,452.26 L319.74,453.17 L319.25,454.08 L319.53,454.99 L319.54,455.90 L319.66,456.81 L320.07,457.72 L320.49,458.63 L320.43,459.54 L320.59,460.45 L320.65,461.36 L320.45,462.27 L320.69,463.18 L320.49,464.09 L320.49,465.00 L333.09,465.00 L332.45,464.09 L331.99,463.18 L332.33,462.27 L332.77,461.36 L333.45,460.45 L334.33,459.54 L334.91,458.63 L334.29,457.72 L333.83,456.81 L333.64,455.90 L333.80,454.99 L334.28,454.08 L334.22,453.17 L333.71,452.26 L332.85,451.35 L332.08,450.44 L332.08,449.53 L332.74,448.62 L333.57,447.71 L333.52,446.80 L332.89,445.89 L332.77,444.98 L333.99,444.07 L334.74,443.16 L334.63,442.24 L333.69,441.33 L332.96,440.42 L332.74,439.51 L333.23,438.60 L333.22,437.69 L332.95,436.78 L331.96,435.87 L331.97,434.96 L333.41,434.05 L334.08,433.14 L333.99,432.23 L333.08,431.32 L333.47,430.41 L334.58,429.50 L335.15,428.59 L334.55,427.68 L333.73,426.77 L332.94,425.86 L332.71,424.95 L332.79,424.04 L332.70,423.13 L332.51,422.22 L332.45,421.31 L332.42,420.40 Z" stroke="none" stroke-width="1.0" fill="#919191" opacity="0.55"/>
<path d="M319.67,420.40 L319.73,421.31 L320.02,422.22 L319.76,423.13 L320.41,424.04 L320.73,424.95 L321.11,425.86 L321.08,426.77 L321.16,427.68 L321.24,428.59 L321.03,429.50 L321.16,430.41 L321.29,431.32 L321.13,432.23 L320.79,433.14 L320.36,434.05 L320.15,434.96 L319.98,435.87 L320.04,436.78 L320.42,437.69 L320.45,438.60 L320.34,439.51 L320.16,440.42 L320.20,441.33 L320.37,442.24 L321.04,443.16 L321.29,444.07 L321.22,444.98 L321.05,445.89 L320.69,446.80 L320.39,447.71 L320.28,448.62 L320.44,449.53 L320.47,450.44 L320.29,451.35 L319.96,452.26 L319.74,453.17 L319.25,454.08 L319.53,454.99 L319.54,455.90 L319.66,456.81 L320.07,457.72 L320.49,458.63 L320.43,459.54 L320.59,460.45 L320.65,461.36 L320.45,462.27 L320.69,463.18 L320.49,464.09 L320.49,465.00" stroke="#c2cc40" stroke-width="0.8" fill="none" stroke-linejoin="round"/>
<path d="M332.42,420.40 L332.45,421.31 L332.51,422.22 L332.70,423.13 L332.79,424.04 L332.71,424.95 L332.94,425.86 L333.73,426.77 L334.55,427.68 L335.15,428.59 L334.58,429.50 L333.47,430.41 L333.08,431.32 L333.99,432.23 L334.08,433.14 L333.41,434.05 L331.97,434.96 L331.96,435.87 L332.95,436.78 L333.22,437.69 L333.23,438.60 L332.74,439.51 L332.96,440.42 L333.69,441.33 L334.63,442.24 L334.74,443.16 L333.99,444.07 L332.77,444.98 L332.89,445.89 L333.52,446.80 L333.57,447.71 L332.74,448.62 L332.08,449.53 L332.08,450.44 L332.85,451.35 L333.71,452.26 L334.22,453.17 L334.28,454.08 L333.80,454.99 L333.64,455.90 L333.83,456.81 L334.29,457.72 L334.91,458.63 L334.33,459.54 L333.45,460.45 L332.77,461.36 L332.33,462.27 L331.99,463.18 L332.45,464.09 L333.09,465.00" stroke="#c2cc40" stroke-width="0.8" fill="none" stroke-linejoin="round"/>
<line x1="319.67" y1="420.60" x2="332.42" y2="420.60" stroke="#c2cc40" stroke-width="0.7" opacity="0.3"/>
<path d="M304.5,422.6 V438.1 M306.9,423.6 V434.1" stroke="#c2cc40" stroke-width="0.6" opacity="0.5" stroke-dasharray="1.2,0.8"/>
<rect x="361.20" y="420.10" width="53.70" height="45.20" fill="#8d8d8d"/>
<rect x="361.20" y="420.10" width="53.70" height="45.20" fill="#000" filter="url(#nzG)" opacity="0.12"/>
<path d="M379.92,420.40 L379.83,421.31 L379.96,422.22 L380.23,423.13 L380.57,424.04 L380.63,424.95 L380.42,425.86 L380.33,426.77 L380.88,427.68 L380.88,428.59 L380.57,429.50 L380.18,430.41 L380.29,431.32 L380.37,432.23 L379.65,433.14 L379.33,434.05 L379.38,434.96 L379.79,435.87 L380.13,436.78 L380.09,437.69 L379.97,438.60 L380.72,439.51 L381.40,440.42 L380.72,441.33 L380.35,442.24 L380.77,443.16 L381.16,444.07 L380.91,444.98 L380.14,445.89 L380.23,446.80 L380.22,447.71 L380.16,448.62 L380.23,449.53 L379.87,450.44 L380.04,451.35 L380.27,452.26 L380.99,453.17 L381.03,454.08 L381.11,454.99 L381.00,455.90 L381.22,456.81 L381.62,457.72 L381.35,458.63 L380.84,459.54 L380.15,460.45 L380.42,461.36 L380.51,462.27 L380.52,463.18 L380.37,464.09 L380.02,465.00 L389.58,465.00 L390.50,464.09 L390.55,463.18 L390.02,462.27 L389.64,461.36 L389.87,460.45 L389.57,459.54 L389.50,458.63 L389.23,457.72 L388.93,456.81 L389.11,455.90 L389.38,454.99 L389.33,454.08 L390.18,453.17 L390.70,452.26 L390.48,451.35 L389.67,450.44 L389.88,449.53 L390.48,448.62 L390.38,447.71 L389.39,446.80 L389.02,445.89 L389.57,444.98 L389.38,444.07 L389.05,443.16 L388.76,442.24 L389.02,441.33 L389.63,440.42 L390.02,439.51 L389.89,438.60 L389.06,437.69 L388.69,436.78 L389.30,435.87 L389.11,434.96 L387.90,434.05 L387.84,433.14 L388.84,432.23 L389.19,431.32 L388.88,430.41 L389.15,429.50 L390.49,428.59 L390.80,427.68 L390.14,426.77 L389.91,425.86 L390.46,424.95 L390.03,424.04 L389.07,423.13 L388.70,422.22 L389.08,421.31 L389.78,420.40 Z" stroke="none" stroke-width="1.0" fill="#919191" opacity="0.55"/>
<path d="M379.92,420.40 L379.83,421.31 L379.96,422.22 L380.23,423.13 L380.57,424.04 L380.63,424.95 L380.42,425.86 L380.33,426.77 L380.88,427.68 L380.88,428.59 L380.57,429.50 L380.18,430.41 L380.29,431.32 L380.37,432.23 L379.65,433.14 L379.33,434.05 L379.38,434.96 L379.79,435.87 L380.13,436.78 L380.09,437.69 L379.97,438.60 L380.72,439.51 L381.40,440.42 L380.72,441.33 L380.35,442.24 L380.77,443.16 L381.16,444.07 L380.91,444.98 L380.14,445.89 L380.23,446.80 L380.22,447.71 L380.16,448.62 L380.23,449.53 L379.87,450.44 L380.04,451.35 L380.27,452.26 L380.99,453.17 L381.03,454.08 L381.11,454.99 L381.00,455.90 L381.22,456.81 L381.62,457.72 L381.35,458.63 L380.84,459.54 L380.15,460.45 L380.42,461.36 L380.51,462.27 L380.52,463.18 L380.37,464.09 L380.02,465.00" stroke="#c2cc40" stroke-width="0.8" fill="none" stroke-linejoin="round"/>
<path d="M389.78,420.40 L389.08,421.31 L388.70,422.22 L389.07,423.13 L390.03,424.04 L390.46,424.95 L389.91,425.86 L390.14,426.77 L390.80,427.68 L390.49,428.59 L389.15,429.50 L388.88,430.41 L389.19,431.32 L388.84,432.23 L387.84,433.14 L387.90,434.05 L389.11,434.96 L389.30,435.87 L388.69,436.78 L389.06,437.69 L389.89,438.60 L390.02,439.51 L389.63,440.42 L389.02,441.33 L388.76,442.24 L389.05,443.16 L389.38,444.07 L389.57,444.98 L389.02,445.89 L389.39,446.80 L390.38,447.71 L390.48,448.62 L389.88,449.53 L389.67,450.44 L390.48,451.35 L390.70,452.26 L390.18,453.17 L389.33,454.08 L389.38,454.99 L389.11,455.90 L388.93,456.81 L389.23,457.72 L389.50,458.63 L389.57,459.54 L389.87,460.45 L389.64,461.36 L390.02,462.27 L390.55,463.18 L390.50,464.09 L389.58,465.00" stroke="#c2cc40" stroke-width="0.8" fill="none" stroke-linejoin="round"/>
<line x1="379.92" y1="420.60" x2="389.78" y2="420.60" stroke="#c2cc40" stroke-width="0.7" opacity="0.3"/>
<path d="M363.4,422.6 V438.1 M365.8,423.6 V434.1" stroke="#c2cc40" stroke-width="0.6" opacity="0.5" stroke-dasharray="1.2,0.8"/>
<rect x="244.00" y="478.50" width="53.70" height="44.70" fill="#8d8d8d"/>
<rect x="244.00" y="478.50" width="53.70" height="44.70" fill="#000" filter="url(#nzG)" opacity="0.12"/>
<path d="M265.43,478.80 L265.16,479.70 L265.26,480.60 L265.59,481.50 L266.28,482.40 L266.55,483.30 L266.36,484.20 L266.27,485.10 L266.10,486.00 L266.25,486.90 L266.16,487.80 L265.89,488.70 L265.66,489.60 L265.49,490.50 L264.85,491.40 L264.87,492.30 L265.05,493.20 L265.27,494.10 L265.54,495.00 L265.51,495.90 L265.50,496.80 L265.86,497.70 L266.30,498.60 L266.57,499.50 L266.39,500.40 L266.06,501.30 L265.35,502.20 L265.14,503.10 L265.15,504.00 L265.19,504.90 L265.03,505.80 L264.74,506.70 L264.34,507.60 L264.57,508.50 L265.16,509.40 L265.28,510.30 L265.20,511.20 L265.07,512.10 L265.58,513.00 L265.77,513.90 L265.39,514.80 L265.11,515.70 L265.60,516.60 L265.65,517.50 L264.88,518.40 L264.54,519.30 L265.14,520.20 L265.20,521.10 L264.53,522.00 L264.53,522.90 L280.58,522.90 L281.04,522.00 L281.18,521.10 L281.22,520.20 L281.15,519.30 L281.24,518.40 L281.17,517.50 L281.30,516.60 L281.52,515.70 L281.93,514.80 L281.84,513.90 L281.74,513.00 L281.30,512.10 L280.97,511.20 L280.59,510.30 L280.11,509.40 L280.44,508.50 L280.83,507.60 L281.23,506.70 L281.59,505.80 L281.56,504.90 L281.46,504.00 L281.37,503.10 L281.39,502.20 L281.61,501.30 L281.96,500.40 L282.06,499.50 L282.17,498.60 L282.10,497.70 L281.75,496.80 L281.13,495.90 L280.96,495.00 L281.32,494.10 L281.67,493.20 L281.51,492.30 L281.30,491.40 L280.81,490.50 L280.72,489.60 L281.13,488.70 L281.59,487.80 L282.18,486.90 L282.17,486.00 L282.02,485.10 L281.71,484.20 L281.71,483.30 L282.10,482.40 L282.12,481.50 L281.79,480.60 L281.56,479.70 L281.23,478.80 Z" stroke="none" stroke-width="1.0" fill="#919191" opacity="0.55"/>
<path d="M265.43,478.80 L265.16,479.70 L265.26,480.60 L265.59,481.50 L266.28,482.40 L266.55,483.30 L266.36,484.20 L266.27,485.10 L266.10,486.00 L266.25,486.90 L266.16,487.80 L265.89,488.70 L265.66,489.60 L265.49,490.50 L264.85,491.40 L264.87,492.30 L265.05,493.20 L265.27,494.10 L265.54,495.00 L265.51,495.90 L265.50,496.80 L265.86,497.70 L266.30,498.60 L266.57,499.50 L266.39,500.40 L266.06,501.30 L265.35,502.20 L265.14,503.10 L265.15,504.00 L265.19,504.90 L265.03,505.80 L264.74,506.70 L264.34,507.60 L264.57,508.50 L265.16,509.40 L265.28,510.30 L265.20,511.20 L265.07,512.10 L265.58,513.00 L265.77,513.90 L265.39,514.80 L265.11,515.70 L265.60,516.60 L265.65,517.50 L264.88,518.40 L264.54,519.30 L265.14,520.20 L265.20,521.10 L264.53,522.00 L264.53,522.90" stroke="#c2cc40" stroke-width="0.8" fill="none" stroke-linejoin="round"/>
<path d="M281.23,478.80 L281.56,479.70 L281.79,480.60 L282.12,481.50 L282.10,482.40 L281.71,483.30 L281.71,484.20 L282.02,485.10 L282.17,486.00 L282.18,486.90 L281.59,487.80 L281.13,488.70 L280.72,489.60 L280.81,490.50 L281.30,491.40 L281.51,492.30 L281.67,493.20 L281.32,494.10 L280.96,495.00 L281.13,495.90 L281.75,496.80 L282.10,497.70 L282.17,498.60 L282.06,499.50 L281.96,500.40 L281.61,501.30 L281.39,502.20 L281.37,503.10 L281.46,504.00 L281.56,504.90 L281.59,505.80 L281.23,506.70 L280.83,507.60 L280.44,508.50 L280.11,509.40 L280.59,510.30 L280.97,511.20 L281.30,512.10 L281.74,513.00 L281.84,513.90 L281.93,514.80 L281.52,515.70 L281.30,516.60 L281.17,517.50 L281.24,518.40 L281.15,519.30 L281.22,520.20 L281.18,521.10 L281.04,522.00 L280.58,522.90" stroke="#c2cc40" stroke-width="0.8" fill="none" stroke-linejoin="round"/>
<line x1="265.43" y1="479.00" x2="281.23" y2="479.00" stroke="#c2cc40" stroke-width="0.7" opacity="0.3"/>
<path d="M246.2,481.0 V496.5 M248.6,482.0 V492.5" stroke="#c2cc40" stroke-width="0.6" opacity="0.5" stroke-dasharray="1.2,0.8"/>
<rect x="302.30" y="478.50" width="54.10" height="44.70" fill="#8d8d8d"/>
<rect x="302.30" y="478.50" width="54.10" height="44.70" fill="#000" filter="url(#nzG)" opacity="0.12"/>
<path d="M323.23,478.80 L323.56,479.70 L323.61,480.60 L323.79,481.50 L324.25,482.40 L324.31,483.30 L324.33,484.20 L324.08,485.10 L323.47,486.00 L323.07,486.90 L322.62,487.80 L322.75,488.70 L323.34,489.60 L323.45,490.50 L323.54,491.40 L323.37,492.30 L323.69,493.20 L323.89,494.10 L324.06,495.00 L324.30,495.90 L324.10,496.80 L323.87,497.70 L323.56,498.60 L323.25,499.50 L323.17,500.40 L323.04,501.30 L323.09,502.20 L323.38,503.10 L323.47,504.00 L323.70,504.90 L323.72,505.80 L323.72,506.70 L323.83,507.60 L323.95,508.50 L324.17,509.40 L323.92,510.30 L324.14,511.20 L324.05,512.10 L323.52,513.00 L323.25,513.90 L323.11,514.80 L323.68,515.70 L324.31,516.60 L324.93,517.50 L325.42,518.40 L325.17,519.30 L324.62,520.20 L324.05,521.10 L324.03,522.00 L324.26,522.90 L338.04,522.90 L337.69,522.00 L337.43,521.10 L337.08,520.20 L336.81,519.30 L336.77,518.40 L336.47,517.50 L336.45,516.60 L336.79,515.70 L336.94,514.80 L337.69,513.90 L337.74,513.00 L337.62,512.10 L337.91,511.20 L338.11,510.30 L338.21,509.40 L338.68,508.50 L338.56,507.60 L338.05,506.70 L337.38,505.80 L337.25,504.90 L337.54,504.00 L337.57,503.10 L337.54,502.20 L337.67,501.30 L338.10,500.40 L338.57,499.50 L338.84,498.60 L338.58,497.70 L338.72,496.80 L338.74,495.90 L338.41,495.00 L338.17,494.10 L337.77,493.20 L337.60,492.30 L337.46,491.40 L337.31,490.50 L337.27,489.60 L337.21,488.70 L337.33,487.80 L337.67,486.90 L338.16,486.00 L338.33,485.10 L338.18,484.20 L338.14,483.30 L338.13,482.40 L338.32,481.50 L338.28,480.60 L338.21,479.70 L337.77,478.80 Z" stroke="none" stroke-width="1.0" fill="#919191" opacity="0.55"/>
<path d="M323.23,478.80 L323.56,479.70 L323.61,480.60 L323.79,481.50 L324.25,482.40 L324.31,483.30 L324.33,484.20 L324.08,485.10 L323.47,486.00 L323.07,486.90 L322.62,487.80 L322.75,488.70 L323.34,489.60 L323.45,490.50 L323.54,491.40 L323.37,492.30 L323.69,493.20 L323.89,494.10 L324.06,495.00 L324.30,495.90 L324.10,496.80 L323.87,497.70 L323.56,498.60 L323.25,499.50 L323.17,500.40 L323.04,501.30 L323.09,502.20 L323.38,503.10 L323.47,504.00 L323.70,504.90 L323.72,505.80 L323.72,506.70 L323.83,507.60 L323.95,508.50 L324.17,509.40 L323.92,510.30 L324.14,511.20 L324.05,512.10 L323.52,513.00 L323.25,513.90 L323.11,514.80 L323.68,515.70 L324.31,516.60 L324.93,517.50 L325.42,518.40 L325.17,519.30 L324.62,520.20 L324.05,521.10 L324.03,522.00 L324.26,522.90" stroke="#c2cc40" stroke-width="0.8" fill="none" stroke-linejoin="round"/>
<path d="M337.77,478.80 L338.21,479.70 L338.28,480.60 L338.32,481.50 L338.13,482.40 L338.14,483.30 L338.18,484.20 L338.33,485.10 L338.16,486.00 L337.67,486.90 L337.33,487.80 L337.21,488.70 L337.27,489.60 L337.31,490.50 L337.46,491.40 L337.60,492.30 L337.77,493.20 L338.17,494.10 L338.41,495.00 L338.74,495.90 L338.72,496.80 L338.58,497.70 L338.84,498.60 L338.57,499.50 L338.10,500.40 L337.67,501.30 L337.54,502.20 L337.57,503.10 L337.54,504.00 L337.25,504.90 L337.38,505.80 L338.05,506.70 L338.56,507.60 L338.68,508.50 L338.21,509.40 L338.11,510.30 L337.91,511.20 L337.62,512.10 L337.74,513.00 L337.69,513.90 L336.94,514.80 L336.79,515.70 L336.45,516.60 L336.47,517.50 L336.77,518.40 L336.81,519.30 L337.08,520.20 L337.43,521.10 L337.69,522.00 L338.04,522.90" stroke="#c2cc40" stroke-width="0.8" fill="none" stroke-linejoin="round"/>
<line x1="323.23" y1="479.00" x2="337.77" y2="479.00" stroke="#c2cc40" stroke-width="0.7" opacity="0.3"/>
<path d="M304.5,481.0 V496.5 M306.9,482.0 V492.5" stroke="#c2cc40" stroke-width="0.6" opacity="0.5" stroke-dasharray="1.2,0.8"/>
<rect x="361.20" y="478.50" width="53.70" height="44.70" fill="#8d8d8d"/>
<rect x="361.20" y="478.50" width="53.70" height="44.70" fill="#000" filter="url(#nzG)" opacity="0.12"/>
<path d="M382.33,478.80 L382.88,479.70 L383.26,480.60 L383.48,481.50 L383.13,482.40 L382.55,483.30 L382.68,484.20 L382.99,485.10 L382.68,486.00 L382.10,486.90 L381.76,487.80 L381.70,488.70 L382.04,489.60 L381.93,490.50 L382.29,491.40 L382.11,492.30 L382.32,493.20 L382.71,494.10 L383.12,495.00 L383.12,495.90 L382.86,496.80 L382.76,497.70 L383.01,498.60 L382.88,499.50 L382.34,500.40 L381.49,501.30 L381.45,502.20 L381.92,503.10 L381.28,504.00 L380.71,504.90 L381.37,505.80 L382.11,506.70 L381.66,507.60 L381.44,508.50 L381.85,509.40 L382.85,510.30 L382.34,511.20 L381.83,512.10 L382.19,513.00 L382.73,513.90 L382.03,514.80 L380.94,515.70 L380.72,516.60 L381.30,517.50 L382.08,518.40 L381.61,519.30 L380.77,520.20 L380.80,521.10 L382.40,522.00 L382.70,522.90 L395.77,522.90 L395.59,522.00 L395.17,521.10 L394.82,520.20 L394.97,519.30 L394.79,518.40 L394.26,517.50 L394.32,516.60 L394.79,515.70 L395.13,514.80 L394.82,513.90 L394.78,513.00 L395.49,512.10 L396.18,511.20 L395.97,510.30 L395.87,509.40 L395.98,508.50 L396.39,507.60 L396.41,506.70 L396.08,505.80 L396.22,504.90 L396.28,504.00 L396.21,503.10 L395.64,502.20 L395.36,501.30 L395.54,500.40 L395.65,499.50 L395.59,498.60 L395.46,497.70 L395.56,496.80 L395.74,495.90 L395.97,495.00 L396.23,494.10 L396.16,493.20 L396.14,492.30 L396.09,491.40 L395.87,490.50 L395.81,489.60 L395.67,488.70 L395.08,487.80 L394.68,486.90 L394.31,486.00 L394.60,485.10 L394.62,484.20 L394.52,483.30 L394.66,482.40 L394.90,481.50 L395.32,480.60 L395.61,479.70 L396.00,478.80 Z" stroke="none" stroke-width="1.0" fill="#919191" opacity="0.55"/>
<path d="M382.33,478.80 L382.88,479.70 L383.26,480.60 L383.48,481.50 L383.13,482.40 L382.55,483.30 L382.68,484.20 L382.99,485.10 L382.68,486.00 L382.10,486.90 L381.76,487.80 L381.70,488.70 L382.04,489.60 L381.93,490.50 L382.29,491.40 L382.11,492.30 L382.32,493.20 L382.71,494.10 L383.12,495.00 L383.12,495.90 L382.86,496.80 L382.76,497.70 L383.01,498.60 L382.88,499.50 L382.34,500.40 L381.49,501.30 L381.45,502.20 L381.92,503.10 L381.28,504.00 L380.71,504.90 L381.37,505.80 L382.11,506.70 L381.66,507.60 L381.44,508.50 L381.85,509.40 L382.85,510.30 L382.34,511.20 L381.83,512.10 L382.19,513.00 L382.73,513.90 L382.03,514.80 L380.94,515.70 L380.72,516.60 L381.30,517.50 L382.08,518.40 L381.61,519.30 L380.77,520.20 L380.80,521.10 L382.40,522.00 L382.70,522.90" stroke="#c2cc40" stroke-width="0.8" fill="none" stroke-linejoin="round"/>
<path d="M396.00,478.80 L395.61,479.70 L395.32,480.60 L394.90,481.50 L394.66,482.40 L394.52,483.30 L394.62,484.20 L394.60,485.10 L394.31,486.00 L394.68,486.90 L395.08,487.80 L395.67,488.70 L395.81,489.60 L395.87,490.50 L396.09,491.40 L396.14,492.30 L396.16,493.20 L396.23,494.10 L395.97,495.00 L395.74,495.90 L395.56,496.80 L395.46,497.70 L395.59,498.60 L395.65,499.50 L395.54,500.40 L395.36,501.30 L395.64,502.20 L396.21,503.10 L396.28,504.00 L396.22,504.90 L396.08,505.80 L396.41,506.70 L396.39,507.60 L395.98,508.50 L395.87,509.40 L395.97,510.30 L396.18,511.20 L395.49,512.10 L394.78,513.00 L394.82,513.90 L395.13,514.80 L394.79,515.70 L394.32,516.60 L394.26,517.50 L394.79,518.40 L394.97,519.30 L394.82,520.20 L395.17,521.10 L395.59,522.00 L395.77,522.90" stroke="#c2cc40" stroke-width="0.8" fill="none" stroke-linejoin="round"/>
<line x1="382.33" y1="479.00" x2="396.00" y2="479.00" stroke="#c2cc40" stroke-width="0.7" opacity="0.3"/>
<path d="M363.4,481.0 V496.5 M365.8,482.0 V492.5" stroke="#c2cc40" stroke-width="0.6" opacity="0.5" stroke-dasharray="1.2,0.8"/>
<rect x="241.20" y="578.00" width="54.80" height="44.50" fill="#939393"/>
<rect x="241.20" y="578.00" width="54.80" height="44.50" fill="#000" filter="url(#nzI)" opacity="0.13"/>
<path d="M259.00,578.30 L259.03,579.21 L258.91,580.13 L258.80,581.04 L258.92,581.96 L259.09,582.87 L259.53,583.79 L260.00,584.70 L260.15,585.62 L260.07,586.53 L259.77,587.45 L259.25,588.36 L259.25,589.27 L259.26,590.19 L259.28,591.10 L259.21,592.02 L258.89,592.93 L258.34,593.85 L258.83,594.76 L259.36,595.68 L259.75,596.59 L260.04,597.51 L259.55,598.42 L259.06,599.34 L258.78,600.25 L258.97,601.16 L259.10,602.08 L258.68,602.99 L258.05,603.91 L257.59,604.82 L257.92,605.74 L258.42,606.65 L259.07,607.57 L259.56,608.48 L259.31,609.40 L258.98,610.31 L259.04,611.23 L259.55,612.14 L260.05,613.05 L260.44,613.97 L259.79,614.88 L259.41,615.80 L258.91,616.71 L258.66,617.63 L258.79,618.54 L259.17,619.46 L259.58,620.37 L260.08,621.29 L260.30,622.20 L273.37,622.20 L273.12,621.29 L273.21,620.37 L273.18,619.46 L273.20,618.54 L273.42,617.63 L273.10,616.71 L272.81,615.80 L272.57,614.88 L273.19,613.97 L273.67,613.05 L274.27,612.14 L274.69,611.23 L274.77,610.31 L274.12,609.40 L274.29,608.48 L273.67,607.57 L273.56,606.65 L273.55,605.74 L273.39,604.82 L273.65,603.91 L273.49,602.99 L273.48,602.08 L273.43,601.16 L273.54,600.25 L273.47,599.34 L273.76,598.42 L273.87,597.51 L273.89,596.59 L274.12,595.68 L274.56,594.76 L274.25,593.85 L274.04,592.93 L273.52,592.02 L273.20,591.10 L272.92,590.19 L272.68,589.27 L272.41,588.36 L272.22,587.45 L271.99,586.53 L271.61,585.62 L271.87,584.70 L271.91,583.79 L272.45,582.87 L272.91,581.96 L273.17,581.04 L273.30,580.13 L273.09,579.21 L273.21,578.30 Z" stroke="none" stroke-width="1.0" fill="#939493" opacity="1.0"/>
<path d="M259.00,578.30 L259.03,579.21 L258.91,580.13 L258.80,581.04 L258.92,581.96 L259.09,582.87 L259.53,583.79 L260.00,584.70 L260.15,585.62 L260.07,586.53 L259.77,587.45 L259.25,588.36 L259.25,589.27 L259.26,590.19 L259.28,591.10 L259.21,592.02 L258.89,592.93 L258.34,593.85 L258.83,594.76 L259.36,595.68 L259.75,596.59 L260.04,597.51 L259.55,598.42 L259.06,599.34 L258.78,600.25 L258.97,601.16 L259.10,602.08 L258.68,602.99 L258.05,603.91 L257.59,604.82 L257.92,605.74 L258.42,606.65 L259.07,607.57 L259.56,608.48 L259.31,609.40 L258.98,610.31 L259.04,611.23 L259.55,612.14 L260.05,613.05 L260.44,613.97 L259.79,614.88 L259.41,615.80 L258.91,616.71 L258.66,617.63 L258.79,618.54 L259.17,619.46 L259.58,620.37 L260.08,621.29 L260.30,622.20" stroke="#c2cc40" stroke-width="0.8" fill="none" stroke-linejoin="round"/>
<path d="M273.21,578.30 L273.09,579.21 L273.30,580.13 L273.17,581.04 L272.91,581.96 L272.45,582.87 L271.91,583.79 L271.87,584.70 L271.61,585.62 L271.99,586.53 L272.22,587.45 L272.41,588.36 L272.68,589.27 L272.92,590.19 L273.20,591.10 L273.52,592.02 L274.04,592.93 L274.25,593.85 L274.56,594.76 L274.12,595.68 L273.89,596.59 L273.87,597.51 L273.76,598.42 L273.47,599.34 L273.54,600.25 L273.43,601.16 L273.48,602.08 L273.49,602.99 L273.65,603.91 L273.39,604.82 L273.55,605.74 L273.56,606.65 L273.67,607.57 L274.29,608.48 L274.12,609.40 L274.77,610.31 L274.69,611.23 L274.27,612.14 L273.67,613.05 L273.19,613.97 L272.57,614.88 L272.81,615.80 L273.10,616.71 L273.42,617.63 L273.20,618.54 L273.18,619.46 L273.21,620.37 L273.12,621.29 L273.37,622.20" stroke="#c2cc40" stroke-width="0.8" fill="none" stroke-linejoin="round"/>
<line x1="259.00" y1="578.50" x2="273.21" y2="578.50" stroke="#c2cc40" stroke-width="0.7" opacity="0.3"/>
<path d="M243.4,580.5 V596.0 M245.8,581.5 V592.0" stroke="#c2cc40" stroke-width="0.6" opacity="0.5" stroke-dasharray="1.2,0.8"/>
<rect x="300.80" y="578.00" width="54.30" height="44.50" fill="#939393"/>
<rect x="300.80" y="578.00" width="54.30" height="44.50" fill="#000" filter="url(#nzI)" opacity="0.13"/>
<path d="M320.91,578.30 L321.12,579.21 L321.56,580.13 L321.61,581.04 L321.73,581.96 L321.03,582.87 L321.05,583.79 L321.61,584.70 L322.16,585.62 L322.00,586.53 L321.69,587.45 L321.30,588.36 L320.86,589.27 L320.41,590.19 L320.26,591.10 L320.27,592.02 L320.62,592.93 L320.84,593.85 L320.85,594.76 L320.89,595.68 L321.15,596.59 L321.37,597.51 L321.54,598.42 L321.69,599.34 L321.65,600.25 L321.58,601.16 L321.20,602.08 L320.56,602.99 L320.44,603.91 L320.38,604.82 L320.97,605.74 L321.11,606.65 L321.56,607.57 L321.97,608.48 L322.36,609.40 L322.60,610.31 L322.46,611.23 L322.30,612.14 L321.91,613.05 L321.70,613.97 L321.09,614.88 L320.60,615.80 L320.31,616.71 L320.13,617.63 L320.24,618.54 L319.96,619.46 L320.22,620.37 L320.66,621.29 L321.27,622.20 L328.07,622.20 L326.95,621.29 L327.07,620.37 L327.25,619.46 L326.68,618.54 L325.87,617.63 L326.63,616.71 L327.31,615.80 L326.55,614.88 L325.62,613.97 L326.26,613.05 L327.29,612.14 L326.99,611.23 L326.30,610.31 L327.07,609.40 L327.91,608.48 L327.04,607.57 L325.90,606.65 L326.81,605.74 L327.03,604.82 L326.30,603.91 L325.81,602.99 L326.23,602.08 L326.06,601.16 L325.36,600.25 L324.85,599.34 L325.82,598.42 L326.21,597.51 L325.61,596.59 L325.43,595.68 L326.32,594.76 L327.14,593.85 L326.76,592.93 L326.08,592.02 L325.56,591.10 L325.72,590.19 L326.14,589.27 L325.84,588.36 L325.15,587.45 L325.14,586.53 L325.30,585.62 L325.31,584.70 L325.57,583.79 L325.67,582.87 L325.29,581.96 L325.22,581.04 L325.69,580.13 L326.67,579.21 L327.19,578.30 Z" stroke="none" stroke-width="1.0" fill="#939493" opacity="1.0"/>
<path d="M320.91,578.30 L321.12,579.21 L321.56,580.13 L321.61,581.04 L321.73,581.96 L321.03,582.87 L321.05,583.79 L321.61,584.70 L322.16,585.62 L322.00,586.53 L321.69,587.45 L321.30,588.36 L320.86,589.27 L320.41,590.19 L320.26,591.10 L320.27,592.02 L320.62,592.93 L320.84,593.85 L320.85,594.76 L320.89,595.68 L321.15,596.59 L321.37,597.51 L321.54,598.42 L321.69,599.34 L321.65,600.25 L321.58,601.16 L321.20,602.08 L320.56,602.99 L320.44,603.91 L320.38,604.82 L320.97,605.74 L321.11,606.65 L321.56,607.57 L321.97,608.48 L322.36,609.40 L322.60,610.31 L322.46,611.23 L322.30,612.14 L321.91,613.05 L321.70,613.97 L321.09,614.88 L320.60,615.80 L320.31,616.71 L320.13,617.63 L320.24,618.54 L319.96,619.46 L320.22,620.37 L320.66,621.29 L321.27,622.20" stroke="#c2cc40" stroke-width="0.8" fill="none" stroke-linejoin="round"/>
<path d="M327.19,578.30 L326.67,579.21 L325.69,580.13 L325.22,581.04 L325.29,581.96 L325.67,582.87 L325.57,583.79 L325.31,584.70 L325.30,585.62 L325.14,586.53 L325.15,587.45 L325.84,588.36 L326.14,589.27 L325.72,590.19 L325.56,591.10 L326.08,592.02 L326.76,592.93 L327.14,593.85 L326.32,594.76 L325.43,595.68 L325.61,596.59 L326.21,597.51 L325.82,598.42 L324.85,599.34 L325.36,600.25 L326.06,601.16 L326.23,602.08 L325.81,602.99 L326.30,603.91 L327.03,604.82 L326.81,605.74 L325.90,606.65 L327.04,607.57 L327.91,608.48 L327.07,609.40 L326.30,610.31 L326.99,611.23 L327.29,612.14 L326.26,613.05 L325.62,613.97 L326.55,614.88 L327.31,615.80 L326.63,616.71 L325.87,617.63 L326.68,618.54 L327.25,619.46 L327.07,620.37 L326.95,621.29 L328.07,622.20" stroke="#c2cc40" stroke-width="0.8" fill="none" stroke-linejoin="round"/>
<line x1="320.91" y1="578.50" x2="327.19" y2="578.50" stroke="#c2cc40" stroke-width="0.7" opacity="0.3"/>
<path d="M303.0,580.5 V596.0 M305.4,581.5 V592.0" stroke="#c2cc40" stroke-width="0.6" opacity="0.5" stroke-dasharray="1.2,0.8"/>
<rect x="360.20" y="578.00" width="54.70" height="44.50" fill="#939393"/>
<rect x="360.20" y="578.00" width="54.70" height="44.50" fill="#000" filter="url(#nzI)" opacity="0.13"/>
<path d="M362.4,580.5 V596.0 M364.8,581.5 V592.0" stroke="#c2cc40" stroke-width="0.6" opacity="0.5" stroke-dasharray="1.2,0.8"/>
<rect x="241.20" y="637.20" width="54.80" height="45.00" fill="#939393"/>
<rect x="241.20" y="637.20" width="54.80" height="45.00" fill="#000" filter="url(#nzI)" opacity="0.13"/>
<path d="M259.25,637.50 L259.40,638.41 L259.42,639.31 L259.43,640.22 L259.86,641.12 L260.27,642.03 L260.13,642.94 L260.12,643.84 L260.36,644.75 L260.39,645.66 L260.25,646.56 L259.87,647.47 L259.65,648.37 L259.76,649.28 L259.79,650.19 L259.49,651.09 L259.46,652.00 L259.53,652.90 L259.74,653.81 L259.78,654.72 L259.63,655.62 L259.89,656.53 L260.27,657.43 L260.29,658.34 L260.18,659.25 L260.19,660.15 L260.34,661.06 L259.87,661.97 L259.64,662.87 L259.53,663.78 L259.38,664.68 L259.12,665.59 L258.89,666.50 L259.07,667.40 L259.30,668.31 L259.31,669.21 L259.25,670.12 L259.52,671.03 L259.95,671.93 L259.87,672.84 L259.71,673.74 L259.86,674.65 L260.07,675.56 L259.96,676.46 L259.61,677.37 L259.54,678.28 L259.65,679.18 L259.55,680.09 L259.21,680.99 L259.35,681.90 L274.48,681.90 L274.61,680.99 L274.57,680.09 L274.59,679.18 L274.36,678.28 L274.05,677.37 L273.84,676.46 L273.83,675.56 L273.84,674.65 L273.86,673.74 L274.40,672.84 L274.45,671.93 L274.50,671.03 L274.36,670.12 L274.26,669.21 L274.33,668.31 L274.76,667.40 L274.90,666.50 L274.92,665.59 L274.62,664.68 L274.14,663.78 L273.48,662.87 L273.34,661.97 L273.42,661.06 L273.84,660.15 L274.12,659.25 L274.30,658.34 L274.48,657.43 L274.39,656.53 L274.14,655.62 L274.40,654.72 L274.46,653.81 L274.42,652.90 L274.25,652.00 L274.07,651.09 L273.67,650.19 L273.36,649.28 L273.41,648.37 L273.61,647.47 L273.92,646.56 L273.85,645.66 L273.85,644.75 L273.90,643.84 L274.01,642.94 L274.13,642.03 L274.37,641.12 L274.60,640.22 L274.60,639.31 L274.42,638.41 L274.19,637.50 Z" stroke="none" stroke-width="1.0" fill="#939493" opacity="1.0"/>
<path d="M259.25,637.50 L259.40,638.41 L259.42,639.31 L259.43,640.22 L259.86,641.12 L260.27,642.03 L260.13,642.94 L260.12,643.84 L260.36,644.75 L260.39,645.66 L260.25,646.56 L259.87,647.47 L259.65,648.37 L259.76,649.28 L259.79,650.19 L259.49,651.09 L259.46,652.00 L259.53,652.90 L259.74,653.81 L259.78,654.72 L259.63,655.62 L259.89,656.53 L260.27,657.43 L260.29,658.34 L260.18,659.25 L260.19,660.15 L260.34,661.06 L259.87,661.97 L259.64,662.87 L259.53,663.78 L259.38,664.68 L259.12,665.59 L258.89,666.50 L259.07,667.40 L259.30,668.31 L259.31,669.21 L259.25,670.12 L259.52,671.03 L259.95,671.93 L259.87,672.84 L259.71,673.74 L259.86,674.65 L260.07,675.56 L259.96,676.46 L259.61,677.37 L259.54,678.28 L259.65,679.18 L259.55,680.09 L259.21,680.99 L259.35,681.90" stroke="#c2cc40" stroke-width="0.8" fill="none" stroke-linejoin="round"/>
<path d="M274.19,637.50 L274.42,638.41 L274.60,639.31 L274.60,640.22 L274.37,641.12 L274.13,642.03 L274.01,642.94 L273.90,643.84 L273.85,644.75 L273.85,645.66 L273.92,646.56 L273.61,647.47 L273.41,648.37 L273.36,649.28 L273.67,650.19 L274.07,651.09 L274.25,652.00 L274.42,652.90 L274.46,653.81 L274.40,654.72 L274.14,655.62 L274.39,656.53 L274.48,657.43 L274.30,658.34 L274.12,659.25 L273.84,660.15 L273.42,661.06 L273.34,661.97 L273.48,662.87 L274.14,663.78 L274.62,664.68 L274.92,665.59 L274.90,666.50 L274.76,667.40 L274.33,668.31 L274.26,669.21 L274.36,670.12 L274.50,671.03 L274.45,671.93 L274.40,672.84 L273.86,673.74 L273.84,674.65 L273.83,675.56 L273.84,676.46 L274.05,677.37 L274.36,678.28 L274.59,679.18 L274.57,680.09 L274.61,680.99 L274.48,681.90" stroke="#c2cc40" stroke-width="0.8" fill="none" stroke-linejoin="round"/>
<line x1="259.25" y1="637.70" x2="274.19" y2="637.70" stroke="#c2cc40" stroke-width="0.7" opacity="0.3"/>
<path d="M243.4,639.7 V655.2 M245.8,640.7 V651.2" stroke="#c2cc40" stroke-width="0.6" opacity="0.5" stroke-dasharray="1.2,0.8"/>
<rect x="300.80" y="637.20" width="54.30" height="45.00" fill="#939393"/>
<rect x="300.80" y="637.20" width="54.30" height="45.00" fill="#000" filter="url(#nzI)" opacity="0.13"/>
<path d="M322.80,637.50 L323.47,638.41 L323.87,639.31 L323.94,640.22 L323.88,641.12 L323.36,642.03 L323.06,642.94 L322.94,643.84 L322.50,644.75 L322.69,645.66 L322.64,646.56 L322.65,647.47 L322.62,648.37 L323.06,649.28 L323.53,650.19 L323.96,651.09 L323.93,652.00 L323.77,652.90 L323.41,653.81 L322.92,654.72 L322.81,655.62 L323.04,656.53 L322.76,657.43 L322.65,658.34 L322.27,659.25 L321.75,660.15 L321.77,661.06 L322.28,661.97 L323.02,662.87 L323.18,663.78 L323.43,664.68 L322.79,665.59 L322.63,666.50 L322.74,667.40 L323.14,668.31 L323.28,669.21 L322.86,670.12 L322.31,671.03 L321.91,671.93 L322.40,672.84 L322.92,673.74 L323.36,674.65 L323.38,675.56 L323.00,676.46 L322.96,677.37 L323.52,678.28 L323.79,679.18 L323.59,680.09 L322.91,680.99 L322.60,681.90 L328.28,681.90 L327.83,680.99 L328.35,680.09 L328.36,679.18 L328.46,678.28 L328.96,677.37 L329.32,676.46 L329.78,675.56 L329.70,674.65 L329.40,673.74 L329.10,672.84 L329.07,671.93 L329.08,671.03 L328.84,670.12 L328.38,669.21 L327.93,668.31 L327.82,667.40 L328.13,666.50 L328.40,665.59 L328.74,664.68 L329.64,663.78 L329.94,662.87 L329.50,661.97 L329.30,661.06 L329.30,660.15 L329.09,659.25 L328.38,658.34 L328.31,657.43 L328.51,656.53 L328.56,655.62 L328.23,654.72 L328.43,653.81 L329.07,652.90 L329.65,652.00 L329.87,651.09 L329.77,650.19 L329.62,649.28 L329.38,648.37 L328.89,647.47 L328.12,646.56 L327.87,645.66 L327.64,644.75 L327.56,643.84 L328.10,642.94 L328.61,642.03 L328.86,641.12 L328.57,640.22 L329.02,639.31 L329.24,638.41 L329.39,637.50 Z" stroke="none" stroke-width="1.0" fill="#939493" opacity="1.0"/>
<path d="M322.80,637.50 L323.47,638.41 L323.87,639.31 L323.94,640.22 L323.88,641.12 L323.36,642.03 L323.06,642.94 L322.94,643.84 L322.50,644.75 L322.69,645.66 L322.64,646.56 L322.65,647.47 L322.62,648.37 L323.06,649.28 L323.53,650.19 L323.96,651.09 L323.93,652.00 L323.77,652.90 L323.41,653.81 L322.92,654.72 L322.81,655.62 L323.04,656.53 L322.76,657.43 L322.65,658.34 L322.27,659.25 L321.75,660.15 L321.77,661.06 L322.28,661.97 L323.02,662.87 L323.18,663.78 L323.43,664.68 L322.79,665.59 L322.63,666.50 L322.74,667.40 L323.14,668.31 L323.28,669.21 L322.86,670.12 L322.31,671.03 L321.91,671.93 L322.40,672.84 L322.92,673.74 L323.36,674.65 L323.38,675.56 L323.00,676.46 L322.96,677.37 L323.52,678.28 L323.79,679.18 L323.59,680.09 L322.91,680.99 L322.60,681.90" stroke="#c2cc40" stroke-width="0.8" fill="none" stroke-linejoin="round"/>
<path d="M329.39,637.50 L329.24,638.41 L329.02,639.31 L328.57,640.22 L328.86,641.12 L328.61,642.03 L328.10,642.94 L327.56,643.84 L327.64,644.75 L327.87,645.66 L328.12,646.56 L328.89,647.47 L329.38,648.37 L329.62,649.28 L329.77,650.19 L329.87,651.09 L329.65,652.00 L329.07,652.90 L328.43,653.81 L328.23,654.72 L328.56,655.62 L328.51,656.53 L328.31,657.43 L328.38,658.34 L329.09,659.25 L329.30,660.15 L329.30,661.06 L329.50,661.97 L329.94,662.87 L329.64,663.78 L328.74,664.68 L328.40,665.59 L328.13,666.50 L327.82,667.40 L327.93,668.31 L328.38,669.21 L328.84,670.12 L329.08,671.03 L329.07,671.93 L329.10,672.84 L329.40,673.74 L329.70,674.65 L329.78,675.56 L329.32,676.46 L328.96,677.37 L328.46,678.28 L328.36,679.18 L328.35,680.09 L327.83,680.99 L328.28,681.90" stroke="#c2cc40" stroke-width="0.8" fill="none" stroke-linejoin="round"/>
<line x1="322.80" y1="637.70" x2="329.39" y2="637.70" stroke="#c2cc40" stroke-width="0.7" opacity="0.3"/>
<path d="M303.0,639.7 V655.2 M305.4,640.7 V651.2" stroke="#c2cc40" stroke-width="0.6" opacity="0.5" stroke-dasharray="1.2,0.8"/>
<rect x="360.20" y="637.20" width="54.70" height="45.00" fill="#939393"/>
<rect x="360.20" y="637.20" width="54.70" height="45.00" fill="#000" filter="url(#nzI)" opacity="0.13"/>
<path d="M362.4,639.7 V655.2 M364.8,640.7 V651.2" stroke="#c2cc40" stroke-width="0.6" opacity="0.5" stroke-dasharray="1.2,0.8"/>
<rect x="241.20" y="696.10" width="54.80" height="45.30" fill="#939393"/>
<rect x="241.20" y="696.10" width="54.80" height="45.30" fill="#000" filter="url(#nzI)" opacity="0.13"/>
<path d="M263.44,696.40 L263.96,697.31 L263.97,698.22 L263.55,699.14 L263.77,700.05 L264.46,700.96 L264.45,701.87 L263.50,702.79 L263.14,703.70 L263.49,704.61 L263.78,705.52 L262.69,706.43 L262.49,707.35 L263.21,708.26 L263.31,709.17 L262.71,710.08 L262.75,711.00 L263.37,711.91 L263.44,712.82 L262.78,713.73 L262.52,714.64 L262.78,715.56 L262.56,716.47 L261.66,717.38 L261.59,718.29 L261.97,719.21 L262.53,720.12 L262.34,721.03 L262.32,721.94 L262.64,722.86 L262.83,723.77 L262.37,724.68 L261.67,725.59 L261.69,726.50 L261.85,727.42 L261.36,728.33 L260.81,729.24 L261.18,730.15 L262.04,731.07 L261.98,731.98 L261.61,732.89 L261.84,733.80 L262.88,734.71 L262.70,735.63 L261.88,736.54 L261.76,737.45 L261.83,738.36 L261.33,739.28 L260.83,740.19 L261.08,741.10 L279.13,741.10 L279.37,740.19 L279.52,739.28 L279.62,738.36 L279.41,737.45 L278.76,736.54 L278.47,735.63 L278.30,734.71 L278.35,733.80 L278.92,732.89 L278.97,731.98 L279.36,731.07 L279.48,730.15 L279.32,729.24 L279.13,728.33 L279.18,727.42 L279.03,726.50 L278.97,725.59 L278.88,724.68 L278.57,723.77 L278.33,722.86 L278.01,721.94 L278.05,721.03 L278.55,720.12 L278.99,719.21 L279.47,718.29 L279.64,717.38 L279.55,716.47 L279.13,715.56 L279.05,714.64 L279.16,713.73 L279.18,712.82 L279.37,711.91 L279.26,711.00 L278.97,710.08 L278.44,709.17 L278.11,708.26 L278.64,707.35 L279.44,706.43 L279.96,705.52 L279.77,704.61 L279.54,703.70 L278.85,702.79 L278.78,701.87 L278.76,700.96 L278.80,700.05 L278.70,699.14 L278.60,698.22 L278.20,697.31 L278.19,696.40 Z" stroke="none" stroke-width="1.0" fill="#939493" opacity="1.0"/>
<path d="M263.44,696.40 L263.96,697.31 L263.97,698.22 L263.55,699.14 L263.77,700.05 L264.46,700.96 L264.45,701.87 L263.50,702.79 L263.14,703.70 L263.49,704.61 L263.78,705.52 L262.69,706.43 L262.49,707.35 L263.21,708.26 L263.31,709.17 L262.71,710.08 L262.75,711.00 L263.37,711.91 L263.44,712.82 L262.78,713.73 L262.52,714.64 L262.78,715.56 L262.56,716.47 L261.66,717.38 L261.59,718.29 L261.97,719.21 L262.53,720.12 L262.34,721.03 L262.32,721.94 L262.64,722.86 L262.83,723.77 L262.37,724.68 L261.67,725.59 L261.69,726.50 L261.85,727.42 L261.36,728.33 L260.81,729.24 L261.18,730.15 L262.04,731.07 L261.98,731.98 L261.61,732.89 L261.84,733.80 L262.88,734.71 L262.70,735.63 L261.88,736.54 L261.76,737.45 L261.83,738.36 L261.33,739.28 L260.83,740.19 L261.08,741.10" stroke="#c2cc40" stroke-width="0.8" fill="none" stroke-linejoin="round"/>
<path d="M278.19,696.40 L278.20,697.31 L278.60,698.22 L278.70,699.14 L278.80,700.05 L278.76,700.96 L278.78,701.87 L278.85,702.79 L279.54,703.70 L279.77,704.61 L279.96,705.52 L279.44,706.43 L278.64,707.35 L278.11,708.26 L278.44,709.17 L278.97,710.08 L279.26,711.00 L279.37,711.91 L279.18,712.82 L279.16,713.73 L279.05,714.64 L279.13,715.56 L279.55,716.47 L279.64,717.38 L279.47,718.29 L278.99,719.21 L278.55,720.12 L278.05,721.03 L278.01,721.94 L278.33,722.86 L278.57,723.77 L278.88,724.68 L278.97,725.59 L279.03,726.50 L279.18,727.42 L279.13,728.33 L279.32,729.24 L279.48,730.15 L279.36,731.07 L278.97,731.98 L278.92,732.89 L278.35,733.80 L278.30,734.71 L278.47,735.63 L278.76,736.54 L279.41,737.45 L279.62,738.36 L279.52,739.28 L279.37,740.19 L279.13,741.10" stroke="#c2cc40" stroke-width="0.8" fill="none" stroke-linejoin="round"/>
<line x1="263.44" y1="696.60" x2="278.19" y2="696.60" stroke="#c2cc40" stroke-width="0.7" opacity="0.3"/>
<path d="M243.4,698.6 V714.1 M245.8,699.6 V710.1" stroke="#c2cc40" stroke-width="0.6" opacity="0.5" stroke-dasharray="1.2,0.8"/>
<rect x="300.80" y="696.10" width="54.30" height="45.30" fill="#939393"/>
<rect x="300.80" y="696.10" width="54.30" height="45.30" fill="#000" filter="url(#nzI)" opacity="0.13"/>
<path d="M326.73,696.40 L326.90,697.31 L326.78,698.22 L326.49,699.14 L326.74,700.05 L326.71,700.96 L326.69,701.87 L325.96,702.79 L325.65,703.70 L325.35,704.61 L325.44,705.52 L325.43,706.43 L325.30,707.35 L325.09,708.26 L324.73,709.17 L325.01,710.08 L325.29,711.00 L325.82,711.91 L325.85,712.82 L325.32,713.73 L325.66,714.64 L326.09,715.56 L326.23,716.47 L326.16,717.38 L325.54,718.29 L325.26,719.21 L325.03,720.12 L325.00,721.03 L325.02,721.94 L324.70,722.86 L324.26,723.77 L324.18,724.68 L324.89,725.59 L325.57,726.50 L325.96,727.42 L326.10,728.33 L325.40,729.24 L325.58,730.15 L326.15,731.07 L326.94,731.98 L327.15,732.89 L327.21,733.80 L326.73,734.71 L326.40,735.63 L325.96,736.54 L326.03,737.45 L325.99,738.36 L326.21,739.28 L325.79,740.19 L325.27,741.10 L336.25,741.10 L336.29,740.19 L336.00,739.28 L335.85,738.36 L336.03,737.45 L335.87,736.54 L336.89,735.63 L337.63,734.71 L337.64,733.80 L337.24,732.89 L337.14,731.98 L337.06,731.07 L336.72,730.15 L336.42,729.24 L336.33,728.33 L336.27,727.42 L335.74,726.50 L335.58,725.59 L335.41,724.68 L335.57,723.77 L335.92,722.86 L336.43,721.94 L336.87,721.03 L337.10,720.12 L336.99,719.21 L337.01,718.29 L336.83,717.38 L336.72,716.47 L336.42,715.56 L336.40,714.64 L336.13,713.73 L335.87,712.82 L335.73,711.91 L335.88,711.00 L336.16,710.08 L336.22,709.17 L336.30,708.26 L336.33,707.35 L335.92,706.43 L335.94,705.52 L335.80,704.61 L336.23,703.70 L336.60,702.79 L336.37,701.87 L336.31,700.96 L335.51,700.05 L335.46,699.14 L335.46,698.22 L335.55,697.31 L335.87,696.40 Z" stroke="none" stroke-width="1.0" fill="#939493" opacity="1.0"/>
<path d="M326.73,696.40 L326.90,697.31 L326.78,698.22 L326.49,699.14 L326.74,700.05 L326.71,700.96 L326.69,701.87 L325.96,702.79 L325.65,703.70 L325.35,704.61 L325.44,705.52 L325.43,706.43 L325.30,707.35 L325.09,708.26 L324.73,709.17 L325.01,710.08 L325.29,711.00 L325.82,711.91 L325.85,712.82 L325.32,713.73 L325.66,714.64 L326.09,715.56 L326.23,716.47 L326.16,717.38 L325.54,718.29 L325.26,719.21 L325.03,720.12 L325.00,721.03 L325.02,721.94 L324.70,722.86 L324.26,723.77 L324.18,724.68 L324.89,725.59 L325.57,726.50 L325.96,727.42 L326.10,728.33 L325.40,729.24 L325.58,730.15 L326.15,731.07 L326.94,731.98 L327.15,732.89 L327.21,733.80 L326.73,734.71 L326.40,735.63 L325.96,736.54 L326.03,737.45 L325.99,738.36 L326.21,739.28 L325.79,740.19 L325.27,741.10" stroke="#c2cc40" stroke-width="0.8" fill="none" stroke-linejoin="round"/>
<path d="M335.87,696.40 L335.55,697.31 L335.46,698.22 L335.46,699.14 L335.51,700.05 L336.31,700.96 L336.37,701.87 L336.60,702.79 L336.23,703.70 L335.80,704.61 L335.94,705.52 L335.92,706.43 L336.33,707.35 L336.30,708.26 L336.22,709.17 L336.16,710.08 L335.88,711.00 L335.73,711.91 L335.87,712.82 L336.13,713.73 L336.40,714.64 L336.42,715.56 L336.72,716.47 L336.83,717.38 L337.01,718.29 L336.99,719.21 L337.10,720.12 L336.87,721.03 L336.43,721.94 L335.92,722.86 L335.57,723.77 L335.41,724.68 L335.58,725.59 L335.74,726.50 L336.27,727.42 L336.33,728.33 L336.42,729.24 L336.72,730.15 L337.06,731.07 L337.14,731.98 L337.24,732.89 L337.64,733.80 L337.63,734.71 L336.89,735.63 L335.87,736.54 L336.03,737.45 L335.85,738.36 L336.00,739.28 L336.29,740.19 L336.25,741.10" stroke="#c2cc40" stroke-width="0.8" fill="none" stroke-linejoin="round"/>
<line x1="326.73" y1="696.60" x2="335.87" y2="696.60" stroke="#c2cc40" stroke-width="0.7" opacity="0.3"/>
<path d="M303.0,698.6 V714.1 M305.4,699.6 V710.1" stroke="#c2cc40" stroke-width="0.6" opacity="0.5" stroke-dasharray="1.2,0.8"/>
<rect x="360.20" y="696.10" width="54.70" height="45.30" fill="#939393"/>
<rect x="360.20" y="696.10" width="54.70" height="45.30" fill="#000" filter="url(#nzI)" opacity="0.13"/>
<path d="M385.66,696.40 L386.02,697.31 L386.93,698.22 L387.08,699.14 L387.20,700.05 L386.82,700.96 L386.97,701.87 L387.78,702.79 L387.77,703.70 L387.19,704.61 L386.69,705.52 L386.60,706.43 L386.41,707.35 L386.45,708.26 L385.95,709.17 L385.56,710.08 L385.36,711.00 L385.81,711.91 L385.85,712.82 L386.29,713.73 L386.54,714.64 L386.50,715.56 L386.18,716.47 L386.48,717.38 L387.03,718.29 L387.08,719.21 L386.97,720.12 L386.46,721.03 L386.55,721.94 L386.99,722.86 L386.74,723.77 L386.41,724.68 L386.03,725.59 L385.59,726.50 L385.59,727.42 L385.81,728.33 L386.16,729.24 L386.08,730.15 L385.77,731.07 L385.67,731.98 L386.42,732.89 L387.22,733.80 L387.04,734.71 L386.27,735.63 L386.44,736.54 L387.15,737.45 L387.17,738.36 L386.04,739.28 L385.79,740.19 L386.61,741.10 L394.30,741.10 L395.04,740.19 L395.58,739.28 L395.56,738.36 L395.34,737.45 L395.08,736.54 L395.66,735.63 L395.96,734.71 L395.49,733.80 L395.20,732.89 L394.51,731.98 L394.21,731.07 L394.19,730.15 L394.15,729.24 L394.26,728.33 L394.26,727.42 L394.22,726.50 L394.52,725.59 L394.71,724.68 L395.09,723.77 L395.25,722.86 L395.52,721.94 L395.41,721.03 L395.26,720.12 L395.21,719.21 L394.69,718.29 L394.41,717.38 L394.22,716.47 L394.17,715.56 L394.09,714.64 L394.30,713.73 L394.84,712.82 L395.42,711.91 L395.65,711.00 L395.70,710.08 L395.52,709.17 L395.38,708.26 L395.94,707.35 L395.69,706.43 L394.76,705.52 L394.29,704.61 L394.81,703.70 L395.12,702.79 L394.66,701.87 L393.77,700.96 L393.96,700.05 L394.49,699.14 L395.25,698.22 L395.16,697.31 L394.74,696.40 Z" stroke="none" stroke-width="1.0" fill="#939493" opacity="1.0"/>
<path d="M385.66,696.40 L386.02,697.31 L386.93,698.22 L387.08,699.14 L387.20,700.05 L386.82,700.96 L386.97,701.87 L387.78,702.79 L387.77,703.70 L387.19,704.61 L386.69,705.52 L386.60,706.43 L386.41,707.35 L386.45,708.26 L385.95,709.17 L385.56,710.08 L385.36,711.00 L385.81,711.91 L385.85,712.82 L386.29,713.73 L386.54,714.64 L386.50,715.56 L386.18,716.47 L386.48,717.38 L387.03,718.29 L387.08,719.21 L386.97,720.12 L386.46,721.03 L386.55,721.94 L386.99,722.86 L386.74,723.77 L386.41,724.68 L386.03,725.59 L385.59,726.50 L385.59,727.42 L385.81,728.33 L386.16,729.24 L386.08,730.15 L385.77,731.07 L385.67,731.98 L386.42,732.89 L387.22,733.80 L387.04,734.71 L386.27,735.63 L386.44,736.54 L387.15,737.45 L387.17,738.36 L386.04,739.28 L385.79,740.19 L386.61,741.10" stroke="#c2cc40" stroke-width="0.8" fill="none" stroke-linejoin="round"/>
<path d="M394.74,696.40 L395.16,697.31 L395.25,698.22 L394.49,699.14 L393.96,700.05 L393.77,700.96 L394.66,701.87 L395.12,702.79 L394.81,703.70 L394.29,704.61 L394.76,705.52 L395.69,706.43 L395.94,707.35 L395.38,708.26 L395.52,709.17 L395.70,710.08 L395.65,711.00 L395.42,711.91 L394.84,712.82 L394.30,713.73 L394.09,714.64 L394.17,715.56 L394.22,716.47 L394.41,717.38 L394.69,718.29 L395.21,719.21 L395.26,720.12 L395.41,721.03 L395.52,721.94 L395.25,722.86 L395.09,723.77 L394.71,724.68 L394.52,725.59 L394.22,726.50 L394.26,727.42 L394.26,728.33 L394.15,729.24 L394.19,730.15 L394.21,731.07 L394.51,731.98 L395.20,732.89 L395.49,733.80 L395.96,734.71 L395.66,735.63 L395.08,736.54 L395.34,737.45 L395.56,738.36 L395.58,739.28 L395.04,740.19 L394.30,741.10" stroke="#c2cc40" stroke-width="0.8" fill="none" stroke-linejoin="round"/>
<line x1="385.66" y1="696.60" x2="394.74" y2="696.60" stroke="#c2cc40" stroke-width="0.7" opacity="0.3"/>
<path d="M362.4,698.6 V714.1 M364.8,699.6 V710.1" stroke="#c2cc40" stroke-width="0.6" opacity="0.5" stroke-dasharray="1.2,0.8"/>
<rect x="241.20" y="755.60" width="54.80" height="44.60" fill="#939393"/>
<rect x="241.20" y="755.60" width="54.80" height="44.60" fill="#000" filter="url(#nzI)" opacity="0.13"/>
<path d="M260.74,755.90 L260.61,756.82 L260.01,757.73 L260.07,758.65 L260.33,759.57 L260.47,760.48 L260.51,761.40 L260.61,762.32 L260.50,763.23 L261.10,764.15 L261.38,765.07 L261.26,765.98 L261.01,766.90 L260.79,767.82 L260.66,768.73 L260.60,769.65 L260.87,770.57 L260.74,771.48 L260.43,772.40 L259.93,773.32 L260.03,774.23 L260.42,775.15 L261.07,776.07 L261.34,776.98 L261.30,777.90 L261.23,778.82 L261.01,779.73 L260.63,780.65 L260.58,781.57 L260.69,782.48 L260.80,783.40 L260.59,784.32 L260.14,785.23 L259.88,786.15 L259.78,787.07 L259.87,787.98 L260.44,788.90 L261.03,789.82 L261.53,790.73 L261.72,791.65 L261.52,792.57 L261.25,793.48 L261.01,794.40 L260.69,795.32 L260.51,796.23 L260.97,797.15 L260.91,798.07 L260.57,798.98 L260.17,799.90 L276.50,799.90 L276.48,798.98 L276.30,798.07 L276.20,797.15 L276.04,796.23 L275.82,795.32 L275.83,794.40 L276.13,793.48 L276.12,792.57 L276.68,791.65 L276.93,790.73 L277.25,789.82 L277.38,788.90 L277.24,787.98 L276.52,787.07 L276.21,786.15 L276.31,785.23 L276.68,784.32 L276.72,783.40 L276.69,782.48 L276.54,781.57 L276.46,780.65 L276.59,779.73 L276.81,778.82 L276.60,777.90 L277.13,776.98 L277.19,776.07 L277.51,775.15 L277.43,774.23 L277.09,773.32 L276.48,772.40 L276.03,771.48 L275.63,770.57 L275.95,769.65 L276.47,768.73 L277.11,767.82 L277.55,766.90 L277.67,765.98 L277.22,765.07 L276.79,764.15 L276.86,763.23 L276.73,762.32 L276.81,761.40 L276.71,760.48 L276.57,759.57 L276.41,758.65 L276.24,757.73 L276.00,756.82 L276.36,755.90 Z" stroke="none" stroke-width="1.0" fill="#939493" opacity="1.0"/>
<path d="M260.74,755.90 L260.61,756.82 L260.01,757.73 L260.07,758.65 L260.33,759.57 L260.47,760.48 L260.51,761.40 L260.61,762.32 L260.50,763.23 L261.10,764.15 L261.38,765.07 L261.26,765.98 L261.01,766.90 L260.79,767.82 L260.66,768.73 L260.60,769.65 L260.87,770.57 L260.74,771.48 L260.43,772.40 L259.93,773.32 L260.03,774.23 L260.42,775.15 L261.07,776.07 L261.34,776.98 L261.30,777.90 L261.23,778.82 L261.01,779.73 L260.63,780.65 L260.58,781.57 L260.69,782.48 L260.80,783.40 L260.59,784.32 L260.14,785.23 L259.88,786.15 L259.78,787.07 L259.87,787.98 L260.44,788.90 L261.03,789.82 L261.53,790.73 L261.72,791.65 L261.52,792.57 L261.25,793.48 L261.01,794.40 L260.69,795.32 L260.51,796.23 L260.97,797.15 L260.91,798.07 L260.57,798.98 L260.17,799.90" stroke="#c2cc40" stroke-width="0.8" fill="none" stroke-linejoin="round"/>
<path d="M276.36,755.90 L276.00,756.82 L276.24,757.73 L276.41,758.65 L276.57,759.57 L276.71,760.48 L276.81,761.40 L276.73,762.32 L276.86,763.23 L276.79,764.15 L277.22,765.07 L277.67,765.98 L277.55,766.90 L277.11,767.82 L276.47,768.73 L275.95,769.65 L275.63,770.57 L276.03,771.48 L276.48,772.40 L277.09,773.32 L277.43,774.23 L277.51,775.15 L277.19,776.07 L277.13,776.98 L276.60,777.90 L276.81,778.82 L276.59,779.73 L276.46,780.65 L276.54,781.57 L276.69,782.48 L276.72,783.40 L276.68,784.32 L276.31,785.23 L276.21,786.15 L276.52,787.07 L277.24,787.98 L277.38,788.90 L277.25,789.82 L276.93,790.73 L276.68,791.65 L276.12,792.57 L276.13,793.48 L275.83,794.40 L275.82,795.32 L276.04,796.23 L276.20,797.15 L276.30,798.07 L276.48,798.98 L276.50,799.90" stroke="#c2cc40" stroke-width="0.8" fill="none" stroke-linejoin="round"/>
<line x1="260.74" y1="756.10" x2="276.36" y2="756.10" stroke="#c2cc40" stroke-width="0.7" opacity="0.3"/>
<path d="M243.4,758.1 V773.6 M245.8,759.1 V769.6" stroke="#c2cc40" stroke-width="0.6" opacity="0.5" stroke-dasharray="1.2,0.8"/>
<rect x="300.80" y="755.60" width="54.30" height="44.60" fill="#939393"/>
<rect x="300.80" y="755.60" width="54.30" height="44.60" fill="#000" filter="url(#nzI)" opacity="0.13"/>
<path d="M321.99,755.90 L322.15,756.82 L320.77,757.73 L319.13,758.65 L319.72,759.57 L320.58,760.48 L321.46,761.40 L321.08,762.32 L320.41,763.23 L320.96,764.15 L322.41,765.07 L323.13,765.98 L323.73,766.90 L323.18,767.82 L322.66,768.73 L322.80,769.65 L322.66,770.57 L322.39,771.48 L321.73,772.40 L320.90,773.32 L319.78,774.23 L319.29,775.15 L319.63,776.07 L319.59,776.98 L320.25,777.90 L319.63,778.82 L320.57,779.73 L322.20,780.65 L321.80,781.57 L321.36,782.48 L321.65,783.40 L322.99,784.32 L322.94,785.23 L321.85,786.15 L320.88,787.07 L321.72,787.98 L322.65,788.90 L322.68,789.82 L321.01,790.73 L319.29,791.65 L319.16,792.57 L320.64,793.48 L320.60,794.40 L319.40,795.32 L319.73,796.23 L321.99,797.15 L322.77,798.07 L320.91,798.98 L320.16,799.90 L331.64,799.90 L332.64,798.98 L333.94,798.07 L335.43,797.15 L334.84,796.23 L333.63,795.32 L332.26,794.40 L331.93,793.48 L332.42,792.57 L333.16,791.65 L332.59,790.73 L331.59,789.82 L331.94,788.90 L333.04,787.98 L335.00,787.07 L335.37,786.15 L334.92,785.23 L333.45,784.32 L333.90,783.40 L334.72,782.48 L334.61,781.57 L332.84,780.65 L331.67,779.73 L331.45,778.82 L332.64,777.90 L333.48,776.98 L333.72,776.07 L333.69,775.15 L333.97,774.23 L334.41,773.32 L334.65,772.40 L334.28,771.48 L333.68,770.57 L333.69,769.65 L333.68,768.73 L333.14,767.82 L332.71,766.90 L332.55,765.98 L332.85,765.07 L333.27,764.15 L333.50,763.23 L334.06,762.32 L334.21,761.40 L334.38,760.48 L334.50,759.57 L333.79,758.65 L332.57,757.73 L332.70,756.82 L333.41,755.90 Z" stroke="none" stroke-width="1.0" fill="#939493" opacity="1.0"/>
<path d="M321.99,755.90 L322.15,756.82 L320.77,757.73 L319.13,758.65 L319.72,759.57 L320.58,760.48 L321.46,761.40 L321.08,762.32 L320.41,763.23 L320.96,764.15 L322.41,765.07 L323.13,765.98 L323.73,766.90 L323.18,767.82 L322.66,768.73 L322.80,769.65 L322.66,770.57 L322.39,771.48 L321.73,772.40 L320.90,773.32 L319.78,774.23 L319.29,775.15 L319.63,776.07 L319.59,776.98 L320.25,777.90 L319.63,778.82 L320.57,779.73 L322.20,780.65 L321.80,781.57 L321.36,782.48 L321.65,783.40 L322.99,784.32 L322.94,785.23 L321.85,786.15 L320.88,787.07 L321.72,787.98 L322.65,788.90 L322.68,789.82 L321.01,790.73 L319.29,791.65 L319.16,792.57 L320.64,793.48 L320.60,794.40 L319.40,795.32 L319.73,796.23 L321.99,797.15 L322.77,798.07 L320.91,798.98 L320.16,799.90" stroke="#c2cc40" stroke-width="0.8" fill="none" stroke-linejoin="round"/>
<path d="M333.41,755.90 L332.70,756.82 L332.57,757.73 L333.79,758.65 L334.50,759.57 L334.38,760.48 L334.21,761.40 L334.06,762.32 L333.50,763.23 L333.27,764.15 L332.85,765.07 L332.55,765.98 L332.71,766.90 L333.14,767.82 L333.68,768.73 L333.69,769.65 L333.68,770.57 L334.28,771.48 L334.65,772.40 L334.41,773.32 L333.97,774.23 L333.69,775.15 L333.72,776.07 L333.48,776.98 L332.64,777.90 L331.45,778.82 L331.67,779.73 L332.84,780.65 L334.61,781.57 L334.72,782.48 L333.90,783.40 L333.45,784.32 L334.92,785.23 L335.37,786.15 L335.00,787.07 L333.04,787.98 L331.94,788.90 L331.59,789.82 L332.59,790.73 L333.16,791.65 L332.42,792.57 L331.93,793.48 L332.26,794.40 L333.63,795.32 L334.84,796.23 L335.43,797.15 L333.94,798.07 L332.64,798.98 L331.64,799.90" stroke="#c2cc40" stroke-width="0.8" fill="none" stroke-linejoin="round"/>
<line x1="321.99" y1="756.10" x2="333.41" y2="756.10" stroke="#c2cc40" stroke-width="0.7" opacity="0.3"/>
<path d="M303.0,758.1 V773.6 M305.4,759.1 V769.6" stroke="#c2cc40" stroke-width="0.6" opacity="0.5" stroke-dasharray="1.2,0.8"/>
<rect x="360.20" y="755.60" width="54.70" height="44.60" fill="#939393"/>
<rect x="360.20" y="755.60" width="54.70" height="44.60" fill="#000" filter="url(#nzI)" opacity="0.13"/>
<path d="M379.42,755.90 L378.80,756.82 L379.70,757.73 L381.00,758.65 L381.66,759.57 L381.01,760.48 L380.32,761.40 L379.36,762.32 L379.32,763.23 L379.50,764.15 L380.49,765.07 L380.88,765.98 L380.69,766.90 L379.73,767.82 L380.51,768.73 L381.41,769.65 L382.62,770.57 L383.12,771.48 L382.62,772.40 L381.06,773.32 L379.51,774.23 L379.35,775.15 L380.38,776.07 L381.27,776.98 L380.34,777.90 L379.93,778.82 L379.07,779.73 L378.35,780.65 L379.12,781.57 L380.97,782.48 L382.24,783.40 L382.59,784.32 L382.30,785.23 L381.46,786.15 L381.23,787.07 L380.65,787.98 L381.55,788.90 L381.87,789.82 L381.50,790.73 L380.35,791.65 L378.93,792.57 L378.04,793.48 L378.64,794.40 L380.10,795.32 L381.26,796.23 L382.49,797.15 L381.79,798.07 L381.19,798.98 L380.50,799.90 L393.86,799.90 L393.83,798.98 L393.13,798.07 L391.93,797.15 L391.39,796.23 L391.37,795.32 L391.90,794.40 L391.89,793.48 L391.66,792.57 L391.39,791.65 L390.87,790.73 L391.12,789.82 L391.53,788.90 L392.71,787.98 L393.10,787.07 L393.72,786.15 L394.28,785.23 L394.58,784.32 L395.11,783.40 L395.65,782.48 L395.62,781.57 L395.06,780.65 L394.24,779.73 L393.67,778.82 L392.93,777.90 L392.75,776.98 L392.03,776.07 L392.27,775.15 L392.37,774.23 L392.97,773.32 L392.65,772.40 L392.30,771.48 L392.03,770.57 L392.69,769.65 L393.60,768.73 L394.02,767.82 L394.41,766.90 L393.83,765.98 L393.79,765.07 L393.28,764.15 L392.80,763.23 L392.32,762.32 L392.51,761.40 L392.41,760.48 L391.61,759.57 L390.77,758.65 L390.40,757.73 L390.82,756.82 L390.80,755.90 Z" stroke="none" stroke-width="1.0" fill="#939493" opacity="1.0"/>
<path d="M379.42,755.90 L378.80,756.82 L379.70,757.73 L381.00,758.65 L381.66,759.57 L381.01,760.48 L380.32,761.40 L379.36,762.32 L379.32,763.23 L379.50,764.15 L380.49,765.07 L380.88,765.98 L380.69,766.90 L379.73,767.82 L380.51,768.73 L381.41,769.65 L382.62,770.57 L383.12,771.48 L382.62,772.40 L381.06,773.32 L379.51,774.23 L379.35,775.15 L380.38,776.07 L381.27,776.98 L380.34,777.90 L379.93,778.82 L379.07,779.73 L378.35,780.65 L379.12,781.57 L380.97,782.48 L382.24,783.40 L382.59,784.32 L382.30,785.23 L381.46,786.15 L381.23,787.07 L380.65,787.98 L381.55,788.90 L381.87,789.82 L381.50,790.73 L380.35,791.65 L378.93,792.57 L378.04,793.48 L378.64,794.40 L380.10,795.32 L381.26,796.23 L382.49,797.15 L381.79,798.07 L381.19,798.98 L380.50,799.90" stroke="#c2cc40" stroke-width="0.8" fill="none" stroke-linejoin="round"/>
<path d="M390.80,755.90 L390.82,756.82 L390.40,757.73 L390.77,758.65 L391.61,759.57 L392.41,760.48 L392.51,761.40 L392.32,762.32 L392.80,763.23 L393.28,764.15 L393.79,765.07 L393.83,765.98 L394.41,766.90 L394.02,767.82 L393.60,768.73 L392.69,769.65 L392.03,770.57 L392.30,771.48 L392.65,772.40 L392.97,773.32 L392.37,774.23 L392.27,775.15 L392.03,776.07 L392.75,776.98 L392.93,777.90 L393.67,778.82 L394.24,779.73 L395.06,780.65 L395.62,781.57 L395.65,782.48 L395.11,783.40 L394.58,784.32 L394.28,785.23 L393.72,786.15 L393.10,787.07 L392.71,787.98 L391.53,788.90 L391.12,789.82 L390.87,790.73 L391.39,791.65 L391.66,792.57 L391.89,793.48 L391.90,794.40 L391.37,795.32 L391.39,796.23 L391.93,797.15 L393.13,798.07 L393.83,798.98 L393.86,799.90" stroke="#c2cc40" stroke-width="0.8" fill="none" stroke-linejoin="round"/>
<line x1="379.42" y1="756.10" x2="390.80" y2="756.10" stroke="#c2cc40" stroke-width="0.7" opacity="0.3"/>
<path d="M362.4,758.1 V773.6 M364.8,759.1 V769.6" stroke="#c2cc40" stroke-width="0.6" opacity="0.5" stroke-dasharray="1.2,0.8"/>
<line x1="402.20" y1="521.40" x2="413.30" y2="521.40" stroke="#111" stroke-width="0.7" stroke-linecap="butt"/>
<text x="407.75" y="519.80" font-size="3.30" font-weight="bold" text-anchor="middle" fill="#111" stroke="#111" stroke-width="0.18">400 µm</text>
<line x1="402.00" y1="798.10" x2="413.00" y2="798.10" stroke="#111" stroke-width="0.7" stroke-linecap="butt"/>
<text x="407.50" y="796.50" font-size="3.30" font-weight="bold" text-anchor="middle" fill="#111" stroke="#111" stroke-width="0.18">400 µm</text>
<text x="270.20" y="296.90" font-size="8.00" font-weight="bold" text-anchor="middle" fill="#111" stroke="#111" stroke-width="0.18">0h</text>
<text x="328.90" y="296.90" font-size="8.00" font-weight="bold" text-anchor="middle" fill="#111" stroke="#111" stroke-width="0.18">24h</text>
<text x="387.40" y="296.90" font-size="8.00" font-weight="bold" text-anchor="middle" fill="#111" stroke="#111" stroke-width="0.18">48h</text>
<text x="268.00" y="571.20" font-size="8.00" font-weight="bold" text-anchor="middle" fill="#111" stroke="#111" stroke-width="0.18">0h</text>
<text x="327.60" y="571.20" font-size="8.00" font-weight="bold" text-anchor="middle" fill="#111" stroke="#111" stroke-width="0.18">24h</text>
<text x="387.20" y="571.20" font-size="8.00" font-weight="bold" text-anchor="middle" fill="#111" stroke="#111" stroke-width="0.18">48h</text>
<text x="240.80" y="328.40" font-size="8.10" font-weight="bold" text-anchor="end" fill="#111" stroke="#111" stroke-width="0.18">Control</text>
<text x="241.30" y="387.70" font-size="8.10" font-weight="bold" text-anchor="end" fill="#111" stroke="#111" stroke-width="0.18">Sotorasib</text>
<text x="241.00" y="445.80" font-size="8.10" font-weight="bold" text-anchor="end" fill="#111" stroke="#111" stroke-width="0.18">Anlotinib</text>
<text x="238.70" y="504.20" font-size="8.10" font-weight="bold" text-anchor="end" fill="#111" stroke="#111" stroke-width="0.18">Combo</text>
<text x="238.90" y="602.90" font-size="8.10" font-weight="bold" text-anchor="end" fill="#111" stroke="#111" stroke-width="0.18">Control</text>
<text x="239.00" y="662.50" font-size="8.10" font-weight="bold" text-anchor="end" fill="#111" stroke="#111" stroke-width="0.18">Sotorasib</text>
<text x="238.20" y="722.00" font-size="8.10" font-weight="bold" text-anchor="end" fill="#111" stroke="#111" stroke-width="0.18">Anlotinib</text>
<text x="236.20" y="780.70" font-size="8.10" font-weight="bold" text-anchor="end" fill="#111" stroke="#111" stroke-width="0.18">Combo</text>
</svg>
</body></html>
